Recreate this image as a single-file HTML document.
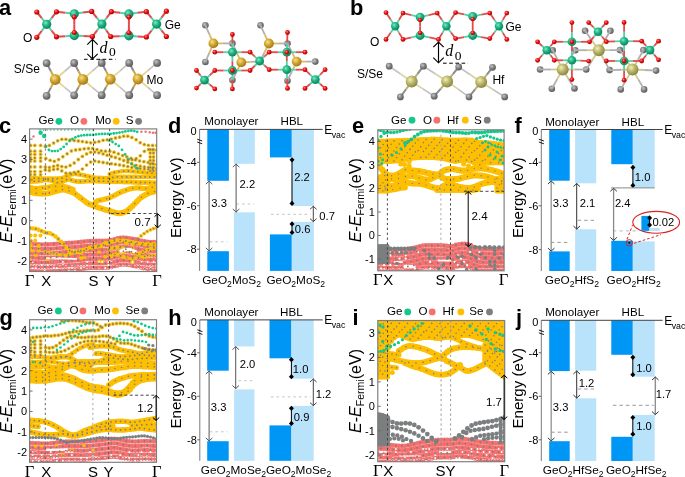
<!DOCTYPE html>
<html><head><meta charset="utf-8"><style>
html,body{margin:0;padding:0;background:#fff;width:685px;height:477px;overflow:hidden}
svg{display:block} text{-webkit-font-smoothing:antialiased} .w{will-change:transform;background:transparent}
</style></head><body>
<div class="w"><svg width="685" height="477" viewBox="0 0 685 477">
<defs>
<radialGradient id="gGe" cx="0.38" cy="0.35" r="0.7"><stop offset="0" stop-color="#7fe8c0"/><stop offset="0.45" stop-color="#1fb585"/><stop offset="1" stop-color="#0d7a58"/></radialGradient>
<radialGradient id="gO" cx="0.38" cy="0.35" r="0.7"><stop offset="0" stop-color="#ff8a8a"/><stop offset="0.45" stop-color="#e8100f"/><stop offset="1" stop-color="#a00000"/></radialGradient>
<radialGradient id="gS" cx="0.38" cy="0.35" r="0.7"><stop offset="0" stop-color="#c8c8c8"/><stop offset="0.45" stop-color="#858585"/><stop offset="1" stop-color="#555"/></radialGradient>
<radialGradient id="gMo" cx="0.38" cy="0.35" r="0.7"><stop offset="0" stop-color="#f8e08a"/><stop offset="0.45" stop-color="#d4a832"/><stop offset="1" stop-color="#9a7418"/></radialGradient>
<radialGradient id="gHf" cx="0.38" cy="0.35" r="0.7"><stop offset="0" stop-color="#f2f0b8"/><stop offset="0.45" stop-color="#bdb86c"/><stop offset="1" stop-color="#858040"/></radialGradient>
</defs>
<text x="-1.00" y="15.20" font-size="21.8" text-anchor="start" font-weight="bold" font-style="normal" fill="#000" font-family="'Liberation Sans', sans-serif" >a</text>
<text x="350.00" y="15.20" font-size="21.8" text-anchor="start" font-weight="bold" font-style="normal" fill="#000" font-family="'Liberation Sans', sans-serif" >b</text>
<text x="-1.00" y="133.30" font-size="21.8" text-anchor="start" font-weight="bold" font-style="normal" fill="#000" font-family="'Liberation Sans', sans-serif" >c</text>
<text x="168.10" y="133.20" font-size="21.8" text-anchor="start" font-weight="bold" font-style="normal" fill="#000" font-family="'Liberation Sans', sans-serif" >d</text>
<text x="352.00" y="133.40" font-size="21.8" text-anchor="start" font-weight="bold" font-style="normal" fill="#000" font-family="'Liberation Sans', sans-serif" >e</text>
<text x="514.60" y="133.00" font-size="21.8" text-anchor="start" font-weight="bold" font-style="normal" fill="#000" font-family="'Liberation Sans', sans-serif" >f</text>
<text x="-0.50" y="324.50" font-size="21.8" text-anchor="start" font-weight="bold" font-style="normal" fill="#000" font-family="'Liberation Sans', sans-serif" >g</text>
<text x="168.30" y="325.10" font-size="21.8" text-anchor="start" font-weight="bold" font-style="normal" fill="#000" font-family="'Liberation Sans', sans-serif" >h</text>
<text x="352.40" y="324.90" font-size="21.8" text-anchor="start" font-weight="bold" font-style="normal" fill="#000" font-family="'Liberation Sans', sans-serif" >i</text>
<text x="515.90" y="324.90" font-size="21.8" text-anchor="start" font-weight="bold" font-style="normal" fill="#000" font-family="'Liberation Sans', sans-serif" >j</text>
<line x1="46.70" y1="24.30" x2="41.75" y2="18.15" stroke="#52d3a6" stroke-width="2.0"/>
<line x1="41.75" y1="18.15" x2="36.80" y2="12.00" stroke="#e44a4a" stroke-width="2.0"/>
<line x1="46.70" y1="24.30" x2="51.60" y2="18.05" stroke="#52d3a6" stroke-width="2.0"/>
<line x1="51.60" y1="18.05" x2="56.50" y2="11.80" stroke="#e44a4a" stroke-width="2.0"/>
<line x1="46.70" y1="24.30" x2="41.75" y2="30.80" stroke="#52d3a6" stroke-width="2.0"/>
<line x1="41.75" y1="30.80" x2="36.80" y2="37.30" stroke="#e44a4a" stroke-width="2.0"/>
<line x1="46.70" y1="24.30" x2="51.60" y2="30.55" stroke="#52d3a6" stroke-width="2.0"/>
<line x1="51.60" y1="30.55" x2="56.50" y2="36.80" stroke="#e44a4a" stroke-width="2.0"/>
<line x1="101.90" y1="24.10" x2="96.80" y2="17.75" stroke="#52d3a6" stroke-width="2.0"/>
<line x1="96.80" y1="17.75" x2="91.70" y2="11.40" stroke="#e44a4a" stroke-width="2.0"/>
<line x1="101.90" y1="24.10" x2="106.65" y2="17.90" stroke="#52d3a6" stroke-width="2.0"/>
<line x1="106.65" y1="17.90" x2="111.40" y2="11.70" stroke="#e44a4a" stroke-width="2.0"/>
<line x1="101.90" y1="24.10" x2="97.15" y2="30.30" stroke="#52d3a6" stroke-width="2.0"/>
<line x1="97.15" y1="30.30" x2="92.40" y2="36.50" stroke="#e44a4a" stroke-width="2.0"/>
<line x1="101.90" y1="24.10" x2="106.30" y2="30.30" stroke="#52d3a6" stroke-width="2.0"/>
<line x1="106.30" y1="30.30" x2="110.70" y2="36.50" stroke="#e44a4a" stroke-width="2.0"/>
<line x1="156.60" y1="24.10" x2="151.50" y2="17.90" stroke="#52d3a6" stroke-width="2.0"/>
<line x1="151.50" y1="17.90" x2="146.40" y2="11.70" stroke="#e44a4a" stroke-width="2.0"/>
<line x1="156.60" y1="24.10" x2="161.50" y2="17.65" stroke="#52d3a6" stroke-width="2.0"/>
<line x1="161.50" y1="17.65" x2="166.40" y2="11.20" stroke="#e44a4a" stroke-width="2.0"/>
<line x1="156.60" y1="24.10" x2="151.50" y2="30.55" stroke="#52d3a6" stroke-width="2.0"/>
<line x1="151.50" y1="30.55" x2="146.40" y2="37.00" stroke="#e44a4a" stroke-width="2.0"/>
<line x1="156.60" y1="24.10" x2="161.50" y2="30.30" stroke="#52d3a6" stroke-width="2.0"/>
<line x1="161.50" y1="30.30" x2="166.40" y2="36.50" stroke="#e44a4a" stroke-width="2.0"/>
<line x1="56.50" y1="11.80" x2="65.40" y2="12.80" stroke="#e44a4a" stroke-width="2.0"/>
<line x1="65.40" y1="12.80" x2="74.30" y2="13.80" stroke="#52d3a6" stroke-width="2.0"/>
<line x1="74.30" y1="13.80" x2="83.00" y2="12.60" stroke="#52d3a6" stroke-width="2.0"/>
<line x1="83.00" y1="12.60" x2="91.70" y2="11.40" stroke="#e44a4a" stroke-width="2.0"/>
<line x1="56.50" y1="36.80" x2="65.40" y2="36.20" stroke="#e44a4a" stroke-width="2.0"/>
<line x1="65.40" y1="36.20" x2="74.30" y2="35.60" stroke="#52d3a6" stroke-width="2.0"/>
<line x1="74.30" y1="35.60" x2="83.35" y2="36.05" stroke="#52d3a6" stroke-width="2.0"/>
<line x1="83.35" y1="36.05" x2="92.40" y2="36.50" stroke="#e44a4a" stroke-width="2.0"/>
<line x1="74.30" y1="17.00" x2="74.30" y2="24.80" stroke="#e44a4a" stroke-width="2.0"/>
<line x1="74.30" y1="24.80" x2="74.30" y2="32.60" stroke="#e44a4a" stroke-width="2.0"/>
<line x1="111.40" y1="11.70" x2="120.15" y2="12.80" stroke="#e44a4a" stroke-width="2.0"/>
<line x1="120.15" y1="12.80" x2="128.90" y2="13.90" stroke="#52d3a6" stroke-width="2.0"/>
<line x1="128.90" y1="13.90" x2="137.65" y2="12.80" stroke="#52d3a6" stroke-width="2.0"/>
<line x1="137.65" y1="12.80" x2="146.40" y2="11.70" stroke="#e44a4a" stroke-width="2.0"/>
<line x1="110.70" y1="36.50" x2="119.80" y2="36.15" stroke="#e44a4a" stroke-width="2.0"/>
<line x1="119.80" y1="36.15" x2="128.90" y2="35.80" stroke="#52d3a6" stroke-width="2.0"/>
<line x1="128.90" y1="35.80" x2="137.65" y2="36.40" stroke="#52d3a6" stroke-width="2.0"/>
<line x1="137.65" y1="36.40" x2="146.40" y2="37.00" stroke="#e44a4a" stroke-width="2.0"/>
<line x1="128.90" y1="17.10" x2="128.90" y2="24.95" stroke="#e44a4a" stroke-width="2.0"/>
<line x1="128.90" y1="24.95" x2="128.90" y2="32.80" stroke="#e44a4a" stroke-width="2.0"/>
<circle cx="74.30" cy="13.80" r="4.60" fill="url(#gGe)" />
<circle cx="74.30" cy="35.60" r="4.60" fill="url(#gGe)" />
<circle cx="74.30" cy="17.00" r="2.50" fill="url(#gO)" />
<circle cx="74.30" cy="32.60" r="2.50" fill="url(#gO)" />
<circle cx="128.90" cy="13.90" r="4.60" fill="url(#gGe)" />
<circle cx="128.90" cy="35.80" r="4.60" fill="url(#gGe)" />
<circle cx="128.90" cy="17.10" r="2.50" fill="url(#gO)" />
<circle cx="128.90" cy="32.80" r="2.50" fill="url(#gO)" />
<circle cx="46.70" cy="24.30" r="4.60" fill="url(#gGe)" />
<circle cx="101.90" cy="24.10" r="4.60" fill="url(#gGe)" />
<circle cx="156.60" cy="24.10" r="4.60" fill="url(#gGe)" />
<circle cx="36.80" cy="12.00" r="2.60" fill="url(#gO)" />
<circle cx="56.50" cy="11.80" r="2.60" fill="url(#gO)" />
<circle cx="91.70" cy="11.40" r="2.60" fill="url(#gO)" />
<circle cx="111.40" cy="11.70" r="2.60" fill="url(#gO)" />
<circle cx="146.40" cy="11.70" r="2.60" fill="url(#gO)" />
<circle cx="166.40" cy="11.20" r="2.60" fill="url(#gO)" />
<circle cx="36.80" cy="37.30" r="2.60" fill="url(#gO)" />
<circle cx="56.50" cy="36.80" r="2.60" fill="url(#gO)" />
<circle cx="92.40" cy="36.50" r="2.60" fill="url(#gO)" />
<circle cx="110.70" cy="36.50" r="2.60" fill="url(#gO)" />
<circle cx="146.40" cy="37.00" r="2.60" fill="url(#gO)" />
<circle cx="166.40" cy="36.50" r="2.60" fill="url(#gO)" />
<text x="23.00" y="41.60" font-size="12" text-anchor="start" font-weight="normal" font-style="normal" fill="#000" font-family="'Liberation Sans', sans-serif" >O</text>
<text x="164.70" y="29.00" font-size="12" text-anchor="start" font-weight="normal" font-style="normal" fill="#000" font-family="'Liberation Sans', sans-serif" >Ge</text>
<line x1="55.20" y1="79.50" x2="50.90" y2="71.30" stroke="#d4a838" stroke-width="2.0"/>
<line x1="50.90" y1="71.30" x2="46.60" y2="63.10" stroke="#8c8c8c" stroke-width="2.0"/>
<line x1="55.20" y1="79.50" x2="50.90" y2="87.65" stroke="#d4a838" stroke-width="2.0"/>
<line x1="50.90" y1="87.65" x2="46.60" y2="95.80" stroke="#8c8c8c" stroke-width="2.0"/>
<line x1="55.20" y1="79.50" x2="64.70" y2="71.25" stroke="#e6d48a" stroke-width="1.7"/>
<line x1="64.70" y1="71.25" x2="74.20" y2="63.00" stroke="#c4c4c4" stroke-width="1.7"/>
<line x1="55.20" y1="79.50" x2="64.70" y2="87.40" stroke="#e6d48a" stroke-width="1.7"/>
<line x1="64.70" y1="87.40" x2="74.20" y2="95.30" stroke="#c4c4c4" stroke-width="1.7"/>
<line x1="82.80" y1="79.40" x2="78.50" y2="71.20" stroke="#d4a838" stroke-width="2.0"/>
<line x1="78.50" y1="71.20" x2="74.20" y2="63.00" stroke="#8c8c8c" stroke-width="2.0"/>
<line x1="82.80" y1="79.40" x2="78.50" y2="87.35" stroke="#d4a838" stroke-width="2.0"/>
<line x1="78.50" y1="87.35" x2="74.20" y2="95.30" stroke="#8c8c8c" stroke-width="2.0"/>
<line x1="82.80" y1="79.40" x2="92.25" y2="71.15" stroke="#e6d48a" stroke-width="1.7"/>
<line x1="92.25" y1="71.15" x2="101.70" y2="62.90" stroke="#c4c4c4" stroke-width="1.7"/>
<line x1="82.80" y1="79.40" x2="92.25" y2="87.30" stroke="#e6d48a" stroke-width="1.7"/>
<line x1="92.25" y1="87.30" x2="101.70" y2="95.20" stroke="#c4c4c4" stroke-width="1.7"/>
<line x1="110.30" y1="79.20" x2="106.00" y2="71.05" stroke="#d4a838" stroke-width="2.0"/>
<line x1="106.00" y1="71.05" x2="101.70" y2="62.90" stroke="#8c8c8c" stroke-width="2.0"/>
<line x1="110.30" y1="79.20" x2="106.00" y2="87.20" stroke="#d4a838" stroke-width="2.0"/>
<line x1="106.00" y1="87.20" x2="101.70" y2="95.20" stroke="#8c8c8c" stroke-width="2.0"/>
<line x1="110.30" y1="79.20" x2="119.75" y2="71.05" stroke="#e6d48a" stroke-width="1.7"/>
<line x1="119.75" y1="71.05" x2="129.20" y2="62.90" stroke="#c4c4c4" stroke-width="1.7"/>
<line x1="110.30" y1="79.20" x2="119.75" y2="87.20" stroke="#e6d48a" stroke-width="1.7"/>
<line x1="119.75" y1="87.20" x2="129.20" y2="95.20" stroke="#c4c4c4" stroke-width="1.7"/>
<line x1="138.00" y1="79.00" x2="133.60" y2="70.95" stroke="#d4a838" stroke-width="2.0"/>
<line x1="133.60" y1="70.95" x2="129.20" y2="62.90" stroke="#8c8c8c" stroke-width="2.0"/>
<line x1="138.00" y1="79.00" x2="133.60" y2="87.10" stroke="#d4a838" stroke-width="2.0"/>
<line x1="133.60" y1="87.10" x2="129.20" y2="95.20" stroke="#8c8c8c" stroke-width="2.0"/>
<line x1="138.00" y1="79.00" x2="147.55" y2="70.95" stroke="#e6d48a" stroke-width="1.7"/>
<line x1="147.55" y1="70.95" x2="157.10" y2="62.90" stroke="#c4c4c4" stroke-width="1.7"/>
<line x1="138.00" y1="79.00" x2="147.55" y2="87.10" stroke="#e6d48a" stroke-width="1.7"/>
<line x1="147.55" y1="87.10" x2="157.10" y2="95.20" stroke="#c4c4c4" stroke-width="1.7"/>
<circle cx="46.60" cy="63.10" r="3.90" fill="url(#gS)" />
<circle cx="74.20" cy="63.00" r="3.90" fill="url(#gS)" />
<circle cx="101.70" cy="62.90" r="3.90" fill="url(#gS)" />
<circle cx="129.20" cy="62.90" r="3.90" fill="url(#gS)" />
<circle cx="157.10" cy="62.90" r="3.90" fill="url(#gS)" />
<circle cx="46.60" cy="95.80" r="3.90" fill="url(#gS)" />
<circle cx="74.20" cy="95.30" r="3.90" fill="url(#gS)" />
<circle cx="101.70" cy="95.20" r="3.90" fill="url(#gS)" />
<circle cx="129.20" cy="95.20" r="3.90" fill="url(#gS)" />
<circle cx="157.10" cy="95.20" r="3.90" fill="url(#gS)" />
<circle cx="55.20" cy="79.50" r="5.40" fill="url(#gMo)" />
<circle cx="82.80" cy="79.40" r="5.40" fill="url(#gMo)" />
<circle cx="110.30" cy="79.20" r="5.40" fill="url(#gMo)" />
<circle cx="138.00" cy="79.00" r="5.40" fill="url(#gMo)" />
<text x="13.80" y="72.80" font-size="12" text-anchor="start" font-weight="normal" font-style="normal" fill="#000" font-family="'Liberation Sans', sans-serif" >S/Se</text>
<text x="146.60" y="84.20" font-size="12" text-anchor="start" font-weight="normal" font-style="normal" fill="#000" font-family="'Liberation Sans', sans-serif" >Mo</text>
<line x1="92.50" y1="39.40" x2="92.50" y2="59.00" stroke="#000" stroke-width="1.15" />
<polyline points="87.30,44.60 92.50,39.40 97.70,44.60" fill="none" stroke="#000" stroke-width="1.15"/>
<polyline points="87.30,53.80 92.50,59.00 97.70,53.80" fill="none" stroke="#000" stroke-width="1.15"/>
<line x1="84.00" y1="59.30" x2="115.50" y2="59.30" stroke="#000" stroke-width="1.0" stroke-dasharray="3.6,2.6"/>
<text x="99.60" y="52.60" font-size="16" text-anchor="start" font-weight="normal" font-style="italic" fill="#000" font-family="'Liberation Serif', serif" >d</text>
<text x="109.10" y="56.30" font-size="13.5" text-anchor="start" font-weight="normal" font-style="normal" fill="#000" font-family="'Liberation Serif', serif" >0</text>
<circle cx="205.40" cy="25.30" r="3.30" fill="url(#gS)" />
<circle cx="205.40" cy="62.00" r="3.30" fill="url(#gS)" />
<circle cx="260.50" cy="25.30" r="3.30" fill="url(#gS)" />
<circle cx="315.30" cy="61.60" r="3.30" fill="url(#gS)" />
<circle cx="232.40" cy="43.40" r="3.30" fill="url(#gS)" />
<circle cx="232.40" cy="80.10" r="3.30" fill="url(#gS)" />
<circle cx="287.50" cy="43.50" r="3.30" fill="url(#gS)" />
<circle cx="287.50" cy="80.70" r="3.30" fill="url(#gS)" />
<circle cx="260.10" cy="61.50" r="3.30" fill="url(#gS)" />
<line x1="213.40" y1="43.40" x2="209.40" y2="34.35" stroke="#ddbb5a" stroke-width="1.8"/>
<line x1="209.40" y1="34.35" x2="205.40" y2="25.30" stroke="#b0b0b0" stroke-width="1.8"/>
<line x1="213.40" y1="43.40" x2="209.40" y2="52.70" stroke="#ddbb5a" stroke-width="1.8"/>
<line x1="209.40" y1="52.70" x2="205.40" y2="62.00" stroke="#b0b0b0" stroke-width="1.8"/>
<line x1="213.40" y1="43.40" x2="222.90" y2="43.40" stroke="#ddbb5a" stroke-width="1.8"/>
<line x1="222.90" y1="43.40" x2="232.40" y2="43.40" stroke="#b0b0b0" stroke-width="1.8"/>
<line x1="241.30" y1="62.40" x2="236.85" y2="52.90" stroke="#ddbb5a" stroke-width="1.8"/>
<line x1="236.85" y1="52.90" x2="232.40" y2="43.40" stroke="#b0b0b0" stroke-width="1.8"/>
<line x1="241.30" y1="62.40" x2="236.85" y2="71.25" stroke="#ddbb5a" stroke-width="1.8"/>
<line x1="236.85" y1="71.25" x2="232.40" y2="80.10" stroke="#b0b0b0" stroke-width="1.8"/>
<line x1="241.30" y1="62.40" x2="250.70" y2="61.95" stroke="#ddbb5a" stroke-width="1.8"/>
<line x1="250.70" y1="61.95" x2="260.10" y2="61.50" stroke="#b0b0b0" stroke-width="1.8"/>
<line x1="268.90" y1="43.50" x2="264.70" y2="34.40" stroke="#ddbb5a" stroke-width="1.8"/>
<line x1="264.70" y1="34.40" x2="260.50" y2="25.30" stroke="#b0b0b0" stroke-width="1.8"/>
<line x1="268.90" y1="43.50" x2="278.20" y2="43.50" stroke="#ddbb5a" stroke-width="1.8"/>
<line x1="278.20" y1="43.50" x2="287.50" y2="43.50" stroke="#b0b0b0" stroke-width="1.8"/>
<line x1="268.90" y1="43.50" x2="264.50" y2="52.50" stroke="#ddbb5a" stroke-width="1.8"/>
<line x1="264.50" y1="52.50" x2="260.10" y2="61.50" stroke="#b0b0b0" stroke-width="1.8"/>
<line x1="296.70" y1="61.60" x2="306.00" y2="61.60" stroke="#ddbb5a" stroke-width="1.8"/>
<line x1="306.00" y1="61.60" x2="315.30" y2="61.60" stroke="#b0b0b0" stroke-width="1.8"/>
<line x1="296.70" y1="61.60" x2="292.10" y2="52.55" stroke="#ddbb5a" stroke-width="1.8"/>
<line x1="292.10" y1="52.55" x2="287.50" y2="43.50" stroke="#b0b0b0" stroke-width="1.8"/>
<line x1="296.70" y1="61.60" x2="292.10" y2="71.15" stroke="#ddbb5a" stroke-width="1.8"/>
<line x1="292.10" y1="71.15" x2="287.50" y2="80.70" stroke="#b0b0b0" stroke-width="1.8"/>
<line x1="232.40" y1="52.20" x2="232.40" y2="43.35" stroke="#52d3a6" stroke-width="1.8"/>
<line x1="232.40" y1="43.35" x2="232.40" y2="34.50" stroke="#e44a4a" stroke-width="1.8"/>
<line x1="232.40" y1="52.20" x2="223.60" y2="52.20" stroke="#52d3a6" stroke-width="1.8"/>
<line x1="223.60" y1="52.20" x2="214.80" y2="52.20" stroke="#e44a4a" stroke-width="1.8"/>
<line x1="232.40" y1="52.20" x2="241.25" y2="52.20" stroke="#52d3a6" stroke-width="1.8"/>
<line x1="241.25" y1="52.20" x2="250.10" y2="52.20" stroke="#e44a4a" stroke-width="1.8"/>
<line x1="232.40" y1="52.20" x2="232.40" y2="61.35" stroke="#52d3a6" stroke-width="1.8"/>
<line x1="232.40" y1="61.35" x2="232.40" y2="70.50" stroke="#e44a4a" stroke-width="1.8"/>
<line x1="232.40" y1="70.50" x2="223.60" y2="70.50" stroke="#52d3a6" stroke-width="1.8"/>
<line x1="223.60" y1="70.50" x2="214.80" y2="70.50" stroke="#e44a4a" stroke-width="1.8"/>
<line x1="232.40" y1="70.50" x2="241.25" y2="70.50" stroke="#52d3a6" stroke-width="1.8"/>
<line x1="241.25" y1="70.50" x2="250.10" y2="70.50" stroke="#e44a4a" stroke-width="1.8"/>
<line x1="232.40" y1="70.50" x2="232.40" y2="79.70" stroke="#52d3a6" stroke-width="1.8"/>
<line x1="232.40" y1="79.70" x2="232.40" y2="88.90" stroke="#e44a4a" stroke-width="1.8"/>
<line x1="259.60" y1="61.00" x2="254.85" y2="56.60" stroke="#52d3a6" stroke-width="1.8"/>
<line x1="254.85" y1="56.60" x2="250.10" y2="52.20" stroke="#e44a4a" stroke-width="1.8"/>
<line x1="259.60" y1="61.00" x2="254.85" y2="65.75" stroke="#52d3a6" stroke-width="1.8"/>
<line x1="254.85" y1="65.75" x2="250.10" y2="70.50" stroke="#e44a4a" stroke-width="1.8"/>
<line x1="259.60" y1="61.00" x2="264.40" y2="56.60" stroke="#52d3a6" stroke-width="1.8"/>
<line x1="264.40" y1="56.60" x2="269.20" y2="52.20" stroke="#e44a4a" stroke-width="1.8"/>
<line x1="259.60" y1="61.00" x2="264.40" y2="65.35" stroke="#52d3a6" stroke-width="1.8"/>
<line x1="264.40" y1="65.35" x2="269.20" y2="69.70" stroke="#e44a4a" stroke-width="1.8"/>
<line x1="286.80" y1="52.20" x2="287.15" y2="42.35" stroke="#52d3a6" stroke-width="1.8"/>
<line x1="287.15" y1="42.35" x2="287.50" y2="32.50" stroke="#e44a4a" stroke-width="1.8"/>
<line x1="286.80" y1="52.20" x2="278.00" y2="52.20" stroke="#52d3a6" stroke-width="1.8"/>
<line x1="278.00" y1="52.20" x2="269.20" y2="52.20" stroke="#e44a4a" stroke-width="1.8"/>
<line x1="286.80" y1="52.20" x2="295.90" y2="52.20" stroke="#52d3a6" stroke-width="1.8"/>
<line x1="295.90" y1="52.20" x2="305.00" y2="52.20" stroke="#e44a4a" stroke-width="1.8"/>
<line x1="286.80" y1="69.70" x2="278.00" y2="69.70" stroke="#52d3a6" stroke-width="1.8"/>
<line x1="278.00" y1="69.70" x2="269.20" y2="69.70" stroke="#e44a4a" stroke-width="1.8"/>
<line x1="286.80" y1="69.70" x2="295.90" y2="69.70" stroke="#52d3a6" stroke-width="1.8"/>
<line x1="295.90" y1="69.70" x2="305.00" y2="69.70" stroke="#e44a4a" stroke-width="1.8"/>
<line x1="286.80" y1="69.70" x2="287.15" y2="79.05" stroke="#52d3a6" stroke-width="1.8"/>
<line x1="287.15" y1="79.05" x2="287.50" y2="88.40" stroke="#e44a4a" stroke-width="1.8"/>
<line x1="286.80" y1="69.70" x2="286.80" y2="60.95" stroke="#52d3a6" stroke-width="1.8"/>
<line x1="286.80" y1="60.95" x2="286.80" y2="52.20" stroke="#e44a4a" stroke-width="1.8"/>
<line x1="204.50" y1="80.10" x2="209.65" y2="75.30" stroke="#52d3a6" stroke-width="1.8"/>
<line x1="209.65" y1="75.30" x2="214.80" y2="70.50" stroke="#e44a4a" stroke-width="1.8"/>
<line x1="204.50" y1="80.10" x2="200.50" y2="75.30" stroke="#52d3a6" stroke-width="1.8"/>
<line x1="200.50" y1="75.30" x2="196.50" y2="70.50" stroke="#e44a4a" stroke-width="1.8"/>
<line x1="204.50" y1="80.10" x2="209.65" y2="84.50" stroke="#52d3a6" stroke-width="1.8"/>
<line x1="209.65" y1="84.50" x2="214.80" y2="88.90" stroke="#e44a4a" stroke-width="1.8"/>
<line x1="204.50" y1="80.10" x2="200.50" y2="84.10" stroke="#52d3a6" stroke-width="1.8"/>
<line x1="200.50" y1="84.10" x2="196.50" y2="88.10" stroke="#e44a4a" stroke-width="1.8"/>
<line x1="315.30" y1="79.60" x2="310.15" y2="74.65" stroke="#52d3a6" stroke-width="1.8"/>
<line x1="310.15" y1="74.65" x2="305.00" y2="69.70" stroke="#e44a4a" stroke-width="1.8"/>
<line x1="315.30" y1="79.60" x2="320.20" y2="74.65" stroke="#52d3a6" stroke-width="1.8"/>
<line x1="320.20" y1="74.65" x2="325.10" y2="69.70" stroke="#e44a4a" stroke-width="1.8"/>
<line x1="315.30" y1="79.60" x2="320.20" y2="84.00" stroke="#52d3a6" stroke-width="1.8"/>
<line x1="320.20" y1="84.00" x2="325.10" y2="88.40" stroke="#e44a4a" stroke-width="1.8"/>
<line x1="315.30" y1="79.60" x2="310.15" y2="84.00" stroke="#52d3a6" stroke-width="1.8"/>
<line x1="310.15" y1="84.00" x2="305.00" y2="88.40" stroke="#e44a4a" stroke-width="1.8"/>
<circle cx="213.40" cy="43.40" r="4.90" fill="url(#gMo)" />
<circle cx="241.30" cy="62.40" r="4.90" fill="url(#gMo)" />
<circle cx="268.90" cy="43.50" r="4.90" fill="url(#gMo)" />
<circle cx="296.70" cy="61.60" r="4.90" fill="url(#gMo)" />
<circle cx="232.40" cy="52.20" r="4.40" fill="url(#gGe)" />
<circle cx="232.40" cy="70.50" r="4.40" fill="url(#gGe)" />
<circle cx="259.60" cy="61.00" r="4.40" fill="url(#gGe)" />
<circle cx="286.80" cy="52.20" r="4.40" fill="url(#gGe)" />
<circle cx="286.80" cy="69.70" r="4.40" fill="url(#gGe)" />
<circle cx="204.50" cy="80.10" r="4.40" fill="url(#gGe)" />
<circle cx="315.30" cy="79.60" r="4.40" fill="url(#gGe)" />
<circle cx="232.40" cy="34.50" r="2.40" fill="url(#gO)" />
<circle cx="214.80" cy="52.20" r="2.40" fill="url(#gO)" />
<circle cx="250.10" cy="52.20" r="2.40" fill="url(#gO)" />
<circle cx="214.80" cy="70.50" r="2.40" fill="url(#gO)" />
<circle cx="250.10" cy="70.50" r="2.40" fill="url(#gO)" />
<circle cx="232.40" cy="88.90" r="2.40" fill="url(#gO)" />
<circle cx="287.50" cy="32.50" r="2.40" fill="url(#gO)" />
<circle cx="269.20" cy="52.20" r="2.40" fill="url(#gO)" />
<circle cx="305.00" cy="52.20" r="2.40" fill="url(#gO)" />
<circle cx="269.20" cy="69.70" r="2.40" fill="url(#gO)" />
<circle cx="305.00" cy="69.70" r="2.40" fill="url(#gO)" />
<circle cx="287.50" cy="88.40" r="2.40" fill="url(#gO)" />
<circle cx="196.50" cy="70.50" r="2.40" fill="url(#gO)" />
<circle cx="214.80" cy="88.90" r="2.40" fill="url(#gO)" />
<circle cx="196.50" cy="88.10" r="2.40" fill="url(#gO)" />
<circle cx="325.10" cy="69.70" r="2.40" fill="url(#gO)" />
<circle cx="325.10" cy="88.40" r="2.40" fill="url(#gO)" />
<circle cx="305.00" cy="88.40" r="2.40" fill="url(#gO)" />
<circle cx="232.40" cy="70.50" r="2.40" fill="url(#gO)" />
<circle cx="286.80" cy="52.20" r="2.40" fill="url(#gO)" />
<line x1="395.20" y1="26.30" x2="390.60" y2="19.45" stroke="#52d3a6" stroke-width="1.8"/>
<line x1="390.60" y1="19.45" x2="386.00" y2="12.60" stroke="#e44a4a" stroke-width="1.8"/>
<line x1="395.20" y1="26.30" x2="399.10" y2="19.70" stroke="#52d3a6" stroke-width="1.8"/>
<line x1="399.10" y1="19.70" x2="403.00" y2="13.10" stroke="#e44a4a" stroke-width="1.8"/>
<line x1="395.20" y1="26.30" x2="390.60" y2="32.85" stroke="#52d3a6" stroke-width="1.8"/>
<line x1="390.60" y1="32.85" x2="386.00" y2="39.40" stroke="#e44a4a" stroke-width="1.8"/>
<line x1="395.20" y1="26.30" x2="399.10" y2="32.85" stroke="#52d3a6" stroke-width="1.8"/>
<line x1="399.10" y1="32.85" x2="403.00" y2="39.40" stroke="#e44a4a" stroke-width="1.8"/>
<line x1="446.40" y1="26.30" x2="441.80" y2="19.70" stroke="#52d3a6" stroke-width="1.8"/>
<line x1="441.80" y1="19.70" x2="437.20" y2="13.10" stroke="#e44a4a" stroke-width="1.8"/>
<line x1="446.40" y1="26.30" x2="451.00" y2="19.45" stroke="#52d3a6" stroke-width="1.8"/>
<line x1="451.00" y1="19.45" x2="455.60" y2="12.60" stroke="#e44a4a" stroke-width="1.8"/>
<line x1="446.40" y1="26.30" x2="442.45" y2="32.85" stroke="#52d3a6" stroke-width="1.8"/>
<line x1="442.45" y1="32.85" x2="438.50" y2="39.40" stroke="#e44a4a" stroke-width="1.8"/>
<line x1="446.40" y1="26.30" x2="451.00" y2="32.45" stroke="#52d3a6" stroke-width="1.8"/>
<line x1="451.00" y1="32.45" x2="455.60" y2="38.60" stroke="#e44a4a" stroke-width="1.8"/>
<line x1="499.00" y1="26.30" x2="494.40" y2="19.70" stroke="#52d3a6" stroke-width="1.8"/>
<line x1="494.40" y1="19.70" x2="489.80" y2="13.10" stroke="#e44a4a" stroke-width="1.8"/>
<line x1="499.00" y1="26.30" x2="502.90" y2="19.70" stroke="#52d3a6" stroke-width="1.8"/>
<line x1="502.90" y1="19.70" x2="506.80" y2="13.10" stroke="#e44a4a" stroke-width="1.8"/>
<line x1="499.00" y1="26.30" x2="494.40" y2="32.45" stroke="#52d3a6" stroke-width="1.8"/>
<line x1="494.40" y1="32.45" x2="489.80" y2="38.60" stroke="#e44a4a" stroke-width="1.8"/>
<line x1="499.00" y1="26.30" x2="502.90" y2="32.85" stroke="#52d3a6" stroke-width="1.8"/>
<line x1="502.90" y1="32.85" x2="506.80" y2="39.40" stroke="#e44a4a" stroke-width="1.8"/>
<line x1="403.00" y1="13.10" x2="411.55" y2="15.10" stroke="#e44a4a" stroke-width="1.8"/>
<line x1="411.55" y1="15.10" x2="420.10" y2="17.10" stroke="#52d3a6" stroke-width="1.8"/>
<line x1="420.10" y1="17.10" x2="428.65" y2="15.10" stroke="#52d3a6" stroke-width="1.8"/>
<line x1="428.65" y1="15.10" x2="437.20" y2="13.10" stroke="#e44a4a" stroke-width="1.8"/>
<line x1="403.00" y1="39.40" x2="411.55" y2="37.45" stroke="#e44a4a" stroke-width="1.8"/>
<line x1="411.55" y1="37.45" x2="420.10" y2="35.50" stroke="#52d3a6" stroke-width="1.8"/>
<line x1="420.10" y1="35.50" x2="429.30" y2="37.45" stroke="#52d3a6" stroke-width="1.8"/>
<line x1="429.30" y1="37.45" x2="438.50" y2="39.40" stroke="#e44a4a" stroke-width="1.8"/>
<line x1="420.10" y1="19.90" x2="420.10" y2="26.40" stroke="#e44a4a" stroke-width="1.8"/>
<line x1="420.10" y1="26.40" x2="420.10" y2="32.90" stroke="#e44a4a" stroke-width="1.8"/>
<line x1="455.60" y1="12.60" x2="464.15" y2="14.45" stroke="#e44a4a" stroke-width="1.8"/>
<line x1="464.15" y1="14.45" x2="472.70" y2="16.30" stroke="#52d3a6" stroke-width="1.8"/>
<line x1="472.70" y1="16.30" x2="481.25" y2="14.70" stroke="#52d3a6" stroke-width="1.8"/>
<line x1="481.25" y1="14.70" x2="489.80" y2="13.10" stroke="#e44a4a" stroke-width="1.8"/>
<line x1="455.60" y1="38.60" x2="464.15" y2="37.05" stroke="#e44a4a" stroke-width="1.8"/>
<line x1="464.15" y1="37.05" x2="472.70" y2="35.50" stroke="#52d3a6" stroke-width="1.8"/>
<line x1="472.70" y1="35.50" x2="481.25" y2="37.05" stroke="#52d3a6" stroke-width="1.8"/>
<line x1="481.25" y1="37.05" x2="489.80" y2="38.60" stroke="#e44a4a" stroke-width="1.8"/>
<line x1="472.70" y1="19.10" x2="472.70" y2="26.00" stroke="#e44a4a" stroke-width="1.8"/>
<line x1="472.70" y1="26.00" x2="472.70" y2="32.90" stroke="#e44a4a" stroke-width="1.8"/>
<circle cx="420.10" cy="17.10" r="4.40" fill="url(#gGe)" />
<circle cx="420.10" cy="35.50" r="4.40" fill="url(#gGe)" />
<circle cx="420.10" cy="19.90" r="2.20" fill="url(#gO)" />
<circle cx="420.10" cy="32.90" r="2.20" fill="url(#gO)" />
<circle cx="472.70" cy="16.30" r="4.40" fill="url(#gGe)" />
<circle cx="472.70" cy="35.50" r="4.40" fill="url(#gGe)" />
<circle cx="472.70" cy="19.10" r="2.20" fill="url(#gO)" />
<circle cx="472.70" cy="32.90" r="2.20" fill="url(#gO)" />
<circle cx="395.20" cy="26.30" r="4.20" fill="url(#gGe)" />
<circle cx="446.40" cy="26.30" r="4.20" fill="url(#gGe)" />
<circle cx="499.00" cy="26.30" r="4.20" fill="url(#gGe)" />
<circle cx="386.00" cy="12.60" r="2.40" fill="url(#gO)" />
<circle cx="403.00" cy="13.10" r="2.40" fill="url(#gO)" />
<circle cx="437.20" cy="13.10" r="2.40" fill="url(#gO)" />
<circle cx="455.60" cy="12.60" r="2.40" fill="url(#gO)" />
<circle cx="489.80" cy="13.10" r="2.40" fill="url(#gO)" />
<circle cx="506.80" cy="13.10" r="2.40" fill="url(#gO)" />
<circle cx="386.00" cy="39.40" r="2.40" fill="url(#gO)" />
<circle cx="403.00" cy="39.40" r="2.40" fill="url(#gO)" />
<circle cx="438.50" cy="39.40" r="2.40" fill="url(#gO)" />
<circle cx="455.60" cy="38.60" r="2.40" fill="url(#gO)" />
<circle cx="489.80" cy="38.60" r="2.40" fill="url(#gO)" />
<circle cx="506.80" cy="39.40" r="2.40" fill="url(#gO)" />
<text x="370.00" y="46.20" font-size="12" text-anchor="start" font-weight="normal" font-style="normal" fill="#000" font-family="'Liberation Sans', sans-serif" >O</text>
<text x="505.50" y="30.50" font-size="12" text-anchor="start" font-weight="normal" font-style="normal" fill="#000" font-family="'Liberation Sans', sans-serif" >Ge</text>
<line x1="411.70" y1="81.60" x2="400.45" y2="73.90" stroke="#d6d3a0" stroke-width="1.7"/>
<line x1="400.45" y1="73.90" x2="389.20" y2="66.20" stroke="#c2c2c2" stroke-width="1.7"/>
<line x1="411.70" y1="81.60" x2="417.55" y2="73.90" stroke="#b9b46a" stroke-width="2.0"/>
<line x1="417.55" y1="73.90" x2="423.40" y2="66.20" stroke="#8c8c8c" stroke-width="2.0"/>
<line x1="411.70" y1="81.60" x2="406.05" y2="89.25" stroke="#b9b46a" stroke-width="2.0"/>
<line x1="406.05" y1="89.25" x2="400.40" y2="96.90" stroke="#8c8c8c" stroke-width="2.0"/>
<line x1="411.70" y1="81.60" x2="422.95" y2="88.90" stroke="#d6d3a0" stroke-width="1.7"/>
<line x1="422.95" y1="88.90" x2="434.20" y2="96.20" stroke="#c2c2c2" stroke-width="1.7"/>
<line x1="447.10" y1="81.40" x2="435.25" y2="73.80" stroke="#d6d3a0" stroke-width="1.7"/>
<line x1="435.25" y1="73.80" x2="423.40" y2="66.20" stroke="#c2c2c2" stroke-width="1.7"/>
<line x1="447.10" y1="81.40" x2="452.90" y2="74.20" stroke="#b9b46a" stroke-width="2.0"/>
<line x1="452.90" y1="74.20" x2="458.70" y2="67.00" stroke="#8c8c8c" stroke-width="2.0"/>
<line x1="447.10" y1="81.40" x2="440.65" y2="88.80" stroke="#b9b46a" stroke-width="2.0"/>
<line x1="440.65" y1="88.80" x2="434.20" y2="96.20" stroke="#8c8c8c" stroke-width="2.0"/>
<line x1="447.10" y1="81.40" x2="458.05" y2="89.15" stroke="#d6d3a0" stroke-width="1.7"/>
<line x1="458.05" y1="89.15" x2="469.00" y2="96.90" stroke="#c2c2c2" stroke-width="1.7"/>
<line x1="481.20" y1="82.00" x2="469.95" y2="74.50" stroke="#d6d3a0" stroke-width="1.7"/>
<line x1="469.95" y1="74.50" x2="458.70" y2="67.00" stroke="#c2c2c2" stroke-width="1.7"/>
<line x1="481.20" y1="82.00" x2="486.85" y2="74.65" stroke="#b9b46a" stroke-width="2.0"/>
<line x1="486.85" y1="74.65" x2="492.50" y2="67.30" stroke="#8c8c8c" stroke-width="2.0"/>
<line x1="481.20" y1="82.00" x2="475.10" y2="89.45" stroke="#b9b46a" stroke-width="2.0"/>
<line x1="475.10" y1="89.45" x2="469.00" y2="96.90" stroke="#8c8c8c" stroke-width="2.0"/>
<line x1="481.20" y1="82.00" x2="492.95" y2="89.45" stroke="#d6d3a0" stroke-width="1.7"/>
<line x1="492.95" y1="89.45" x2="504.70" y2="96.90" stroke="#c2c2c2" stroke-width="1.7"/>
<circle cx="389.20" cy="66.20" r="3.40" fill="url(#gS)" />
<circle cx="423.40" cy="66.20" r="3.40" fill="url(#gS)" />
<circle cx="458.70" cy="67.00" r="3.40" fill="url(#gS)" />
<circle cx="492.50" cy="67.30" r="3.40" fill="url(#gS)" />
<circle cx="400.40" cy="96.90" r="3.40" fill="url(#gS)" />
<circle cx="434.20" cy="96.20" r="3.40" fill="url(#gS)" />
<circle cx="469.00" cy="96.90" r="3.40" fill="url(#gS)" />
<circle cx="504.70" cy="96.90" r="3.40" fill="url(#gS)" />
<circle cx="411.70" cy="81.60" r="6.00" fill="url(#gHf)" />
<circle cx="447.10" cy="81.40" r="6.00" fill="url(#gHf)" />
<circle cx="481.20" cy="82.00" r="6.00" fill="url(#gHf)" />
<text x="357.00" y="77.80" font-size="12" text-anchor="start" font-weight="normal" font-style="normal" fill="#000" font-family="'Liberation Sans', sans-serif" >S/Se</text>
<text x="492.40" y="84.30" font-size="12" text-anchor="start" font-weight="normal" font-style="normal" fill="#000" font-family="'Liberation Sans', sans-serif" >Hf</text>
<line x1="438.50" y1="42.00" x2="438.50" y2="62.80" stroke="#000" stroke-width="1.15" />
<polyline points="433.30,47.20 438.50,42.00 443.70,47.20" fill="none" stroke="#000" stroke-width="1.15"/>
<polyline points="433.30,57.60 438.50,62.80 443.70,57.60" fill="none" stroke="#000" stroke-width="1.15"/>
<line x1="443.00" y1="63.20" x2="468.00" y2="63.20" stroke="#000" stroke-width="1.0" stroke-dasharray="3.6,2.6"/>
<text x="445.20" y="56.00" font-size="16" text-anchor="start" font-weight="normal" font-style="italic" fill="#000" font-family="'Liberation Serif', serif" >d</text>
<text x="454.70" y="59.70" font-size="13.5" text-anchor="start" font-weight="normal" font-style="normal" fill="#000" font-family="'Liberation Serif', serif" >0</text>
<circle cx="585.10" cy="30.80" r="3.30" fill="url(#gS)" />
<circle cx="610.40" cy="30.80" r="3.30" fill="url(#gS)" />
<circle cx="552.70" cy="50.20" r="3.30" fill="url(#gS)" />
<circle cx="575.30" cy="50.20" r="3.30" fill="url(#gS)" />
<circle cx="620.00" cy="50.10" r="3.30" fill="url(#gS)" />
<circle cx="643.40" cy="50.10" r="3.30" fill="url(#gS)" />
<circle cx="540.10" cy="69.50" r="3.30" fill="url(#gS)" />
<circle cx="586.20" cy="69.50" r="3.30" fill="url(#gS)" />
<circle cx="609.60" cy="70.10" r="3.30" fill="url(#gS)" />
<circle cx="656.10" cy="70.60" r="3.30" fill="url(#gS)" />
<circle cx="551.80" cy="88.70" r="3.30" fill="url(#gS)" />
<circle cx="574.50" cy="88.50" r="3.30" fill="url(#gS)" />
<circle cx="620.70" cy="89.40" r="3.30" fill="url(#gS)" />
<circle cx="644.10" cy="89.40" r="3.30" fill="url(#gS)" />
<line x1="598.80" y1="50.20" x2="591.95" y2="40.50" stroke="#cdc98e" stroke-width="1.8"/>
<line x1="591.95" y1="40.50" x2="585.10" y2="30.80" stroke="#b0b0b0" stroke-width="1.8"/>
<line x1="598.80" y1="50.20" x2="604.60" y2="40.50" stroke="#cdc98e" stroke-width="1.8"/>
<line x1="604.60" y1="40.50" x2="610.40" y2="30.80" stroke="#b0b0b0" stroke-width="1.8"/>
<line x1="598.80" y1="50.20" x2="587.05" y2="50.20" stroke="#cdc98e" stroke-width="1.8"/>
<line x1="587.05" y1="50.20" x2="575.30" y2="50.20" stroke="#b0b0b0" stroke-width="1.8"/>
<line x1="598.80" y1="50.20" x2="609.40" y2="50.15" stroke="#cdc98e" stroke-width="1.8"/>
<line x1="609.40" y1="50.15" x2="620.00" y2="50.10" stroke="#b0b0b0" stroke-width="1.8"/>
<line x1="598.80" y1="50.20" x2="592.50" y2="59.85" stroke="#cdc98e" stroke-width="1.8"/>
<line x1="592.50" y1="59.85" x2="586.20" y2="69.50" stroke="#b0b0b0" stroke-width="1.8"/>
<line x1="598.80" y1="50.20" x2="604.20" y2="60.15" stroke="#cdc98e" stroke-width="1.8"/>
<line x1="604.20" y1="60.15" x2="609.60" y2="70.10" stroke="#b0b0b0" stroke-width="1.8"/>
<line x1="562.70" y1="69.50" x2="557.70" y2="59.85" stroke="#cdc98e" stroke-width="1.8"/>
<line x1="557.70" y1="59.85" x2="552.70" y2="50.20" stroke="#b0b0b0" stroke-width="1.8"/>
<line x1="562.70" y1="69.50" x2="569.00" y2="59.85" stroke="#cdc98e" stroke-width="1.8"/>
<line x1="569.00" y1="59.85" x2="575.30" y2="50.20" stroke="#b0b0b0" stroke-width="1.8"/>
<line x1="562.70" y1="69.50" x2="551.40" y2="69.50" stroke="#cdc98e" stroke-width="1.8"/>
<line x1="551.40" y1="69.50" x2="540.10" y2="69.50" stroke="#b0b0b0" stroke-width="1.8"/>
<line x1="562.70" y1="69.50" x2="574.45" y2="69.50" stroke="#cdc98e" stroke-width="1.8"/>
<line x1="574.45" y1="69.50" x2="586.20" y2="69.50" stroke="#b0b0b0" stroke-width="1.8"/>
<line x1="562.70" y1="69.50" x2="557.25" y2="79.10" stroke="#cdc98e" stroke-width="1.8"/>
<line x1="557.25" y1="79.10" x2="551.80" y2="88.70" stroke="#b0b0b0" stroke-width="1.8"/>
<line x1="562.70" y1="69.50" x2="568.60" y2="79.00" stroke="#cdc98e" stroke-width="1.8"/>
<line x1="568.60" y1="79.00" x2="574.50" y2="88.50" stroke="#b0b0b0" stroke-width="1.8"/>
<line x1="632.50" y1="69.40" x2="626.25" y2="59.75" stroke="#cdc98e" stroke-width="1.8"/>
<line x1="626.25" y1="59.75" x2="620.00" y2="50.10" stroke="#b0b0b0" stroke-width="1.8"/>
<line x1="632.50" y1="69.40" x2="637.95" y2="59.75" stroke="#cdc98e" stroke-width="1.8"/>
<line x1="637.95" y1="59.75" x2="643.40" y2="50.10" stroke="#b0b0b0" stroke-width="1.8"/>
<line x1="632.50" y1="69.40" x2="621.05" y2="69.75" stroke="#cdc98e" stroke-width="1.8"/>
<line x1="621.05" y1="69.75" x2="609.60" y2="70.10" stroke="#b0b0b0" stroke-width="1.8"/>
<line x1="632.50" y1="69.40" x2="644.30" y2="70.00" stroke="#cdc98e" stroke-width="1.8"/>
<line x1="644.30" y1="70.00" x2="656.10" y2="70.60" stroke="#b0b0b0" stroke-width="1.8"/>
<line x1="632.50" y1="69.40" x2="626.60" y2="79.40" stroke="#cdc98e" stroke-width="1.8"/>
<line x1="626.60" y1="79.40" x2="620.70" y2="89.40" stroke="#b0b0b0" stroke-width="1.8"/>
<line x1="632.50" y1="69.40" x2="638.30" y2="79.40" stroke="#cdc98e" stroke-width="1.8"/>
<line x1="638.30" y1="79.40" x2="644.10" y2="89.40" stroke="#b0b0b0" stroke-width="1.8"/>
<line x1="598.00" y1="31.80" x2="593.35" y2="27.20" stroke="#52d3a6" stroke-width="1.8"/>
<line x1="593.35" y1="27.20" x2="588.70" y2="22.60" stroke="#e44a4a" stroke-width="1.8"/>
<line x1="598.00" y1="31.80" x2="602.15" y2="27.20" stroke="#52d3a6" stroke-width="1.8"/>
<line x1="602.15" y1="27.20" x2="606.30" y2="22.60" stroke="#e44a4a" stroke-width="1.8"/>
<line x1="598.00" y1="31.80" x2="593.80" y2="36.80" stroke="#52d3a6" stroke-width="1.8"/>
<line x1="593.80" y1="36.80" x2="589.60" y2="41.80" stroke="#e44a4a" stroke-width="1.8"/>
<line x1="598.00" y1="31.80" x2="602.15" y2="36.75" stroke="#52d3a6" stroke-width="1.8"/>
<line x1="602.15" y1="36.75" x2="606.30" y2="41.70" stroke="#e44a4a" stroke-width="1.8"/>
<line x1="571.90" y1="41.80" x2="571.90" y2="32.20" stroke="#52d3a6" stroke-width="1.8"/>
<line x1="571.90" y1="32.20" x2="571.90" y2="22.60" stroke="#e44a4a" stroke-width="1.8"/>
<line x1="571.90" y1="41.80" x2="563.10" y2="41.80" stroke="#52d3a6" stroke-width="1.8"/>
<line x1="563.10" y1="41.80" x2="554.30" y2="41.80" stroke="#e44a4a" stroke-width="1.8"/>
<line x1="571.90" y1="41.80" x2="580.75" y2="41.80" stroke="#52d3a6" stroke-width="1.8"/>
<line x1="580.75" y1="41.80" x2="589.60" y2="41.80" stroke="#e44a4a" stroke-width="1.8"/>
<line x1="571.90" y1="60.30" x2="563.10" y2="60.30" stroke="#52d3a6" stroke-width="1.8"/>
<line x1="563.10" y1="60.30" x2="554.30" y2="60.30" stroke="#e44a4a" stroke-width="1.8"/>
<line x1="571.90" y1="60.30" x2="580.30" y2="60.70" stroke="#52d3a6" stroke-width="1.8"/>
<line x1="580.30" y1="60.70" x2="588.70" y2="61.10" stroke="#e44a4a" stroke-width="1.8"/>
<line x1="571.90" y1="60.30" x2="571.90" y2="69.95" stroke="#52d3a6" stroke-width="1.8"/>
<line x1="571.90" y1="69.95" x2="571.90" y2="79.60" stroke="#e44a4a" stroke-width="1.8"/>
<line x1="571.90" y1="60.30" x2="571.90" y2="51.05" stroke="#52d3a6" stroke-width="1.8"/>
<line x1="571.90" y1="51.05" x2="571.90" y2="41.80" stroke="#e44a4a" stroke-width="1.8"/>
<line x1="624.10" y1="41.20" x2="624.10" y2="31.80" stroke="#52d3a6" stroke-width="1.8"/>
<line x1="624.10" y1="31.80" x2="624.10" y2="22.40" stroke="#e44a4a" stroke-width="1.8"/>
<line x1="624.10" y1="41.20" x2="615.20" y2="41.45" stroke="#52d3a6" stroke-width="1.8"/>
<line x1="615.20" y1="41.45" x2="606.30" y2="41.70" stroke="#e44a4a" stroke-width="1.8"/>
<line x1="624.10" y1="41.20" x2="632.90" y2="41.20" stroke="#52d3a6" stroke-width="1.8"/>
<line x1="632.90" y1="41.20" x2="641.70" y2="41.20" stroke="#e44a4a" stroke-width="1.8"/>
<line x1="624.10" y1="41.20" x2="624.10" y2="51.10" stroke="#52d3a6" stroke-width="1.8"/>
<line x1="624.10" y1="51.10" x2="624.10" y2="61.00" stroke="#e44a4a" stroke-width="1.8"/>
<line x1="624.10" y1="61.00" x2="615.20" y2="61.00" stroke="#52d3a6" stroke-width="1.8"/>
<line x1="615.20" y1="61.00" x2="606.30" y2="61.00" stroke="#e44a4a" stroke-width="1.8"/>
<line x1="624.10" y1="61.00" x2="632.90" y2="61.00" stroke="#52d3a6" stroke-width="1.8"/>
<line x1="632.90" y1="61.00" x2="641.70" y2="61.00" stroke="#e44a4a" stroke-width="1.8"/>
<line x1="624.10" y1="61.00" x2="624.10" y2="70.60" stroke="#52d3a6" stroke-width="1.8"/>
<line x1="624.10" y1="70.60" x2="624.10" y2="80.20" stroke="#e44a4a" stroke-width="1.8"/>
<line x1="546.80" y1="50.20" x2="542.20" y2="46.00" stroke="#52d3a6" stroke-width="1.8"/>
<line x1="542.20" y1="46.00" x2="537.60" y2="41.80" stroke="#e44a4a" stroke-width="1.8"/>
<line x1="546.80" y1="50.20" x2="550.55" y2="46.00" stroke="#52d3a6" stroke-width="1.8"/>
<line x1="550.55" y1="46.00" x2="554.30" y2="41.80" stroke="#e44a4a" stroke-width="1.8"/>
<line x1="546.80" y1="50.20" x2="542.20" y2="55.25" stroke="#52d3a6" stroke-width="1.8"/>
<line x1="542.20" y1="55.25" x2="537.60" y2="60.30" stroke="#e44a4a" stroke-width="1.8"/>
<line x1="546.80" y1="50.20" x2="550.55" y2="55.25" stroke="#52d3a6" stroke-width="1.8"/>
<line x1="550.55" y1="55.25" x2="554.30" y2="60.30" stroke="#e44a4a" stroke-width="1.8"/>
<line x1="650.10" y1="50.10" x2="645.90" y2="45.65" stroke="#52d3a6" stroke-width="1.8"/>
<line x1="645.90" y1="45.65" x2="641.70" y2="41.20" stroke="#e44a4a" stroke-width="1.8"/>
<line x1="650.10" y1="50.10" x2="654.35" y2="45.65" stroke="#52d3a6" stroke-width="1.8"/>
<line x1="654.35" y1="45.65" x2="658.60" y2="41.20" stroke="#e44a4a" stroke-width="1.8"/>
<line x1="650.10" y1="50.10" x2="645.90" y2="55.55" stroke="#52d3a6" stroke-width="1.8"/>
<line x1="645.90" y1="55.55" x2="641.70" y2="61.00" stroke="#e44a4a" stroke-width="1.8"/>
<line x1="650.10" y1="50.10" x2="654.35" y2="54.95" stroke="#52d3a6" stroke-width="1.8"/>
<line x1="654.35" y1="54.95" x2="658.60" y2="59.80" stroke="#e44a4a" stroke-width="1.8"/>
<circle cx="598.80" cy="50.20" r="6.00" fill="url(#gHf)" />
<circle cx="562.70" cy="69.50" r="6.00" fill="url(#gHf)" />
<circle cx="632.50" cy="69.40" r="6.00" fill="url(#gHf)" />
<circle cx="598.00" cy="31.80" r="4.30" fill="url(#gGe)" />
<circle cx="571.90" cy="41.80" r="4.30" fill="url(#gGe)" />
<circle cx="571.90" cy="60.30" r="4.30" fill="url(#gGe)" />
<circle cx="624.10" cy="41.20" r="4.30" fill="url(#gGe)" />
<circle cx="624.10" cy="61.00" r="4.30" fill="url(#gGe)" />
<circle cx="546.80" cy="50.20" r="4.30" fill="url(#gGe)" />
<circle cx="650.10" cy="50.10" r="4.30" fill="url(#gGe)" />
<circle cx="571.90" cy="22.60" r="2.40" fill="url(#gO)" />
<circle cx="588.70" cy="22.60" r="2.40" fill="url(#gO)" />
<circle cx="606.30" cy="22.60" r="2.40" fill="url(#gO)" />
<circle cx="624.10" cy="22.40" r="2.40" fill="url(#gO)" />
<circle cx="537.60" cy="41.80" r="2.40" fill="url(#gO)" />
<circle cx="554.30" cy="41.80" r="2.40" fill="url(#gO)" />
<circle cx="589.60" cy="41.80" r="2.40" fill="url(#gO)" />
<circle cx="606.30" cy="41.70" r="2.40" fill="url(#gO)" />
<circle cx="641.70" cy="41.20" r="2.40" fill="url(#gO)" />
<circle cx="658.60" cy="41.20" r="2.40" fill="url(#gO)" />
<circle cx="537.60" cy="60.30" r="2.40" fill="url(#gO)" />
<circle cx="554.30" cy="60.30" r="2.40" fill="url(#gO)" />
<circle cx="588.70" cy="61.10" r="2.40" fill="url(#gO)" />
<circle cx="606.30" cy="61.00" r="2.40" fill="url(#gO)" />
<circle cx="641.70" cy="61.00" r="2.40" fill="url(#gO)" />
<circle cx="658.60" cy="59.80" r="2.40" fill="url(#gO)" />
<circle cx="571.90" cy="79.60" r="2.40" fill="url(#gO)" />
<circle cx="624.10" cy="80.20" r="2.40" fill="url(#gO)" />
<circle cx="571.90" cy="41.80" r="2.40" fill="url(#gO)" />
<circle cx="624.10" cy="61.00" r="2.40" fill="url(#gO)" />
<rect x="207.30" y="129.40" width="21.60" height="51.40" fill="#0096f6"/>
<rect x="207.30" y="251.20" width="21.60" height="19.70" fill="#0096f6"/>
<rect x="233.90" y="129.40" width="20.90" height="34.40" fill="#b9e2fb"/>
<rect x="233.90" y="212.30" width="20.90" height="58.60" fill="#b9e2fb"/>
<rect x="269.90" y="129.40" width="21.90" height="28.00" fill="#0096f6"/>
<rect x="269.90" y="234.40" width="21.90" height="36.50" fill="#0096f6"/>
<rect x="291.80" y="129.40" width="22.10" height="76.60" fill="#b9e2fb"/>
<rect x="291.80" y="221.90" width="22.10" height="49.00" fill="#b9e2fb"/>
<line x1="199.60" y1="129.40" x2="199.60" y2="270.90" stroke="#7a7a7a" stroke-width="1.0" />
<line x1="199.60" y1="129.40" x2="322.70" y2="129.40" stroke="#444" stroke-width="1.0" />
<text x="196.60" y="134.80" font-size="11" text-anchor="end" font-weight="normal" font-style="normal" fill="#000" font-family="'Liberation Sans', sans-serif" >0</text>
<text x="196.60" y="166.20" font-size="11" text-anchor="end" font-weight="normal" font-style="normal" fill="#000" font-family="'Liberation Sans', sans-serif" >-4</text>
<line x1="197.00" y1="162.30" x2="199.60" y2="162.30" stroke="#555" stroke-width="0.9" />
<text x="196.60" y="209.60" font-size="11" text-anchor="end" font-weight="normal" font-style="normal" fill="#000" font-family="'Liberation Sans', sans-serif" >-6</text>
<line x1="197.00" y1="205.70" x2="199.60" y2="205.70" stroke="#555" stroke-width="0.9" />
<text x="196.60" y="253.10" font-size="11" text-anchor="end" font-weight="normal" font-style="normal" fill="#000" font-family="'Liberation Sans', sans-serif" >-8</text>
<line x1="197.00" y1="249.20" x2="199.60" y2="249.20" stroke="#555" stroke-width="0.9" />
<line x1="197.20" y1="139.20" x2="202.20" y2="141.00" stroke="#000" stroke-width="0.9" />
<line x1="197.20" y1="142.00" x2="202.20" y2="143.80" stroke="#000" stroke-width="0.9" />
<text x="324.20" y="133.70" font-size="12" text-anchor="start" font-weight="normal" font-style="normal" fill="#000" font-family="'Liberation Sans', sans-serif" >E</text>
<text x="331.70" y="137.60" font-size="8.8" text-anchor="start" font-weight="normal" font-style="normal" fill="#000" font-family="'Liberation Sans', sans-serif" >vac</text>
<text x="231.40" y="125.40" font-size="11.6" text-anchor="middle" font-weight="normal" font-style="normal" fill="#000" font-family="'Liberation Sans', sans-serif" >Monolayer</text>
<text x="291.80" y="125.40" font-size="11.6" text-anchor="middle" font-weight="normal" font-style="normal" fill="#000" font-family="'Liberation Sans', sans-serif" >HBL</text>
<line x1="209.80" y1="241.80" x2="227.50" y2="241.80" stroke="#c4c4c4" stroke-width="1.0" stroke-dasharray="2.6,3"/>
<line x1="236.50" y1="204.00" x2="254.00" y2="204.00" stroke="#c4c4c4" stroke-width="1.0" stroke-dasharray="2.6,3"/>
<line x1="270.90" y1="214.30" x2="310.50" y2="214.30" stroke="#c4c4c4" stroke-width="1.0" stroke-dasharray="2.6,3"/>
<line x1="209.10" y1="180.80" x2="209.10" y2="251.20" stroke="#555" stroke-width="1.0" />
<polyline points="205.80,184.10 209.10,181.10 212.40,184.10" fill="none" stroke="#555" stroke-width="1"/>
<polyline points="205.80,247.90 209.10,250.90 212.40,247.90" fill="none" stroke="#555" stroke-width="1"/>
<line x1="236.10" y1="163.80" x2="236.10" y2="212.30" stroke="#555" stroke-width="1.0" />
<polyline points="232.80,167.10 236.10,164.10 239.40,167.10" fill="none" stroke="#555" stroke-width="1"/>
<polyline points="232.80,209.00 236.10,212.00 239.40,209.00" fill="none" stroke="#555" stroke-width="1"/>
<line x1="313.30" y1="206.00" x2="313.30" y2="221.90" stroke="#444" stroke-width="1.0" />
<polyline points="310.00,209.30 313.30,206.30 316.60,209.30" fill="none" stroke="#444" stroke-width="1"/>
<polyline points="310.00,218.60 313.30,221.60 316.60,218.60" fill="none" stroke="#444" stroke-width="1"/>
<line x1="292.00" y1="159.80" x2="292.00" y2="203.40" stroke="#000" stroke-width="1.0" />
<path d="M289.50,159.80 L292.00,157.20 L294.50,159.80 L292.00,162.40 Z" fill="#000"/>
<path d="M289.50,203.40 L292.00,200.80 L294.50,203.40 L292.00,206.00 Z" fill="#000"/>
<line x1="292.00" y1="223.90" x2="292.00" y2="232.50" stroke="#000" stroke-width="1.0" />
<path d="M289.50,223.90 L292.00,221.30 L294.50,223.90 L292.00,226.50 Z" fill="#000"/>
<path d="M289.50,232.50 L292.00,229.90 L294.50,232.50 L292.00,235.10 Z" fill="#000"/>
<text x="211.30" y="206.80" font-size="11.2" text-anchor="start" font-weight="normal" font-style="normal" fill="#000" font-family="'Liberation Sans', sans-serif" >3.3</text>
<text x="239.60" y="187.90" font-size="11.2" text-anchor="start" font-weight="normal" font-style="normal" fill="#000" font-family="'Liberation Sans', sans-serif" >2.2</text>
<text x="294.20" y="181.20" font-size="11.2" text-anchor="start" font-weight="normal" font-style="normal" fill="#000" font-family="'Liberation Sans', sans-serif" >2.2</text>
<text x="319.30" y="220.40" font-size="11.2" text-anchor="start" font-weight="normal" font-style="normal" fill="#000" font-family="'Liberation Sans', sans-serif" >0.7</text>
<text x="294.80" y="233.20" font-size="11.2" text-anchor="start" font-weight="normal" font-style="normal" fill="#000" font-family="'Liberation Sans', sans-serif" >0.6</text>
<text x="202.20" y="283.90" font-size="11.8" font-family="'Liberation Sans', sans-serif" fill="#000"><tspan dy="0.00">GeO</tspan><tspan font-size="8.6" dy="3.20">2</tspan><tspan dy="-3.20">MoS</tspan><tspan font-size="8.6" dy="3.20">2</tspan></text>
<text x="266.40" y="283.90" font-size="11.8" font-family="'Liberation Sans', sans-serif" fill="#000"><tspan dy="0.00">GeO</tspan><tspan font-size="8.6" dy="3.20">2</tspan><tspan dy="-3.20">MoS</tspan><tspan font-size="8.6" dy="3.20">2</tspan></text>
<text transform="translate(181.00,197.70) rotate(-90)" x="0" y="0" font-size="15.1" text-anchor="middle" font-family="'Liberation Sans', sans-serif" >Energy (eV)</text>
<rect x="549.20" y="129.50" width="20.50" height="51.20" fill="#0096f6"/>
<rect x="549.20" y="251.40" width="20.50" height="19.60" fill="#0096f6"/>
<rect x="575.10" y="129.50" width="21.10" height="53.80" fill="#b9e2fb"/>
<rect x="575.10" y="229.30" width="21.10" height="41.70" fill="#b9e2fb"/>
<rect x="611.30" y="129.50" width="21.50" height="34.70" fill="#0096f6"/>
<rect x="611.30" y="240.80" width="21.50" height="30.20" fill="#0096f6"/>
<rect x="632.80" y="129.50" width="21.90" height="58.30" fill="#b9e2fb"/>
<rect x="632.80" y="241.40" width="21.90" height="29.60" fill="#b9e2fb"/>
<line x1="541.30" y1="129.50" x2="541.30" y2="271.00" stroke="#7a7a7a" stroke-width="1.0" />
<line x1="541.30" y1="129.50" x2="662.70" y2="129.50" stroke="#444" stroke-width="1.0" />
<text x="538.30" y="135.10" font-size="11" text-anchor="end" font-weight="normal" font-style="normal" fill="#000" font-family="'Liberation Sans', sans-serif" >0</text>
<text x="538.30" y="166.20" font-size="11" text-anchor="end" font-weight="normal" font-style="normal" fill="#000" font-family="'Liberation Sans', sans-serif" >-4</text>
<line x1="538.70" y1="162.30" x2="541.30" y2="162.30" stroke="#555" stroke-width="0.9" />
<text x="538.30" y="209.70" font-size="11" text-anchor="end" font-weight="normal" font-style="normal" fill="#000" font-family="'Liberation Sans', sans-serif" >-6</text>
<line x1="538.70" y1="205.80" x2="541.30" y2="205.80" stroke="#555" stroke-width="0.9" />
<text x="538.30" y="253.50" font-size="11" text-anchor="end" font-weight="normal" font-style="normal" fill="#000" font-family="'Liberation Sans', sans-serif" >-8</text>
<line x1="538.70" y1="249.60" x2="541.30" y2="249.60" stroke="#555" stroke-width="0.9" />
<line x1="538.90" y1="139.20" x2="543.90" y2="141.00" stroke="#000" stroke-width="0.9" />
<line x1="538.90" y1="142.00" x2="543.90" y2="143.80" stroke="#000" stroke-width="0.9" />
<text x="664.20" y="133.80" font-size="12" text-anchor="start" font-weight="normal" font-style="normal" fill="#000" font-family="'Liberation Sans', sans-serif" >E</text>
<text x="671.70" y="137.70" font-size="8.8" text-anchor="start" font-weight="normal" font-style="normal" fill="#000" font-family="'Liberation Sans', sans-serif" >vac</text>
<text x="572.20" y="125.50" font-size="11.6" text-anchor="middle" font-weight="normal" font-style="normal" fill="#000" font-family="'Liberation Sans', sans-serif" >Monolayer</text>
<text x="632.90" y="125.50" font-size="11.6" text-anchor="middle" font-weight="normal" font-style="normal" fill="#000" font-family="'Liberation Sans', sans-serif" >HBL</text>
<line x1="550.80" y1="242.40" x2="568.50" y2="242.40" stroke="#999" stroke-width="1.0" stroke-dasharray="3.5,3"/>
<line x1="577.70" y1="220.30" x2="594.00" y2="220.30" stroke="#999" stroke-width="1.0" stroke-dasharray="3.5,3"/>
<line x1="612.90" y1="230.90" x2="636.00" y2="230.90" stroke="#bbb" stroke-width="1.0" stroke-dasharray="3.5,3"/>
<line x1="551.20" y1="180.70" x2="551.20" y2="251.40" stroke="#999" stroke-width="1.4" />
<polyline points="547.90,184.00 551.20,181.00 554.50,184.00" fill="none" stroke="#333" stroke-width="1"/>
<polyline points="547.90,248.10 551.20,251.10 554.50,248.10" fill="none" stroke="#333" stroke-width="1"/>
<line x1="576.70" y1="183.30" x2="576.70" y2="229.30" stroke="#333" stroke-width="1.0" />
<polyline points="573.40,186.60 576.70,183.60 580.00,186.60" fill="none" stroke="#333" stroke-width="1"/>
<polyline points="573.40,226.00 576.70,229.00 580.00,226.00" fill="none" stroke="#333" stroke-width="1"/>
<line x1="613.60" y1="188.00" x2="613.60" y2="240.70" stroke="#888" stroke-width="1.3" />
<polyline points="610.30,191.30 613.60,188.30 616.90,191.30" fill="none" stroke="#333" stroke-width="1"/>
<polyline points="610.30,237.40 613.60,240.40 616.90,237.40" fill="none" stroke="#333" stroke-width="1"/>
<line x1="632.90" y1="167.40" x2="632.90" y2="185.40" stroke="#000" stroke-width="1.0" />
<path d="M630.40,167.40 L632.90,164.80 L635.40,167.40 L632.90,170.00 Z" fill="#000"/>
<path d="M630.40,185.40 L632.90,182.80 L635.40,185.40 L632.90,188.00 Z" fill="#000"/>
<text x="552.80" y="207.30" font-size="11.2" text-anchor="start" font-weight="normal" font-style="normal" fill="#000" font-family="'Liberation Sans', sans-serif" >3.3</text>
<text x="579.70" y="207.30" font-size="11.2" text-anchor="start" font-weight="normal" font-style="normal" fill="#000" font-family="'Liberation Sans', sans-serif" >2.1</text>
<text x="614.90" y="207.30" font-size="11.2" text-anchor="start" font-weight="normal" font-style="normal" fill="#000" font-family="'Liberation Sans', sans-serif" >2.4</text>
<text x="634.80" y="181.20" font-size="11.2" text-anchor="start" font-weight="normal" font-style="normal" fill="#000" font-family="'Liberation Sans', sans-serif" >1.0</text>
<text x="544.80" y="284.00" font-size="11.8" font-family="'Liberation Sans', sans-serif" fill="#000"><tspan dy="0.00">GeO</tspan><tspan font-size="8.6" dy="3.20">2</tspan><tspan dy="-3.20">HfS</tspan><tspan font-size="8.6" dy="3.20">2</tspan></text>
<text x="606.50" y="284.00" font-size="11.8" font-family="'Liberation Sans', sans-serif" fill="#000"><tspan dy="0.00">GeO</tspan><tspan font-size="8.6" dy="3.20">2</tspan><tspan dy="-3.20">HfS</tspan><tspan font-size="8.6" dy="3.20">2</tspan></text>
<text transform="translate(522.80,197.70) rotate(-90)" x="0" y="0" font-size="15.1" text-anchor="middle" font-family="'Liberation Sans', sans-serif" >Energy (eV)</text>
<line x1="611.00" y1="187.90" x2="654.70" y2="187.90" stroke="#888" stroke-width="1.0" />
<ellipse cx="656.2" cy="222.3" rx="23.4" ry="10.9" fill="#fff" stroke="#e02020" stroke-width="1.1"/>
<rect x="641.40" y="215.90" width="8.00" height="15.00" fill="#0096f6"/>
<rect x="649.40" y="228.00" width="10.30" height="2.90" fill="#b9e2fb"/>
<line x1="649.60" y1="217.90" x2="649.60" y2="224.90" stroke="#000" stroke-width="1.0" />
<path d="M647.10,217.90 L649.60,215.30 L652.10,217.90 L649.60,220.50 Z" fill="#000"/>
<path d="M647.10,224.90 L649.60,222.30 L652.10,224.90 L649.60,227.50 Z" fill="#000"/>
<text x="652.40" y="225.90" font-size="11.2" text-anchor="start" font-weight="normal" font-style="normal" fill="#000" font-family="'Liberation Sans', sans-serif" >0.02</text>
<circle cx="629.3" cy="242.8" r="3.2" fill="none" stroke="#e02020" stroke-width="1.0"/>
<circle cx="629.30" cy="242.80" r="1.00" fill="#000" />
<line x1="627.00" y1="239.30" x2="632.60" y2="225.20" stroke="#e02020" stroke-width="1.0" stroke-dasharray="2.6,2"/>
<line x1="634.00" y1="243.30" x2="661.00" y2="234.60" stroke="#e02020" stroke-width="1.0" stroke-dasharray="2.6,2"/>
<rect x="207.20" y="319.90" width="21.50" height="50.80" fill="#0096f6"/>
<rect x="207.20" y="441.20" width="21.50" height="19.60" fill="#0096f6"/>
<rect x="234.10" y="319.90" width="20.30" height="26.50" fill="#b9e2fb"/>
<rect x="234.10" y="389.40" width="20.30" height="71.40" fill="#b9e2fb"/>
<rect x="269.50" y="319.90" width="21.90" height="38.40" fill="#0096f6"/>
<rect x="269.50" y="425.40" width="21.90" height="35.40" fill="#0096f6"/>
<rect x="291.40" y="319.90" width="22.30" height="58.80" fill="#b9e2fb"/>
<rect x="291.40" y="405.90" width="22.30" height="54.90" fill="#b9e2fb"/>
<line x1="199.80" y1="319.90" x2="199.80" y2="460.80" stroke="#7a7a7a" stroke-width="1.0" />
<line x1="199.80" y1="319.90" x2="322.70" y2="319.90" stroke="#444" stroke-width="1.0" />
<text x="196.80" y="325.50" font-size="11" text-anchor="end" font-weight="normal" font-style="normal" fill="#000" font-family="'Liberation Sans', sans-serif" >0</text>
<text x="196.80" y="356.70" font-size="11" text-anchor="end" font-weight="normal" font-style="normal" fill="#000" font-family="'Liberation Sans', sans-serif" >-4</text>
<line x1="197.20" y1="352.80" x2="199.80" y2="352.80" stroke="#555" stroke-width="0.9" />
<text x="196.80" y="400.20" font-size="11" text-anchor="end" font-weight="normal" font-style="normal" fill="#000" font-family="'Liberation Sans', sans-serif" >-6</text>
<line x1="197.20" y1="396.30" x2="199.80" y2="396.30" stroke="#555" stroke-width="0.9" />
<text x="196.80" y="443.70" font-size="11" text-anchor="end" font-weight="normal" font-style="normal" fill="#000" font-family="'Liberation Sans', sans-serif" >-8</text>
<line x1="197.20" y1="439.80" x2="199.80" y2="439.80" stroke="#555" stroke-width="0.9" />
<line x1="197.40" y1="329.80" x2="202.40" y2="331.60" stroke="#000" stroke-width="0.9" />
<line x1="197.40" y1="332.60" x2="202.40" y2="334.40" stroke="#000" stroke-width="0.9" />
<text x="324.20" y="324.20" font-size="12" text-anchor="start" font-weight="normal" font-style="normal" fill="#000" font-family="'Liberation Sans', sans-serif" >E</text>
<text x="331.70" y="328.10" font-size="8.8" text-anchor="start" font-weight="normal" font-style="normal" fill="#000" font-family="'Liberation Sans', sans-serif" >vac</text>
<text x="231.40" y="315.90" font-size="11.6" text-anchor="middle" font-weight="normal" font-style="normal" fill="#000" font-family="'Liberation Sans', sans-serif" >Monolayer</text>
<text x="291.40" y="315.90" font-size="11.6" text-anchor="middle" font-weight="normal" font-style="normal" fill="#000" font-family="'Liberation Sans', sans-serif" >HBL</text>
<line x1="209.80" y1="431.80" x2="227.50" y2="431.80" stroke="#c4c4c4" stroke-width="1.0" stroke-dasharray="2.6,3"/>
<line x1="238.50" y1="380.70" x2="254.00" y2="380.70" stroke="#c4c4c4" stroke-width="1.0" stroke-dasharray="2.6,3"/>
<line x1="270.90" y1="396.90" x2="310.80" y2="396.90" stroke="#c4c4c4" stroke-width="1.0" stroke-dasharray="2.6,3"/>
<line x1="209.10" y1="370.70" x2="209.10" y2="441.20" stroke="#555" stroke-width="1.0" />
<polyline points="205.80,374.00 209.10,371.00 212.40,374.00" fill="none" stroke="#555" stroke-width="1"/>
<polyline points="205.80,437.90 209.10,440.90 212.40,437.90" fill="none" stroke="#555" stroke-width="1"/>
<line x1="235.70" y1="346.40" x2="235.70" y2="388.80" stroke="#555" stroke-width="1.0" />
<polyline points="232.40,349.70 235.70,346.70 239.00,349.70" fill="none" stroke="#555" stroke-width="1"/>
<polyline points="232.40,385.50 235.70,388.50 239.00,385.50" fill="none" stroke="#555" stroke-width="1"/>
<line x1="313.30" y1="378.70" x2="313.30" y2="405.90" stroke="#444" stroke-width="1.0" />
<polyline points="310.00,382.00 313.30,379.00 316.60,382.00" fill="none" stroke="#444" stroke-width="1"/>
<polyline points="310.00,402.60 313.30,405.60 316.60,402.60" fill="none" stroke="#444" stroke-width="1"/>
<line x1="291.40" y1="359.70" x2="291.40" y2="376.70" stroke="#000" stroke-width="1.0" />
<path d="M288.90,359.70 L291.40,357.10 L293.90,359.70 L291.40,362.30 Z" fill="#000"/>
<path d="M288.90,376.70 L291.40,374.10 L293.90,376.70 L291.40,379.30 Z" fill="#000"/>
<line x1="291.40" y1="408.30" x2="291.40" y2="423.40" stroke="#000" stroke-width="1.0" />
<path d="M288.90,408.30 L291.40,405.70 L293.90,408.30 L291.40,410.90 Z" fill="#000"/>
<path d="M288.90,423.40 L291.40,420.80 L293.90,423.40 L291.40,426.00 Z" fill="#000"/>
<text x="210.80" y="410.80" font-size="11.2" text-anchor="start" font-weight="normal" font-style="normal" fill="#000" font-family="'Liberation Sans', sans-serif" >3.3</text>
<text x="239.70" y="367.60" font-size="11.2" text-anchor="start" font-weight="normal" font-style="normal" fill="#000" font-family="'Liberation Sans', sans-serif" >2.0</text>
<text x="292.80" y="372.60" font-size="11.2" text-anchor="start" font-weight="normal" font-style="normal" fill="#000" font-family="'Liberation Sans', sans-serif" >1.0</text>
<text x="315.70" y="398.30" font-size="11.2" text-anchor="start" font-weight="normal" font-style="normal" fill="#000" font-family="'Liberation Sans', sans-serif" >1.2</text>
<text x="293.80" y="420.80" font-size="11.2" text-anchor="start" font-weight="normal" font-style="normal" fill="#000" font-family="'Liberation Sans', sans-serif" >0.9</text>
<text x="200.80" y="473.80" font-size="11.8" font-family="'Liberation Sans', sans-serif" fill="#000"><tspan dy="0.00">GeO</tspan><tspan font-size="8.6" dy="3.20">2</tspan><tspan dy="-3.20">MoSe</tspan><tspan font-size="8.6" dy="3.20">2</tspan></text>
<text x="265.90" y="473.80" font-size="11.8" font-family="'Liberation Sans', sans-serif" fill="#000"><tspan dy="0.00">GeO</tspan><tspan font-size="8.6" dy="3.20">2</tspan><tspan dy="-3.20">MoSe</tspan><tspan font-size="8.6" dy="3.20">2</tspan></text>
<text transform="translate(181.00,388.30) rotate(-90)" x="0" y="0" font-size="15.1" text-anchor="middle" font-family="'Liberation Sans', sans-serif" >Energy (eV)</text>
<rect x="549.20" y="320.30" width="20.50" height="50.80" fill="#0096f6"/>
<rect x="549.20" y="441.20" width="20.50" height="19.80" fill="#0096f6"/>
<rect x="575.10" y="320.30" width="21.10" height="50.40" fill="#b9e2fb"/>
<rect x="575.10" y="398.30" width="21.10" height="62.70" fill="#b9e2fb"/>
<rect x="611.30" y="320.30" width="21.50" height="34.50" fill="#0096f6"/>
<rect x="611.30" y="436.80" width="21.50" height="24.20" fill="#0096f6"/>
<rect x="632.80" y="320.30" width="21.90" height="56.40" fill="#b9e2fb"/>
<rect x="632.80" y="414.90" width="21.90" height="46.10" fill="#b9e2fb"/>
<line x1="541.30" y1="320.30" x2="541.30" y2="461.00" stroke="#7a7a7a" stroke-width="1.0" />
<line x1="541.30" y1="320.30" x2="662.70" y2="320.30" stroke="#444" stroke-width="1.0" />
<text x="538.30" y="325.90" font-size="11" text-anchor="end" font-weight="normal" font-style="normal" fill="#000" font-family="'Liberation Sans', sans-serif" >0</text>
<text x="538.30" y="356.70" font-size="11" text-anchor="end" font-weight="normal" font-style="normal" fill="#000" font-family="'Liberation Sans', sans-serif" >-4</text>
<line x1="538.70" y1="352.80" x2="541.30" y2="352.80" stroke="#555" stroke-width="0.9" />
<text x="538.30" y="400.20" font-size="11" text-anchor="end" font-weight="normal" font-style="normal" fill="#000" font-family="'Liberation Sans', sans-serif" >-6</text>
<line x1="538.70" y1="396.30" x2="541.30" y2="396.30" stroke="#555" stroke-width="0.9" />
<text x="538.30" y="443.70" font-size="11" text-anchor="end" font-weight="normal" font-style="normal" fill="#000" font-family="'Liberation Sans', sans-serif" >-8</text>
<line x1="538.70" y1="439.80" x2="541.30" y2="439.80" stroke="#555" stroke-width="0.9" />
<line x1="538.90" y1="330.00" x2="543.90" y2="331.80" stroke="#000" stroke-width="0.9" />
<line x1="538.90" y1="332.80" x2="543.90" y2="334.60" stroke="#000" stroke-width="0.9" />
<text x="664.20" y="324.60" font-size="12" text-anchor="start" font-weight="normal" font-style="normal" fill="#000" font-family="'Liberation Sans', sans-serif" >E</text>
<text x="671.70" y="328.50" font-size="8.8" text-anchor="start" font-weight="normal" font-style="normal" fill="#000" font-family="'Liberation Sans', sans-serif" >vac</text>
<text x="572.20" y="316.30" font-size="11.6" text-anchor="middle" font-weight="normal" font-style="normal" fill="#000" font-family="'Liberation Sans', sans-serif" >Monolayer</text>
<text x="632.90" y="316.30" font-size="11.6" text-anchor="middle" font-weight="normal" font-style="normal" fill="#000" font-family="'Liberation Sans', sans-serif" >HBL</text>
<line x1="551.20" y1="432.20" x2="568.50" y2="432.20" stroke="#999" stroke-width="1.0" stroke-dasharray="3.5,3"/>
<line x1="577.70" y1="389.00" x2="594.00" y2="389.00" stroke="#999" stroke-width="1.0" stroke-dasharray="3.5,3"/>
<line x1="612.90" y1="405.30" x2="653.70" y2="405.30" stroke="#999" stroke-width="1.0" stroke-dasharray="3.5,3"/>
<line x1="551.20" y1="371.10" x2="551.20" y2="441.20" stroke="#999" stroke-width="1.4" />
<polyline points="547.90,374.40 551.20,371.40 554.50,374.40" fill="none" stroke="#333" stroke-width="1"/>
<polyline points="547.90,437.90 551.20,440.90 554.50,437.90" fill="none" stroke="#333" stroke-width="1"/>
<line x1="576.70" y1="370.70" x2="576.70" y2="398.30" stroke="#333" stroke-width="1.0" />
<polyline points="573.40,374.00 576.70,371.00 580.00,374.00" fill="none" stroke="#333" stroke-width="1"/>
<polyline points="573.40,395.00 576.70,398.00 580.00,395.00" fill="none" stroke="#333" stroke-width="1"/>
<line x1="655.30" y1="376.70" x2="655.30" y2="414.90" stroke="#888" stroke-width="1.3" />
<polyline points="652.00,380.00 655.30,377.00 658.60,380.00" fill="none" stroke="#333" stroke-width="1"/>
<polyline points="652.00,411.60 655.30,414.60 658.60,411.60" fill="none" stroke="#333" stroke-width="1"/>
<line x1="632.80" y1="357.30" x2="632.80" y2="374.70" stroke="#000" stroke-width="1.0" />
<path d="M630.30,357.30 L632.80,354.70 L635.30,357.30 L632.80,359.90 Z" fill="#000"/>
<path d="M630.30,374.70 L632.80,372.10 L635.30,374.70 L632.80,377.30 Z" fill="#000"/>
<line x1="632.80" y1="417.50" x2="632.80" y2="434.20" stroke="#000" stroke-width="1.0" />
<path d="M630.30,417.50 L632.80,414.90 L635.30,417.50 L632.80,420.10 Z" fill="#000"/>
<path d="M630.30,434.20 L632.80,431.60 L635.30,434.20 L632.80,436.80 Z" fill="#000"/>
<text x="552.80" y="410.80" font-size="11.2" text-anchor="start" font-weight="normal" font-style="normal" fill="#000" font-family="'Liberation Sans', sans-serif" >3.3</text>
<text x="578.70" y="386.50" font-size="11.2" text-anchor="start" font-weight="normal" font-style="normal" fill="#000" font-family="'Liberation Sans', sans-serif" >1.2</text>
<text x="636.20" y="371.60" font-size="11.2" text-anchor="start" font-weight="normal" font-style="normal" fill="#000" font-family="'Liberation Sans', sans-serif" >1.0</text>
<text x="655.70" y="398.30" font-size="11.2" text-anchor="start" font-weight="normal" font-style="normal" fill="#000" font-family="'Liberation Sans', sans-serif" >1.7</text>
<text x="636.20" y="430.10" font-size="11.2" text-anchor="start" font-weight="normal" font-style="normal" fill="#000" font-family="'Liberation Sans', sans-serif" >1.0</text>
<text x="542.80" y="474.00" font-size="11.8" font-family="'Liberation Sans', sans-serif" fill="#000"><tspan dy="0.00">GeO</tspan><tspan font-size="8.6" dy="3.20">2</tspan><tspan dy="-3.20">HfSe</tspan><tspan font-size="8.6" dy="3.20">2</tspan></text>
<text x="605.90" y="474.00" font-size="11.8" font-family="'Liberation Sans', sans-serif" fill="#000"><tspan dy="0.00">GeO</tspan><tspan font-size="8.6" dy="3.20">2</tspan><tspan dy="-3.20">HfSe</tspan><tspan font-size="8.6" dy="3.20">2</tspan></text>
<text transform="translate(522.80,388.30) rotate(-90)" x="0" y="0" font-size="15.1" text-anchor="middle" font-family="'Liberation Sans', sans-serif" >Energy (eV)</text>
<clipPath id="clipc"><rect x="29.6" y="128.9" width="127.1" height="142.6"/></clipPath>
<g clip-path="url(#clipc)">
<g fill="#fdbf00">
<circle cx="137.8" cy="238.7" r="1.9"/>
<circle cx="141" cy="235.9" r="1.9"/>
<circle cx="144.1" cy="233.6" r="1.9"/>
<circle cx="147.2" cy="231.5" r="1.9"/>
<circle cx="150.4" cy="229.8" r="1.9"/>
<circle cx="153.5" cy="228.6" r="1.9"/>
<circle cx="156.7" cy="228" r="1.9"/>
<circle cx="29.6" cy="187.5" r="2.7"/>
<circle cx="31.8" cy="188" r="2.7"/>
<circle cx="33.9" cy="188.4" r="2.7"/>
<circle cx="36.1" cy="188.5" r="2.7"/>
<circle cx="38.3" cy="188.4" r="2.7"/>
<circle cx="40.5" cy="188.2" r="2.7"/>
<circle cx="42.6" cy="187.9" r="2.7"/>
<circle cx="44.8" cy="187.7" r="2.7"/>
<circle cx="47" cy="187.4" r="2.7"/>
<circle cx="49.1" cy="187.1" r="2.7"/>
<circle cx="51.3" cy="186.8" r="2.7"/>
<circle cx="53.5" cy="186.5" r="2.7"/>
<circle cx="55.6" cy="186.3" r="2.7"/>
<circle cx="57.8" cy="186.2" r="2.7"/>
<circle cx="60" cy="186.2" r="2.7"/>
<circle cx="62.1" cy="186.3" r="2.7"/>
<circle cx="64.3" cy="186.6" r="2.7"/>
<circle cx="66.5" cy="187.1" r="2.7"/>
<circle cx="68.7" cy="187.7" r="2.7"/>
<circle cx="70.8" cy="188.6" r="2.7"/>
<circle cx="73" cy="189.5" r="2.7"/>
<circle cx="29.6" cy="191.9" r="2.9"/>
<circle cx="31.8" cy="192.4" r="2.9"/>
<circle cx="34" cy="192.9" r="2.9"/>
<circle cx="36.2" cy="193.3" r="2.9"/>
<circle cx="38.4" cy="193.5" r="2.9"/>
<circle cx="40.6" cy="193.6" r="2.9"/>
<circle cx="42.7" cy="193.7" r="2.9"/>
<circle cx="44.9" cy="193.6" r="2.9"/>
<circle cx="47.1" cy="193.4" r="2.9"/>
<circle cx="49.3" cy="192.9" r="2.9"/>
<circle cx="51.5" cy="192.4" r="2.9"/>
<circle cx="53.7" cy="191.7" r="2.9"/>
<circle cx="55.9" cy="191" r="2.9"/>
<circle cx="58.1" cy="190.5" r="2.9"/>
<circle cx="60.3" cy="189.9" r="2.9"/>
<circle cx="62.5" cy="189.6" r="2.9"/>
<circle cx="64.7" cy="189.8" r="2.9"/>
<circle cx="66.9" cy="190.3" r="2.9"/>
<circle cx="69" cy="191" r="2.9"/>
<circle cx="71.2" cy="191.8" r="2.9"/>
<circle cx="73.4" cy="192.7" r="2.9"/>
<circle cx="75.6" cy="194.1" r="2.9"/>
<circle cx="77.8" cy="195.8" r="2.9"/>
<circle cx="80" cy="197.5" r="2.9"/>
<circle cx="82.2" cy="199.1" r="2.9"/>
<circle cx="84.4" cy="200.8" r="2.9"/>
<circle cx="86.6" cy="202.5" r="2.9"/>
<circle cx="88.8" cy="203.8" r="2.9"/>
<circle cx="91" cy="204.6" r="2.9"/>
<circle cx="93.2" cy="205.4" r="2.9"/>
<circle cx="95.3" cy="206.3" r="2.9"/>
<circle cx="97.5" cy="207.1" r="2.9"/>
<circle cx="99.7" cy="207.9" r="2.9"/>
<circle cx="101.9" cy="208.6" r="2.9"/>
<circle cx="104.1" cy="209.3" r="2.9"/>
<circle cx="106.3" cy="209.9" r="2.9"/>
<circle cx="108.5" cy="210.6" r="2.9"/>
<circle cx="110.7" cy="211.2" r="2.9"/>
<circle cx="112.9" cy="212" r="2.9"/>
<circle cx="115.1" cy="212.6" r="2.9"/>
<circle cx="117.3" cy="213.1" r="2.9"/>
<circle cx="119.4" cy="213.3" r="2.9"/>
<circle cx="121.6" cy="213" r="2.9"/>
<circle cx="123.8" cy="212.4" r="2.9"/>
<circle cx="126" cy="211.4" r="2.9"/>
<circle cx="128.2" cy="209.8" r="2.9"/>
<circle cx="130.4" cy="207.9" r="2.9"/>
<circle cx="132.6" cy="205.9" r="2.9"/>
<circle cx="134.8" cy="203.6" r="2.9"/>
<circle cx="137" cy="201.4" r="2.9"/>
<circle cx="139.2" cy="199.1" r="2.9"/>
<circle cx="141.4" cy="197.2" r="2.9"/>
<circle cx="143.6" cy="195.8" r="2.9"/>
<circle cx="145.7" cy="194.6" r="2.9"/>
<circle cx="147.9" cy="193.4" r="2.9"/>
<circle cx="150.1" cy="192.5" r="2.9"/>
<circle cx="152.3" cy="192" r="2.9"/>
<circle cx="154.5" cy="191.6" r="2.9"/>
<circle cx="156.7" cy="191.3" r="2.9"/>
<circle cx="93.5" cy="204" r="2.6"/>
<circle cx="95.7" cy="201.9" r="2.6"/>
<circle cx="97.9" cy="200.7" r="2.6"/>
<circle cx="100" cy="200.2" r="2.6"/>
<circle cx="102.2" cy="199.8" r="2.6"/>
<circle cx="104.4" cy="199.2" r="2.6"/>
<circle cx="106.6" cy="198.7" r="2.6"/>
<circle cx="108.8" cy="198" r="2.6"/>
<circle cx="110.9" cy="197.1" r="2.6"/>
<circle cx="113.1" cy="196" r="2.6"/>
<circle cx="115.3" cy="194.9" r="2.6"/>
<circle cx="117.5" cy="193.7" r="2.6"/>
<circle cx="119.7" cy="192.7" r="2.6"/>
<circle cx="121.8" cy="191.7" r="2.6"/>
<circle cx="124" cy="190.9" r="2.6"/>
<circle cx="126.2" cy="190.1" r="2.6"/>
<circle cx="128.4" cy="189.3" r="2.6"/>
<circle cx="130.5" cy="188.7" r="2.6"/>
<circle cx="132.7" cy="188.3" r="2.6"/>
<circle cx="134.9" cy="188" r="2.6"/>
<circle cx="137.1" cy="187.9" r="2.6"/>
<circle cx="139.3" cy="187.9" r="2.6"/>
<circle cx="141.4" cy="188.2" r="2.6"/>
<circle cx="143.6" cy="188.5" r="2.6"/>
<circle cx="145.8" cy="188.5" r="2.6"/>
<circle cx="148" cy="188" r="2.6"/>
<circle cx="150.2" cy="187.5" r="2.6"/>
<circle cx="152.3" cy="187.2" r="2.6"/>
<circle cx="154.5" cy="187.2" r="2.6"/>
<circle cx="156.7" cy="187.3" r="2.6"/>
<circle cx="29.6" cy="181.5" r="2.5"/>
<circle cx="31.9" cy="181.4" r="2.5"/>
<circle cx="34.2" cy="181.3" r="2.5"/>
<circle cx="36.5" cy="181.2" r="2.5"/>
<circle cx="38.8" cy="181.1" r="2.5"/>
<circle cx="41.2" cy="180.7" r="2.5"/>
<circle cx="43.5" cy="180.1" r="2.5"/>
<circle cx="45.8" cy="179.8" r="2.5"/>
<circle cx="48.1" cy="179.9" r="2.5"/>
<circle cx="50.4" cy="180.2" r="2.5"/>
<circle cx="52.7" cy="181" r="2.5"/>
<circle cx="55" cy="182.2" r="2.5"/>
<circle cx="57.3" cy="182.7" r="2.5"/>
<circle cx="59.6" cy="182.4" r="2.5"/>
<circle cx="62" cy="181.7" r="2.5"/>
<circle cx="64.3" cy="180.8" r="2.5"/>
<circle cx="66.6" cy="179.7" r="2.5"/>
<circle cx="68.9" cy="179.2" r="2.5"/>
<circle cx="71.2" cy="179.9" r="2.5"/>
<circle cx="73.5" cy="180.8" r="2.5"/>
<circle cx="75.8" cy="181.3" r="2.5"/>
<circle cx="78.1" cy="181.4" r="2.5"/>
<circle cx="80.4" cy="181.5" r="2.5"/>
<circle cx="82.8" cy="181.4" r="2.5"/>
<circle cx="85.1" cy="181.2" r="2.5"/>
<circle cx="87.4" cy="181.1" r="2.5"/>
<circle cx="89.7" cy="181.1" r="2.5"/>
<circle cx="92" cy="181" r="2.5"/>
<circle cx="94.3" cy="181" r="2.5"/>
<circle cx="96.6" cy="181.1" r="2.5"/>
<circle cx="98.9" cy="181.2" r="2.5"/>
<circle cx="101.2" cy="181.2" r="2.5"/>
<circle cx="103.5" cy="181.3" r="2.5"/>
<circle cx="105.9" cy="181.4" r="2.5"/>
<circle cx="108.2" cy="181.5" r="2.5"/>
<circle cx="110.5" cy="181.5" r="2.5"/>
<circle cx="112.8" cy="181.6" r="2.5"/>
<circle cx="115.1" cy="181.7" r="2.5"/>
<circle cx="117.4" cy="181.7" r="2.5"/>
<circle cx="119.7" cy="181.8" r="2.5"/>
<circle cx="122" cy="181.8" r="2.5"/>
<circle cx="124.3" cy="181.9" r="2.5"/>
<circle cx="126.7" cy="181.9" r="2.5"/>
<circle cx="129" cy="182" r="2.5"/>
<circle cx="131.3" cy="182.1" r="2.5"/>
<circle cx="133.6" cy="182.2" r="2.5"/>
<circle cx="135.9" cy="182.3" r="2.5"/>
<circle cx="138.2" cy="182.4" r="2.5"/>
<circle cx="140.5" cy="182.5" r="2.5"/>
<circle cx="142.8" cy="182.6" r="2.5"/>
<circle cx="145.1" cy="182.6" r="2.5"/>
<circle cx="147.5" cy="182.6" r="2.5"/>
<circle cx="149.8" cy="182.6" r="2.5"/>
<circle cx="152.1" cy="182.7" r="2.5"/>
<circle cx="154.4" cy="182.7" r="2.5"/>
<circle cx="156.7" cy="182.7" r="2.5"/>
<circle cx="29.6" cy="178" r="2.4"/>
<circle cx="31.9" cy="178.1" r="2.4"/>
<circle cx="34.2" cy="178.2" r="2.4"/>
<circle cx="36.5" cy="178.3" r="2.4"/>
<circle cx="38.8" cy="178.4" r="2.4"/>
<circle cx="41.2" cy="178.5" r="2.4"/>
<circle cx="43.5" cy="178.6" r="2.4"/>
<circle cx="45.8" cy="178.7" r="2.4"/>
<circle cx="48.1" cy="178.7" r="2.4"/>
<circle cx="50.4" cy="178.7" r="2.4"/>
<circle cx="52.7" cy="178.7" r="2.4"/>
<circle cx="55" cy="178.7" r="2.4"/>
<circle cx="57.3" cy="178.6" r="2.4"/>
<circle cx="59.6" cy="178.5" r="2.4"/>
<circle cx="62" cy="178.2" r="2.4"/>
<circle cx="64.3" cy="177.5" r="2.4"/>
<circle cx="66.6" cy="176.1" r="2.4"/>
<circle cx="68.9" cy="175" r="2.4"/>
<circle cx="71.2" cy="174.4" r="2.4"/>
<circle cx="73.5" cy="174" r="2.4"/>
<circle cx="75.8" cy="174" r="2.4"/>
<circle cx="78.1" cy="174.3" r="2.4"/>
<circle cx="80.4" cy="174.7" r="2.4"/>
<circle cx="82.8" cy="175.1" r="2.4"/>
<circle cx="85.1" cy="175.7" r="2.4"/>
<circle cx="87.4" cy="176.2" r="2.4"/>
<circle cx="89.7" cy="176.7" r="2.4"/>
<circle cx="92" cy="177.2" r="2.4"/>
<circle cx="94.3" cy="177.6" r="2.4"/>
<circle cx="96.6" cy="177.8" r="2.4"/>
<circle cx="98.9" cy="178" r="2.4"/>
<circle cx="101.2" cy="178" r="2.4"/>
<circle cx="103.5" cy="178.1" r="2.4"/>
<circle cx="105.9" cy="178.2" r="2.4"/>
<circle cx="108.2" cy="178.2" r="2.4"/>
<circle cx="110.5" cy="178" r="2.4"/>
<circle cx="112.8" cy="177.4" r="2.4"/>
<circle cx="115.1" cy="176.9" r="2.4"/>
<circle cx="117.4" cy="176.8" r="2.4"/>
<circle cx="119.7" cy="176.8" r="2.4"/>
<circle cx="122" cy="176.8" r="2.4"/>
<circle cx="124.3" cy="176.8" r="2.4"/>
<circle cx="126.7" cy="176.9" r="2.4"/>
<circle cx="129" cy="176.9" r="2.4"/>
<circle cx="131.3" cy="176.9" r="2.4"/>
<circle cx="133.6" cy="176.9" r="2.4"/>
<circle cx="135.9" cy="176.9" r="2.4"/>
<circle cx="138.2" cy="176.9" r="2.4"/>
<circle cx="140.5" cy="176.9" r="2.4"/>
<circle cx="142.8" cy="176.9" r="2.4"/>
<circle cx="145.1" cy="176.9" r="2.4"/>
<circle cx="147.5" cy="176.9" r="2.4"/>
<circle cx="149.8" cy="176.9" r="2.4"/>
<circle cx="152.1" cy="176.9" r="2.4"/>
<circle cx="154.4" cy="176.9" r="2.4"/>
<circle cx="156.7" cy="176.9" r="2.4"/>
<circle cx="109.6" cy="174" r="2.2"/>
<circle cx="112" cy="173.3" r="2.2"/>
<circle cx="114.3" cy="172.5" r="2.2"/>
<circle cx="116.7" cy="172.1" r="2.2"/>
<circle cx="119" cy="171.6" r="2.2"/>
<circle cx="121.4" cy="171.3" r="2.2"/>
<circle cx="123.7" cy="171.1" r="2.2"/>
<circle cx="126.1" cy="171" r="2.2"/>
<circle cx="128.4" cy="171" r="2.2"/>
<circle cx="130.8" cy="171.2" r="2.2"/>
<circle cx="133.1" cy="171.4" r="2.2"/>
<circle cx="135.5" cy="171.5" r="2.2"/>
<circle cx="137.9" cy="171.8" r="2.2"/>
<circle cx="140.2" cy="172" r="2.2"/>
<circle cx="142.6" cy="172.3" r="2.2"/>
<circle cx="144.9" cy="172.5" r="2.2"/>
<circle cx="147.3" cy="172.7" r="2.2"/>
<circle cx="149.6" cy="172.9" r="2.2"/>
<circle cx="152" cy="173.1" r="2.2"/>
<circle cx="154.3" cy="173.3" r="2.2"/>
<circle cx="156.7" cy="173.5" r="2.2"/>
<circle cx="45.3" cy="146.5" r="1.9"/>
<circle cx="49.4" cy="145.4" r="1.9"/>
<circle cx="53.6" cy="143.1" r="1.9"/>
<circle cx="57.7" cy="140.8" r="1.9"/>
<circle cx="61.8" cy="139.3" r="1.9"/>
<circle cx="65.9" cy="139.3" r="1.9"/>
<circle cx="70.1" cy="139.9" r="1.9"/>
<circle cx="74.2" cy="140.5" r="1.9"/>
<circle cx="78.3" cy="141" r="1.9"/>
<circle cx="82.4" cy="141.6" r="1.9"/>
<circle cx="86.6" cy="142.2" r="1.9"/>
<circle cx="90.7" cy="142.8" r="1.9"/>
<circle cx="94.8" cy="142.3" r="1.9"/>
<circle cx="98.9" cy="141.6" r="1.9"/>
<circle cx="103.1" cy="140.3" r="1.9"/>
<circle cx="107.2" cy="139.8" r="1.9"/>
<circle cx="111.3" cy="139.1" r="1.9"/>
<circle cx="115.4" cy="138" r="1.9"/>
<circle cx="119.6" cy="137.2" r="1.9"/>
<circle cx="123.7" cy="136.2" r="1.9"/>
<circle cx="127.8" cy="136.2" r="1.9"/>
<circle cx="131.9" cy="137.4" r="1.9"/>
<circle cx="136.1" cy="139.7" r="1.9"/>
<circle cx="140.2" cy="142.7" r="1.9"/>
<circle cx="144.3" cy="144.6" r="1.9"/>
<circle cx="148.4" cy="145.3" r="1.9"/>
<circle cx="152.6" cy="145.4" r="1.9"/>
<circle cx="156.7" cy="145.4" r="1.9"/>
<circle cx="45.8" cy="158.5" r="1.9"/>
<circle cx="50.1" cy="160.3" r="1.9"/>
<circle cx="54.3" cy="161.3" r="1.9"/>
<circle cx="58.6" cy="159.6" r="1.9"/>
<circle cx="62.9" cy="156.7" r="1.9"/>
<circle cx="67.1" cy="153.8" r="1.9"/>
<circle cx="71.4" cy="151" r="1.9"/>
<circle cx="75.7" cy="150" r="1.9"/>
<circle cx="79.9" cy="149.5" r="1.9"/>
<circle cx="84.2" cy="148.8" r="1.9"/>
<circle cx="88.5" cy="148.5" r="1.9"/>
<circle cx="92.7" cy="148.4" r="1.9"/>
<circle cx="97" cy="149.6" r="1.9"/>
<circle cx="101.2" cy="150.8" r="1.9"/>
<circle cx="105.5" cy="151.2" r="1.9"/>
<circle cx="109.8" cy="151.3" r="1.9"/>
<circle cx="114" cy="152.2" r="1.9"/>
<circle cx="118.3" cy="153.8" r="1.9"/>
<circle cx="122.6" cy="155.6" r="1.9"/>
<circle cx="126.8" cy="156.8" r="1.9"/>
<circle cx="131.1" cy="158.3" r="1.9"/>
<circle cx="135.4" cy="159.9" r="1.9"/>
<circle cx="139.6" cy="160.9" r="1.9"/>
<circle cx="143.9" cy="161.7" r="1.9"/>
<circle cx="148.2" cy="162.5" r="1.9"/>
<circle cx="152.4" cy="163.5" r="1.9"/>
<circle cx="156.7" cy="164.5" r="1.9"/>
<circle cx="128" cy="160" r="1.9"/>
<circle cx="132.1" cy="159.8" r="1.9"/>
<circle cx="136.2" cy="158.6" r="1.9"/>
<circle cx="140.3" cy="155.8" r="1.9"/>
<circle cx="144.4" cy="151.3" r="1.9"/>
<circle cx="148.5" cy="149.6" r="1.9"/>
<circle cx="152.6" cy="149.7" r="1.9"/>
<circle cx="156.7" cy="150.1" r="1.9"/>
<circle cx="45.3" cy="167" r="1.9"/>
<circle cx="49.4" cy="167.4" r="1.9"/>
<circle cx="53.6" cy="166.3" r="1.9"/>
<circle cx="57.7" cy="165.4" r="1.9"/>
<circle cx="61.8" cy="166.6" r="1.9"/>
<circle cx="65.9" cy="167.1" r="1.9"/>
<circle cx="70.1" cy="165.5" r="1.9"/>
<circle cx="74.2" cy="163" r="1.9"/>
<circle cx="78.3" cy="159.5" r="1.9"/>
<circle cx="82.4" cy="156.4" r="1.9"/>
<circle cx="86.6" cy="153.9" r="1.9"/>
<circle cx="90.7" cy="152.3" r="1.9"/>
<circle cx="94.8" cy="152.1" r="1.9"/>
<circle cx="98.9" cy="152.8" r="1.9"/>
<circle cx="103.1" cy="153.9" r="1.9"/>
<circle cx="107.2" cy="155.2" r="1.9"/>
<circle cx="111.3" cy="156.5" r="1.9"/>
<circle cx="115.4" cy="157.5" r="1.9"/>
<circle cx="119.6" cy="158.9" r="1.9"/>
<circle cx="123.7" cy="160.5" r="1.9"/>
<circle cx="127.8" cy="162.2" r="1.9"/>
<circle cx="131.9" cy="163.9" r="1.9"/>
<circle cx="136.1" cy="165.3" r="1.9"/>
<circle cx="140.2" cy="166.2" r="1.9"/>
<circle cx="144.3" cy="166.9" r="1.9"/>
<circle cx="148.4" cy="167.5" r="1.9"/>
<circle cx="152.6" cy="167.9" r="1.9"/>
<circle cx="156.7" cy="168.4" r="1.9"/>
<circle cx="45.3" cy="170" r="1.9"/>
<circle cx="49.4" cy="170.5" r="1.9"/>
<circle cx="53.6" cy="169.4" r="1.9"/>
<circle cx="57.7" cy="169" r="1.9"/>
<circle cx="61.8" cy="170.9" r="1.9"/>
<circle cx="65.9" cy="173.2" r="1.9"/>
<circle cx="70.1" cy="173.2" r="1.9"/>
<circle cx="74.2" cy="172.5" r="1.9"/>
<circle cx="78.3" cy="171.7" r="1.9"/>
<circle cx="82.4" cy="169.1" r="1.9"/>
<circle cx="86.6" cy="165.1" r="1.9"/>
<circle cx="90.7" cy="162.1" r="1.9"/>
<circle cx="94.8" cy="161.1" r="1.9"/>
<circle cx="98.9" cy="161.8" r="1.9"/>
<circle cx="103.1" cy="162.5" r="1.9"/>
<circle cx="107.2" cy="163.1" r="1.9"/>
<circle cx="111.3" cy="163.7" r="1.9"/>
<circle cx="115.4" cy="164.3" r="1.9"/>
<circle cx="119.6" cy="164.9" r="1.9"/>
<circle cx="123.7" cy="165.7" r="1.9"/>
<circle cx="127.8" cy="166.6" r="1.9"/>
<circle cx="131.9" cy="167.5" r="1.9"/>
<circle cx="136.1" cy="168.1" r="1.9"/>
<circle cx="140.2" cy="168.6" r="1.9"/>
<circle cx="144.3" cy="169" r="1.9"/>
<circle cx="148.4" cy="169.3" r="1.9"/>
<circle cx="152.6" cy="169.6" r="1.9"/>
<circle cx="156.7" cy="170" r="1.9"/>
<circle cx="30.6" cy="145.4" r="1.9"/>
<circle cx="30.6" cy="151.2" r="1.9"/>
<circle cx="30.6" cy="154.3" r="1.9"/>
<circle cx="30.6" cy="158" r="1.9"/>
<circle cx="30.6" cy="161.1" r="1.9"/>
<circle cx="30.6" cy="166.9" r="1.9"/>
<circle cx="30.6" cy="171.6" r="1.9"/>
<circle cx="30.6" cy="174.7" r="1.9"/>
<circle cx="34.8" cy="145.4" r="1.9"/>
<circle cx="34.8" cy="151.2" r="1.9"/>
<circle cx="34.8" cy="154.3" r="1.9"/>
<circle cx="34.8" cy="158" r="1.9"/>
<circle cx="34.8" cy="161.1" r="1.9"/>
<circle cx="34.8" cy="166.9" r="1.9"/>
<circle cx="34.8" cy="171.6" r="1.9"/>
<circle cx="34.8" cy="174.7" r="1.9"/>
<circle cx="40.6" cy="145.4" r="1.9"/>
<circle cx="40.6" cy="151.2" r="1.9"/>
<circle cx="40.6" cy="154.3" r="1.9"/>
<circle cx="40.6" cy="158" r="1.9"/>
<circle cx="40.6" cy="161.1" r="1.9"/>
<circle cx="40.6" cy="166.9" r="1.9"/>
<circle cx="40.6" cy="171.6" r="1.9"/>
<circle cx="40.6" cy="174.7" r="1.9"/>
<circle cx="150.2" cy="149.6" r="1.9"/>
<circle cx="150.2" cy="153" r="1.9"/>
<circle cx="150.2" cy="157" r="1.9"/>
<circle cx="150.2" cy="160.5" r="1.9"/>
<circle cx="150.2" cy="164" r="1.9"/>
<circle cx="150.2" cy="167.5" r="1.9"/>
<circle cx="150.2" cy="171" r="1.9"/>
<circle cx="153.5" cy="149.6" r="1.9"/>
<circle cx="153.5" cy="153" r="1.9"/>
<circle cx="153.5" cy="157" r="1.9"/>
<circle cx="153.5" cy="160.5" r="1.9"/>
<circle cx="153.5" cy="164" r="1.9"/>
<circle cx="153.5" cy="167.5" r="1.9"/>
<circle cx="153.5" cy="171" r="1.9"/>
</g>
<g fill="#f5706f">
<circle cx="29.6" cy="244" r="2.3"/>
<circle cx="32.6" cy="244.1" r="2.3"/>
<circle cx="35.7" cy="244.3" r="2.3"/>
<circle cx="38.7" cy="244.4" r="2.3"/>
<circle cx="41.7" cy="244.5" r="2.3"/>
<circle cx="44.7" cy="244.5" r="2.3"/>
<circle cx="47.8" cy="244.4" r="2.3"/>
<circle cx="50.8" cy="244.2" r="2.3"/>
<circle cx="53.8" cy="244" r="2.3"/>
<circle cx="56.8" cy="243.7" r="2.3"/>
<circle cx="59.9" cy="243.5" r="2.3"/>
<circle cx="62.9" cy="243.3" r="2.3"/>
<circle cx="65.9" cy="243.1" r="2.3"/>
<circle cx="68.9" cy="242.9" r="2.3"/>
<circle cx="72" cy="242.7" r="2.3"/>
<circle cx="75" cy="242.5" r="2.3"/>
<circle cx="78" cy="242.2" r="2.3"/>
<circle cx="81" cy="241.9" r="2.3"/>
<circle cx="84.1" cy="241.6" r="2.3"/>
<circle cx="87.1" cy="241.3" r="2.3"/>
<circle cx="90.1" cy="241.1" r="2.3"/>
<circle cx="93.2" cy="241" r="2.3"/>
<circle cx="96.2" cy="240.9" r="2.3"/>
<circle cx="99.2" cy="240.9" r="2.3"/>
<circle cx="102.2" cy="240.9" r="2.3"/>
<circle cx="105.3" cy="240.8" r="2.3"/>
<circle cx="108.3" cy="240.6" r="2.3"/>
<circle cx="111.3" cy="240.1" r="2.3"/>
<circle cx="114.3" cy="239.3" r="2.3"/>
<circle cx="117.4" cy="238.4" r="2.3"/>
<circle cx="120.4" cy="237.8" r="2.3"/>
<circle cx="123.4" cy="237.6" r="2.3"/>
<circle cx="126.4" cy="237.8" r="2.3"/>
<circle cx="129.5" cy="238.2" r="2.3"/>
<circle cx="132.5" cy="238.8" r="2.3"/>
<circle cx="135.5" cy="239.4" r="2.3"/>
<circle cx="138.5" cy="240.1" r="2.3"/>
<circle cx="141.6" cy="240.8" r="2.3"/>
<circle cx="144.6" cy="241.4" r="2.3"/>
<circle cx="147.6" cy="241.8" r="2.3"/>
<circle cx="150.6" cy="242" r="2.3"/>
<circle cx="153.7" cy="242.1" r="2.3"/>
<circle cx="156.7" cy="242.3" r="2.3"/>
<circle cx="29.6" cy="248.5" r="2.3"/>
<circle cx="32.6" cy="248.6" r="2.3"/>
<circle cx="35.7" cy="248.8" r="2.3"/>
<circle cx="38.7" cy="248.9" r="2.3"/>
<circle cx="41.7" cy="249" r="2.3"/>
<circle cx="44.7" cy="249" r="2.3"/>
<circle cx="47.8" cy="248.9" r="2.3"/>
<circle cx="50.8" cy="248.7" r="2.3"/>
<circle cx="53.8" cy="248.5" r="2.3"/>
<circle cx="56.8" cy="248.2" r="2.3"/>
<circle cx="59.9" cy="248" r="2.3"/>
<circle cx="62.9" cy="247.8" r="2.3"/>
<circle cx="65.9" cy="247.6" r="2.3"/>
<circle cx="68.9" cy="247.4" r="2.3"/>
<circle cx="72" cy="247.2" r="2.3"/>
<circle cx="75" cy="247" r="2.3"/>
<circle cx="78" cy="246.7" r="2.3"/>
<circle cx="81" cy="246.4" r="2.3"/>
<circle cx="84.1" cy="246.1" r="2.3"/>
<circle cx="87.1" cy="245.8" r="2.3"/>
<circle cx="90.1" cy="245.6" r="2.3"/>
<circle cx="93.2" cy="245.5" r="2.3"/>
<circle cx="96.2" cy="245.4" r="2.3"/>
<circle cx="99.2" cy="245.4" r="2.3"/>
<circle cx="102.2" cy="245.4" r="2.3"/>
<circle cx="105.3" cy="245.3" r="2.3"/>
<circle cx="108.3" cy="245.1" r="2.3"/>
<circle cx="111.3" cy="244.6" r="2.3"/>
<circle cx="114.3" cy="243.8" r="2.3"/>
<circle cx="117.4" cy="242.9" r="2.3"/>
<circle cx="120.4" cy="242.3" r="2.3"/>
<circle cx="123.4" cy="242.1" r="2.3"/>
<circle cx="126.4" cy="242.3" r="2.3"/>
<circle cx="129.5" cy="242.7" r="2.3"/>
<circle cx="132.5" cy="243.3" r="2.3"/>
<circle cx="135.5" cy="243.9" r="2.3"/>
<circle cx="138.5" cy="244.6" r="2.3"/>
<circle cx="141.6" cy="245.3" r="2.3"/>
<circle cx="144.6" cy="245.9" r="2.3"/>
<circle cx="147.6" cy="246.3" r="2.3"/>
<circle cx="150.6" cy="246.5" r="2.3"/>
<circle cx="153.7" cy="246.6" r="2.3"/>
<circle cx="156.7" cy="246.8" r="2.3"/>
<circle cx="29.6" cy="253" r="2.3"/>
<circle cx="32.6" cy="253.1" r="2.3"/>
<circle cx="35.7" cy="253.3" r="2.3"/>
<circle cx="38.7" cy="253.4" r="2.3"/>
<circle cx="41.7" cy="253.5" r="2.3"/>
<circle cx="44.7" cy="253.5" r="2.3"/>
<circle cx="47.8" cy="253.4" r="2.3"/>
<circle cx="50.8" cy="253.2" r="2.3"/>
<circle cx="53.8" cy="253" r="2.3"/>
<circle cx="56.8" cy="252.7" r="2.3"/>
<circle cx="59.9" cy="252.5" r="2.3"/>
<circle cx="62.9" cy="252.3" r="2.3"/>
<circle cx="65.9" cy="252.1" r="2.3"/>
<circle cx="68.9" cy="251.9" r="2.3"/>
<circle cx="72" cy="251.7" r="2.3"/>
<circle cx="75" cy="251.5" r="2.3"/>
<circle cx="78" cy="251.2" r="2.3"/>
<circle cx="81" cy="250.9" r="2.3"/>
<circle cx="84.1" cy="250.6" r="2.3"/>
<circle cx="87.1" cy="250.3" r="2.3"/>
<circle cx="90.1" cy="250.1" r="2.3"/>
<circle cx="93.2" cy="250" r="2.3"/>
<circle cx="96.2" cy="249.9" r="2.3"/>
<circle cx="99.2" cy="249.9" r="2.3"/>
<circle cx="102.2" cy="249.9" r="2.3"/>
<circle cx="105.3" cy="249.8" r="2.3"/>
<circle cx="108.3" cy="249.6" r="2.3"/>
<circle cx="111.3" cy="249.1" r="2.3"/>
<circle cx="114.3" cy="248.3" r="2.3"/>
<circle cx="117.4" cy="247.4" r="2.3"/>
<circle cx="120.4" cy="246.8" r="2.3"/>
<circle cx="123.4" cy="246.6" r="2.3"/>
<circle cx="126.4" cy="246.8" r="2.3"/>
<circle cx="129.5" cy="247.2" r="2.3"/>
<circle cx="132.5" cy="247.8" r="2.3"/>
<circle cx="135.5" cy="248.4" r="2.3"/>
<circle cx="138.5" cy="249.1" r="2.3"/>
<circle cx="141.6" cy="249.8" r="2.3"/>
<circle cx="144.6" cy="250.4" r="2.3"/>
<circle cx="147.6" cy="250.8" r="2.3"/>
<circle cx="150.6" cy="251" r="2.3"/>
<circle cx="153.7" cy="251.1" r="2.3"/>
<circle cx="156.7" cy="251.3" r="2.3"/>
<circle cx="29.6" cy="257.5" r="2.3"/>
<circle cx="32.6" cy="257.6" r="2.3"/>
<circle cx="35.7" cy="257.8" r="2.3"/>
<circle cx="38.7" cy="257.9" r="2.3"/>
<circle cx="41.7" cy="258" r="2.3"/>
<circle cx="44.7" cy="258" r="2.3"/>
<circle cx="47.8" cy="257.9" r="2.3"/>
<circle cx="50.8" cy="257.7" r="2.3"/>
<circle cx="53.8" cy="257.5" r="2.3"/>
<circle cx="56.8" cy="257.2" r="2.3"/>
<circle cx="59.9" cy="257" r="2.3"/>
<circle cx="62.9" cy="256.8" r="2.3"/>
<circle cx="65.9" cy="256.6" r="2.3"/>
<circle cx="68.9" cy="256.4" r="2.3"/>
<circle cx="72" cy="256.2" r="2.3"/>
<circle cx="75" cy="256" r="2.3"/>
<circle cx="78" cy="255.7" r="2.3"/>
<circle cx="81" cy="255.4" r="2.3"/>
<circle cx="84.1" cy="255.1" r="2.3"/>
<circle cx="87.1" cy="254.8" r="2.3"/>
<circle cx="90.1" cy="254.6" r="2.3"/>
<circle cx="93.2" cy="254.5" r="2.3"/>
<circle cx="96.2" cy="254.4" r="2.3"/>
<circle cx="99.2" cy="254.4" r="2.3"/>
<circle cx="102.2" cy="254.4" r="2.3"/>
<circle cx="105.3" cy="254.3" r="2.3"/>
<circle cx="108.3" cy="254.1" r="2.3"/>
<circle cx="111.3" cy="253.6" r="2.3"/>
<circle cx="114.3" cy="252.8" r="2.3"/>
<circle cx="117.4" cy="251.9" r="2.3"/>
<circle cx="120.4" cy="251.3" r="2.3"/>
<circle cx="123.4" cy="251.1" r="2.3"/>
<circle cx="126.4" cy="251.3" r="2.3"/>
<circle cx="129.5" cy="251.7" r="2.3"/>
<circle cx="132.5" cy="252.3" r="2.3"/>
<circle cx="135.5" cy="252.9" r="2.3"/>
<circle cx="138.5" cy="253.6" r="2.3"/>
<circle cx="141.6" cy="254.3" r="2.3"/>
<circle cx="144.6" cy="254.9" r="2.3"/>
<circle cx="147.6" cy="255.3" r="2.3"/>
<circle cx="150.6" cy="255.5" r="2.3"/>
<circle cx="153.7" cy="255.6" r="2.3"/>
<circle cx="156.7" cy="255.8" r="2.3"/>
<circle cx="29.6" cy="262" r="2.3"/>
<circle cx="32.6" cy="262.1" r="2.3"/>
<circle cx="35.7" cy="262.3" r="2.3"/>
<circle cx="38.7" cy="262.4" r="2.3"/>
<circle cx="41.7" cy="262.5" r="2.3"/>
<circle cx="44.7" cy="262.5" r="2.3"/>
<circle cx="47.8" cy="262.4" r="2.3"/>
<circle cx="50.8" cy="262.2" r="2.3"/>
<circle cx="53.8" cy="262" r="2.3"/>
<circle cx="56.8" cy="261.7" r="2.3"/>
<circle cx="59.9" cy="261.5" r="2.3"/>
<circle cx="62.9" cy="261.3" r="2.3"/>
<circle cx="65.9" cy="261.1" r="2.3"/>
<circle cx="68.9" cy="260.9" r="2.3"/>
<circle cx="72" cy="260.7" r="2.3"/>
<circle cx="75" cy="260.5" r="2.3"/>
<circle cx="78" cy="260.2" r="2.3"/>
<circle cx="81" cy="259.9" r="2.3"/>
<circle cx="84.1" cy="259.6" r="2.3"/>
<circle cx="87.1" cy="259.3" r="2.3"/>
<circle cx="90.1" cy="259.1" r="2.3"/>
<circle cx="93.2" cy="259" r="2.3"/>
<circle cx="96.2" cy="258.9" r="2.3"/>
<circle cx="99.2" cy="258.9" r="2.3"/>
<circle cx="102.2" cy="258.9" r="2.3"/>
<circle cx="105.3" cy="258.8" r="2.3"/>
<circle cx="108.3" cy="258.6" r="2.3"/>
<circle cx="111.3" cy="258.1" r="2.3"/>
<circle cx="114.3" cy="257.3" r="2.3"/>
<circle cx="117.4" cy="256.4" r="2.3"/>
<circle cx="120.4" cy="255.8" r="2.3"/>
<circle cx="123.4" cy="255.6" r="2.3"/>
<circle cx="126.4" cy="255.8" r="2.3"/>
<circle cx="129.5" cy="256.2" r="2.3"/>
<circle cx="132.5" cy="256.8" r="2.3"/>
<circle cx="135.5" cy="257.4" r="2.3"/>
<circle cx="138.5" cy="258.1" r="2.3"/>
<circle cx="141.6" cy="258.8" r="2.3"/>
<circle cx="144.6" cy="259.4" r="2.3"/>
<circle cx="147.6" cy="259.8" r="2.3"/>
<circle cx="150.6" cy="260" r="2.3"/>
<circle cx="153.7" cy="260.1" r="2.3"/>
<circle cx="156.7" cy="260.3" r="2.3"/>
<circle cx="29.6" cy="266.5" r="2.3"/>
<circle cx="32.6" cy="266.6" r="2.3"/>
<circle cx="35.7" cy="266.8" r="2.3"/>
<circle cx="38.7" cy="266.9" r="2.3"/>
<circle cx="41.7" cy="267" r="2.3"/>
<circle cx="44.7" cy="267" r="2.3"/>
<circle cx="47.8" cy="266.9" r="2.3"/>
<circle cx="50.8" cy="266.7" r="2.3"/>
<circle cx="53.8" cy="266.5" r="2.3"/>
<circle cx="56.8" cy="266.2" r="2.3"/>
<circle cx="59.9" cy="266" r="2.3"/>
<circle cx="62.9" cy="265.8" r="2.3"/>
<circle cx="65.9" cy="265.6" r="2.3"/>
<circle cx="68.9" cy="265.4" r="2.3"/>
<circle cx="72" cy="265.2" r="2.3"/>
<circle cx="75" cy="265" r="2.3"/>
<circle cx="78" cy="264.7" r="2.3"/>
<circle cx="81" cy="264.4" r="2.3"/>
<circle cx="84.1" cy="264.1" r="2.3"/>
<circle cx="87.1" cy="263.8" r="2.3"/>
<circle cx="90.1" cy="263.6" r="2.3"/>
<circle cx="93.2" cy="263.5" r="2.3"/>
<circle cx="96.2" cy="263.4" r="2.3"/>
<circle cx="99.2" cy="263.4" r="2.3"/>
<circle cx="102.2" cy="263.4" r="2.3"/>
<circle cx="105.3" cy="263.3" r="2.3"/>
<circle cx="108.3" cy="263.1" r="2.3"/>
<circle cx="111.3" cy="262.6" r="2.3"/>
<circle cx="114.3" cy="261.8" r="2.3"/>
<circle cx="117.4" cy="260.9" r="2.3"/>
<circle cx="120.4" cy="260.3" r="2.3"/>
<circle cx="123.4" cy="260.1" r="2.3"/>
<circle cx="126.4" cy="260.3" r="2.3"/>
<circle cx="129.5" cy="260.7" r="2.3"/>
<circle cx="132.5" cy="261.3" r="2.3"/>
<circle cx="135.5" cy="261.9" r="2.3"/>
<circle cx="138.5" cy="262.6" r="2.3"/>
<circle cx="141.6" cy="263.3" r="2.3"/>
<circle cx="144.6" cy="263.9" r="2.3"/>
<circle cx="147.6" cy="264.3" r="2.3"/>
<circle cx="150.6" cy="264.5" r="2.3"/>
<circle cx="153.7" cy="264.6" r="2.3"/>
<circle cx="156.7" cy="264.8" r="2.3"/>
<circle cx="29.6" cy="271" r="2.3"/>
<circle cx="32.6" cy="271.1" r="2.3"/>
<circle cx="35.7" cy="271.3" r="2.3"/>
<circle cx="38.7" cy="271.4" r="2.3"/>
<circle cx="41.7" cy="271.5" r="2.3"/>
<circle cx="44.7" cy="271.5" r="2.3"/>
<circle cx="47.8" cy="271.4" r="2.3"/>
<circle cx="50.8" cy="271.2" r="2.3"/>
<circle cx="53.8" cy="271" r="2.3"/>
<circle cx="56.8" cy="270.7" r="2.3"/>
<circle cx="59.9" cy="270.5" r="2.3"/>
<circle cx="62.9" cy="270.3" r="2.3"/>
<circle cx="65.9" cy="270.1" r="2.3"/>
<circle cx="68.9" cy="269.9" r="2.3"/>
<circle cx="72" cy="269.7" r="2.3"/>
<circle cx="75" cy="269.5" r="2.3"/>
<circle cx="78" cy="269.2" r="2.3"/>
<circle cx="81" cy="268.9" r="2.3"/>
<circle cx="84.1" cy="268.6" r="2.3"/>
<circle cx="87.1" cy="268.3" r="2.3"/>
<circle cx="90.1" cy="268.1" r="2.3"/>
<circle cx="93.2" cy="268" r="2.3"/>
<circle cx="96.2" cy="267.9" r="2.3"/>
<circle cx="99.2" cy="267.9" r="2.3"/>
<circle cx="102.2" cy="267.9" r="2.3"/>
<circle cx="105.3" cy="267.8" r="2.3"/>
<circle cx="108.3" cy="267.6" r="2.3"/>
<circle cx="111.3" cy="267.1" r="2.3"/>
<circle cx="114.3" cy="266.3" r="2.3"/>
<circle cx="117.4" cy="265.4" r="2.3"/>
<circle cx="120.4" cy="264.8" r="2.3"/>
<circle cx="123.4" cy="264.6" r="2.3"/>
<circle cx="126.4" cy="264.8" r="2.3"/>
<circle cx="129.5" cy="265.2" r="2.3"/>
<circle cx="132.5" cy="265.8" r="2.3"/>
<circle cx="135.5" cy="266.4" r="2.3"/>
<circle cx="138.5" cy="267.1" r="2.3"/>
<circle cx="141.6" cy="267.8" r="2.3"/>
<circle cx="144.6" cy="268.4" r="2.3"/>
<circle cx="147.6" cy="268.8" r="2.3"/>
<circle cx="150.6" cy="269" r="2.3"/>
<circle cx="153.7" cy="269.1" r="2.3"/>
<circle cx="156.7" cy="269.3" r="2.3"/>
<circle cx="141.4" cy="131.8" r="1.2"/>
<circle cx="145.6" cy="131.8" r="1.2"/>
<circle cx="149.7" cy="132.3" r="1.2"/>
<circle cx="152.9" cy="132.8" r="1.2"/>
<circle cx="155.5" cy="132.8" r="1.2"/>
<circle cx="33.5" cy="136.5" r="1.2"/>
</g>
<g fill="#fdbf00">
<circle cx="29.6" cy="246" r="2"/>
<circle cx="29.6" cy="259.5" r="2"/>
<circle cx="32.6" cy="250.5" r="2"/>
<circle cx="35.7" cy="254.9" r="2"/>
<circle cx="38.7" cy="245.9" r="2"/>
<circle cx="38.7" cy="250.4" r="2"/>
<circle cx="47.8" cy="259.3" r="2"/>
<circle cx="68.9" cy="254.2" r="2"/>
<circle cx="81" cy="253.6" r="2"/>
<circle cx="81" cy="258.1" r="2"/>
<circle cx="84.1" cy="258" r="2"/>
<circle cx="90.1" cy="248.7" r="2"/>
<circle cx="99.2" cy="252.6" r="2"/>
<circle cx="99.2" cy="261.6" r="2"/>
<circle cx="102.2" cy="261.3" r="2"/>
<circle cx="105.3" cy="243.1" r="2"/>
<circle cx="105.3" cy="256.6" r="2"/>
<circle cx="108.3" cy="243" r="2"/>
<circle cx="111.3" cy="256.5" r="2"/>
<circle cx="117.4" cy="252.2" r="2"/>
<circle cx="123.4" cy="252.4" r="2"/>
<circle cx="123.4" cy="256.9" r="2"/>
<circle cx="126.4" cy="243.5" r="2"/>
<circle cx="126.4" cy="257" r="2"/>
<circle cx="132.5" cy="243.8" r="2"/>
<circle cx="132.5" cy="248.3" r="2"/>
<circle cx="132.5" cy="261.8" r="2"/>
<circle cx="144.6" cy="257.9" r="2"/>
<circle cx="150.6" cy="249.2" r="2"/>
<circle cx="30.2" cy="228.1" r="2.2"/>
<circle cx="33" cy="228.4" r="2.2"/>
<circle cx="35.8" cy="228.8" r="2.2"/>
<circle cx="38.6" cy="229.7" r="2.2"/>
<circle cx="41.4" cy="230.9" r="2.2"/>
<circle cx="44.3" cy="232.2" r="2.2"/>
<circle cx="47.1" cy="232.9" r="2.2"/>
<circle cx="49.9" cy="233.3" r="2.2"/>
<circle cx="52.7" cy="234.6" r="2.2"/>
<circle cx="55.5" cy="236.5" r="2.2"/>
<circle cx="58.3" cy="239" r="2.2"/>
<circle cx="61.1" cy="241.7" r="2.2"/>
<circle cx="63.9" cy="244" r="2.2"/>
<circle cx="66.7" cy="247.9" r="2.2"/>
<circle cx="69.6" cy="250.5" r="2.2"/>
<circle cx="72.4" cy="251.7" r="2.2"/>
<circle cx="75.2" cy="252" r="2.2"/>
<circle cx="78" cy="251.6" r="2.2"/>
<circle cx="80.8" cy="250.7" r="2.2"/>
<circle cx="83.6" cy="249.9" r="2.2"/>
<circle cx="86.4" cy="249" r="2.2"/>
<circle cx="89.2" cy="247.9" r="2.2"/>
<circle cx="92" cy="247.3" r="2.2"/>
<circle cx="94.9" cy="246.9" r="2.2"/>
<circle cx="97.7" cy="246.5" r="2.2"/>
<circle cx="100.5" cy="245.9" r="2.2"/>
<circle cx="103.3" cy="244.8" r="2.2"/>
<circle cx="106.1" cy="243.6" r="2.2"/>
<circle cx="108.9" cy="242.5" r="2.2"/>
<circle cx="111.7" cy="241.7" r="2.2"/>
<circle cx="114.5" cy="241" r="2.2"/>
<circle cx="117.3" cy="240.5" r="2.2"/>
<circle cx="120.2" cy="240.4" r="2.2"/>
<circle cx="123" cy="240.6" r="2.2"/>
<circle cx="125.8" cy="241" r="2.2"/>
<circle cx="128.6" cy="241.5" r="2.2"/>
<circle cx="131.4" cy="242" r="2.2"/>
<circle cx="134.2" cy="242.6" r="2.2"/>
<circle cx="137" cy="243.2" r="2.2"/>
<circle cx="139.8" cy="243.6" r="2.2"/>
<circle cx="142.6" cy="243.9" r="2.2"/>
<circle cx="145.5" cy="244.2" r="2.2"/>
<circle cx="148.3" cy="244.3" r="2.2"/>
<circle cx="151.1" cy="244.4" r="2.2"/>
<circle cx="153.9" cy="244.3" r="2.2"/>
<circle cx="156.7" cy="244.3" r="2.2"/>
<circle cx="109" cy="249.1" r="2"/>
<circle cx="111.8" cy="248.4" r="2"/>
<circle cx="114.6" cy="247.7" r="2"/>
<circle cx="117.4" cy="247.2" r="2"/>
<circle cx="120.2" cy="247.4" r="2"/>
<circle cx="123" cy="248.2" r="2"/>
<circle cx="125.8" cy="249.2" r="2"/>
<circle cx="128.6" cy="250.2" r="2"/>
<circle cx="131.4" cy="251.6" r="2"/>
<circle cx="134.3" cy="252.9" r="2"/>
<circle cx="137.1" cy="253.8" r="2"/>
<circle cx="139.9" cy="253.5" r="2"/>
<circle cx="142.7" cy="252.1" r="2"/>
<circle cx="145.5" cy="250.8" r="2"/>
<circle cx="148.3" cy="249.8" r="2"/>
<circle cx="151.1" cy="248.8" r="2"/>
<circle cx="153.9" cy="247.9" r="2"/>
<circle cx="156.7" cy="247.5" r="2"/>
<circle cx="109" cy="253.9" r="1.7"/>
<circle cx="112" cy="254.4" r="1.7"/>
<circle cx="115" cy="254.8" r="1.7"/>
<circle cx="117.9" cy="255.3" r="1.7"/>
<circle cx="120.9" cy="255.9" r="1.7"/>
<circle cx="123.9" cy="256.9" r="1.7"/>
<circle cx="126.9" cy="258" r="1.7"/>
<circle cx="129.9" cy="258.7" r="1.7"/>
<circle cx="132.8" cy="258.5" r="1.7"/>
<circle cx="135.8" cy="257.9" r="1.7"/>
<circle cx="138.8" cy="257.2" r="1.7"/>
<circle cx="141.8" cy="256.8" r="1.7"/>
<circle cx="144.8" cy="256.4" r="1.7"/>
<circle cx="147.8" cy="256" r="1.7"/>
<circle cx="150.7" cy="255.7" r="1.7"/>
<circle cx="153.7" cy="255.3" r="1.7"/>
<circle cx="156.7" cy="255" r="1.7"/>
<circle cx="45.2" cy="252" r="1.8"/>
<circle cx="48.1" cy="252.5" r="1.8"/>
<circle cx="51" cy="252.9" r="1.8"/>
<circle cx="53.9" cy="253.4" r="1.8"/>
<circle cx="56.8" cy="253.9" r="1.8"/>
<circle cx="59.7" cy="254.5" r="1.8"/>
<circle cx="62.6" cy="255" r="1.8"/>
<circle cx="65.5" cy="255.4" r="1.8"/>
<circle cx="68.4" cy="254.9" r="1.8"/>
<circle cx="71.3" cy="253.5" r="1.8"/>
<circle cx="74.2" cy="252.7" r="1.8"/>
<circle cx="77.1" cy="252.3" r="1.8"/>
<circle cx="80" cy="252" r="1.8"/>
<circle cx="30.6" cy="235.5" r="2"/>
<circle cx="30.6" cy="240.4" r="2"/>
<circle cx="30.6" cy="245" r="2"/>
<circle cx="30.6" cy="250" r="2"/>
<circle cx="35.2" cy="235.5" r="2"/>
<circle cx="35.2" cy="240.4" r="2"/>
<circle cx="40.5" cy="235.6" r="2"/>
</g>
<g fill="#ffffff">
<circle cx="47" cy="258.3" r="1"/>
<circle cx="48.5" cy="258.2" r="1"/>
<circle cx="50.1" cy="258.2" r="1"/>
<circle cx="51.6" cy="258.1" r="1"/>
<circle cx="53.1" cy="258" r="1"/>
<circle cx="54.6" cy="258" r="1"/>
<circle cx="56.2" cy="258" r="1"/>
<circle cx="57.7" cy="258.1" r="1"/>
<circle cx="59.2" cy="258.2" r="1"/>
<circle cx="60.7" cy="258.2" r="1"/>
<circle cx="62.3" cy="258.3" r="1"/>
<circle cx="63.8" cy="258.4" r="1"/>
<circle cx="65.3" cy="258.5" r="1"/>
<circle cx="66.8" cy="258.6" r="1"/>
<circle cx="68.4" cy="258.7" r="1"/>
<circle cx="69.9" cy="258.7" r="1"/>
<circle cx="71.4" cy="258.8" r="1"/>
<circle cx="72.9" cy="258.9" r="1"/>
<circle cx="74.5" cy="258.9" r="1"/>
<circle cx="76" cy="259" r="1"/>
<circle cx="121" cy="251" r="1.8"/>
<circle cx="122.6" cy="250.6" r="1.8"/>
<circle cx="124.1" cy="250.1" r="1.8"/>
<circle cx="125.7" cy="249.7" r="1.8"/>
<circle cx="127.2" cy="249.5" r="1.8"/>
<circle cx="128.8" cy="249.6" r="1.8"/>
<circle cx="130.3" cy="249.9" r="1.8"/>
<circle cx="131.9" cy="250.4" r="1.8"/>
<circle cx="133.4" cy="251" r="1.8"/>
<circle cx="135" cy="251.5" r="1.8"/>
<circle cx="30" cy="265.6" r="0.7"/>
<circle cx="33" cy="265.6" r="0.7"/>
<circle cx="36" cy="265.6" r="0.7"/>
<circle cx="39" cy="265.6" r="0.7"/>
<circle cx="42" cy="265.6" r="0.7"/>
<circle cx="45" cy="265.6" r="0.7"/>
<circle cx="48" cy="265.6" r="0.7"/>
<circle cx="51" cy="265.6" r="0.7"/>
<circle cx="54" cy="265.6" r="0.7"/>
<circle cx="57" cy="265.6" r="0.7"/>
<circle cx="60" cy="265.6" r="0.7"/>
<circle cx="63" cy="265.6" r="0.7"/>
<circle cx="66" cy="265.6" r="0.7"/>
<circle cx="69" cy="265.6" r="0.7"/>
<circle cx="72" cy="265.6" r="0.7"/>
<circle cx="75" cy="265.6" r="0.7"/>
<circle cx="78" cy="265.6" r="0.7"/>
<circle cx="81" cy="265.6" r="0.7"/>
<circle cx="84" cy="265.6" r="0.7"/>
<circle cx="87" cy="265.6" r="0.7"/>
<circle cx="90" cy="265.6" r="0.7"/>
<circle cx="93" cy="265.6" r="0.7"/>
<circle cx="96" cy="265.6" r="0.7"/>
<circle cx="99" cy="265.6" r="0.7"/>
<circle cx="102" cy="265.6" r="0.7"/>
<circle cx="105" cy="265.6" r="0.7"/>
<circle cx="108" cy="265.6" r="0.7"/>
<circle cx="111" cy="265.6" r="0.7"/>
<circle cx="114" cy="265.6" r="0.7"/>
<circle cx="117" cy="265.6" r="0.7"/>
<circle cx="120" cy="265.6" r="0.7"/>
<circle cx="123" cy="265.6" r="0.7"/>
<circle cx="126" cy="265.6" r="0.7"/>
<circle cx="129" cy="265.6" r="0.7"/>
<circle cx="132" cy="265.6" r="0.7"/>
<circle cx="135" cy="265.6" r="0.7"/>
<circle cx="138" cy="265.6" r="0.7"/>
<circle cx="141" cy="265.6" r="0.7"/>
<circle cx="144" cy="265.6" r="0.7"/>
<circle cx="147" cy="265.6" r="0.7"/>
<circle cx="150" cy="265.6" r="0.7"/>
<circle cx="153" cy="265.6" r="0.7"/>
<circle cx="156" cy="265.6" r="0.7"/>
<circle cx="30" cy="268.6" r="0.7"/>
<circle cx="33" cy="268.6" r="0.7"/>
<circle cx="36" cy="268.6" r="0.7"/>
<circle cx="39" cy="268.6" r="0.7"/>
<circle cx="42" cy="268.6" r="0.7"/>
<circle cx="45" cy="268.6" r="0.7"/>
<circle cx="48" cy="268.6" r="0.7"/>
<circle cx="51" cy="268.6" r="0.7"/>
<circle cx="54" cy="268.6" r="0.7"/>
<circle cx="57" cy="268.6" r="0.7"/>
<circle cx="60" cy="268.6" r="0.7"/>
<circle cx="63" cy="268.6" r="0.7"/>
<circle cx="66" cy="268.6" r="0.7"/>
<circle cx="69" cy="268.6" r="0.7"/>
<circle cx="72" cy="268.6" r="0.7"/>
<circle cx="75" cy="268.6" r="0.7"/>
<circle cx="78" cy="268.6" r="0.7"/>
<circle cx="81" cy="268.6" r="0.7"/>
<circle cx="84" cy="268.6" r="0.7"/>
<circle cx="87" cy="268.6" r="0.7"/>
<circle cx="90" cy="268.6" r="0.7"/>
<circle cx="93" cy="268.6" r="0.7"/>
<circle cx="96" cy="268.6" r="0.7"/>
<circle cx="99" cy="268.6" r="0.7"/>
<circle cx="102" cy="268.6" r="0.7"/>
<circle cx="105" cy="268.6" r="0.7"/>
<circle cx="108" cy="268.6" r="0.7"/>
<circle cx="111" cy="268.6" r="0.7"/>
<circle cx="114" cy="268.6" r="0.7"/>
<circle cx="117" cy="268.6" r="0.7"/>
<circle cx="120" cy="268.6" r="0.7"/>
<circle cx="123" cy="268.6" r="0.7"/>
<circle cx="126" cy="268.6" r="0.7"/>
<circle cx="129" cy="268.6" r="0.7"/>
<circle cx="132" cy="268.6" r="0.7"/>
<circle cx="135" cy="268.6" r="0.7"/>
<circle cx="138" cy="268.6" r="0.7"/>
<circle cx="141" cy="268.6" r="0.7"/>
<circle cx="144" cy="268.6" r="0.7"/>
<circle cx="147" cy="268.6" r="0.7"/>
<circle cx="150" cy="268.6" r="0.7"/>
<circle cx="153" cy="268.6" r="0.7"/>
<circle cx="156" cy="268.6" r="0.7"/>
<circle cx="32.6" cy="262" r="0.9"/>
<circle cx="32.6" cy="268" r="0.9"/>
<circle cx="35.7" cy="268" r="0.9"/>
<circle cx="41.7" cy="265" r="0.9"/>
<circle cx="44.7" cy="268" r="0.9"/>
<circle cx="44.7" cy="271" r="0.9"/>
<circle cx="47.8" cy="265" r="0.9"/>
<circle cx="53.8" cy="262" r="0.9"/>
<circle cx="53.8" cy="268" r="0.9"/>
<circle cx="53.8" cy="271" r="0.9"/>
<circle cx="56.8" cy="268" r="0.9"/>
<circle cx="62.9" cy="262" r="0.9"/>
<circle cx="62.9" cy="265" r="0.9"/>
<circle cx="68.9" cy="268" r="0.9"/>
<circle cx="68.9" cy="271" r="0.9"/>
<circle cx="72" cy="268" r="0.9"/>
<circle cx="72" cy="271" r="0.9"/>
<circle cx="75" cy="265" r="0.9"/>
<circle cx="75" cy="271" r="0.9"/>
<circle cx="81" cy="265" r="0.9"/>
<circle cx="81" cy="268" r="0.9"/>
<circle cx="84.1" cy="268" r="0.9"/>
<circle cx="87.1" cy="262" r="0.9"/>
<circle cx="87.1" cy="265" r="0.9"/>
<circle cx="90.1" cy="268" r="0.9"/>
<circle cx="90.1" cy="271" r="0.9"/>
<circle cx="93.2" cy="271" r="0.9"/>
<circle cx="99.2" cy="262" r="0.9"/>
<circle cx="99.2" cy="271" r="0.9"/>
<circle cx="102.2" cy="262" r="0.9"/>
<circle cx="105.3" cy="268" r="0.9"/>
<circle cx="108.3" cy="262" r="0.9"/>
<circle cx="108.3" cy="265" r="0.9"/>
<circle cx="111.3" cy="262" r="0.9"/>
<circle cx="114.3" cy="271" r="0.9"/>
<circle cx="129.5" cy="268" r="0.9"/>
<circle cx="129.5" cy="271" r="0.9"/>
<circle cx="132.5" cy="262" r="0.9"/>
<circle cx="135.5" cy="262" r="0.9"/>
<circle cx="138.5" cy="268" r="0.9"/>
<circle cx="141.6" cy="262" r="0.9"/>
<circle cx="144.6" cy="268" r="0.9"/>
<circle cx="144.6" cy="271" r="0.9"/>
<circle cx="147.6" cy="262" r="0.9"/>
<circle cx="150.6" cy="268" r="0.9"/>
<circle cx="150.6" cy="271" r="0.9"/>
<circle cx="153.7" cy="262" r="0.9"/>
<circle cx="156.7" cy="265" r="0.9"/>
<circle cx="156.7" cy="268" r="0.9"/>
</g>
<g fill="#12c98a">
<circle cx="46" cy="146.5" r="1.4"/>
<circle cx="48.9" cy="150" r="1.4"/>
<circle cx="51.9" cy="151.1" r="1.4"/>
<circle cx="54.8" cy="151.1" r="1.4"/>
<circle cx="57.8" cy="150.8" r="1.4"/>
<circle cx="60.7" cy="149.1" r="1.4"/>
<circle cx="63.7" cy="146.9" r="1.4"/>
<circle cx="66.6" cy="144" r="1.4"/>
<circle cx="69.5" cy="141" r="1.4"/>
<circle cx="72.5" cy="139" r="1.4"/>
<circle cx="75.4" cy="137.3" r="1.4"/>
<circle cx="78.4" cy="136.2" r="1.4"/>
<circle cx="81.3" cy="135.6" r="1.4"/>
<circle cx="84.2" cy="135.2" r="1.4"/>
<circle cx="87.2" cy="135" r="1.4"/>
<circle cx="90.1" cy="134.9" r="1.4"/>
<circle cx="93.1" cy="134.9" r="1.4"/>
<circle cx="96" cy="134.4" r="1.4"/>
<circle cx="99" cy="134.1" r="1.4"/>
<circle cx="101.9" cy="133.9" r="1.4"/>
<circle cx="104.8" cy="133.9" r="1.4"/>
<circle cx="107.8" cy="133.9" r="1.4"/>
<circle cx="110.7" cy="133.8" r="1.4"/>
<circle cx="113.7" cy="133.5" r="1.4"/>
<circle cx="116.6" cy="133.1" r="1.4"/>
<circle cx="119.5" cy="132.6" r="1.4"/>
<circle cx="122.5" cy="132.1" r="1.4"/>
<circle cx="125.4" cy="131.4" r="1.4"/>
<circle cx="128.4" cy="130.9" r="1.4"/>
<circle cx="131.3" cy="130.7" r="1.4"/>
<circle cx="134.3" cy="131.1" r="1.4"/>
<circle cx="137.2" cy="131.8" r="1.4"/>
<circle cx="109.4" cy="140.7" r="1.4"/>
<circle cx="112.5" cy="142" r="1.4"/>
<circle cx="115.7" cy="144.1" r="1.4"/>
<circle cx="118.8" cy="145.9" r="1.4"/>
<circle cx="122" cy="149.8" r="1.4"/>
<circle cx="125.1" cy="154.3" r="1.4"/>
<circle cx="128.3" cy="159.2" r="1.4"/>
<circle cx="131.4" cy="163.7" r="1.4"/>
<circle cx="134.6" cy="166" r="1.4"/>
<circle cx="137.7" cy="168.5" r="1.4"/>
<circle cx="40" cy="130" r="0.8"/>
<circle cx="43.5" cy="130" r="0.8"/>
<circle cx="47.1" cy="130" r="0.8"/>
<circle cx="50.6" cy="130" r="0.8"/>
<circle cx="54.1" cy="130" r="0.8"/>
<circle cx="57.7" cy="130" r="0.8"/>
<circle cx="61.2" cy="130" r="0.8"/>
<circle cx="64.7" cy="130" r="0.8"/>
<circle cx="68.3" cy="130" r="0.8"/>
<circle cx="71.8" cy="130" r="0.8"/>
<circle cx="75.3" cy="130" r="0.8"/>
<circle cx="78.9" cy="130" r="0.8"/>
<circle cx="82.4" cy="130" r="0.8"/>
<circle cx="85.9" cy="130" r="0.8"/>
<circle cx="89.5" cy="130" r="0.8"/>
<circle cx="93" cy="130" r="0.8"/>
<circle cx="40.6" cy="132.8" r="2.2"/>
<circle cx="44.2" cy="136" r="2.2"/>
</g>
<g fill="#7b7f7f">
<circle cx="29.6" cy="244" r="0.9"/>
<circle cx="35.7" cy="244.3" r="0.9"/>
<circle cx="41.7" cy="244.5" r="0.9"/>
<circle cx="47.8" cy="244.4" r="0.9"/>
<circle cx="53.8" cy="244" r="0.9"/>
<circle cx="59.9" cy="243.5" r="0.9"/>
<circle cx="65.9" cy="243.1" r="0.9"/>
<circle cx="72" cy="242.7" r="0.9"/>
<circle cx="78" cy="242.2" r="0.9"/>
<circle cx="84.1" cy="241.6" r="0.9"/>
<circle cx="90.1" cy="241.1" r="0.9"/>
<circle cx="96.2" cy="240.9" r="0.9"/>
<circle cx="102.2" cy="240.9" r="0.9"/>
<circle cx="108.3" cy="240.6" r="0.9"/>
<circle cx="114.3" cy="239.3" r="0.9"/>
<circle cx="120.4" cy="237.8" r="0.9"/>
<circle cx="126.4" cy="237.8" r="0.9"/>
<circle cx="132.5" cy="238.8" r="0.9"/>
<circle cx="138.5" cy="240.1" r="0.9"/>
<circle cx="144.6" cy="241.4" r="0.9"/>
<circle cx="150.6" cy="242" r="0.9"/>
<circle cx="156.7" cy="242.3" r="0.9"/>
<circle cx="32.6" cy="248.6" r="0.9"/>
<circle cx="38.7" cy="248.9" r="0.9"/>
<circle cx="44.7" cy="249" r="0.9"/>
<circle cx="50.8" cy="248.7" r="0.9"/>
<circle cx="56.8" cy="248.2" r="0.9"/>
<circle cx="62.9" cy="247.8" r="0.9"/>
<circle cx="68.9" cy="247.4" r="0.9"/>
<circle cx="75" cy="247" r="0.9"/>
<circle cx="81" cy="246.4" r="0.9"/>
<circle cx="87.1" cy="245.8" r="0.9"/>
<circle cx="93.2" cy="245.5" r="0.9"/>
<circle cx="99.2" cy="245.4" r="0.9"/>
<circle cx="105.3" cy="245.3" r="0.9"/>
<circle cx="111.3" cy="244.6" r="0.9"/>
<circle cx="117.4" cy="242.9" r="0.9"/>
<circle cx="123.4" cy="242.1" r="0.9"/>
<circle cx="129.5" cy="242.7" r="0.9"/>
<circle cx="135.5" cy="243.9" r="0.9"/>
<circle cx="141.6" cy="245.3" r="0.9"/>
<circle cx="147.6" cy="246.3" r="0.9"/>
<circle cx="153.7" cy="246.6" r="0.9"/>
<circle cx="29.6" cy="253" r="0.9"/>
<circle cx="35.7" cy="253.3" r="0.9"/>
<circle cx="41.7" cy="253.5" r="0.9"/>
<circle cx="47.8" cy="253.4" r="0.9"/>
<circle cx="53.8" cy="253" r="0.9"/>
<circle cx="59.9" cy="252.5" r="0.9"/>
<circle cx="65.9" cy="252.1" r="0.9"/>
<circle cx="72" cy="251.7" r="0.9"/>
<circle cx="78" cy="251.2" r="0.9"/>
<circle cx="84.1" cy="250.6" r="0.9"/>
<circle cx="90.1" cy="250.1" r="0.9"/>
<circle cx="96.2" cy="249.9" r="0.9"/>
<circle cx="102.2" cy="249.9" r="0.9"/>
<circle cx="108.3" cy="249.6" r="0.9"/>
<circle cx="114.3" cy="248.3" r="0.9"/>
<circle cx="120.4" cy="246.8" r="0.9"/>
<circle cx="126.4" cy="246.8" r="0.9"/>
<circle cx="132.5" cy="247.8" r="0.9"/>
<circle cx="138.5" cy="249.1" r="0.9"/>
<circle cx="144.6" cy="250.4" r="0.9"/>
<circle cx="150.6" cy="251" r="0.9"/>
<circle cx="156.7" cy="251.3" r="0.9"/>
<circle cx="32.6" cy="257.6" r="0.9"/>
<circle cx="38.7" cy="257.9" r="0.9"/>
<circle cx="44.7" cy="258" r="0.9"/>
<circle cx="50.8" cy="257.7" r="0.9"/>
<circle cx="56.8" cy="257.2" r="0.9"/>
<circle cx="62.9" cy="256.8" r="0.9"/>
<circle cx="68.9" cy="256.4" r="0.9"/>
<circle cx="75" cy="256" r="0.9"/>
<circle cx="81" cy="255.4" r="0.9"/>
<circle cx="87.1" cy="254.8" r="0.9"/>
<circle cx="93.2" cy="254.5" r="0.9"/>
<circle cx="99.2" cy="254.4" r="0.9"/>
<circle cx="105.3" cy="254.3" r="0.9"/>
<circle cx="111.3" cy="253.6" r="0.9"/>
<circle cx="117.4" cy="251.9" r="0.9"/>
<circle cx="123.4" cy="251.1" r="0.9"/>
<circle cx="129.5" cy="251.7" r="0.9"/>
<circle cx="135.5" cy="252.9" r="0.9"/>
<circle cx="141.6" cy="254.3" r="0.9"/>
<circle cx="147.6" cy="255.3" r="0.9"/>
<circle cx="153.7" cy="255.6" r="0.9"/>
<circle cx="29.6" cy="262" r="0.9"/>
<circle cx="35.7" cy="262.3" r="0.9"/>
<circle cx="41.7" cy="262.5" r="0.9"/>
<circle cx="47.8" cy="262.4" r="0.9"/>
<circle cx="53.8" cy="262" r="0.9"/>
<circle cx="59.9" cy="261.5" r="0.9"/>
<circle cx="65.9" cy="261.1" r="0.9"/>
<circle cx="72" cy="260.7" r="0.9"/>
<circle cx="78" cy="260.2" r="0.9"/>
<circle cx="84.1" cy="259.6" r="0.9"/>
<circle cx="90.1" cy="259.1" r="0.9"/>
<circle cx="96.2" cy="258.9" r="0.9"/>
<circle cx="102.2" cy="258.9" r="0.9"/>
<circle cx="108.3" cy="258.6" r="0.9"/>
<circle cx="114.3" cy="257.3" r="0.9"/>
<circle cx="120.4" cy="255.8" r="0.9"/>
<circle cx="126.4" cy="255.8" r="0.9"/>
<circle cx="132.5" cy="256.8" r="0.9"/>
<circle cx="138.5" cy="258.1" r="0.9"/>
<circle cx="144.6" cy="259.4" r="0.9"/>
<circle cx="150.6" cy="260" r="0.9"/>
<circle cx="156.7" cy="260.3" r="0.9"/>
<circle cx="32.6" cy="266.6" r="0.9"/>
<circle cx="38.7" cy="266.9" r="0.9"/>
<circle cx="44.7" cy="267" r="0.9"/>
<circle cx="50.8" cy="266.7" r="0.9"/>
<circle cx="56.8" cy="266.2" r="0.9"/>
<circle cx="62.9" cy="265.8" r="0.9"/>
<circle cx="68.9" cy="265.4" r="0.9"/>
<circle cx="75" cy="265" r="0.9"/>
<circle cx="81" cy="264.4" r="0.9"/>
<circle cx="87.1" cy="263.8" r="0.9"/>
<circle cx="93.2" cy="263.5" r="0.9"/>
<circle cx="99.2" cy="263.4" r="0.9"/>
<circle cx="105.3" cy="263.3" r="0.9"/>
<circle cx="111.3" cy="262.6" r="0.9"/>
<circle cx="117.4" cy="260.9" r="0.9"/>
<circle cx="123.4" cy="260.1" r="0.9"/>
<circle cx="129.5" cy="260.7" r="0.9"/>
<circle cx="135.5" cy="261.9" r="0.9"/>
<circle cx="141.6" cy="263.3" r="0.9"/>
<circle cx="147.6" cy="264.3" r="0.9"/>
<circle cx="153.7" cy="264.6" r="0.9"/>
<circle cx="29.6" cy="271" r="0.9"/>
<circle cx="35.7" cy="271.3" r="0.9"/>
<circle cx="41.7" cy="271.5" r="0.9"/>
<circle cx="47.8" cy="271.4" r="0.9"/>
<circle cx="53.8" cy="271" r="0.9"/>
<circle cx="59.9" cy="270.5" r="0.9"/>
<circle cx="65.9" cy="270.1" r="0.9"/>
<circle cx="72" cy="269.7" r="0.9"/>
<circle cx="78" cy="269.2" r="0.9"/>
<circle cx="84.1" cy="268.6" r="0.9"/>
<circle cx="90.1" cy="268.1" r="0.9"/>
<circle cx="96.2" cy="267.9" r="0.9"/>
<circle cx="102.2" cy="267.9" r="0.9"/>
<circle cx="108.3" cy="267.6" r="0.9"/>
<circle cx="114.3" cy="266.3" r="0.9"/>
<circle cx="120.4" cy="264.8" r="0.9"/>
<circle cx="126.4" cy="264.8" r="0.9"/>
<circle cx="132.5" cy="265.8" r="0.9"/>
<circle cx="138.5" cy="267.1" r="0.9"/>
<circle cx="144.6" cy="268.4" r="0.9"/>
<circle cx="150.6" cy="269" r="0.9"/>
<circle cx="156.7" cy="269.3" r="0.9"/>
<circle cx="30.2" cy="228.1" r="0.9"/>
<circle cx="35.8" cy="228.8" r="0.9"/>
<circle cx="41.4" cy="230.9" r="0.9"/>
<circle cx="47.1" cy="232.9" r="0.9"/>
<circle cx="52.7" cy="234.6" r="0.9"/>
<circle cx="58.3" cy="239" r="0.9"/>
<circle cx="63.9" cy="244" r="0.9"/>
<circle cx="69.6" cy="250.5" r="0.9"/>
<circle cx="75.2" cy="252" r="0.9"/>
<circle cx="80.8" cy="250.7" r="0.9"/>
<circle cx="86.4" cy="249" r="0.9"/>
<circle cx="92" cy="247.3" r="0.9"/>
<circle cx="97.7" cy="246.5" r="0.9"/>
<circle cx="103.3" cy="244.8" r="0.9"/>
<circle cx="108.9" cy="242.5" r="0.9"/>
<circle cx="114.5" cy="241" r="0.9"/>
<circle cx="120.2" cy="240.4" r="0.9"/>
<circle cx="125.8" cy="241" r="0.9"/>
<circle cx="131.4" cy="242" r="0.9"/>
<circle cx="137" cy="243.2" r="0.9"/>
<circle cx="142.6" cy="243.9" r="0.9"/>
<circle cx="148.3" cy="244.3" r="0.9"/>
<circle cx="153.9" cy="244.3" r="0.9"/>
<circle cx="109" cy="249.1" r="0.9"/>
<circle cx="114.6" cy="247.7" r="0.9"/>
<circle cx="120.2" cy="247.4" r="0.9"/>
<circle cx="125.8" cy="249.2" r="0.9"/>
<circle cx="131.4" cy="251.6" r="0.9"/>
<circle cx="137.1" cy="253.8" r="0.9"/>
<circle cx="142.7" cy="252.1" r="0.9"/>
<circle cx="148.3" cy="249.8" r="0.9"/>
<circle cx="153.9" cy="247.9" r="0.9"/>
<circle cx="109" cy="253.9" r="0.8"/>
<circle cx="115" cy="254.8" r="0.8"/>
<circle cx="120.9" cy="255.9" r="0.8"/>
<circle cx="126.9" cy="258" r="0.8"/>
<circle cx="132.8" cy="258.5" r="0.8"/>
<circle cx="138.8" cy="257.2" r="0.8"/>
<circle cx="144.8" cy="256.4" r="0.8"/>
<circle cx="150.7" cy="255.7" r="0.8"/>
<circle cx="156.7" cy="255" r="0.8"/>
<circle cx="45.2" cy="252" r="0.8"/>
<circle cx="51" cy="252.9" r="0.8"/>
<circle cx="56.8" cy="253.9" r="0.8"/>
<circle cx="62.6" cy="255" r="0.8"/>
<circle cx="68.4" cy="254.9" r="0.8"/>
<circle cx="74.2" cy="252.7" r="0.8"/>
<circle cx="80" cy="252" r="0.8"/>
<circle cx="137.8" cy="238.7" r="0.8"/>
<circle cx="141" cy="235.9" r="0.8"/>
<circle cx="144.1" cy="233.6" r="0.8"/>
<circle cx="147.2" cy="231.5" r="0.8"/>
<circle cx="150.4" cy="229.8" r="0.8"/>
<circle cx="153.5" cy="228.6" r="0.8"/>
<circle cx="156.7" cy="228" r="0.8"/>
<circle cx="29.6" cy="187.5" r="0.8"/>
<circle cx="36.1" cy="188.5" r="0.8"/>
<circle cx="42.6" cy="187.9" r="0.8"/>
<circle cx="49.1" cy="187.1" r="0.8"/>
<circle cx="55.6" cy="186.3" r="0.8"/>
<circle cx="62.1" cy="186.3" r="0.8"/>
<circle cx="68.7" cy="187.7" r="0.8"/>
<circle cx="29.6" cy="191.9" r="0.8"/>
<circle cx="36.2" cy="193.3" r="0.8"/>
<circle cx="42.7" cy="193.7" r="0.8"/>
<circle cx="49.3" cy="192.9" r="0.8"/>
<circle cx="55.9" cy="191" r="0.8"/>
<circle cx="62.5" cy="189.6" r="0.8"/>
<circle cx="69" cy="191" r="0.8"/>
<circle cx="75.6" cy="194.1" r="0.8"/>
<circle cx="82.2" cy="199.1" r="0.8"/>
<circle cx="88.8" cy="203.8" r="0.8"/>
<circle cx="95.3" cy="206.3" r="0.8"/>
<circle cx="101.9" cy="208.6" r="0.8"/>
<circle cx="108.5" cy="210.6" r="0.8"/>
<circle cx="115.1" cy="212.6" r="0.8"/>
<circle cx="121.6" cy="213" r="0.8"/>
<circle cx="128.2" cy="209.8" r="0.8"/>
<circle cx="134.8" cy="203.6" r="0.8"/>
<circle cx="141.4" cy="197.2" r="0.8"/>
<circle cx="147.9" cy="193.4" r="0.8"/>
<circle cx="154.5" cy="191.6" r="0.8"/>
<circle cx="93.5" cy="204" r="0.8"/>
<circle cx="100" cy="200.2" r="0.8"/>
<circle cx="106.6" cy="198.7" r="0.8"/>
<circle cx="113.1" cy="196" r="0.8"/>
<circle cx="119.7" cy="192.7" r="0.8"/>
<circle cx="126.2" cy="190.1" r="0.8"/>
<circle cx="132.7" cy="188.3" r="0.8"/>
<circle cx="139.3" cy="187.9" r="0.8"/>
<circle cx="145.8" cy="188.5" r="0.8"/>
<circle cx="152.3" cy="187.2" r="0.8"/>
<circle cx="29.6" cy="181.5" r="0.9"/>
<circle cx="34.2" cy="181.3" r="0.9"/>
<circle cx="38.8" cy="181.1" r="0.9"/>
<circle cx="43.5" cy="180.1" r="0.9"/>
<circle cx="48.1" cy="179.9" r="0.9"/>
<circle cx="52.7" cy="181" r="0.9"/>
<circle cx="57.3" cy="182.7" r="0.9"/>
<circle cx="62" cy="181.7" r="0.9"/>
<circle cx="66.6" cy="179.7" r="0.9"/>
<circle cx="71.2" cy="179.9" r="0.9"/>
<circle cx="75.8" cy="181.3" r="0.9"/>
<circle cx="80.4" cy="181.5" r="0.9"/>
<circle cx="85.1" cy="181.2" r="0.9"/>
<circle cx="89.7" cy="181.1" r="0.9"/>
<circle cx="94.3" cy="181" r="0.9"/>
<circle cx="98.9" cy="181.2" r="0.9"/>
<circle cx="103.5" cy="181.3" r="0.9"/>
<circle cx="108.2" cy="181.5" r="0.9"/>
<circle cx="112.8" cy="181.6" r="0.9"/>
<circle cx="117.4" cy="181.7" r="0.9"/>
<circle cx="122" cy="181.8" r="0.9"/>
<circle cx="126.7" cy="181.9" r="0.9"/>
<circle cx="131.3" cy="182.1" r="0.9"/>
<circle cx="135.9" cy="182.3" r="0.9"/>
<circle cx="140.5" cy="182.5" r="0.9"/>
<circle cx="145.1" cy="182.6" r="0.9"/>
<circle cx="149.8" cy="182.6" r="0.9"/>
<circle cx="154.4" cy="182.7" r="0.9"/>
<circle cx="29.6" cy="178" r="0.9"/>
<circle cx="34.2" cy="178.2" r="0.9"/>
<circle cx="38.8" cy="178.4" r="0.9"/>
<circle cx="43.5" cy="178.6" r="0.9"/>
<circle cx="48.1" cy="178.7" r="0.9"/>
<circle cx="52.7" cy="178.7" r="0.9"/>
<circle cx="57.3" cy="178.6" r="0.9"/>
<circle cx="62" cy="178.2" r="0.9"/>
<circle cx="66.6" cy="176.1" r="0.9"/>
<circle cx="71.2" cy="174.4" r="0.9"/>
<circle cx="75.8" cy="174" r="0.9"/>
<circle cx="80.4" cy="174.7" r="0.9"/>
<circle cx="85.1" cy="175.7" r="0.9"/>
<circle cx="89.7" cy="176.7" r="0.9"/>
<circle cx="94.3" cy="177.6" r="0.9"/>
<circle cx="98.9" cy="178" r="0.9"/>
<circle cx="103.5" cy="178.1" r="0.9"/>
<circle cx="108.2" cy="178.2" r="0.9"/>
<circle cx="112.8" cy="177.4" r="0.9"/>
<circle cx="117.4" cy="176.8" r="0.9"/>
<circle cx="122" cy="176.8" r="0.9"/>
<circle cx="126.7" cy="176.9" r="0.9"/>
<circle cx="131.3" cy="176.9" r="0.9"/>
<circle cx="135.9" cy="176.9" r="0.9"/>
<circle cx="140.5" cy="176.9" r="0.9"/>
<circle cx="145.1" cy="176.9" r="0.9"/>
<circle cx="149.8" cy="176.9" r="0.9"/>
<circle cx="154.4" cy="176.9" r="0.9"/>
<circle cx="109.6" cy="174" r="0.9"/>
<circle cx="114.3" cy="172.5" r="0.9"/>
<circle cx="119" cy="171.6" r="0.9"/>
<circle cx="123.7" cy="171.1" r="0.9"/>
<circle cx="128.4" cy="171" r="0.9"/>
<circle cx="133.1" cy="171.4" r="0.9"/>
<circle cx="137.9" cy="171.8" r="0.9"/>
<circle cx="142.6" cy="172.3" r="0.9"/>
<circle cx="147.3" cy="172.7" r="0.9"/>
<circle cx="152" cy="173.1" r="0.9"/>
<circle cx="156.7" cy="173.5" r="0.9"/>
<circle cx="45.3" cy="146.5" r="1"/>
<circle cx="49.4" cy="145.4" r="1"/>
<circle cx="53.6" cy="143.1" r="1"/>
<circle cx="57.7" cy="140.8" r="1"/>
<circle cx="61.8" cy="139.3" r="1"/>
<circle cx="65.9" cy="139.3" r="1"/>
<circle cx="70.1" cy="139.9" r="1"/>
<circle cx="74.2" cy="140.5" r="1"/>
<circle cx="78.3" cy="141" r="1"/>
<circle cx="82.4" cy="141.6" r="1"/>
<circle cx="86.6" cy="142.2" r="1"/>
<circle cx="90.7" cy="142.8" r="1"/>
<circle cx="94.8" cy="142.3" r="1"/>
<circle cx="98.9" cy="141.6" r="1"/>
<circle cx="103.1" cy="140.3" r="1"/>
<circle cx="107.2" cy="139.8" r="1"/>
<circle cx="111.3" cy="139.1" r="1"/>
<circle cx="115.4" cy="138" r="1"/>
<circle cx="119.6" cy="137.2" r="1"/>
<circle cx="123.7" cy="136.2" r="1"/>
<circle cx="127.8" cy="136.2" r="1"/>
<circle cx="131.9" cy="137.4" r="1"/>
<circle cx="136.1" cy="139.7" r="1"/>
<circle cx="140.2" cy="142.7" r="1"/>
<circle cx="144.3" cy="144.6" r="1"/>
<circle cx="148.4" cy="145.3" r="1"/>
<circle cx="152.6" cy="145.4" r="1"/>
<circle cx="156.7" cy="145.4" r="1"/>
<circle cx="45.8" cy="158.5" r="1"/>
<circle cx="50.1" cy="160.3" r="1"/>
<circle cx="54.3" cy="161.3" r="1"/>
<circle cx="58.6" cy="159.6" r="1"/>
<circle cx="62.9" cy="156.7" r="1"/>
<circle cx="67.1" cy="153.8" r="1"/>
<circle cx="71.4" cy="151" r="1"/>
<circle cx="75.7" cy="150" r="1"/>
<circle cx="79.9" cy="149.5" r="1"/>
<circle cx="84.2" cy="148.8" r="1"/>
<circle cx="88.5" cy="148.5" r="1"/>
<circle cx="92.7" cy="148.4" r="1"/>
<circle cx="97" cy="149.6" r="1"/>
<circle cx="101.2" cy="150.8" r="1"/>
<circle cx="105.5" cy="151.2" r="1"/>
<circle cx="109.8" cy="151.3" r="1"/>
<circle cx="114" cy="152.2" r="1"/>
<circle cx="118.3" cy="153.8" r="1"/>
<circle cx="122.6" cy="155.6" r="1"/>
<circle cx="126.8" cy="156.8" r="1"/>
<circle cx="131.1" cy="158.3" r="1"/>
<circle cx="135.4" cy="159.9" r="1"/>
<circle cx="139.6" cy="160.9" r="1"/>
<circle cx="143.9" cy="161.7" r="1"/>
<circle cx="148.2" cy="162.5" r="1"/>
<circle cx="152.4" cy="163.5" r="1"/>
<circle cx="156.7" cy="164.5" r="1"/>
<circle cx="128" cy="160" r="1"/>
<circle cx="132.1" cy="159.8" r="1"/>
<circle cx="136.2" cy="158.6" r="1"/>
<circle cx="140.3" cy="155.8" r="1"/>
<circle cx="144.4" cy="151.3" r="1"/>
<circle cx="148.5" cy="149.6" r="1"/>
<circle cx="152.6" cy="149.7" r="1"/>
<circle cx="156.7" cy="150.1" r="1"/>
<circle cx="45.3" cy="167" r="1"/>
<circle cx="49.4" cy="167.4" r="1"/>
<circle cx="53.6" cy="166.3" r="1"/>
<circle cx="57.7" cy="165.4" r="1"/>
<circle cx="61.8" cy="166.6" r="1"/>
<circle cx="65.9" cy="167.1" r="1"/>
<circle cx="70.1" cy="165.5" r="1"/>
<circle cx="74.2" cy="163" r="1"/>
<circle cx="78.3" cy="159.5" r="1"/>
<circle cx="82.4" cy="156.4" r="1"/>
<circle cx="86.6" cy="153.9" r="1"/>
<circle cx="90.7" cy="152.3" r="1"/>
<circle cx="94.8" cy="152.1" r="1"/>
<circle cx="98.9" cy="152.8" r="1"/>
<circle cx="103.1" cy="153.9" r="1"/>
<circle cx="107.2" cy="155.2" r="1"/>
<circle cx="111.3" cy="156.5" r="1"/>
<circle cx="115.4" cy="157.5" r="1"/>
<circle cx="119.6" cy="158.9" r="1"/>
<circle cx="123.7" cy="160.5" r="1"/>
<circle cx="127.8" cy="162.2" r="1"/>
<circle cx="131.9" cy="163.9" r="1"/>
<circle cx="136.1" cy="165.3" r="1"/>
<circle cx="140.2" cy="166.2" r="1"/>
<circle cx="144.3" cy="166.9" r="1"/>
<circle cx="148.4" cy="167.5" r="1"/>
<circle cx="152.6" cy="167.9" r="1"/>
<circle cx="156.7" cy="168.4" r="1"/>
<circle cx="45.3" cy="170" r="1"/>
<circle cx="49.4" cy="170.5" r="1"/>
<circle cx="53.6" cy="169.4" r="1"/>
<circle cx="57.7" cy="169" r="1"/>
<circle cx="61.8" cy="170.9" r="1"/>
<circle cx="65.9" cy="173.2" r="1"/>
<circle cx="70.1" cy="173.2" r="1"/>
<circle cx="74.2" cy="172.5" r="1"/>
<circle cx="78.3" cy="171.7" r="1"/>
<circle cx="82.4" cy="169.1" r="1"/>
<circle cx="86.6" cy="165.1" r="1"/>
<circle cx="90.7" cy="162.1" r="1"/>
<circle cx="94.8" cy="161.1" r="1"/>
<circle cx="98.9" cy="161.8" r="1"/>
<circle cx="103.1" cy="162.5" r="1"/>
<circle cx="107.2" cy="163.1" r="1"/>
<circle cx="111.3" cy="163.7" r="1"/>
<circle cx="115.4" cy="164.3" r="1"/>
<circle cx="119.6" cy="164.9" r="1"/>
<circle cx="123.7" cy="165.7" r="1"/>
<circle cx="127.8" cy="166.6" r="1"/>
<circle cx="131.9" cy="167.5" r="1"/>
<circle cx="136.1" cy="168.1" r="1"/>
<circle cx="140.2" cy="168.6" r="1"/>
<circle cx="144.3" cy="169" r="1"/>
<circle cx="148.4" cy="169.3" r="1"/>
<circle cx="152.6" cy="169.6" r="1"/>
<circle cx="156.7" cy="170" r="1"/>
<circle cx="30.6" cy="145.4" r="0.9"/>
<circle cx="30.6" cy="151.2" r="0.9"/>
<circle cx="30.6" cy="154.3" r="0.9"/>
<circle cx="30.6" cy="158" r="0.9"/>
<circle cx="30.6" cy="161.1" r="0.9"/>
<circle cx="30.6" cy="166.9" r="0.9"/>
<circle cx="30.6" cy="171.6" r="0.9"/>
<circle cx="30.6" cy="174.7" r="0.9"/>
<circle cx="34.8" cy="145.4" r="0.9"/>
<circle cx="34.8" cy="151.2" r="0.9"/>
<circle cx="34.8" cy="154.3" r="0.9"/>
<circle cx="34.8" cy="158" r="0.9"/>
<circle cx="34.8" cy="161.1" r="0.9"/>
<circle cx="34.8" cy="166.9" r="0.9"/>
<circle cx="34.8" cy="171.6" r="0.9"/>
<circle cx="34.8" cy="174.7" r="0.9"/>
<circle cx="40.6" cy="145.4" r="0.9"/>
<circle cx="40.6" cy="151.2" r="0.9"/>
<circle cx="40.6" cy="154.3" r="0.9"/>
<circle cx="40.6" cy="158" r="0.9"/>
<circle cx="40.6" cy="161.1" r="0.9"/>
<circle cx="40.6" cy="166.9" r="0.9"/>
<circle cx="40.6" cy="171.6" r="0.9"/>
<circle cx="40.6" cy="174.7" r="0.9"/>
<circle cx="150.2" cy="149.6" r="1"/>
<circle cx="150.2" cy="153" r="1"/>
<circle cx="150.2" cy="157" r="1"/>
<circle cx="150.2" cy="160.5" r="1"/>
<circle cx="150.2" cy="164" r="1"/>
<circle cx="150.2" cy="167.5" r="1"/>
<circle cx="150.2" cy="171" r="1"/>
<circle cx="153.5" cy="149.6" r="1"/>
<circle cx="153.5" cy="153" r="1"/>
<circle cx="153.5" cy="157" r="1"/>
<circle cx="153.5" cy="160.5" r="1"/>
<circle cx="153.5" cy="164" r="1"/>
<circle cx="153.5" cy="167.5" r="1"/>
<circle cx="153.5" cy="171" r="1"/>
</g>
</g>
<line x1="45.40" y1="128.90" x2="45.40" y2="271.50" stroke="#777" stroke-width="1.0" stroke-dasharray="2.2,2.7"/>
<line x1="93.50" y1="128.90" x2="93.50" y2="271.50" stroke="#444" stroke-width="1.0" stroke-dasharray="2.2,2.7"/>
<line x1="109.60" y1="128.90" x2="109.60" y2="271.50" stroke="#444" stroke-width="1.0" stroke-dasharray="2.2,2.7"/>
<rect x="29.60" y="128.90" width="127.10" height="142.60" fill="none" stroke="#7d7d7d" stroke-width="1.15"/>
<line x1="29.60" y1="139.10" x2="32.60" y2="139.10" stroke="#666" stroke-width="0.9" />
<text x="27.10" y="143.00" font-size="11" text-anchor="end" font-weight="normal" font-style="normal" fill="#000" font-family="'Liberation Sans', sans-serif" >4</text>
<line x1="29.60" y1="159.50" x2="32.60" y2="159.50" stroke="#666" stroke-width="0.9" />
<text x="27.10" y="163.40" font-size="11" text-anchor="end" font-weight="normal" font-style="normal" fill="#000" font-family="'Liberation Sans', sans-serif" >3</text>
<line x1="29.60" y1="179.90" x2="32.60" y2="179.90" stroke="#666" stroke-width="0.9" />
<text x="27.10" y="183.80" font-size="11" text-anchor="end" font-weight="normal" font-style="normal" fill="#000" font-family="'Liberation Sans', sans-serif" >2</text>
<line x1="29.60" y1="200.30" x2="32.60" y2="200.30" stroke="#666" stroke-width="0.9" />
<text x="27.10" y="204.20" font-size="11" text-anchor="end" font-weight="normal" font-style="normal" fill="#000" font-family="'Liberation Sans', sans-serif" >1</text>
<line x1="29.60" y1="220.70" x2="32.60" y2="220.70" stroke="#666" stroke-width="0.9" />
<text x="27.10" y="224.60" font-size="11" text-anchor="end" font-weight="normal" font-style="normal" fill="#000" font-family="'Liberation Sans', sans-serif" >0</text>
<line x1="29.60" y1="241.10" x2="32.60" y2="241.10" stroke="#666" stroke-width="0.9" />
<text x="27.10" y="245.00" font-size="11" text-anchor="end" font-weight="normal" font-style="normal" fill="#000" font-family="'Liberation Sans', sans-serif" >-1</text>
<line x1="29.60" y1="261.50" x2="32.60" y2="261.50" stroke="#666" stroke-width="0.9" />
<text x="27.10" y="265.40" font-size="11" text-anchor="end" font-weight="normal" font-style="normal" fill="#000" font-family="'Liberation Sans', sans-serif" >-2</text>
<text x="29.60" y="286.00" font-size="16.5" text-anchor="middle" font-weight="normal" font-style="normal" fill="#000" font-family="'Liberation Serif', serif" >Γ</text>
<text x="46.30" y="286.00" font-size="15" text-anchor="middle" font-weight="normal" font-style="normal" fill="#000" font-family="'Liberation Sans', sans-serif" >X</text>
<text x="93.50" y="286.00" font-size="15" text-anchor="middle" font-weight="normal" font-style="normal" fill="#000" font-family="'Liberation Sans', sans-serif" >S</text>
<text x="109.40" y="286.00" font-size="15" text-anchor="middle" font-weight="normal" font-style="normal" fill="#000" font-family="'Liberation Sans', sans-serif" >Y</text>
<text x="156.90" y="286.00" font-size="16.5" text-anchor="middle" font-weight="normal" font-style="normal" fill="#000" font-family="'Liberation Serif', serif" >Γ</text>
<text x="38.40" y="124.40" font-size="11.6" text-anchor="start" font-weight="normal" font-style="normal" fill="#000" font-family="'Liberation Sans', sans-serif" >Ge</text>
<circle cx="58.90" cy="121.30" r="3.40" fill="#12c98a" />
<text x="70.10" y="124.40" font-size="11.6" text-anchor="start" font-weight="normal" font-style="normal" fill="#000" font-family="'Liberation Sans', sans-serif" >O</text>
<circle cx="83.90" cy="121.30" r="3.40" fill="#f5706f" />
<text x="95.20" y="124.40" font-size="11.6" text-anchor="start" font-weight="normal" font-style="normal" fill="#000" font-family="'Liberation Sans', sans-serif" >Mo</text>
<circle cx="116.20" cy="121.30" r="3.40" fill="#fdbf00" />
<text x="125.80" y="124.40" font-size="11.6" text-anchor="start" font-weight="normal" font-style="normal" fill="#000" font-family="'Liberation Sans', sans-serif" >S</text>
<circle cx="138.60" cy="121.30" r="3.40" fill="#7b7f7f" />
<text transform="translate(12.20,200.80) rotate(-90)" x="0" y="0" font-size="16.1" text-anchor="middle" font-family="'Liberation Sans', sans-serif"><tspan font-style="italic">E</tspan>-<tspan font-style="italic">E</tspan><tspan font-size="10.5" dy="3.4">Fermi</tspan><tspan dy="-3.4">(eV)</tspan></text>
<line x1="110.90" y1="213.50" x2="156.70" y2="213.50" stroke="#333" stroke-width="0.9" stroke-dasharray="3,2.4"/>
<line x1="157.70" y1="213.50" x2="157.70" y2="227.90" stroke="#000" stroke-width="1.0" />
<polyline points="154.50,216.70 157.70,213.80 160.90,216.70" fill="none" stroke="#000" stroke-width="1"/>
<polyline points="154.50,224.70 157.70,227.60 160.90,224.70" fill="none" stroke="#000" stroke-width="1"/>
<text x="134.60" y="226.00" font-size="11.5" text-anchor="start" font-weight="normal" font-style="normal" fill="#000" font-family="'Liberation Sans', sans-serif" >0.7</text>
<clipPath id="clipe"><rect x="377.8" y="129.8" width="126.30000000000001" height="141.0"/></clipPath>
<g clip-path="url(#clipe)">
<g fill="#fdbf00">
<circle cx="377.8" cy="141.2" r="2.7"/>
<circle cx="377.8" cy="144.5" r="2.7"/>
<circle cx="377.8" cy="147.8" r="2.7"/>
<circle cx="377.8" cy="151.1" r="2.7"/>
<circle cx="377.8" cy="154.5" r="2.7"/>
<circle cx="377.8" cy="157.8" r="2.7"/>
<circle cx="377.8" cy="161.1" r="2.7"/>
<circle cx="380.5" cy="141.2" r="2.7"/>
<circle cx="380.5" cy="144.5" r="2.7"/>
<circle cx="380.5" cy="147.8" r="2.7"/>
<circle cx="380.5" cy="151.1" r="2.7"/>
<circle cx="380.5" cy="154.5" r="2.7"/>
<circle cx="380.5" cy="157.8" r="2.7"/>
<circle cx="380.5" cy="161.1" r="2.7"/>
<circle cx="383.2" cy="141.1" r="2.7"/>
<circle cx="383.2" cy="144.5" r="2.7"/>
<circle cx="383.2" cy="147.8" r="2.7"/>
<circle cx="383.2" cy="151.1" r="2.7"/>
<circle cx="383.2" cy="154.5" r="2.7"/>
<circle cx="383.2" cy="157.8" r="2.7"/>
<circle cx="383.2" cy="161.1" r="2.7"/>
<circle cx="385.9" cy="141.1" r="2.7"/>
<circle cx="385.9" cy="144.4" r="2.7"/>
<circle cx="385.9" cy="147.8" r="2.7"/>
<circle cx="385.9" cy="151.1" r="2.7"/>
<circle cx="385.9" cy="154.5" r="2.7"/>
<circle cx="385.9" cy="157.8" r="2.7"/>
<circle cx="385.9" cy="161.2" r="2.7"/>
<circle cx="388.5" cy="141" r="2.7"/>
<circle cx="388.5" cy="144.4" r="2.7"/>
<circle cx="388.5" cy="147.8" r="2.7"/>
<circle cx="388.5" cy="151.1" r="2.7"/>
<circle cx="388.5" cy="154.5" r="2.7"/>
<circle cx="388.5" cy="157.8" r="2.7"/>
<circle cx="388.5" cy="161.2" r="2.7"/>
<circle cx="391.2" cy="141" r="2.7"/>
<circle cx="391.2" cy="144.3" r="2.7"/>
<circle cx="391.2" cy="147.7" r="2.7"/>
<circle cx="391.2" cy="151.1" r="2.7"/>
<circle cx="391.2" cy="154.4" r="2.7"/>
<circle cx="391.2" cy="157.8" r="2.7"/>
<circle cx="391.2" cy="161.2" r="2.7"/>
<circle cx="393.9" cy="140.9" r="2.7"/>
<circle cx="393.9" cy="144.3" r="2.7"/>
<circle cx="393.9" cy="147.6" r="2.7"/>
<circle cx="393.9" cy="151" r="2.7"/>
<circle cx="393.9" cy="154.3" r="2.7"/>
<circle cx="393.9" cy="157.7" r="2.7"/>
<circle cx="393.9" cy="161.1" r="2.7"/>
<circle cx="396.6" cy="140.8" r="2.7"/>
<circle cx="396.6" cy="144.1" r="2.7"/>
<circle cx="396.6" cy="147.5" r="2.7"/>
<circle cx="396.6" cy="150.8" r="2.7"/>
<circle cx="396.6" cy="154.1" r="2.7"/>
<circle cx="396.6" cy="157.5" r="2.7"/>
<circle cx="396.6" cy="160.8" r="2.7"/>
<circle cx="399.3" cy="140.7" r="2.7"/>
<circle cx="399.3" cy="144" r="2.7"/>
<circle cx="399.3" cy="147.2" r="2.7"/>
<circle cx="399.3" cy="150.5" r="2.7"/>
<circle cx="399.3" cy="153.8" r="2.7"/>
<circle cx="399.3" cy="157" r="2.7"/>
<circle cx="399.3" cy="160.3" r="2.7"/>
<circle cx="402" cy="140.6" r="2.7"/>
<circle cx="402" cy="143.8" r="2.7"/>
<circle cx="402" cy="147" r="2.7"/>
<circle cx="402" cy="150.1" r="2.7"/>
<circle cx="402" cy="153.3" r="2.7"/>
<circle cx="402" cy="156.5" r="2.7"/>
<circle cx="402" cy="159.7" r="2.7"/>
<circle cx="404.7" cy="140.5" r="2.7"/>
<circle cx="404.7" cy="143.7" r="2.7"/>
<circle cx="404.7" cy="146.8" r="2.7"/>
<circle cx="404.7" cy="149.9" r="2.7"/>
<circle cx="404.7" cy="153" r="2.7"/>
<circle cx="404.7" cy="156.1" r="2.7"/>
<circle cx="404.7" cy="159.2" r="2.7"/>
<circle cx="407.3" cy="140.5" r="2.7"/>
<circle cx="407.3" cy="143.5" r="2.7"/>
<circle cx="407.3" cy="146.6" r="2.7"/>
<circle cx="407.3" cy="149.6" r="2.7"/>
<circle cx="407.3" cy="152.7" r="2.7"/>
<circle cx="407.3" cy="155.8" r="2.7"/>
<circle cx="407.3" cy="158.8" r="2.7"/>
<circle cx="410" cy="140.4" r="2.7"/>
<circle cx="410" cy="143.4" r="2.7"/>
<circle cx="410" cy="146.4" r="2.7"/>
<circle cx="410" cy="149.4" r="2.7"/>
<circle cx="410" cy="152.4" r="2.7"/>
<circle cx="410" cy="155.5" r="2.7"/>
<circle cx="410" cy="158.5" r="2.7"/>
<circle cx="412.7" cy="140.3" r="2.7"/>
<circle cx="412.7" cy="143.2" r="2.7"/>
<circle cx="412.7" cy="146.2" r="2.7"/>
<circle cx="412.7" cy="149.2" r="2.7"/>
<circle cx="412.7" cy="152.2" r="2.7"/>
<circle cx="412.7" cy="155.2" r="2.7"/>
<circle cx="412.7" cy="158.1" r="2.7"/>
<circle cx="415.4" cy="140.1" r="2.7"/>
<circle cx="415.4" cy="143.1" r="2.7"/>
<circle cx="415.4" cy="146" r="2.7"/>
<circle cx="415.4" cy="149" r="2.7"/>
<circle cx="415.4" cy="151.9" r="2.7"/>
<circle cx="415.4" cy="154.9" r="2.7"/>
<circle cx="415.4" cy="157.8" r="2.7"/>
<circle cx="418.1" cy="140" r="2.7"/>
<circle cx="418.1" cy="143.5" r="2.7"/>
<circle cx="418.1" cy="147" r="2.7"/>
<circle cx="418.1" cy="150.6" r="2.7"/>
<circle cx="418.1" cy="154.1" r="2.7"/>
<circle cx="418.1" cy="157.6" r="2.7"/>
<circle cx="420.8" cy="139.8" r="2.7"/>
<circle cx="420.8" cy="143.3" r="2.7"/>
<circle cx="420.8" cy="146.9" r="2.7"/>
<circle cx="420.8" cy="150.4" r="2.7"/>
<circle cx="420.8" cy="153.9" r="2.7"/>
<circle cx="420.8" cy="157.4" r="2.7"/>
<circle cx="423.4" cy="139.7" r="2.7"/>
<circle cx="423.4" cy="142.6" r="2.7"/>
<circle cx="423.4" cy="145.5" r="2.7"/>
<circle cx="423.4" cy="148.5" r="2.7"/>
<circle cx="423.4" cy="151.4" r="2.7"/>
<circle cx="423.4" cy="154.4" r="2.7"/>
<circle cx="423.4" cy="157.3" r="2.7"/>
<circle cx="426.1" cy="139.5" r="2.7"/>
<circle cx="426.1" cy="142.5" r="2.7"/>
<circle cx="426.1" cy="145.4" r="2.7"/>
<circle cx="426.1" cy="148.4" r="2.7"/>
<circle cx="426.1" cy="151.3" r="2.7"/>
<circle cx="426.1" cy="154.3" r="2.7"/>
<circle cx="426.1" cy="157.3" r="2.7"/>
<circle cx="428.8" cy="139.4" r="2.7"/>
<circle cx="428.8" cy="142.4" r="2.7"/>
<circle cx="428.8" cy="145.4" r="2.7"/>
<circle cx="428.8" cy="148.3" r="2.7"/>
<circle cx="428.8" cy="151.3" r="2.7"/>
<circle cx="428.8" cy="154.3" r="2.7"/>
<circle cx="428.8" cy="157.3" r="2.7"/>
<circle cx="431.5" cy="139.3" r="2.7"/>
<circle cx="431.5" cy="142.3" r="2.7"/>
<circle cx="431.5" cy="145.3" r="2.7"/>
<circle cx="431.5" cy="148.3" r="2.7"/>
<circle cx="431.5" cy="151.4" r="2.7"/>
<circle cx="431.5" cy="154.4" r="2.7"/>
<circle cx="431.5" cy="157.4" r="2.7"/>
<circle cx="434.2" cy="139.3" r="2.7"/>
<circle cx="434.2" cy="142.3" r="2.7"/>
<circle cx="434.2" cy="145.4" r="2.7"/>
<circle cx="434.2" cy="148.4" r="2.7"/>
<circle cx="434.2" cy="151.5" r="2.7"/>
<circle cx="434.2" cy="154.5" r="2.7"/>
<circle cx="434.2" cy="157.5" r="2.7"/>
<circle cx="436.9" cy="139.4" r="2.7"/>
<circle cx="436.9" cy="142.4" r="2.7"/>
<circle cx="436.9" cy="145.5" r="2.7"/>
<circle cx="436.9" cy="148.6" r="2.7"/>
<circle cx="436.9" cy="151.6" r="2.7"/>
<circle cx="436.9" cy="154.7" r="2.7"/>
<circle cx="436.9" cy="157.7" r="2.7"/>
<circle cx="439.6" cy="139.5" r="2.7"/>
<circle cx="439.6" cy="142.6" r="2.7"/>
<circle cx="439.6" cy="145.7" r="2.7"/>
<circle cx="439.6" cy="148.7" r="2.7"/>
<circle cx="439.6" cy="151.8" r="2.7"/>
<circle cx="439.6" cy="154.9" r="2.7"/>
<circle cx="439.6" cy="158" r="2.7"/>
<circle cx="442.2" cy="139.7" r="2.7"/>
<circle cx="442.2" cy="142.8" r="2.7"/>
<circle cx="442.2" cy="145.9" r="2.7"/>
<circle cx="442.2" cy="149" r="2.7"/>
<circle cx="442.2" cy="152.1" r="2.7"/>
<circle cx="442.2" cy="155.2" r="2.7"/>
<circle cx="442.2" cy="158.3" r="2.7"/>
<circle cx="444.9" cy="139.9" r="2.7"/>
<circle cx="444.9" cy="143" r="2.7"/>
<circle cx="444.9" cy="146.2" r="2.7"/>
<circle cx="444.9" cy="149.3" r="2.7"/>
<circle cx="444.9" cy="152.5" r="2.7"/>
<circle cx="444.9" cy="155.6" r="2.7"/>
<circle cx="444.9" cy="158.8" r="2.7"/>
<circle cx="447.6" cy="140" r="2.7"/>
<circle cx="447.6" cy="143.3" r="2.7"/>
<circle cx="447.6" cy="146.5" r="2.7"/>
<circle cx="447.6" cy="149.8" r="2.7"/>
<circle cx="447.6" cy="153" r="2.7"/>
<circle cx="447.6" cy="156.3" r="2.7"/>
<circle cx="447.6" cy="159.5" r="2.7"/>
<circle cx="450.3" cy="140.1" r="2.7"/>
<circle cx="450.3" cy="143.5" r="2.7"/>
<circle cx="450.3" cy="146.9" r="2.7"/>
<circle cx="450.3" cy="150.2" r="2.7"/>
<circle cx="450.3" cy="153.6" r="2.7"/>
<circle cx="450.3" cy="156.9" r="2.7"/>
<circle cx="450.3" cy="160.3" r="2.7"/>
<circle cx="453" cy="140.2" r="2.7"/>
<circle cx="453" cy="143.7" r="2.7"/>
<circle cx="453" cy="147.1" r="2.7"/>
<circle cx="453" cy="150.6" r="2.7"/>
<circle cx="453" cy="154" r="2.7"/>
<circle cx="453" cy="157.5" r="2.7"/>
<circle cx="453" cy="160.9" r="2.7"/>
<circle cx="455.7" cy="140.2" r="2.7"/>
<circle cx="455.7" cy="143.2" r="2.7"/>
<circle cx="455.7" cy="146.2" r="2.7"/>
<circle cx="455.7" cy="149.2" r="2.7"/>
<circle cx="455.7" cy="152.2" r="2.7"/>
<circle cx="455.7" cy="155.2" r="2.7"/>
<circle cx="455.7" cy="158.2" r="2.7"/>
<circle cx="455.7" cy="161.2" r="2.7"/>
<circle cx="458.4" cy="140.2" r="2.7"/>
<circle cx="458.4" cy="143.6" r="2.7"/>
<circle cx="458.4" cy="147" r="2.7"/>
<circle cx="458.4" cy="150.5" r="2.7"/>
<circle cx="458.4" cy="153.9" r="2.7"/>
<circle cx="458.4" cy="157.3" r="2.7"/>
<circle cx="458.4" cy="160.8" r="2.7"/>
<circle cx="461" cy="140.1" r="2.7"/>
<circle cx="461" cy="143.4" r="2.7"/>
<circle cx="461" cy="146.8" r="2.7"/>
<circle cx="461" cy="150.2" r="2.7"/>
<circle cx="461" cy="153.5" r="2.7"/>
<circle cx="461" cy="156.9" r="2.7"/>
<circle cx="461" cy="160.2" r="2.7"/>
<circle cx="463.7" cy="140" r="2.7"/>
<circle cx="463.7" cy="143.4" r="2.7"/>
<circle cx="463.7" cy="146.7" r="2.7"/>
<circle cx="463.7" cy="150" r="2.7"/>
<circle cx="463.7" cy="153.4" r="2.7"/>
<circle cx="463.7" cy="156.7" r="2.7"/>
<circle cx="463.7" cy="160.1" r="2.7"/>
<circle cx="466.4" cy="140" r="2.7"/>
<circle cx="466.4" cy="143.4" r="2.7"/>
<circle cx="466.4" cy="146.7" r="2.7"/>
<circle cx="466.4" cy="150" r="2.7"/>
<circle cx="466.4" cy="153.4" r="2.7"/>
<circle cx="466.4" cy="156.7" r="2.7"/>
<circle cx="466.4" cy="160.1" r="2.7"/>
<circle cx="469.1" cy="140.1" r="2.7"/>
<circle cx="469.1" cy="143.5" r="2.7"/>
<circle cx="469.1" cy="146.9" r="2.7"/>
<circle cx="469.1" cy="150.3" r="2.7"/>
<circle cx="469.1" cy="153.7" r="2.7"/>
<circle cx="469.1" cy="157.1" r="2.7"/>
<circle cx="469.1" cy="160.4" r="2.7"/>
<circle cx="471.8" cy="140.3" r="2.7"/>
<circle cx="471.8" cy="143.4" r="2.7"/>
<circle cx="471.8" cy="146.4" r="2.7"/>
<circle cx="471.8" cy="149.5" r="2.7"/>
<circle cx="471.8" cy="152.5" r="2.7"/>
<circle cx="471.8" cy="155.5" r="2.7"/>
<circle cx="471.8" cy="158.6" r="2.7"/>
<circle cx="471.8" cy="161.6" r="2.7"/>
<circle cx="474.5" cy="141.3" r="2.7"/>
<circle cx="474.5" cy="144.5" r="2.7"/>
<circle cx="474.5" cy="147.6" r="2.7"/>
<circle cx="474.5" cy="150.7" r="2.7"/>
<circle cx="474.5" cy="153.9" r="2.7"/>
<circle cx="474.5" cy="157" r="2.7"/>
<circle cx="474.5" cy="160.1" r="2.7"/>
<circle cx="474.5" cy="163.3" r="2.7"/>
<circle cx="477.1" cy="142.2" r="2.7"/>
<circle cx="477.1" cy="145.4" r="2.7"/>
<circle cx="477.1" cy="148.6" r="2.7"/>
<circle cx="477.1" cy="151.8" r="2.7"/>
<circle cx="477.1" cy="155" r="2.7"/>
<circle cx="477.1" cy="158.2" r="2.7"/>
<circle cx="477.1" cy="161.4" r="2.7"/>
<circle cx="477.1" cy="164.6" r="2.7"/>
<circle cx="479.8" cy="142.6" r="2.7"/>
<circle cx="479.8" cy="145.7" r="2.7"/>
<circle cx="479.8" cy="148.9" r="2.7"/>
<circle cx="479.8" cy="152.1" r="2.7"/>
<circle cx="479.8" cy="155.3" r="2.7"/>
<circle cx="479.8" cy="158.5" r="2.7"/>
<circle cx="479.8" cy="161.6" r="2.7"/>
<circle cx="479.8" cy="164.8" r="2.7"/>
<circle cx="482.5" cy="142.8" r="2.7"/>
<circle cx="482.5" cy="145.8" r="2.7"/>
<circle cx="482.5" cy="148.8" r="2.7"/>
<circle cx="482.5" cy="151.8" r="2.7"/>
<circle cx="482.5" cy="154.8" r="2.7"/>
<circle cx="482.5" cy="157.8" r="2.7"/>
<circle cx="482.5" cy="160.8" r="2.7"/>
<circle cx="482.5" cy="163.8" r="2.7"/>
<circle cx="485.2" cy="143" r="2.7"/>
<circle cx="485.2" cy="146.3" r="2.7"/>
<circle cx="485.2" cy="149.7" r="2.7"/>
<circle cx="485.2" cy="153.1" r="2.7"/>
<circle cx="485.2" cy="156.5" r="2.7"/>
<circle cx="485.2" cy="159.8" r="2.7"/>
<circle cx="485.2" cy="163.2" r="2.7"/>
<circle cx="487.9" cy="143" r="2.7"/>
<circle cx="487.9" cy="146.3" r="2.7"/>
<circle cx="487.9" cy="149.6" r="2.7"/>
<circle cx="487.9" cy="152.9" r="2.7"/>
<circle cx="487.9" cy="156.3" r="2.7"/>
<circle cx="487.9" cy="159.6" r="2.7"/>
<circle cx="487.9" cy="162.9" r="2.7"/>
<circle cx="490.6" cy="143.2" r="2.7"/>
<circle cx="490.6" cy="146.4" r="2.7"/>
<circle cx="490.6" cy="149.7" r="2.7"/>
<circle cx="490.6" cy="153" r="2.7"/>
<circle cx="490.6" cy="156.2" r="2.7"/>
<circle cx="490.6" cy="159.5" r="2.7"/>
<circle cx="490.6" cy="162.7" r="2.7"/>
<circle cx="493.3" cy="143.5" r="2.7"/>
<circle cx="493.3" cy="146.7" r="2.7"/>
<circle cx="493.3" cy="149.9" r="2.7"/>
<circle cx="493.3" cy="153.1" r="2.7"/>
<circle cx="493.3" cy="156.3" r="2.7"/>
<circle cx="493.3" cy="159.5" r="2.7"/>
<circle cx="493.3" cy="162.7" r="2.7"/>
<circle cx="495.9" cy="143.9" r="2.7"/>
<circle cx="495.9" cy="147" r="2.7"/>
<circle cx="495.9" cy="150.1" r="2.7"/>
<circle cx="495.9" cy="153.2" r="2.7"/>
<circle cx="495.9" cy="156.4" r="2.7"/>
<circle cx="495.9" cy="159.5" r="2.7"/>
<circle cx="495.9" cy="162.6" r="2.7"/>
<circle cx="498.6" cy="144.2" r="2.7"/>
<circle cx="498.6" cy="147.3" r="2.7"/>
<circle cx="498.6" cy="150.4" r="2.7"/>
<circle cx="498.6" cy="153.4" r="2.7"/>
<circle cx="498.6" cy="156.5" r="2.7"/>
<circle cx="498.6" cy="159.6" r="2.7"/>
<circle cx="498.6" cy="162.7" r="2.7"/>
<circle cx="501.3" cy="144.6" r="2.7"/>
<circle cx="501.3" cy="147.6" r="2.7"/>
<circle cx="501.3" cy="150.6" r="2.7"/>
<circle cx="501.3" cy="153.7" r="2.7"/>
<circle cx="501.3" cy="156.7" r="2.7"/>
<circle cx="501.3" cy="159.7" r="2.7"/>
<circle cx="501.3" cy="162.7" r="2.7"/>
<circle cx="504" cy="145" r="2.7"/>
<circle cx="504" cy="147.9" r="2.7"/>
<circle cx="504" cy="150.9" r="2.7"/>
<circle cx="504" cy="153.8" r="2.7"/>
<circle cx="504" cy="156.8" r="2.7"/>
<circle cx="504" cy="159.8" r="2.7"/>
<circle cx="504" cy="162.7" r="2.7"/>
<circle cx="377.8" cy="180" r="2.6"/>
<circle cx="377.8" cy="182.8" r="2.6"/>
<circle cx="377.8" cy="185.5" r="2.6"/>
<circle cx="377.8" cy="188.2" r="2.6"/>
<circle cx="377.8" cy="191" r="2.6"/>
<circle cx="380.4" cy="180" r="2.6"/>
<circle cx="380.4" cy="182.8" r="2.6"/>
<circle cx="380.4" cy="185.5" r="2.6"/>
<circle cx="380.4" cy="188.2" r="2.6"/>
<circle cx="380.4" cy="191" r="2.6"/>
<circle cx="382.9" cy="180" r="2.6"/>
<circle cx="382.9" cy="182.8" r="2.6"/>
<circle cx="382.9" cy="185.5" r="2.6"/>
<circle cx="382.9" cy="188.2" r="2.6"/>
<circle cx="382.9" cy="191" r="2.6"/>
<circle cx="385.4" cy="180" r="2.6"/>
<circle cx="385.4" cy="182.8" r="2.6"/>
<circle cx="385.4" cy="185.5" r="2.6"/>
<circle cx="385.4" cy="188.2" r="2.6"/>
<circle cx="385.4" cy="191" r="2.6"/>
<circle cx="388" cy="180" r="2.6"/>
<circle cx="388" cy="182.8" r="2.6"/>
<circle cx="388" cy="185.5" r="2.6"/>
<circle cx="388" cy="188.2" r="2.6"/>
<circle cx="388" cy="191" r="2.6"/>
<circle cx="497" cy="178.5" r="2.6"/>
<circle cx="497" cy="181.6" r="2.6"/>
<circle cx="497" cy="184.8" r="2.6"/>
<circle cx="497" cy="187.9" r="2.6"/>
<circle cx="497" cy="191" r="2.6"/>
<circle cx="499.4" cy="178.5" r="2.6"/>
<circle cx="499.4" cy="181.6" r="2.6"/>
<circle cx="499.4" cy="184.8" r="2.6"/>
<circle cx="499.4" cy="187.9" r="2.6"/>
<circle cx="499.4" cy="191" r="2.6"/>
<circle cx="501.7" cy="178.5" r="2.6"/>
<circle cx="501.7" cy="181.6" r="2.6"/>
<circle cx="501.7" cy="184.8" r="2.6"/>
<circle cx="501.7" cy="187.9" r="2.6"/>
<circle cx="501.7" cy="191" r="2.6"/>
<circle cx="504.1" cy="178.5" r="2.6"/>
<circle cx="504.1" cy="181.6" r="2.6"/>
<circle cx="504.1" cy="184.8" r="2.6"/>
<circle cx="504.1" cy="187.9" r="2.6"/>
<circle cx="504.1" cy="191" r="2.6"/>
<circle cx="379" cy="147" r="2.6"/>
<circle cx="382" cy="150" r="2.6"/>
<circle cx="385" cy="153" r="2.6"/>
<circle cx="386" cy="156" r="2.6"/>
<circle cx="400.7" cy="164" r="2.5"/>
<circle cx="404.5" cy="164.5" r="2.5"/>
<circle cx="409.2" cy="161.6" r="2.5"/>
<circle cx="409.2" cy="165.9" r="2.5"/>
<circle cx="463.7" cy="164" r="2.5"/>
<circle cx="468.5" cy="165.9" r="2.5"/>
<circle cx="377.8" cy="165.4" r="3.1"/>
<circle cx="380.1" cy="167.6" r="3.1"/>
<circle cx="382.4" cy="169.9" r="3.1"/>
<circle cx="384.7" cy="172.3" r="3.1"/>
<circle cx="387" cy="174.6" r="3.1"/>
<circle cx="389.3" cy="175.5" r="3.1"/>
<circle cx="391.6" cy="175.7" r="3.1"/>
<circle cx="393.9" cy="175.6" r="3.1"/>
<circle cx="396.2" cy="175" r="3.1"/>
<circle cx="398.5" cy="173.9" r="3.1"/>
<circle cx="400.8" cy="172.6" r="3.1"/>
<circle cx="403.1" cy="171" r="3.1"/>
<circle cx="405.4" cy="169.8" r="3.1"/>
<circle cx="407.7" cy="169.9" r="3.1"/>
<circle cx="409.9" cy="170.3" r="3.1"/>
<circle cx="412.2" cy="170.5" r="3.1"/>
<circle cx="414.5" cy="170.7" r="3.1"/>
<circle cx="416.8" cy="170.9" r="3.1"/>
<circle cx="419.1" cy="171.2" r="3.1"/>
<circle cx="421.4" cy="171.7" r="3.1"/>
<circle cx="423.7" cy="172.2" r="3.1"/>
<circle cx="426" cy="172.6" r="3.1"/>
<circle cx="428.3" cy="173" r="3.1"/>
<circle cx="430.6" cy="173.5" r="3.1"/>
<circle cx="432.9" cy="174" r="3.1"/>
<circle cx="435.2" cy="174.4" r="3.1"/>
<circle cx="437.5" cy="174.8" r="3.1"/>
<circle cx="439.8" cy="176.1" r="3.1"/>
<circle cx="442.1" cy="177.4" r="3.1"/>
<circle cx="444.4" cy="178.6" r="3.1"/>
<circle cx="446.7" cy="179.1" r="3.1"/>
<circle cx="449" cy="179.2" r="3.1"/>
<circle cx="451.3" cy="179.3" r="3.1"/>
<circle cx="453.6" cy="179.2" r="3.1"/>
<circle cx="455.9" cy="179.1" r="3.1"/>
<circle cx="458.2" cy="178.8" r="3.1"/>
<circle cx="460.5" cy="178.3" r="3.1"/>
<circle cx="462.8" cy="177.6" r="3.1"/>
<circle cx="465.1" cy="177" r="3.1"/>
<circle cx="467.4" cy="176.5" r="3.1"/>
<circle cx="469.7" cy="176.1" r="3.1"/>
<circle cx="472" cy="175.6" r="3.1"/>
<circle cx="474.2" cy="175.3" r="3.1"/>
<circle cx="476.5" cy="175.3" r="3.1"/>
<circle cx="478.8" cy="175.5" r="3.1"/>
<circle cx="481.1" cy="175.7" r="3.1"/>
<circle cx="483.4" cy="176" r="3.1"/>
<circle cx="485.7" cy="176.4" r="3.1"/>
<circle cx="488" cy="177" r="3.1"/>
<circle cx="490.3" cy="177.6" r="3.1"/>
<circle cx="492.6" cy="178.3" r="3.1"/>
<circle cx="494.9" cy="179.1" r="3.1"/>
<circle cx="497.2" cy="179.8" r="3.1"/>
<circle cx="499.5" cy="180.2" r="3.1"/>
<circle cx="501.8" cy="180.6" r="3.1"/>
<circle cx="504.1" cy="181" r="3.1"/>
<circle cx="377.8" cy="178.7" r="3.1"/>
<circle cx="380.1" cy="177.4" r="3.1"/>
<circle cx="382.4" cy="176.3" r="3.1"/>
<circle cx="384.7" cy="175.5" r="3.1"/>
<circle cx="387" cy="175.8" r="3.1"/>
<circle cx="389.3" cy="178" r="3.1"/>
<circle cx="391.6" cy="179" r="3.1"/>
<circle cx="393.9" cy="179.2" r="3.1"/>
<circle cx="396.2" cy="179" r="3.1"/>
<circle cx="398.5" cy="178.5" r="3.1"/>
<circle cx="400.8" cy="177.8" r="3.1"/>
<circle cx="403.1" cy="177.1" r="3.1"/>
<circle cx="405.4" cy="176.5" r="3.1"/>
<circle cx="407.7" cy="176.3" r="3.1"/>
<circle cx="409.9" cy="176.1" r="3.1"/>
<circle cx="412.2" cy="176.1" r="3.1"/>
<circle cx="414.5" cy="176.3" r="3.1"/>
<circle cx="416.8" cy="177.1" r="3.1"/>
<circle cx="419.1" cy="177.9" r="3.1"/>
<circle cx="421.4" cy="178.7" r="3.1"/>
<circle cx="423.7" cy="179.3" r="3.1"/>
<circle cx="426" cy="179.7" r="3.1"/>
<circle cx="428.3" cy="179.7" r="3.1"/>
<circle cx="430.6" cy="178.9" r="3.1"/>
<circle cx="432.9" cy="177.8" r="3.1"/>
<circle cx="435.2" cy="176.8" r="3.1"/>
<circle cx="437.5" cy="175.6" r="3.1"/>
<circle cx="439.8" cy="173.6" r="3.1"/>
<circle cx="442.1" cy="171.7" r="3.1"/>
<circle cx="444.4" cy="170.3" r="3.1"/>
<circle cx="446.7" cy="169.6" r="3.1"/>
<circle cx="449" cy="169.3" r="3.1"/>
<circle cx="451.3" cy="169.1" r="3.1"/>
<circle cx="453.6" cy="169.1" r="3.1"/>
<circle cx="455.9" cy="169.5" r="3.1"/>
<circle cx="458.2" cy="170" r="3.1"/>
<circle cx="460.5" cy="170.4" r="3.1"/>
<circle cx="462.8" cy="170.7" r="3.1"/>
<circle cx="465.1" cy="170.7" r="3.1"/>
<circle cx="467.4" cy="170.4" r="3.1"/>
<circle cx="469.7" cy="169.9" r="3.1"/>
<circle cx="472" cy="169.1" r="3.1"/>
<circle cx="474.2" cy="168.6" r="3.1"/>
<circle cx="476.5" cy="168.4" r="3.1"/>
<circle cx="478.8" cy="168.3" r="3.1"/>
<circle cx="481.1" cy="168.2" r="3.1"/>
<circle cx="483.4" cy="168.4" r="3.1"/>
<circle cx="485.7" cy="168.8" r="3.1"/>
<circle cx="488" cy="169.3" r="3.1"/>
<circle cx="490.3" cy="169.8" r="3.1"/>
<circle cx="492.6" cy="170.3" r="3.1"/>
<circle cx="494.9" cy="171" r="3.1"/>
<circle cx="497.2" cy="171.7" r="3.1"/>
<circle cx="499.5" cy="172.6" r="3.1"/>
<circle cx="501.8" cy="173.3" r="3.1"/>
<circle cx="504.1" cy="174" r="3.1"/>
<circle cx="377.8" cy="186" r="3.1"/>
<circle cx="380.1" cy="186.1" r="3.1"/>
<circle cx="382.4" cy="186.2" r="3.1"/>
<circle cx="384.7" cy="186.3" r="3.1"/>
<circle cx="387" cy="186.3" r="3.1"/>
<circle cx="389.3" cy="186.3" r="3.1"/>
<circle cx="391.6" cy="186.1" r="3.1"/>
<circle cx="393.9" cy="185.7" r="3.1"/>
<circle cx="396.2" cy="184.9" r="3.1"/>
<circle cx="398.5" cy="183.6" r="3.1"/>
<circle cx="400.8" cy="182.5" r="3.1"/>
<circle cx="403.1" cy="182" r="3.1"/>
<circle cx="405.4" cy="182.1" r="3.1"/>
<circle cx="407.7" cy="182.7" r="3.1"/>
<circle cx="409.9" cy="183.1" r="3.1"/>
<circle cx="412.2" cy="183.4" r="3.1"/>
<circle cx="414.5" cy="183.5" r="3.1"/>
<circle cx="416.8" cy="183.5" r="3.1"/>
<circle cx="419.1" cy="183.5" r="3.1"/>
<circle cx="421.4" cy="183.9" r="3.1"/>
<circle cx="423.7" cy="184.5" r="3.1"/>
<circle cx="426" cy="185.1" r="3.1"/>
<circle cx="428.3" cy="185.8" r="3.1"/>
<circle cx="430.6" cy="186.6" r="3.1"/>
<circle cx="432.9" cy="187.3" r="3.1"/>
<circle cx="435.2" cy="187.8" r="3.1"/>
<circle cx="437.5" cy="188.2" r="3.1"/>
<circle cx="439.8" cy="188.5" r="3.1"/>
<circle cx="442.1" cy="187.3" r="3.1"/>
<circle cx="444.4" cy="185.5" r="3.1"/>
<circle cx="446.7" cy="184.7" r="3.1"/>
<circle cx="449" cy="184.4" r="3.1"/>
<circle cx="451.3" cy="184.6" r="3.1"/>
<circle cx="453.6" cy="185.2" r="3.1"/>
<circle cx="455.9" cy="185.9" r="3.1"/>
<circle cx="458.2" cy="186.6" r="3.1"/>
<circle cx="460.5" cy="187.1" r="3.1"/>
<circle cx="462.8" cy="187.6" r="3.1"/>
<circle cx="465.1" cy="187.9" r="3.1"/>
<circle cx="467.4" cy="188.2" r="3.1"/>
<circle cx="469.7" cy="188.1" r="3.1"/>
<circle cx="472" cy="187.6" r="3.1"/>
<circle cx="474.2" cy="187" r="3.1"/>
<circle cx="476.5" cy="186" r="3.1"/>
<circle cx="478.8" cy="185.1" r="3.1"/>
<circle cx="481.1" cy="184.1" r="3.1"/>
<circle cx="483.4" cy="183.3" r="3.1"/>
<circle cx="485.7" cy="182.8" r="3.1"/>
<circle cx="488" cy="182.4" r="3.1"/>
<circle cx="490.3" cy="182.1" r="3.1"/>
<circle cx="492.6" cy="182" r="3.1"/>
<circle cx="494.9" cy="182.2" r="3.1"/>
<circle cx="497.2" cy="182.6" r="3.1"/>
<circle cx="499.5" cy="183.2" r="3.1"/>
<circle cx="501.8" cy="183.7" r="3.1"/>
<circle cx="504.1" cy="184" r="3.1"/>
<circle cx="377.8" cy="190" r="2.9"/>
<circle cx="380.3" cy="190" r="2.9"/>
<circle cx="382.7" cy="190.1" r="2.9"/>
<circle cx="385.2" cy="190.1" r="2.9"/>
<circle cx="387.7" cy="190" r="2.9"/>
<circle cx="390.2" cy="189.9" r="2.9"/>
<circle cx="392.6" cy="189.6" r="2.9"/>
<circle cx="395.1" cy="189.3" r="2.9"/>
<circle cx="397.6" cy="188.7" r="2.9"/>
<circle cx="400.1" cy="188.1" r="2.9"/>
<circle cx="402.5" cy="187.7" r="2.9"/>
<circle cx="405" cy="187.5" r="2.9"/>
<circle cx="437" cy="190" r="2.9"/>
<circle cx="439.4" cy="190" r="2.9"/>
<circle cx="441.8" cy="190" r="2.9"/>
<circle cx="444.2" cy="190" r="2.9"/>
<circle cx="446.6" cy="190" r="2.9"/>
<circle cx="449.1" cy="190" r="2.9"/>
<circle cx="451.5" cy="190" r="2.9"/>
<circle cx="453.9" cy="190" r="2.9"/>
<circle cx="456.3" cy="190" r="2.9"/>
<circle cx="458.7" cy="190.1" r="2.9"/>
<circle cx="461.1" cy="190.2" r="2.9"/>
<circle cx="463.5" cy="190.3" r="2.9"/>
<circle cx="465.9" cy="190.4" r="2.9"/>
<circle cx="468.4" cy="190.5" r="2.9"/>
<circle cx="470.8" cy="190.3" r="2.9"/>
<circle cx="473.2" cy="190" r="2.9"/>
<circle cx="475.6" cy="189.5" r="2.9"/>
<circle cx="478" cy="189" r="2.9"/>
</g>
<g fill="#f5706f">
<circle cx="377.8" cy="250" r="2.4"/>
<circle cx="380.8" cy="250" r="2.4"/>
<circle cx="383.8" cy="250" r="2.4"/>
<circle cx="386.8" cy="250" r="2.4"/>
<circle cx="389.8" cy="250" r="2.4"/>
<circle cx="392.8" cy="250.1" r="2.4"/>
<circle cx="395.8" cy="250.2" r="2.4"/>
<circle cx="398.8" cy="250.1" r="2.4"/>
<circle cx="401.8" cy="249.8" r="2.4"/>
<circle cx="404.8" cy="249.4" r="2.4"/>
<circle cx="407.8" cy="248.9" r="2.4"/>
<circle cx="410.9" cy="248.4" r="2.4"/>
<circle cx="413.9" cy="247.8" r="2.4"/>
<circle cx="416.9" cy="247.2" r="2.4"/>
<circle cx="419.9" cy="246.3" r="2.4"/>
<circle cx="422.9" cy="245.6" r="2.4"/>
<circle cx="425.9" cy="245.3" r="2.4"/>
<circle cx="428.9" cy="245.4" r="2.4"/>
<circle cx="431.9" cy="245.5" r="2.4"/>
<circle cx="434.9" cy="245.5" r="2.4"/>
<circle cx="437.9" cy="245.4" r="2.4"/>
<circle cx="440.9" cy="245.4" r="2.4"/>
<circle cx="443.9" cy="245.6" r="2.4"/>
<circle cx="446.9" cy="246" r="2.4"/>
<circle cx="449.9" cy="246.4" r="2.4"/>
<circle cx="452.9" cy="246.2" r="2.4"/>
<circle cx="455.9" cy="245" r="2.4"/>
<circle cx="458.9" cy="244.3" r="2.4"/>
<circle cx="461.9" cy="244" r="2.4"/>
<circle cx="464.9" cy="244" r="2.4"/>
<circle cx="467.9" cy="244.5" r="2.4"/>
<circle cx="470.9" cy="245.5" r="2.4"/>
<circle cx="474" cy="247.1" r="2.4"/>
<circle cx="477" cy="248.3" r="2.4"/>
<circle cx="480" cy="249" r="2.4"/>
<circle cx="483" cy="249.1" r="2.4"/>
<circle cx="486" cy="249.2" r="2.4"/>
<circle cx="489" cy="249.2" r="2.4"/>
<circle cx="492" cy="249.2" r="2.4"/>
<circle cx="495" cy="249.1" r="2.4"/>
<circle cx="498" cy="249.1" r="2.4"/>
<circle cx="501" cy="249" r="2.4"/>
<circle cx="504" cy="249" r="2.4"/>
<circle cx="377.8" cy="254.4" r="2.4"/>
<circle cx="380.8" cy="254.4" r="2.4"/>
<circle cx="383.8" cy="254.4" r="2.4"/>
<circle cx="386.8" cy="254.4" r="2.4"/>
<circle cx="389.8" cy="254.4" r="2.4"/>
<circle cx="392.8" cy="254.5" r="2.4"/>
<circle cx="395.8" cy="254.6" r="2.4"/>
<circle cx="398.8" cy="254.5" r="2.4"/>
<circle cx="401.8" cy="254.2" r="2.4"/>
<circle cx="404.8" cy="253.8" r="2.4"/>
<circle cx="407.8" cy="253.3" r="2.4"/>
<circle cx="410.9" cy="252.8" r="2.4"/>
<circle cx="413.9" cy="252.2" r="2.4"/>
<circle cx="416.9" cy="251.6" r="2.4"/>
<circle cx="419.9" cy="250.7" r="2.4"/>
<circle cx="422.9" cy="250" r="2.4"/>
<circle cx="425.9" cy="249.7" r="2.4"/>
<circle cx="428.9" cy="249.8" r="2.4"/>
<circle cx="431.9" cy="249.9" r="2.4"/>
<circle cx="434.9" cy="249.9" r="2.4"/>
<circle cx="437.9" cy="249.8" r="2.4"/>
<circle cx="440.9" cy="249.8" r="2.4"/>
<circle cx="443.9" cy="250" r="2.4"/>
<circle cx="446.9" cy="250.4" r="2.4"/>
<circle cx="449.9" cy="250.8" r="2.4"/>
<circle cx="452.9" cy="250.6" r="2.4"/>
<circle cx="455.9" cy="249.4" r="2.4"/>
<circle cx="458.9" cy="248.7" r="2.4"/>
<circle cx="461.9" cy="248.4" r="2.4"/>
<circle cx="464.9" cy="248.4" r="2.4"/>
<circle cx="467.9" cy="248.9" r="2.4"/>
<circle cx="470.9" cy="249.9" r="2.4"/>
<circle cx="474" cy="251.5" r="2.4"/>
<circle cx="477" cy="252.7" r="2.4"/>
<circle cx="480" cy="253.4" r="2.4"/>
<circle cx="483" cy="253.5" r="2.4"/>
<circle cx="486" cy="253.6" r="2.4"/>
<circle cx="489" cy="253.6" r="2.4"/>
<circle cx="492" cy="253.6" r="2.4"/>
<circle cx="495" cy="253.5" r="2.4"/>
<circle cx="498" cy="253.5" r="2.4"/>
<circle cx="501" cy="253.4" r="2.4"/>
<circle cx="504" cy="253.4" r="2.4"/>
<circle cx="377.8" cy="258.8" r="2.4"/>
<circle cx="380.8" cy="258.8" r="2.4"/>
<circle cx="383.8" cy="258.8" r="2.4"/>
<circle cx="386.8" cy="258.8" r="2.4"/>
<circle cx="389.8" cy="258.8" r="2.4"/>
<circle cx="392.8" cy="258.9" r="2.4"/>
<circle cx="395.8" cy="259" r="2.4"/>
<circle cx="398.8" cy="258.9" r="2.4"/>
<circle cx="401.8" cy="258.6" r="2.4"/>
<circle cx="404.8" cy="258.2" r="2.4"/>
<circle cx="407.8" cy="257.7" r="2.4"/>
<circle cx="410.9" cy="257.2" r="2.4"/>
<circle cx="413.9" cy="256.6" r="2.4"/>
<circle cx="416.9" cy="256" r="2.4"/>
<circle cx="419.9" cy="255.1" r="2.4"/>
<circle cx="422.9" cy="254.4" r="2.4"/>
<circle cx="425.9" cy="254.1" r="2.4"/>
<circle cx="428.9" cy="254.2" r="2.4"/>
<circle cx="431.9" cy="254.3" r="2.4"/>
<circle cx="434.9" cy="254.3" r="2.4"/>
<circle cx="437.9" cy="254.2" r="2.4"/>
<circle cx="440.9" cy="254.2" r="2.4"/>
<circle cx="443.9" cy="254.4" r="2.4"/>
<circle cx="446.9" cy="254.8" r="2.4"/>
<circle cx="449.9" cy="255.2" r="2.4"/>
<circle cx="452.9" cy="255" r="2.4"/>
<circle cx="455.9" cy="253.8" r="2.4"/>
<circle cx="458.9" cy="253.1" r="2.4"/>
<circle cx="461.9" cy="252.8" r="2.4"/>
<circle cx="464.9" cy="252.8" r="2.4"/>
<circle cx="467.9" cy="253.3" r="2.4"/>
<circle cx="470.9" cy="254.3" r="2.4"/>
<circle cx="474" cy="255.9" r="2.4"/>
<circle cx="477" cy="257.1" r="2.4"/>
<circle cx="480" cy="257.8" r="2.4"/>
<circle cx="483" cy="257.9" r="2.4"/>
<circle cx="486" cy="258" r="2.4"/>
<circle cx="489" cy="258" r="2.4"/>
<circle cx="492" cy="258" r="2.4"/>
<circle cx="495" cy="257.9" r="2.4"/>
<circle cx="498" cy="257.9" r="2.4"/>
<circle cx="501" cy="257.8" r="2.4"/>
<circle cx="504" cy="257.8" r="2.4"/>
<circle cx="377.8" cy="263.2" r="2.4"/>
<circle cx="380.8" cy="263.2" r="2.4"/>
<circle cx="383.8" cy="263.2" r="2.4"/>
<circle cx="386.8" cy="263.2" r="2.4"/>
<circle cx="389.8" cy="263.2" r="2.4"/>
<circle cx="392.8" cy="263.3" r="2.4"/>
<circle cx="395.8" cy="263.4" r="2.4"/>
<circle cx="398.8" cy="263.3" r="2.4"/>
<circle cx="401.8" cy="263" r="2.4"/>
<circle cx="404.8" cy="262.6" r="2.4"/>
<circle cx="407.8" cy="262.1" r="2.4"/>
<circle cx="410.9" cy="261.6" r="2.4"/>
<circle cx="413.9" cy="261" r="2.4"/>
<circle cx="416.9" cy="260.4" r="2.4"/>
<circle cx="419.9" cy="259.5" r="2.4"/>
<circle cx="422.9" cy="258.8" r="2.4"/>
<circle cx="425.9" cy="258.5" r="2.4"/>
<circle cx="428.9" cy="258.6" r="2.4"/>
<circle cx="431.9" cy="258.7" r="2.4"/>
<circle cx="434.9" cy="258.7" r="2.4"/>
<circle cx="437.9" cy="258.6" r="2.4"/>
<circle cx="440.9" cy="258.6" r="2.4"/>
<circle cx="443.9" cy="258.8" r="2.4"/>
<circle cx="446.9" cy="259.2" r="2.4"/>
<circle cx="449.9" cy="259.6" r="2.4"/>
<circle cx="452.9" cy="259.4" r="2.4"/>
<circle cx="455.9" cy="258.2" r="2.4"/>
<circle cx="458.9" cy="257.5" r="2.4"/>
<circle cx="461.9" cy="257.2" r="2.4"/>
<circle cx="464.9" cy="257.2" r="2.4"/>
<circle cx="467.9" cy="257.7" r="2.4"/>
<circle cx="470.9" cy="258.7" r="2.4"/>
<circle cx="474" cy="260.3" r="2.4"/>
<circle cx="477" cy="261.5" r="2.4"/>
<circle cx="480" cy="262.2" r="2.4"/>
<circle cx="483" cy="262.3" r="2.4"/>
<circle cx="486" cy="262.4" r="2.4"/>
<circle cx="489" cy="262.4" r="2.4"/>
<circle cx="492" cy="262.4" r="2.4"/>
<circle cx="495" cy="262.3" r="2.4"/>
<circle cx="498" cy="262.3" r="2.4"/>
<circle cx="501" cy="262.2" r="2.4"/>
<circle cx="504" cy="262.2" r="2.4"/>
<circle cx="377.8" cy="267.6" r="2.4"/>
<circle cx="380.8" cy="267.6" r="2.4"/>
<circle cx="383.8" cy="267.6" r="2.4"/>
<circle cx="386.8" cy="267.6" r="2.4"/>
<circle cx="389.8" cy="267.6" r="2.4"/>
<circle cx="392.8" cy="267.7" r="2.4"/>
<circle cx="395.8" cy="267.8" r="2.4"/>
<circle cx="398.8" cy="267.7" r="2.4"/>
<circle cx="401.8" cy="267.4" r="2.4"/>
<circle cx="404.8" cy="267" r="2.4"/>
<circle cx="407.8" cy="266.5" r="2.4"/>
<circle cx="410.9" cy="266" r="2.4"/>
<circle cx="413.9" cy="265.4" r="2.4"/>
<circle cx="416.9" cy="264.8" r="2.4"/>
<circle cx="419.9" cy="263.9" r="2.4"/>
<circle cx="422.9" cy="263.2" r="2.4"/>
<circle cx="425.9" cy="262.9" r="2.4"/>
<circle cx="428.9" cy="263" r="2.4"/>
<circle cx="431.9" cy="263.1" r="2.4"/>
<circle cx="434.9" cy="263.1" r="2.4"/>
<circle cx="437.9" cy="263" r="2.4"/>
<circle cx="440.9" cy="263" r="2.4"/>
<circle cx="443.9" cy="263.2" r="2.4"/>
<circle cx="446.9" cy="263.6" r="2.4"/>
<circle cx="449.9" cy="264" r="2.4"/>
<circle cx="452.9" cy="263.8" r="2.4"/>
<circle cx="455.9" cy="262.6" r="2.4"/>
<circle cx="458.9" cy="261.9" r="2.4"/>
<circle cx="461.9" cy="261.6" r="2.4"/>
<circle cx="464.9" cy="261.6" r="2.4"/>
<circle cx="467.9" cy="262.1" r="2.4"/>
<circle cx="470.9" cy="263.1" r="2.4"/>
<circle cx="474" cy="264.7" r="2.4"/>
<circle cx="477" cy="265.9" r="2.4"/>
<circle cx="480" cy="266.6" r="2.4"/>
<circle cx="483" cy="266.7" r="2.4"/>
<circle cx="486" cy="266.8" r="2.4"/>
<circle cx="489" cy="266.8" r="2.4"/>
<circle cx="492" cy="266.8" r="2.4"/>
<circle cx="495" cy="266.7" r="2.4"/>
<circle cx="498" cy="266.7" r="2.4"/>
<circle cx="501" cy="266.6" r="2.4"/>
<circle cx="504" cy="266.6" r="2.4"/>
<circle cx="377.8" cy="272" r="2.4"/>
<circle cx="380.8" cy="272" r="2.4"/>
<circle cx="383.8" cy="272" r="2.4"/>
<circle cx="386.8" cy="272" r="2.4"/>
<circle cx="389.8" cy="272" r="2.4"/>
<circle cx="392.8" cy="272.1" r="2.4"/>
<circle cx="395.8" cy="272.2" r="2.4"/>
<circle cx="398.8" cy="272.1" r="2.4"/>
<circle cx="401.8" cy="271.8" r="2.4"/>
<circle cx="404.8" cy="271.4" r="2.4"/>
<circle cx="407.8" cy="270.9" r="2.4"/>
<circle cx="410.9" cy="270.4" r="2.4"/>
<circle cx="413.9" cy="269.8" r="2.4"/>
<circle cx="416.9" cy="269.2" r="2.4"/>
<circle cx="419.9" cy="268.3" r="2.4"/>
<circle cx="422.9" cy="267.6" r="2.4"/>
<circle cx="425.9" cy="267.3" r="2.4"/>
<circle cx="428.9" cy="267.4" r="2.4"/>
<circle cx="431.9" cy="267.5" r="2.4"/>
<circle cx="434.9" cy="267.5" r="2.4"/>
<circle cx="437.9" cy="267.4" r="2.4"/>
<circle cx="440.9" cy="267.4" r="2.4"/>
<circle cx="443.9" cy="267.6" r="2.4"/>
<circle cx="446.9" cy="268" r="2.4"/>
<circle cx="449.9" cy="268.4" r="2.4"/>
<circle cx="452.9" cy="268.2" r="2.4"/>
<circle cx="455.9" cy="267" r="2.4"/>
<circle cx="458.9" cy="266.3" r="2.4"/>
<circle cx="461.9" cy="266" r="2.4"/>
<circle cx="464.9" cy="266" r="2.4"/>
<circle cx="467.9" cy="266.5" r="2.4"/>
<circle cx="470.9" cy="267.5" r="2.4"/>
<circle cx="474" cy="269.1" r="2.4"/>
<circle cx="477" cy="270.3" r="2.4"/>
<circle cx="480" cy="271" r="2.4"/>
<circle cx="483" cy="271.1" r="2.4"/>
<circle cx="486" cy="271.2" r="2.4"/>
<circle cx="489" cy="271.2" r="2.4"/>
<circle cx="492" cy="271.2" r="2.4"/>
<circle cx="495" cy="271.1" r="2.4"/>
<circle cx="498" cy="271.1" r="2.4"/>
<circle cx="501" cy="271" r="2.4"/>
<circle cx="504" cy="271" r="2.4"/>
</g>
<g fill="#ffffff">
<circle cx="405" cy="266.4" r="1.6"/>
<circle cx="406.5" cy="266.4" r="1.6"/>
<circle cx="408" cy="266.4" r="1.6"/>
<circle cx="409.5" cy="266.4" r="1.6"/>
<circle cx="411" cy="266.4" r="1.6"/>
<circle cx="412.5" cy="266.4" r="1.6"/>
<circle cx="414" cy="266.4" r="1.6"/>
<circle cx="438.6" cy="260.6" r="1"/>
<circle cx="440" cy="260.6" r="1"/>
<circle cx="441.5" cy="260.6" r="1"/>
<circle cx="442.9" cy="260.6" r="1"/>
<circle cx="444.3" cy="260.6" r="1"/>
<circle cx="445.7" cy="260.6" r="1"/>
<circle cx="447.1" cy="260.6" r="1"/>
<circle cx="448.6" cy="260.6" r="1"/>
<circle cx="450" cy="260.6" r="1"/>
<circle cx="395" cy="262" r="1"/>
<circle cx="396.4" cy="262" r="1"/>
<circle cx="397.8" cy="262" r="1"/>
<circle cx="399.2" cy="262" r="1"/>
<circle cx="400.6" cy="262" r="1"/>
<circle cx="402" cy="262" r="1"/>
<circle cx="378" cy="268.5" r="0.6"/>
<circle cx="381" cy="268.5" r="0.6"/>
<circle cx="384" cy="268.5" r="0.6"/>
<circle cx="387" cy="268.5" r="0.6"/>
<circle cx="390" cy="268.5" r="0.6"/>
<circle cx="393" cy="268.5" r="0.6"/>
<circle cx="396" cy="268.5" r="0.6"/>
<circle cx="399" cy="268.5" r="0.6"/>
<circle cx="402" cy="268.5" r="0.6"/>
<circle cx="405" cy="268.5" r="0.6"/>
<circle cx="408" cy="268.5" r="0.6"/>
<circle cx="411" cy="268.5" r="0.6"/>
<circle cx="414" cy="268.5" r="0.6"/>
<circle cx="417" cy="268.5" r="0.6"/>
<circle cx="420" cy="268.5" r="0.6"/>
<circle cx="423" cy="268.5" r="0.6"/>
<circle cx="426" cy="268.5" r="0.6"/>
<circle cx="429" cy="268.5" r="0.6"/>
<circle cx="432" cy="268.5" r="0.6"/>
<circle cx="435" cy="268.5" r="0.6"/>
<circle cx="438" cy="268.5" r="0.6"/>
<circle cx="441" cy="268.5" r="0.6"/>
<circle cx="444" cy="268.5" r="0.6"/>
<circle cx="447" cy="268.5" r="0.6"/>
<circle cx="450" cy="268.5" r="0.6"/>
<circle cx="453" cy="268.5" r="0.6"/>
<circle cx="456" cy="268.5" r="0.6"/>
<circle cx="459" cy="268.5" r="0.6"/>
<circle cx="462" cy="268.5" r="0.6"/>
<circle cx="465" cy="268.5" r="0.6"/>
<circle cx="468" cy="268.5" r="0.6"/>
<circle cx="471" cy="268.5" r="0.6"/>
<circle cx="474" cy="268.5" r="0.6"/>
<circle cx="477" cy="268.5" r="0.6"/>
<circle cx="480" cy="268.5" r="0.6"/>
<circle cx="483" cy="268.5" r="0.6"/>
<circle cx="486" cy="268.5" r="0.6"/>
<circle cx="489" cy="268.5" r="0.6"/>
<circle cx="492" cy="268.5" r="0.6"/>
<circle cx="495" cy="268.5" r="0.6"/>
<circle cx="498" cy="268.5" r="0.6"/>
<circle cx="501" cy="268.5" r="0.6"/>
<circle cx="504" cy="268.5" r="0.6"/>
<circle cx="378" cy="255.3" r="1.1"/>
<circle cx="381.1" cy="252" r="1.1"/>
<circle cx="381.1" cy="268.5" r="1.1"/>
<circle cx="384.1" cy="265.2" r="1.1"/>
<circle cx="384.1" cy="268.5" r="1.1"/>
<circle cx="390.3" cy="252" r="1.1"/>
<circle cx="390.3" cy="255.3" r="1.1"/>
<circle cx="390.3" cy="265.2" r="1.1"/>
<circle cx="396.4" cy="265.2" r="1.1"/>
<circle cx="399.5" cy="252" r="1.1"/>
<circle cx="399.5" cy="258.6" r="1.1"/>
<circle cx="405.7" cy="255.3" r="1.1"/>
<circle cx="405.7" cy="258.6" r="1.1"/>
<circle cx="414.9" cy="268.5" r="1.1"/>
<circle cx="418" cy="252" r="1.1"/>
<circle cx="430.2" cy="261.9" r="1.1"/>
<circle cx="430.2" cy="268.5" r="1.1"/>
<circle cx="454.8" cy="261.9" r="1.1"/>
<circle cx="457.9" cy="255.3" r="1.1"/>
<circle cx="457.9" cy="265.2" r="1.1"/>
<circle cx="461" cy="258.6" r="1.1"/>
<circle cx="464" cy="261.9" r="1.1"/>
<circle cx="467.1" cy="265.2" r="1.1"/>
<circle cx="470.2" cy="252" r="1.1"/>
<circle cx="479.4" cy="252" r="1.1"/>
<circle cx="479.4" cy="258.6" r="1.1"/>
<circle cx="494.8" cy="255.3" r="1.1"/>
<circle cx="494.8" cy="268.5" r="1.1"/>
</g>
<g fill="#12c98a">
<circle cx="377.8" cy="140.2" r="1.7"/>
<circle cx="381" cy="136.4" r="1.7"/>
<circle cx="384.2" cy="133.4" r="1.7"/>
<circle cx="387.4" cy="132.3" r="1.7"/>
<circle cx="390.6" cy="132.5" r="1.7"/>
<circle cx="393.8" cy="132.5" r="1.7"/>
<circle cx="396.9" cy="132.1" r="1.7"/>
<circle cx="400.1" cy="131.3" r="1.7"/>
<circle cx="403.3" cy="130.5" r="1.7"/>
<circle cx="406.5" cy="129.8" r="1.7"/>
<circle cx="409.7" cy="129.2" r="1.7"/>
<circle cx="405" cy="143" r="1.9"/>
<circle cx="408.2" cy="141.6" r="1.9"/>
<circle cx="411.4" cy="139.4" r="1.9"/>
<circle cx="414.6" cy="136.6" r="1.9"/>
<circle cx="417.8" cy="134.5" r="1.9"/>
<circle cx="421" cy="132.7" r="1.9"/>
<circle cx="424.2" cy="131.6" r="1.9"/>
<circle cx="427.4" cy="131.1" r="1.9"/>
<circle cx="430.5" cy="130.8" r="1.9"/>
<circle cx="433.7" cy="130.7" r="1.9"/>
<circle cx="436.9" cy="130.7" r="1.9"/>
<circle cx="440.1" cy="130.6" r="1.9"/>
<circle cx="443.3" cy="130.9" r="1.9"/>
<circle cx="446.5" cy="131.3" r="1.9"/>
<circle cx="449.7" cy="131.8" r="1.9"/>
<circle cx="452.9" cy="132.4" r="1.9"/>
<circle cx="456.1" cy="132.6" r="1.9"/>
<circle cx="459.3" cy="132.6" r="1.9"/>
<circle cx="462.5" cy="132.9" r="1.9"/>
<circle cx="465.7" cy="133.2" r="1.9"/>
<circle cx="468.9" cy="133.1" r="1.9"/>
<circle cx="472.1" cy="132.3" r="1.9"/>
<circle cx="475.3" cy="132.5" r="1.9"/>
<circle cx="478.5" cy="132.7" r="1.9"/>
<circle cx="481.6" cy="132.6" r="1.9"/>
<circle cx="484.8" cy="132.2" r="1.9"/>
<circle cx="488" cy="131.7" r="1.9"/>
<circle cx="491.2" cy="131.4" r="1.9"/>
<circle cx="494.4" cy="131.3" r="1.9"/>
<circle cx="497.6" cy="131.2" r="1.9"/>
<circle cx="500.8" cy="131.1" r="1.9"/>
<circle cx="504" cy="131" r="1.9"/>
<circle cx="476.7" cy="138.5" r="1.6"/>
<circle cx="480.1" cy="137.5" r="1.6"/>
<circle cx="483.5" cy="136.3" r="1.6"/>
<circle cx="486.9" cy="135.6" r="1.6"/>
<circle cx="490.4" cy="136.9" r="1.6"/>
<circle cx="493.8" cy="138.1" r="1.6"/>
<circle cx="497.2" cy="139.2" r="1.6"/>
<circle cx="500.6" cy="140.2" r="1.6"/>
<circle cx="504" cy="140.7" r="1.6"/>
<circle cx="482.5" cy="142.9" r="1.4"/>
<circle cx="485.6" cy="141.5" r="1.4"/>
<circle cx="488.6" cy="142.9" r="1.4"/>
<circle cx="491.7" cy="144.8" r="1.4"/>
<circle cx="494.8" cy="145.7" r="1.4"/>
<circle cx="497.9" cy="146.8" r="1.4"/>
<circle cx="500.9" cy="147.6" r="1.4"/>
<circle cx="504" cy="148" r="1.4"/>
<circle cx="377.8" cy="130" r="1.5"/>
<circle cx="380.6" cy="130.7" r="1.5"/>
<circle cx="383.5" cy="131.6" r="1.5"/>
<circle cx="386.3" cy="132.6" r="1.5"/>
<circle cx="378.2" cy="148" r="1.5"/>
<circle cx="380.4" cy="153.9" r="1.5"/>
<circle cx="382.6" cy="159.7" r="1.5"/>
<circle cx="378.2" cy="161.2" r="1.5"/>
<circle cx="381.9" cy="163.4" r="1.5"/>
<circle cx="392.1" cy="155.3" r="1.5"/>
<circle cx="396.5" cy="152.4" r="1.5"/>
<circle cx="400.9" cy="148.7" r="1.5"/>
<circle cx="405.3" cy="145.1" r="1.5"/>
<circle cx="485" cy="150" r="1.5"/>
<circle cx="490" cy="155" r="1.5"/>
<circle cx="495" cy="158" r="1.5"/>
<circle cx="500" cy="160" r="1.5"/>
<circle cx="503" cy="163" r="1.5"/>
<circle cx="488" cy="147" r="1.5"/>
<circle cx="497" cy="152" r="1.5"/>
<circle cx="502" cy="156" r="1.5"/>
</g>
<g fill="#7b7f7f">
<circle cx="377.8" cy="246.4" r="2.3"/>
<circle cx="377.8" cy="249.5" r="2.3"/>
<circle cx="377.8" cy="252.6" r="2.3"/>
<circle cx="377.8" cy="255.8" r="2.3"/>
<circle cx="377.8" cy="258.9" r="2.3"/>
<circle cx="377.8" cy="262" r="2.3"/>
<circle cx="380.2" cy="246.4" r="2.3"/>
<circle cx="380.2" cy="249.5" r="2.3"/>
<circle cx="380.2" cy="252.6" r="2.3"/>
<circle cx="380.2" cy="255.8" r="2.3"/>
<circle cx="380.2" cy="258.9" r="2.3"/>
<circle cx="380.2" cy="262" r="2.3"/>
<circle cx="382.6" cy="246.4" r="2.3"/>
<circle cx="382.6" cy="249.5" r="2.3"/>
<circle cx="382.6" cy="252.6" r="2.3"/>
<circle cx="382.6" cy="255.8" r="2.3"/>
<circle cx="382.6" cy="258.9" r="2.3"/>
<circle cx="382.6" cy="262" r="2.3"/>
<circle cx="385" cy="246.4" r="2.3"/>
<circle cx="385" cy="249.5" r="2.3"/>
<circle cx="385" cy="252.6" r="2.3"/>
<circle cx="385" cy="255.8" r="2.3"/>
<circle cx="385" cy="258.9" r="2.3"/>
<circle cx="385" cy="262" r="2.3"/>
<circle cx="387.4" cy="246.4" r="2.3"/>
<circle cx="387.4" cy="249.5" r="2.3"/>
<circle cx="387.4" cy="252.6" r="2.3"/>
<circle cx="387.4" cy="255.8" r="2.3"/>
<circle cx="387.4" cy="258.9" r="2.3"/>
<circle cx="387.4" cy="262" r="2.3"/>
<circle cx="387.4" cy="248.3" r="1.9"/>
<circle cx="390.8" cy="248.3" r="1.9"/>
<circle cx="394.3" cy="248.3" r="1.9"/>
<circle cx="397.8" cy="248.3" r="1.9"/>
<circle cx="401.2" cy="248.3" r="1.9"/>
<circle cx="404.6" cy="248.3" r="1.9"/>
<circle cx="408.1" cy="248.3" r="1.9"/>
<circle cx="411.6" cy="248.3" r="1.9"/>
<circle cx="415" cy="248.3" r="1.9"/>
<circle cx="387.4" cy="249.2" r="1.8"/>
<circle cx="392.1" cy="252.8" r="1.8"/>
<circle cx="396.7" cy="252.7" r="1.8"/>
<circle cx="396.7" cy="263.5" r="1.8"/>
<circle cx="401.4" cy="252.7" r="1.8"/>
<circle cx="406.1" cy="252.7" r="1.8"/>
<circle cx="410.7" cy="249.1" r="1.8"/>
<circle cx="424.7" cy="250.6" r="1.8"/>
<circle cx="429.4" cy="254.3" r="1.8"/>
<circle cx="429.4" cy="257.9" r="1.8"/>
<circle cx="434" cy="257.9" r="1.8"/>
<circle cx="438.7" cy="268.6" r="1.8"/>
<circle cx="443.4" cy="264.9" r="1.8"/>
<circle cx="448" cy="257.5" r="1.8"/>
<circle cx="457.4" cy="257" r="1.8"/>
<circle cx="462" cy="256.3" r="1.8"/>
<circle cx="462" cy="263.5" r="1.8"/>
<circle cx="466.7" cy="269.5" r="1.8"/>
<circle cx="471.4" cy="254.4" r="1.8"/>
<circle cx="476" cy="247.1" r="1.8"/>
<circle cx="476" cy="257.9" r="1.8"/>
<circle cx="476" cy="268.7" r="1.8"/>
<circle cx="480.7" cy="254.2" r="1.8"/>
<circle cx="485.3" cy="247.1" r="1.8"/>
<circle cx="485.3" cy="257.9" r="1.8"/>
<circle cx="490" cy="247.1" r="1.8"/>
<circle cx="490" cy="261.5" r="1.8"/>
<circle cx="490" cy="265.1" r="1.8"/>
<circle cx="494.7" cy="250.8" r="1.8"/>
<circle cx="494.7" cy="254.4" r="1.8"/>
<circle cx="494.7" cy="261.6" r="1.8"/>
<circle cx="494.7" cy="265.2" r="1.8"/>
<circle cx="494.7" cy="268.8" r="1.8"/>
<circle cx="499.3" cy="258.1" r="1.8"/>
<circle cx="504" cy="254.5" r="1.8"/>
<circle cx="390" cy="249.1" r="2.1"/>
<circle cx="394.8" cy="249.1" r="2.1"/>
<circle cx="399.6" cy="249.1" r="2.1"/>
<circle cx="404.4" cy="249.1" r="2.1"/>
<circle cx="409.2" cy="249.1" r="2.1"/>
<circle cx="414" cy="249.1" r="2.1"/>
<circle cx="470" cy="247.3" r="2.1"/>
<circle cx="474.9" cy="247.3" r="2.1"/>
<circle cx="479.7" cy="247.3" r="2.1"/>
<circle cx="484.6" cy="247.3" r="2.1"/>
<circle cx="489.4" cy="247.3" r="2.1"/>
<circle cx="494.3" cy="247.3" r="2.1"/>
<circle cx="499.1" cy="247.3" r="2.1"/>
<circle cx="504" cy="247.3" r="2.1"/>
<circle cx="377.8" cy="250" r="0.9"/>
<circle cx="383.8" cy="250" r="0.9"/>
<circle cx="389.8" cy="250" r="0.9"/>
<circle cx="395.8" cy="250.2" r="0.9"/>
<circle cx="401.8" cy="249.8" r="0.9"/>
<circle cx="407.8" cy="248.9" r="0.9"/>
<circle cx="413.9" cy="247.8" r="0.9"/>
<circle cx="419.9" cy="246.3" r="0.9"/>
<circle cx="425.9" cy="245.3" r="0.9"/>
<circle cx="431.9" cy="245.5" r="0.9"/>
<circle cx="437.9" cy="245.4" r="0.9"/>
<circle cx="443.9" cy="245.6" r="0.9"/>
<circle cx="449.9" cy="246.4" r="0.9"/>
<circle cx="455.9" cy="245" r="0.9"/>
<circle cx="461.9" cy="244" r="0.9"/>
<circle cx="467.9" cy="244.5" r="0.9"/>
<circle cx="474" cy="247.1" r="0.9"/>
<circle cx="480" cy="249" r="0.9"/>
<circle cx="486" cy="249.2" r="0.9"/>
<circle cx="492" cy="249.2" r="0.9"/>
<circle cx="498" cy="249.1" r="0.9"/>
<circle cx="504" cy="249" r="0.9"/>
<circle cx="380.8" cy="254.4" r="0.9"/>
<circle cx="386.8" cy="254.4" r="0.9"/>
<circle cx="392.8" cy="254.5" r="0.9"/>
<circle cx="398.8" cy="254.5" r="0.9"/>
<circle cx="404.8" cy="253.8" r="0.9"/>
<circle cx="410.9" cy="252.8" r="0.9"/>
<circle cx="416.9" cy="251.6" r="0.9"/>
<circle cx="422.9" cy="250" r="0.9"/>
<circle cx="428.9" cy="249.8" r="0.9"/>
<circle cx="434.9" cy="249.9" r="0.9"/>
<circle cx="440.9" cy="249.8" r="0.9"/>
<circle cx="446.9" cy="250.4" r="0.9"/>
<circle cx="452.9" cy="250.6" r="0.9"/>
<circle cx="458.9" cy="248.7" r="0.9"/>
<circle cx="464.9" cy="248.4" r="0.9"/>
<circle cx="470.9" cy="249.9" r="0.9"/>
<circle cx="477" cy="252.7" r="0.9"/>
<circle cx="483" cy="253.5" r="0.9"/>
<circle cx="489" cy="253.6" r="0.9"/>
<circle cx="495" cy="253.5" r="0.9"/>
<circle cx="501" cy="253.4" r="0.9"/>
<circle cx="377.8" cy="258.8" r="0.9"/>
<circle cx="383.8" cy="258.8" r="0.9"/>
<circle cx="389.8" cy="258.8" r="0.9"/>
<circle cx="395.8" cy="259" r="0.9"/>
<circle cx="401.8" cy="258.6" r="0.9"/>
<circle cx="407.8" cy="257.7" r="0.9"/>
<circle cx="413.9" cy="256.6" r="0.9"/>
<circle cx="419.9" cy="255.1" r="0.9"/>
<circle cx="425.9" cy="254.1" r="0.9"/>
<circle cx="431.9" cy="254.3" r="0.9"/>
<circle cx="437.9" cy="254.2" r="0.9"/>
<circle cx="443.9" cy="254.4" r="0.9"/>
<circle cx="449.9" cy="255.2" r="0.9"/>
<circle cx="455.9" cy="253.8" r="0.9"/>
<circle cx="461.9" cy="252.8" r="0.9"/>
<circle cx="467.9" cy="253.3" r="0.9"/>
<circle cx="474" cy="255.9" r="0.9"/>
<circle cx="480" cy="257.8" r="0.9"/>
<circle cx="486" cy="258" r="0.9"/>
<circle cx="492" cy="258" r="0.9"/>
<circle cx="498" cy="257.9" r="0.9"/>
<circle cx="504" cy="257.8" r="0.9"/>
<circle cx="380.8" cy="263.2" r="0.9"/>
<circle cx="386.8" cy="263.2" r="0.9"/>
<circle cx="392.8" cy="263.3" r="0.9"/>
<circle cx="398.8" cy="263.3" r="0.9"/>
<circle cx="404.8" cy="262.6" r="0.9"/>
<circle cx="410.9" cy="261.6" r="0.9"/>
<circle cx="416.9" cy="260.4" r="0.9"/>
<circle cx="422.9" cy="258.8" r="0.9"/>
<circle cx="428.9" cy="258.6" r="0.9"/>
<circle cx="434.9" cy="258.7" r="0.9"/>
<circle cx="440.9" cy="258.6" r="0.9"/>
<circle cx="446.9" cy="259.2" r="0.9"/>
<circle cx="452.9" cy="259.4" r="0.9"/>
<circle cx="458.9" cy="257.5" r="0.9"/>
<circle cx="464.9" cy="257.2" r="0.9"/>
<circle cx="470.9" cy="258.7" r="0.9"/>
<circle cx="477" cy="261.5" r="0.9"/>
<circle cx="483" cy="262.3" r="0.9"/>
<circle cx="489" cy="262.4" r="0.9"/>
<circle cx="495" cy="262.3" r="0.9"/>
<circle cx="501" cy="262.2" r="0.9"/>
<circle cx="377.8" cy="267.6" r="0.9"/>
<circle cx="383.8" cy="267.6" r="0.9"/>
<circle cx="389.8" cy="267.6" r="0.9"/>
<circle cx="395.8" cy="267.8" r="0.9"/>
<circle cx="401.8" cy="267.4" r="0.9"/>
<circle cx="407.8" cy="266.5" r="0.9"/>
<circle cx="413.9" cy="265.4" r="0.9"/>
<circle cx="419.9" cy="263.9" r="0.9"/>
<circle cx="425.9" cy="262.9" r="0.9"/>
<circle cx="431.9" cy="263.1" r="0.9"/>
<circle cx="437.9" cy="263" r="0.9"/>
<circle cx="443.9" cy="263.2" r="0.9"/>
<circle cx="449.9" cy="264" r="0.9"/>
<circle cx="455.9" cy="262.6" r="0.9"/>
<circle cx="461.9" cy="261.6" r="0.9"/>
<circle cx="467.9" cy="262.1" r="0.9"/>
<circle cx="474" cy="264.7" r="0.9"/>
<circle cx="480" cy="266.6" r="0.9"/>
<circle cx="486" cy="266.8" r="0.9"/>
<circle cx="492" cy="266.8" r="0.9"/>
<circle cx="498" cy="266.7" r="0.9"/>
<circle cx="504" cy="266.6" r="0.9"/>
<circle cx="380.8" cy="272" r="0.9"/>
<circle cx="386.8" cy="272" r="0.9"/>
<circle cx="392.8" cy="272.1" r="0.9"/>
<circle cx="398.8" cy="272.1" r="0.9"/>
<circle cx="404.8" cy="271.4" r="0.9"/>
<circle cx="410.9" cy="270.4" r="0.9"/>
<circle cx="416.9" cy="269.2" r="0.9"/>
<circle cx="422.9" cy="267.6" r="0.9"/>
<circle cx="428.9" cy="267.4" r="0.9"/>
<circle cx="434.9" cy="267.5" r="0.9"/>
<circle cx="440.9" cy="267.4" r="0.9"/>
<circle cx="446.9" cy="268" r="0.9"/>
<circle cx="452.9" cy="268.2" r="0.9"/>
<circle cx="458.9" cy="266.3" r="0.9"/>
<circle cx="464.9" cy="266" r="0.9"/>
<circle cx="470.9" cy="267.5" r="0.9"/>
<circle cx="477" cy="270.3" r="0.9"/>
<circle cx="483" cy="271.1" r="0.9"/>
<circle cx="489" cy="271.2" r="0.9"/>
<circle cx="495" cy="271.1" r="0.9"/>
<circle cx="501" cy="271" r="0.9"/>
<circle cx="377.8" cy="141.2" r="0.8"/>
<circle cx="377.8" cy="151.1" r="0.8"/>
<circle cx="377.8" cy="161.1" r="0.8"/>
<circle cx="380.5" cy="147.8" r="0.8"/>
<circle cx="380.5" cy="157.8" r="0.8"/>
<circle cx="383.2" cy="144.5" r="0.8"/>
<circle cx="383.2" cy="154.5" r="0.8"/>
<circle cx="385.9" cy="141.1" r="0.8"/>
<circle cx="385.9" cy="151.1" r="0.8"/>
<circle cx="385.9" cy="161.2" r="0.8"/>
<circle cx="388.5" cy="147.8" r="0.8"/>
<circle cx="388.5" cy="157.8" r="0.8"/>
<circle cx="391.2" cy="144.3" r="0.8"/>
<circle cx="391.2" cy="154.4" r="0.8"/>
<circle cx="393.9" cy="140.9" r="0.8"/>
<circle cx="393.9" cy="151" r="0.8"/>
<circle cx="393.9" cy="161.1" r="0.8"/>
<circle cx="396.6" cy="147.5" r="0.8"/>
<circle cx="396.6" cy="157.5" r="0.8"/>
<circle cx="399.3" cy="144" r="0.8"/>
<circle cx="399.3" cy="153.8" r="0.8"/>
<circle cx="402" cy="140.6" r="0.8"/>
<circle cx="402" cy="150.1" r="0.8"/>
<circle cx="402" cy="159.7" r="0.8"/>
<circle cx="404.7" cy="146.8" r="0.8"/>
<circle cx="404.7" cy="156.1" r="0.8"/>
<circle cx="407.3" cy="143.5" r="0.8"/>
<circle cx="407.3" cy="152.7" r="0.8"/>
<circle cx="410" cy="140.4" r="0.8"/>
<circle cx="410" cy="149.4" r="0.8"/>
<circle cx="410" cy="158.5" r="0.8"/>
<circle cx="412.7" cy="146.2" r="0.8"/>
<circle cx="412.7" cy="155.2" r="0.8"/>
<circle cx="415.4" cy="143.1" r="0.8"/>
<circle cx="415.4" cy="151.9" r="0.8"/>
<circle cx="418.1" cy="140" r="0.8"/>
<circle cx="418.1" cy="150.6" r="0.8"/>
<circle cx="420.8" cy="146.9" r="0.8"/>
<circle cx="420.8" cy="157.4" r="0.8"/>
<circle cx="423.4" cy="142.6" r="0.8"/>
<circle cx="423.4" cy="151.4" r="0.8"/>
<circle cx="426.1" cy="139.5" r="0.8"/>
<circle cx="426.1" cy="148.4" r="0.8"/>
<circle cx="426.1" cy="157.3" r="0.8"/>
<circle cx="428.8" cy="145.4" r="0.8"/>
<circle cx="428.8" cy="154.3" r="0.8"/>
<circle cx="431.5" cy="142.3" r="0.8"/>
<circle cx="431.5" cy="151.4" r="0.8"/>
<circle cx="434.2" cy="139.3" r="0.8"/>
<circle cx="434.2" cy="148.4" r="0.8"/>
<circle cx="434.2" cy="157.5" r="0.8"/>
<circle cx="436.9" cy="145.5" r="0.8"/>
<circle cx="436.9" cy="154.7" r="0.8"/>
<circle cx="439.6" cy="142.6" r="0.8"/>
<circle cx="439.6" cy="151.8" r="0.8"/>
<circle cx="442.2" cy="139.7" r="0.8"/>
<circle cx="442.2" cy="149" r="0.8"/>
<circle cx="442.2" cy="158.3" r="0.8"/>
<circle cx="444.9" cy="146.2" r="0.8"/>
<circle cx="444.9" cy="155.6" r="0.8"/>
<circle cx="447.6" cy="143.3" r="0.8"/>
<circle cx="447.6" cy="153" r="0.8"/>
<circle cx="450.3" cy="140.1" r="0.8"/>
<circle cx="450.3" cy="150.2" r="0.8"/>
<circle cx="450.3" cy="160.3" r="0.8"/>
<circle cx="453" cy="147.1" r="0.8"/>
<circle cx="453" cy="157.5" r="0.8"/>
<circle cx="455.7" cy="143.2" r="0.8"/>
<circle cx="455.7" cy="152.2" r="0.8"/>
<circle cx="455.7" cy="161.2" r="0.8"/>
<circle cx="458.4" cy="140.2" r="0.8"/>
<circle cx="458.4" cy="150.5" r="0.8"/>
<circle cx="458.4" cy="160.8" r="0.8"/>
<circle cx="461" cy="146.8" r="0.8"/>
<circle cx="461" cy="156.9" r="0.8"/>
<circle cx="463.7" cy="143.4" r="0.8"/>
<circle cx="463.7" cy="153.4" r="0.8"/>
<circle cx="466.4" cy="140" r="0.8"/>
<circle cx="466.4" cy="150" r="0.8"/>
<circle cx="466.4" cy="160.1" r="0.8"/>
<circle cx="469.1" cy="146.9" r="0.8"/>
<circle cx="469.1" cy="157.1" r="0.8"/>
<circle cx="471.8" cy="143.4" r="0.8"/>
<circle cx="471.8" cy="152.5" r="0.8"/>
<circle cx="471.8" cy="161.6" r="0.8"/>
<circle cx="474.5" cy="141.3" r="0.8"/>
<circle cx="474.5" cy="150.7" r="0.8"/>
<circle cx="474.5" cy="160.1" r="0.8"/>
<circle cx="477.1" cy="148.6" r="0.8"/>
<circle cx="477.1" cy="158.2" r="0.8"/>
<circle cx="479.8" cy="145.7" r="0.8"/>
<circle cx="479.8" cy="155.3" r="0.8"/>
<circle cx="479.8" cy="164.8" r="0.8"/>
<circle cx="482.5" cy="142.8" r="0.8"/>
<circle cx="482.5" cy="151.8" r="0.8"/>
<circle cx="482.5" cy="160.8" r="0.8"/>
<circle cx="485.2" cy="149.7" r="0.8"/>
<circle cx="485.2" cy="159.8" r="0.8"/>
<circle cx="487.9" cy="146.3" r="0.8"/>
<circle cx="487.9" cy="156.3" r="0.8"/>
<circle cx="490.6" cy="143.2" r="0.8"/>
<circle cx="490.6" cy="153" r="0.8"/>
<circle cx="490.6" cy="162.7" r="0.8"/>
<circle cx="493.3" cy="149.9" r="0.8"/>
<circle cx="493.3" cy="159.5" r="0.8"/>
<circle cx="495.9" cy="147" r="0.8"/>
<circle cx="495.9" cy="156.4" r="0.8"/>
<circle cx="498.6" cy="144.2" r="0.8"/>
<circle cx="498.6" cy="153.4" r="0.8"/>
<circle cx="498.6" cy="162.7" r="0.8"/>
<circle cx="501.3" cy="150.6" r="0.8"/>
<circle cx="501.3" cy="159.7" r="0.8"/>
<circle cx="504" cy="147.9" r="0.8"/>
<circle cx="504" cy="156.8" r="0.8"/>
<circle cx="377.8" cy="180" r="0.7"/>
<circle cx="377.8" cy="188.2" r="0.7"/>
<circle cx="380.4" cy="185.5" r="0.7"/>
<circle cx="382.9" cy="182.8" r="0.7"/>
<circle cx="382.9" cy="191" r="0.7"/>
<circle cx="385.4" cy="180" r="0.7"/>
<circle cx="385.4" cy="188.2" r="0.7"/>
<circle cx="388" cy="185.5" r="0.7"/>
<circle cx="497" cy="178.5" r="0.7"/>
<circle cx="497" cy="187.9" r="0.7"/>
<circle cx="499.4" cy="184.8" r="0.7"/>
<circle cx="501.7" cy="181.6" r="0.7"/>
<circle cx="501.7" cy="191" r="0.7"/>
<circle cx="504.1" cy="178.5" r="0.7"/>
<circle cx="504.1" cy="187.9" r="0.7"/>
<circle cx="377.8" cy="165.4" r="0.7"/>
<circle cx="384.7" cy="172.3" r="0.7"/>
<circle cx="391.6" cy="175.7" r="0.7"/>
<circle cx="398.5" cy="173.9" r="0.7"/>
<circle cx="405.4" cy="169.8" r="0.7"/>
<circle cx="412.2" cy="170.5" r="0.7"/>
<circle cx="419.1" cy="171.2" r="0.7"/>
<circle cx="426" cy="172.6" r="0.7"/>
<circle cx="432.9" cy="174" r="0.7"/>
<circle cx="439.8" cy="176.1" r="0.7"/>
<circle cx="446.7" cy="179.1" r="0.7"/>
<circle cx="453.6" cy="179.2" r="0.7"/>
<circle cx="460.5" cy="178.3" r="0.7"/>
<circle cx="467.4" cy="176.5" r="0.7"/>
<circle cx="474.2" cy="175.3" r="0.7"/>
<circle cx="481.1" cy="175.7" r="0.7"/>
<circle cx="488" cy="177" r="0.7"/>
<circle cx="494.9" cy="179.1" r="0.7"/>
<circle cx="501.8" cy="180.6" r="0.7"/>
<circle cx="377.8" cy="178.7" r="0.7"/>
<circle cx="384.7" cy="175.5" r="0.7"/>
<circle cx="391.6" cy="179" r="0.7"/>
<circle cx="398.5" cy="178.5" r="0.7"/>
<circle cx="405.4" cy="176.5" r="0.7"/>
<circle cx="412.2" cy="176.1" r="0.7"/>
<circle cx="419.1" cy="177.9" r="0.7"/>
<circle cx="426" cy="179.7" r="0.7"/>
<circle cx="432.9" cy="177.8" r="0.7"/>
<circle cx="439.8" cy="173.6" r="0.7"/>
<circle cx="446.7" cy="169.6" r="0.7"/>
<circle cx="453.6" cy="169.1" r="0.7"/>
<circle cx="460.5" cy="170.4" r="0.7"/>
<circle cx="467.4" cy="170.4" r="0.7"/>
<circle cx="474.2" cy="168.6" r="0.7"/>
<circle cx="481.1" cy="168.2" r="0.7"/>
<circle cx="488" cy="169.3" r="0.7"/>
<circle cx="494.9" cy="171" r="0.7"/>
<circle cx="501.8" cy="173.3" r="0.7"/>
<circle cx="377.8" cy="186" r="0.7"/>
<circle cx="384.7" cy="186.3" r="0.7"/>
<circle cx="391.6" cy="186.1" r="0.7"/>
<circle cx="398.5" cy="183.6" r="0.7"/>
<circle cx="405.4" cy="182.1" r="0.7"/>
<circle cx="412.2" cy="183.4" r="0.7"/>
<circle cx="419.1" cy="183.5" r="0.7"/>
<circle cx="426" cy="185.1" r="0.7"/>
<circle cx="432.9" cy="187.3" r="0.7"/>
<circle cx="439.8" cy="188.5" r="0.7"/>
<circle cx="446.7" cy="184.7" r="0.7"/>
<circle cx="453.6" cy="185.2" r="0.7"/>
<circle cx="460.5" cy="187.1" r="0.7"/>
<circle cx="467.4" cy="188.2" r="0.7"/>
<circle cx="474.2" cy="187" r="0.7"/>
<circle cx="481.1" cy="184.1" r="0.7"/>
<circle cx="488" cy="182.4" r="0.7"/>
<circle cx="494.9" cy="182.2" r="0.7"/>
<circle cx="501.8" cy="183.7" r="0.7"/>
<circle cx="377.8" cy="190" r="0.7"/>
<circle cx="385.2" cy="190.1" r="0.7"/>
<circle cx="392.6" cy="189.6" r="0.7"/>
<circle cx="400.1" cy="188.1" r="0.7"/>
<circle cx="437" cy="190" r="0.7"/>
<circle cx="444.2" cy="190" r="0.7"/>
<circle cx="451.5" cy="190" r="0.7"/>
<circle cx="458.7" cy="190.1" r="0.7"/>
<circle cx="465.9" cy="190.4" r="0.7"/>
<circle cx="473.2" cy="190" r="0.7"/>
</g>
</g>
<line x1="387.40" y1="129.80" x2="387.40" y2="270.80" stroke="#444" stroke-width="1.0" stroke-dasharray="2.2,2.7"/>
<line x1="440.90" y1="129.80" x2="440.90" y2="270.80" stroke="#aaa" stroke-width="1.0" stroke-dasharray="2.2,2.7"/>
<line x1="450.50" y1="129.80" x2="450.50" y2="270.80" stroke="#444" stroke-width="1.0" stroke-dasharray="2.2,2.7"/>
<rect x="377.80" y="129.80" width="126.30" height="141.00" fill="none" stroke="#7d7d7d" stroke-width="1.15"/>
<line x1="377.80" y1="141.50" x2="380.80" y2="141.50" stroke="#666" stroke-width="0.9" />
<text x="374.90" y="145.40" font-size="11" text-anchor="end" font-weight="normal" font-style="normal" fill="#000" font-family="'Liberation Sans', sans-serif" >4</text>
<line x1="377.80" y1="165.00" x2="380.80" y2="165.00" stroke="#666" stroke-width="0.9" />
<text x="374.90" y="168.90" font-size="11" text-anchor="end" font-weight="normal" font-style="normal" fill="#000" font-family="'Liberation Sans', sans-serif" >3</text>
<line x1="377.80" y1="188.50" x2="380.80" y2="188.50" stroke="#666" stroke-width="0.9" />
<text x="374.90" y="192.40" font-size="11" text-anchor="end" font-weight="normal" font-style="normal" fill="#000" font-family="'Liberation Sans', sans-serif" >2</text>
<line x1="377.80" y1="212.00" x2="380.80" y2="212.00" stroke="#666" stroke-width="0.9" />
<text x="374.90" y="215.90" font-size="11" text-anchor="end" font-weight="normal" font-style="normal" fill="#000" font-family="'Liberation Sans', sans-serif" >1</text>
<line x1="377.80" y1="235.50" x2="380.80" y2="235.50" stroke="#666" stroke-width="0.9" />
<text x="374.90" y="239.40" font-size="11" text-anchor="end" font-weight="normal" font-style="normal" fill="#000" font-family="'Liberation Sans', sans-serif" >0</text>
<line x1="377.80" y1="259.00" x2="380.80" y2="259.00" stroke="#666" stroke-width="0.9" />
<text x="374.90" y="262.90" font-size="11" text-anchor="end" font-weight="normal" font-style="normal" fill="#000" font-family="'Liberation Sans', sans-serif" >-1</text>
<text x="377.80" y="284.80" font-size="16.5" text-anchor="middle" font-weight="normal" font-style="normal" fill="#000" font-family="'Liberation Serif', serif" >Γ</text>
<text x="388.30" y="284.80" font-size="15" text-anchor="middle" font-weight="normal" font-style="normal" fill="#000" font-family="'Liberation Sans', sans-serif" >X</text>
<text x="440.40" y="284.80" font-size="15" text-anchor="middle" font-weight="normal" font-style="normal" fill="#000" font-family="'Liberation Sans', sans-serif" >S</text>
<text x="450.40" y="284.80" font-size="15" text-anchor="middle" font-weight="normal" font-style="normal" fill="#000" font-family="'Liberation Sans', sans-serif" >Y</text>
<text x="503.60" y="284.80" font-size="16.5" text-anchor="middle" font-weight="normal" font-style="normal" fill="#000" font-family="'Liberation Serif', serif" >Γ</text>
<text x="390.90" y="123.70" font-size="11.6" text-anchor="start" font-weight="normal" font-style="normal" fill="#000" font-family="'Liberation Sans', sans-serif" >Ge</text>
<circle cx="412.00" cy="120.20" r="3.40" fill="#12c98a" />
<text x="422.90" y="123.70" font-size="11.6" text-anchor="start" font-weight="normal" font-style="normal" fill="#000" font-family="'Liberation Sans', sans-serif" >O</text>
<circle cx="436.90" cy="120.20" r="3.40" fill="#f5706f" />
<text x="447.00" y="123.70" font-size="11.6" text-anchor="start" font-weight="normal" font-style="normal" fill="#000" font-family="'Liberation Sans', sans-serif" >Hf</text>
<circle cx="465.30" cy="120.20" r="3.40" fill="#fdbf00" />
<text x="474.00" y="123.70" font-size="11.6" text-anchor="start" font-weight="normal" font-style="normal" fill="#000" font-family="'Liberation Sans', sans-serif" >S</text>
<circle cx="487.20" cy="120.20" r="3.40" fill="#7b7f7f" />
<text transform="translate(360.60,200.30) rotate(-90)" x="0" y="0" font-size="16.1" text-anchor="middle" font-family="'Liberation Sans', sans-serif"><tspan font-style="italic">E</tspan>-<tspan font-style="italic">E</tspan><tspan font-size="10.5" dy="3.4">Fermi</tspan><tspan dy="-3.4">(eV)</tspan></text>
<line x1="463.90" y1="191.30" x2="504.10" y2="191.30" stroke="#333" stroke-width="0.9" stroke-dasharray="3,2.4"/>
<line x1="468.20" y1="191.30" x2="468.20" y2="246.80" stroke="#000" stroke-width="1.0" />
<polyline points="465.00,194.50 468.20,191.60 471.40,194.50" fill="none" stroke="#000" stroke-width="1"/>
<polyline points="465.00,243.60 468.20,246.50 471.40,243.60" fill="none" stroke="#000" stroke-width="1"/>
<text x="471.60" y="220.20" font-size="11.5" text-anchor="start" font-weight="normal" font-style="normal" fill="#000" font-family="'Liberation Sans', sans-serif" >2.4</text>
<clipPath id="clipg"><rect x="29.6" y="319.7" width="126.9" height="142.60000000000002"/></clipPath>
<g clip-path="url(#clipg)">
<g fill="#fdbf00">
<circle cx="29.6" cy="420.2" r="2.8"/>
<circle cx="32" cy="420.4" r="2.8"/>
<circle cx="34.4" cy="420.6" r="2.8"/>
<circle cx="36.8" cy="420.7" r="2.8"/>
<circle cx="39.2" cy="420.9" r="2.8"/>
<circle cx="41.6" cy="421.2" r="2.8"/>
<circle cx="44" cy="421.7" r="2.8"/>
<circle cx="46.4" cy="422.3" r="2.8"/>
<circle cx="48.8" cy="423.1" r="2.8"/>
<circle cx="51.1" cy="424.1" r="2.8"/>
<circle cx="53.5" cy="425.3" r="2.8"/>
<circle cx="55.9" cy="426.5" r="2.8"/>
<circle cx="58.3" cy="427.9" r="2.8"/>
<circle cx="60.7" cy="429.4" r="2.8"/>
<circle cx="63.1" cy="431" r="2.8"/>
<circle cx="65.5" cy="432.4" r="2.8"/>
<circle cx="67.9" cy="433.6" r="2.8"/>
<circle cx="70.3" cy="434.5" r="2.8"/>
<circle cx="72.7" cy="435" r="2.8"/>
<circle cx="75.1" cy="434.9" r="2.8"/>
<circle cx="77.5" cy="434.3" r="2.8"/>
<circle cx="79.9" cy="433.1" r="2.8"/>
<circle cx="82.3" cy="431.9" r="2.8"/>
<circle cx="84.7" cy="430.6" r="2.8"/>
<circle cx="87.1" cy="429.7" r="2.8"/>
<circle cx="89.5" cy="428.8" r="2.8"/>
<circle cx="91.9" cy="428" r="2.8"/>
<circle cx="94.2" cy="427.1" r="2.8"/>
<circle cx="96.6" cy="426.1" r="2.8"/>
<circle cx="99" cy="425.1" r="2.8"/>
<circle cx="101.4" cy="424.2" r="2.8"/>
<circle cx="103.8" cy="423.5" r="2.8"/>
<circle cx="106.2" cy="422.9" r="2.8"/>
<circle cx="108.6" cy="422.4" r="2.8"/>
<circle cx="111" cy="421.9" r="2.8"/>
<circle cx="113.4" cy="421.7" r="2.8"/>
<circle cx="115.8" cy="421.5" r="2.8"/>
<circle cx="118.2" cy="421.3" r="2.8"/>
<circle cx="120.6" cy="421.3" r="2.8"/>
<circle cx="123" cy="421.3" r="2.8"/>
<circle cx="125.4" cy="421.5" r="2.8"/>
<circle cx="127.8" cy="421.8" r="2.8"/>
<circle cx="130.2" cy="422.2" r="2.8"/>
<circle cx="132.6" cy="422.3" r="2.8"/>
<circle cx="135" cy="422.1" r="2.8"/>
<circle cx="137.3" cy="421.8" r="2.8"/>
<circle cx="139.7" cy="421.4" r="2.8"/>
<circle cx="142.1" cy="421" r="2.8"/>
<circle cx="144.5" cy="420.6" r="2.8"/>
<circle cx="146.9" cy="420.1" r="2.8"/>
<circle cx="149.3" cy="419.7" r="2.8"/>
<circle cx="151.7" cy="419.3" r="2.8"/>
<circle cx="154.1" cy="418.9" r="2.8"/>
<circle cx="156.5" cy="418.5" r="2.8"/>
<circle cx="29.6" cy="431.5" r="2.8"/>
<circle cx="32" cy="432.2" r="2.8"/>
<circle cx="34.4" cy="432.8" r="2.8"/>
<circle cx="36.8" cy="433.4" r="2.8"/>
<circle cx="39.2" cy="433.9" r="2.8"/>
<circle cx="41.6" cy="434.3" r="2.8"/>
<circle cx="44" cy="434.6" r="2.8"/>
<circle cx="46.4" cy="434.8" r="2.8"/>
<circle cx="48.8" cy="434.9" r="2.8"/>
<circle cx="51.1" cy="434.8" r="2.8"/>
<circle cx="53.5" cy="434.7" r="2.8"/>
<circle cx="55.9" cy="434.6" r="2.8"/>
<circle cx="58.3" cy="434.3" r="2.8"/>
<circle cx="60.7" cy="434" r="2.8"/>
<circle cx="63.1" cy="433.9" r="2.8"/>
<circle cx="65.5" cy="434.1" r="2.8"/>
<circle cx="67.9" cy="434.9" r="2.8"/>
<circle cx="70.3" cy="435.6" r="2.8"/>
<circle cx="72.7" cy="435.9" r="2.8"/>
<circle cx="75.1" cy="436" r="2.8"/>
<circle cx="77.5" cy="435.6" r="2.8"/>
<circle cx="79.9" cy="435" r="2.8"/>
<circle cx="82.3" cy="434.5" r="2.8"/>
<circle cx="84.7" cy="433.9" r="2.8"/>
<circle cx="87.1" cy="433.2" r="2.8"/>
<circle cx="89.5" cy="432.6" r="2.8"/>
<circle cx="91.9" cy="432" r="2.8"/>
<circle cx="94.2" cy="431.3" r="2.8"/>
<circle cx="96.6" cy="430.7" r="2.8"/>
<circle cx="99" cy="430.2" r="2.8"/>
<circle cx="101.4" cy="429.8" r="2.8"/>
<circle cx="103.8" cy="429.6" r="2.8"/>
<circle cx="106.2" cy="429.5" r="2.8"/>
<circle cx="108.6" cy="429.5" r="2.8"/>
<circle cx="111" cy="429.5" r="2.8"/>
<circle cx="113.4" cy="429.7" r="2.8"/>
<circle cx="115.8" cy="429.8" r="2.8"/>
<circle cx="118.2" cy="430" r="2.8"/>
<circle cx="120.6" cy="430" r="2.8"/>
<circle cx="123" cy="429.9" r="2.8"/>
<circle cx="125.4" cy="429.7" r="2.8"/>
<circle cx="127.8" cy="429.5" r="2.8"/>
<circle cx="130.2" cy="429.3" r="2.8"/>
<circle cx="132.6" cy="429" r="2.8"/>
<circle cx="135" cy="428.7" r="2.8"/>
<circle cx="137.3" cy="428.3" r="2.8"/>
<circle cx="139.7" cy="428.1" r="2.8"/>
<circle cx="142.1" cy="428.3" r="2.8"/>
<circle cx="144.5" cy="428.6" r="2.8"/>
<circle cx="146.9" cy="429" r="2.8"/>
<circle cx="149.3" cy="429.3" r="2.8"/>
<circle cx="151.7" cy="429.5" r="2.8"/>
<circle cx="154.1" cy="429.8" r="2.8"/>
<circle cx="156.5" cy="430" r="2.8"/>
<circle cx="29.6" cy="425.5" r="2.8"/>
<circle cx="31.7" cy="425.7" r="2.8"/>
<circle cx="33.8" cy="426" r="2.8"/>
<circle cx="35.9" cy="426.2" r="2.8"/>
<circle cx="38" cy="426.5" r="2.8"/>
<circle cx="132" cy="425.5" r="2.6"/>
<circle cx="134.4" cy="425.3" r="2.6"/>
<circle cx="136.9" cy="425.2" r="2.6"/>
<circle cx="139.3" cy="425" r="2.6"/>
<circle cx="141.8" cy="424.9" r="2.6"/>
<circle cx="144.2" cy="424.8" r="2.6"/>
<circle cx="146.7" cy="424.6" r="2.6"/>
<circle cx="149.2" cy="424.5" r="2.6"/>
<circle cx="151.6" cy="424.5" r="2.6"/>
<circle cx="154.1" cy="424.5" r="2.6"/>
<circle cx="156.5" cy="424.5" r="2.6"/>
<circle cx="100" cy="427" r="2.6"/>
<circle cx="102.6" cy="426.7" r="2.6"/>
<circle cx="105.2" cy="426.4" r="2.6"/>
<circle cx="107.8" cy="426.1" r="2.6"/>
<circle cx="110.4" cy="426" r="2.6"/>
<circle cx="113" cy="426" r="2.6"/>
<circle cx="29.6" cy="376.8" r="2.8"/>
<circle cx="31.8" cy="377" r="2.8"/>
<circle cx="34" cy="377.2" r="2.8"/>
<circle cx="36.2" cy="377.3" r="2.8"/>
<circle cx="38.4" cy="377.4" r="2.8"/>
<circle cx="40.5" cy="377.4" r="2.8"/>
<circle cx="42.7" cy="377.4" r="2.8"/>
<circle cx="44.9" cy="377.3" r="2.8"/>
<circle cx="47.1" cy="377" r="2.8"/>
<circle cx="49.3" cy="376.6" r="2.8"/>
<circle cx="51.5" cy="376.2" r="2.8"/>
<circle cx="53.7" cy="375.8" r="2.8"/>
<circle cx="55.9" cy="375.4" r="2.8"/>
<circle cx="58" cy="375.1" r="2.8"/>
<circle cx="60.2" cy="375" r="2.8"/>
<circle cx="62.4" cy="375.1" r="2.8"/>
<circle cx="64.6" cy="375.4" r="2.8"/>
<circle cx="66.8" cy="375.9" r="2.8"/>
<circle cx="69" cy="376.5" r="2.8"/>
<circle cx="71.2" cy="377.3" r="2.8"/>
<circle cx="73.4" cy="378.1" r="2.8"/>
<circle cx="75.5" cy="379.1" r="2.8"/>
<circle cx="77.7" cy="380.2" r="2.8"/>
<circle cx="79.9" cy="381.3" r="2.8"/>
<circle cx="82.1" cy="382.4" r="2.8"/>
<circle cx="84.3" cy="383.4" r="2.8"/>
<circle cx="86.5" cy="384.3" r="2.8"/>
<circle cx="88.7" cy="385.2" r="2.8"/>
<circle cx="90.9" cy="385.9" r="2.8"/>
<circle cx="93.1" cy="386.5" r="2.8"/>
<circle cx="95.2" cy="386.9" r="2.8"/>
<circle cx="97.4" cy="387.1" r="2.8"/>
<circle cx="99.6" cy="387.3" r="2.8"/>
<circle cx="101.8" cy="387.6" r="2.8"/>
<circle cx="104" cy="388.3" r="2.8"/>
<circle cx="106.2" cy="389.5" r="2.8"/>
<circle cx="108.4" cy="390.7" r="2.8"/>
<circle cx="110.6" cy="391.6" r="2.8"/>
<circle cx="112.7" cy="392.3" r="2.8"/>
<circle cx="114.9" cy="392.8" r="2.8"/>
<circle cx="117.1" cy="393.1" r="2.8"/>
<circle cx="119.3" cy="393.1" r="2.8"/>
<circle cx="121.5" cy="392.7" r="2.8"/>
<circle cx="123.7" cy="391.9" r="2.8"/>
<circle cx="125.9" cy="390.4" r="2.8"/>
<circle cx="128.1" cy="388.1" r="2.8"/>
<circle cx="130.2" cy="385.7" r="2.8"/>
<circle cx="132.4" cy="382.9" r="2.8"/>
<circle cx="134.6" cy="380.7" r="2.8"/>
<circle cx="136.8" cy="379.1" r="2.8"/>
<circle cx="139" cy="377.9" r="2.8"/>
<circle cx="141.2" cy="376.9" r="2.8"/>
<circle cx="143.4" cy="376.3" r="2.8"/>
<circle cx="145.6" cy="375.8" r="2.8"/>
<circle cx="147.7" cy="375.5" r="2.8"/>
<circle cx="149.9" cy="375.3" r="2.8"/>
<circle cx="152.1" cy="375.1" r="2.8"/>
<circle cx="154.3" cy="375.1" r="2.8"/>
<circle cx="156.5" cy="375" r="2.8"/>
<circle cx="29.6" cy="380.4" r="2.8"/>
<circle cx="31.8" cy="380.6" r="2.8"/>
<circle cx="34" cy="380.8" r="2.8"/>
<circle cx="36.2" cy="380.9" r="2.8"/>
<circle cx="38.4" cy="381" r="2.8"/>
<circle cx="40.5" cy="381" r="2.8"/>
<circle cx="42.7" cy="381" r="2.8"/>
<circle cx="44.9" cy="380.9" r="2.8"/>
<circle cx="47.1" cy="380.6" r="2.8"/>
<circle cx="49.3" cy="380.2" r="2.8"/>
<circle cx="51.5" cy="379.8" r="2.8"/>
<circle cx="53.7" cy="379.4" r="2.8"/>
<circle cx="55.9" cy="379" r="2.8"/>
<circle cx="58" cy="378.7" r="2.8"/>
<circle cx="60.2" cy="378.6" r="2.8"/>
<circle cx="62.4" cy="378.7" r="2.8"/>
<circle cx="64.6" cy="379" r="2.8"/>
<circle cx="66.8" cy="379.5" r="2.8"/>
<circle cx="69" cy="380.1" r="2.8"/>
<circle cx="71.2" cy="380.9" r="2.8"/>
<circle cx="73.4" cy="381.7" r="2.8"/>
<circle cx="75.5" cy="382.7" r="2.8"/>
<circle cx="77.7" cy="383.8" r="2.8"/>
<circle cx="79.9" cy="384.9" r="2.8"/>
<circle cx="82.1" cy="386" r="2.8"/>
<circle cx="84.3" cy="387" r="2.8"/>
<circle cx="86.5" cy="387.9" r="2.8"/>
<circle cx="88.7" cy="388.8" r="2.8"/>
<circle cx="90.9" cy="389.5" r="2.8"/>
<circle cx="93.1" cy="390.1" r="2.8"/>
<circle cx="95.2" cy="390.5" r="2.8"/>
<circle cx="97.4" cy="390.8" r="2.8"/>
<circle cx="99.6" cy="391" r="2.8"/>
<circle cx="101.8" cy="391.3" r="2.8"/>
<circle cx="104" cy="391.7" r="2.8"/>
<circle cx="106.2" cy="392.3" r="2.8"/>
<circle cx="108.4" cy="392.9" r="2.8"/>
<circle cx="110.6" cy="393.5" r="2.8"/>
<circle cx="112.7" cy="394.1" r="2.8"/>
<circle cx="114.9" cy="394.5" r="2.8"/>
<circle cx="117.1" cy="394.9" r="2.8"/>
<circle cx="119.3" cy="394.9" r="2.8"/>
<circle cx="121.5" cy="394.5" r="2.8"/>
<circle cx="123.7" cy="393.6" r="2.8"/>
<circle cx="125.9" cy="392.5" r="2.8"/>
<circle cx="128.1" cy="391.2" r="2.8"/>
<circle cx="130.2" cy="389.4" r="2.8"/>
<circle cx="132.4" cy="386.6" r="2.8"/>
<circle cx="134.6" cy="384.3" r="2.8"/>
<circle cx="136.8" cy="382.7" r="2.8"/>
<circle cx="139" cy="381.5" r="2.8"/>
<circle cx="141.2" cy="380.5" r="2.8"/>
<circle cx="143.4" cy="379.9" r="2.8"/>
<circle cx="145.6" cy="379.4" r="2.8"/>
<circle cx="147.7" cy="379.1" r="2.8"/>
<circle cx="149.9" cy="378.9" r="2.8"/>
<circle cx="152.1" cy="378.7" r="2.8"/>
<circle cx="154.3" cy="378.7" r="2.8"/>
<circle cx="156.5" cy="378.6" r="2.8"/>
<circle cx="108.9" cy="385" r="2.8"/>
<circle cx="111.1" cy="383.5" r="2.8"/>
<circle cx="113.2" cy="382" r="2.8"/>
<circle cx="115.4" cy="380.8" r="2.8"/>
<circle cx="117.6" cy="379.8" r="2.8"/>
<circle cx="119.7" cy="378.9" r="2.8"/>
<circle cx="121.9" cy="378.2" r="2.8"/>
<circle cx="124" cy="377.7" r="2.8"/>
<circle cx="126.2" cy="377" r="2.8"/>
<circle cx="128.4" cy="376.4" r="2.8"/>
<circle cx="130.5" cy="375.9" r="2.8"/>
<circle cx="132.7" cy="375.6" r="2.8"/>
<circle cx="134.9" cy="375.4" r="2.8"/>
<circle cx="137" cy="375.2" r="2.8"/>
<circle cx="139.2" cy="375" r="2.8"/>
<circle cx="141.4" cy="374.9" r="2.8"/>
<circle cx="143.5" cy="374.8" r="2.8"/>
<circle cx="145.7" cy="374.8" r="2.8"/>
<circle cx="147.8" cy="374.7" r="2.8"/>
<circle cx="150" cy="374.7" r="2.8"/>
<circle cx="152.2" cy="374.6" r="2.8"/>
<circle cx="154.3" cy="374.6" r="2.8"/>
<circle cx="156.5" cy="374.5" r="2.8"/>
<circle cx="29.6" cy="366.5" r="3"/>
<circle cx="31.8" cy="366.5" r="3"/>
<circle cx="34" cy="366.5" r="3"/>
<circle cx="36.2" cy="366.6" r="3"/>
<circle cx="38.4" cy="366.5" r="3"/>
<circle cx="40.5" cy="366.5" r="3"/>
<circle cx="42.7" cy="366.1" r="3"/>
<circle cx="44.9" cy="366" r="3"/>
<circle cx="47.1" cy="366.5" r="3"/>
<circle cx="49.3" cy="367.2" r="3"/>
<circle cx="51.5" cy="367.6" r="3"/>
<circle cx="53.7" cy="367.8" r="3"/>
<circle cx="55.9" cy="367.7" r="3"/>
<circle cx="58" cy="367.5" r="3"/>
<circle cx="60.2" cy="367.2" r="3"/>
<circle cx="62.4" cy="366.7" r="3"/>
<circle cx="64.6" cy="366.3" r="3"/>
<circle cx="66.8" cy="365.9" r="3"/>
<circle cx="69" cy="365.5" r="3"/>
<circle cx="71.2" cy="365.5" r="3"/>
<circle cx="73.4" cy="365.8" r="3"/>
<circle cx="75.5" cy="366.3" r="3"/>
<circle cx="77.7" cy="367.2" r="3"/>
<circle cx="79.9" cy="368.4" r="3"/>
<circle cx="82.1" cy="369.6" r="3"/>
<circle cx="84.3" cy="370.2" r="3"/>
<circle cx="86.5" cy="370.5" r="3"/>
<circle cx="88.7" cy="370.7" r="3"/>
<circle cx="90.9" cy="370.8" r="3"/>
<circle cx="93.1" cy="370.8" r="3"/>
<circle cx="95.2" cy="370.6" r="3"/>
<circle cx="97.4" cy="370.3" r="3"/>
<circle cx="99.6" cy="370" r="3"/>
<circle cx="101.8" cy="369.9" r="3"/>
<circle cx="104" cy="369.8" r="3"/>
<circle cx="106.2" cy="369.7" r="3"/>
<circle cx="108.4" cy="369.5" r="3"/>
<circle cx="110.6" cy="369.3" r="3"/>
<circle cx="112.7" cy="368.9" r="3"/>
<circle cx="114.9" cy="368.5" r="3"/>
<circle cx="117.1" cy="368.2" r="3"/>
<circle cx="119.3" cy="367.8" r="3"/>
<circle cx="121.5" cy="367.5" r="3"/>
<circle cx="123.7" cy="367.2" r="3"/>
<circle cx="125.9" cy="366.9" r="3"/>
<circle cx="128.1" cy="366.6" r="3"/>
<circle cx="130.2" cy="366.3" r="3"/>
<circle cx="132.4" cy="366.1" r="3"/>
<circle cx="134.6" cy="366" r="3"/>
<circle cx="136.8" cy="366" r="3"/>
<circle cx="139" cy="366.1" r="3"/>
<circle cx="141.2" cy="366.2" r="3"/>
<circle cx="143.4" cy="366.4" r="3"/>
<circle cx="145.6" cy="366.5" r="3"/>
<circle cx="147.7" cy="366.6" r="3"/>
<circle cx="149.9" cy="366.7" r="3"/>
<circle cx="152.1" cy="366.8" r="3"/>
<circle cx="154.3" cy="366.9" r="3"/>
<circle cx="156.5" cy="367" r="3"/>
<circle cx="49" cy="372.8" r="2.9"/>
<circle cx="51.2" cy="372.5" r="2.9"/>
<circle cx="53.4" cy="372.2" r="2.9"/>
<circle cx="55.6" cy="371.7" r="2.9"/>
<circle cx="57.8" cy="371.1" r="2.9"/>
<circle cx="60" cy="370.3" r="2.9"/>
<circle cx="62.2" cy="369.4" r="2.9"/>
<circle cx="64.4" cy="368.3" r="2.9"/>
<circle cx="66.6" cy="367.2" r="2.9"/>
<circle cx="68.7" cy="366" r="2.9"/>
<circle cx="70.9" cy="364.7" r="2.9"/>
<circle cx="73.1" cy="363.6" r="2.9"/>
<circle cx="75.3" cy="362.9" r="2.9"/>
<circle cx="77.5" cy="362.4" r="2.9"/>
<circle cx="79.7" cy="362.1" r="2.9"/>
<circle cx="81.9" cy="362" r="2.9"/>
<circle cx="84.1" cy="362" r="2.9"/>
<circle cx="86.3" cy="362" r="2.9"/>
<circle cx="88.5" cy="362" r="2.9"/>
<circle cx="90.7" cy="362" r="2.9"/>
<circle cx="92.9" cy="362" r="2.9"/>
<circle cx="95.1" cy="362" r="2.9"/>
<circle cx="97.3" cy="362" r="2.9"/>
<circle cx="99.5" cy="362" r="2.9"/>
<circle cx="101.7" cy="362" r="2.9"/>
<circle cx="103.8" cy="362" r="2.9"/>
<circle cx="106" cy="362" r="2.9"/>
<circle cx="108.2" cy="362" r="2.9"/>
<circle cx="110.4" cy="362" r="2.9"/>
<circle cx="112.6" cy="362.1" r="2.9"/>
<circle cx="114.8" cy="362" r="2.9"/>
<circle cx="117" cy="361.8" r="2.9"/>
<circle cx="119.2" cy="361.5" r="2.9"/>
<circle cx="121.4" cy="361.2" r="2.9"/>
<circle cx="123.6" cy="361" r="2.9"/>
<circle cx="125.8" cy="361" r="2.9"/>
<circle cx="128" cy="361.3" r="2.9"/>
<circle cx="130.2" cy="361.7" r="2.9"/>
<circle cx="132.4" cy="362.1" r="2.9"/>
<circle cx="134.6" cy="362.5" r="2.9"/>
<circle cx="136.8" cy="362.6" r="2.9"/>
<circle cx="138.9" cy="362.8" r="2.9"/>
<circle cx="141.1" cy="362.8" r="2.9"/>
<circle cx="143.3" cy="362.9" r="2.9"/>
<circle cx="145.5" cy="363" r="2.9"/>
<circle cx="147.7" cy="363.2" r="2.9"/>
<circle cx="149.9" cy="363.4" r="2.9"/>
<circle cx="152.1" cy="363.6" r="2.9"/>
<circle cx="154.3" cy="363.8" r="2.9"/>
<circle cx="156.5" cy="364" r="2.9"/>
<circle cx="29.6" cy="372" r="2.9"/>
<circle cx="31.8" cy="372.1" r="2.9"/>
<circle cx="33.9" cy="372.2" r="2.9"/>
<circle cx="36.1" cy="372.3" r="2.9"/>
<circle cx="38.2" cy="372.4" r="2.9"/>
<circle cx="40.4" cy="372.5" r="2.9"/>
<circle cx="42.5" cy="372.6" r="2.9"/>
<circle cx="44.7" cy="372.7" r="2.9"/>
<circle cx="46.8" cy="372.7" r="2.9"/>
<circle cx="49" cy="372.8" r="2.9"/>
<circle cx="51.1" cy="358.1" r="2.6"/>
<circle cx="53.5" cy="357.6" r="2.6"/>
<circle cx="55.9" cy="357.2" r="2.6"/>
<circle cx="58.3" cy="356.8" r="2.6"/>
<circle cx="60.7" cy="356.6" r="2.6"/>
<circle cx="63.1" cy="356.6" r="2.6"/>
<circle cx="65.5" cy="356.8" r="2.6"/>
<circle cx="67.9" cy="357.1" r="2.6"/>
<circle cx="70.3" cy="357.7" r="2.6"/>
<circle cx="72.7" cy="359.1" r="2.6"/>
<circle cx="75.1" cy="360.5" r="2.6"/>
<circle cx="77.5" cy="361.6" r="2.6"/>
<circle cx="79.8" cy="362.5" r="2.6"/>
<circle cx="82.2" cy="362.9" r="2.6"/>
<circle cx="84.6" cy="363.1" r="2.6"/>
<circle cx="87" cy="363.2" r="2.6"/>
<circle cx="89.4" cy="363.3" r="2.6"/>
<circle cx="91.8" cy="363.2" r="2.6"/>
<circle cx="94.2" cy="362.9" r="2.6"/>
<circle cx="96.6" cy="362.2" r="2.6"/>
<circle cx="99" cy="361.3" r="2.6"/>
<circle cx="101.4" cy="360.5" r="2.6"/>
<circle cx="103.8" cy="359.5" r="2.6"/>
<circle cx="106.2" cy="358.6" r="2.6"/>
<circle cx="108.6" cy="358" r="2.6"/>
<circle cx="111" cy="357.9" r="2.6"/>
<circle cx="113.4" cy="358.1" r="2.6"/>
<circle cx="115.8" cy="358.5" r="2.6"/>
<circle cx="118.2" cy="358.8" r="2.6"/>
<circle cx="120.6" cy="359" r="2.6"/>
<circle cx="123" cy="359.2" r="2.6"/>
<circle cx="125.4" cy="359.4" r="2.6"/>
<circle cx="127.8" cy="359.5" r="2.6"/>
<circle cx="130.2" cy="359.5" r="2.6"/>
<circle cx="132.5" cy="359.3" r="2.6"/>
<circle cx="134.9" cy="359" r="2.6"/>
<circle cx="137.3" cy="358.7" r="2.6"/>
<circle cx="139.7" cy="358.5" r="2.6"/>
<circle cx="142.1" cy="358.4" r="2.6"/>
<circle cx="144.5" cy="358.3" r="2.6"/>
<circle cx="146.9" cy="358.2" r="2.6"/>
<circle cx="149.3" cy="358.2" r="2.6"/>
<circle cx="151.7" cy="358.1" r="2.6"/>
<circle cx="154.1" cy="358.1" r="2.6"/>
<circle cx="156.5" cy="358" r="2.6"/>
<circle cx="96" cy="353.5" r="2.6"/>
<circle cx="98.4" cy="353.4" r="2.6"/>
<circle cx="100.8" cy="353.6" r="2.6"/>
<circle cx="103.3" cy="353.9" r="2.6"/>
<circle cx="105.7" cy="354.3" r="2.6"/>
<circle cx="108.1" cy="354.7" r="2.6"/>
<circle cx="110.5" cy="355.1" r="2.6"/>
<circle cx="112.9" cy="355.5" r="2.6"/>
<circle cx="115.4" cy="355.9" r="2.6"/>
<circle cx="117.8" cy="356.3" r="2.6"/>
<circle cx="120.2" cy="356.5" r="2.6"/>
<circle cx="122.6" cy="356.5" r="2.6"/>
<circle cx="125" cy="356.4" r="2.6"/>
<circle cx="127.5" cy="356.2" r="2.6"/>
<circle cx="129.9" cy="356" r="2.6"/>
<circle cx="132.3" cy="355.8" r="2.6"/>
<circle cx="134.7" cy="355.4" r="2.6"/>
<circle cx="137.1" cy="355.2" r="2.6"/>
<circle cx="139.6" cy="355" r="2.6"/>
<circle cx="142" cy="355" r="2.6"/>
<circle cx="144.4" cy="355.1" r="2.6"/>
<circle cx="146.8" cy="355.3" r="2.6"/>
<circle cx="149.2" cy="355.5" r="2.6"/>
<circle cx="151.7" cy="355.6" r="2.6"/>
<circle cx="154.1" cy="355.8" r="2.6"/>
<circle cx="156.5" cy="356" r="2.6"/>
<circle cx="90" cy="347.4" r="2.6"/>
<circle cx="92.4" cy="347" r="2.6"/>
<circle cx="94.8" cy="346.6" r="2.6"/>
<circle cx="97.1" cy="346.3" r="2.6"/>
<circle cx="99.5" cy="346.1" r="2.6"/>
<circle cx="101.9" cy="345.9" r="2.6"/>
<circle cx="104.2" cy="345.9" r="2.6"/>
<circle cx="106.6" cy="346.1" r="2.6"/>
<circle cx="109" cy="346.4" r="2.6"/>
<circle cx="111.4" cy="346.8" r="2.6"/>
<circle cx="113.8" cy="347.3" r="2.6"/>
<circle cx="116.1" cy="348.2" r="2.6"/>
<circle cx="118.5" cy="349.2" r="2.6"/>
<circle cx="120.9" cy="349.9" r="2.6"/>
<circle cx="123.2" cy="350.3" r="2.6"/>
<circle cx="125.6" cy="350.8" r="2.6"/>
<circle cx="128" cy="351.3" r="2.6"/>
<circle cx="130.4" cy="351.7" r="2.6"/>
<circle cx="132.8" cy="352.2" r="2.6"/>
<circle cx="135.1" cy="352.7" r="2.6"/>
<circle cx="137.5" cy="353.3" r="2.6"/>
<circle cx="139.9" cy="353.7" r="2.6"/>
<circle cx="142.2" cy="353.4" r="2.6"/>
<circle cx="144.6" cy="352.8" r="2.6"/>
<circle cx="147" cy="352.2" r="2.6"/>
<circle cx="149.4" cy="351.8" r="2.6"/>
<circle cx="151.8" cy="351.5" r="2.6"/>
<circle cx="154.1" cy="351.3" r="2.6"/>
<circle cx="156.5" cy="351" r="2.6"/>
<circle cx="29.6" cy="357.5" r="2.4"/>
<circle cx="32.3" cy="357" r="2.4"/>
<circle cx="34.9" cy="356.8" r="2.4"/>
<circle cx="37.6" cy="356.9" r="2.4"/>
<circle cx="40.2" cy="357.1" r="2.4"/>
<circle cx="42.9" cy="357.3" r="2.4"/>
<circle cx="45.5" cy="357.5" r="2.4"/>
<circle cx="48.2" cy="357.7" r="2.4"/>
<circle cx="50.8" cy="358" r="2.4"/>
<circle cx="53.5" cy="358.1" r="2.4"/>
<circle cx="56.1" cy="357.9" r="2.4"/>
<circle cx="58.8" cy="357.6" r="2.4"/>
<circle cx="61.4" cy="357.4" r="2.4"/>
<circle cx="64.1" cy="357.2" r="2.4"/>
<circle cx="66.8" cy="356.4" r="2.4"/>
<circle cx="69.4" cy="355.1" r="2.4"/>
<circle cx="72.1" cy="353.5" r="2.4"/>
<circle cx="74.7" cy="351.7" r="2.4"/>
<circle cx="77.4" cy="349.8" r="2.4"/>
<circle cx="80" cy="348.2" r="2.4"/>
<circle cx="82.7" cy="346.9" r="2.4"/>
<circle cx="85.3" cy="345.8" r="2.4"/>
<circle cx="88" cy="345.1" r="2.4"/>
<circle cx="90.6" cy="344.7" r="2.4"/>
<circle cx="93.3" cy="344.5" r="2.4"/>
<circle cx="29.6" cy="362" r="2.2"/>
<circle cx="32.4" cy="362" r="2.2"/>
<circle cx="35.2" cy="362" r="2.2"/>
<circle cx="37.9" cy="362" r="2.2"/>
<circle cx="40.7" cy="362" r="2.2"/>
<circle cx="43.5" cy="361.6" r="2.2"/>
<circle cx="46.3" cy="361.5" r="2.2"/>
<circle cx="49.1" cy="361.6" r="2.2"/>
<circle cx="51.9" cy="361.9" r="2.2"/>
<circle cx="54.6" cy="362.2" r="2.2"/>
<circle cx="57.4" cy="362.6" r="2.2"/>
<circle cx="60.2" cy="363.1" r="2.2"/>
<circle cx="63" cy="363.5" r="2.2"/>
<circle cx="65.8" cy="363.7" r="2.2"/>
<circle cx="68.5" cy="363.2" r="2.2"/>
<circle cx="71.3" cy="362.5" r="2.2"/>
<circle cx="74.1" cy="362.7" r="2.2"/>
<circle cx="76.9" cy="363.3" r="2.2"/>
<circle cx="79.7" cy="364.1" r="2.2"/>
<circle cx="82.5" cy="365" r="2.2"/>
<circle cx="85.2" cy="365.7" r="2.2"/>
<circle cx="88" cy="366.1" r="2.2"/>
<circle cx="90.8" cy="366.3" r="2.2"/>
<circle cx="29.3" cy="338" r="2"/>
<circle cx="32.9" cy="337.4" r="2"/>
<circle cx="36.6" cy="337.1" r="2"/>
<circle cx="40.2" cy="336.7" r="2"/>
<circle cx="43.8" cy="336.3" r="2"/>
<circle cx="47.5" cy="336.1" r="2"/>
<circle cx="51.1" cy="336.1" r="2"/>
<circle cx="54.7" cy="335.6" r="2"/>
<circle cx="58.4" cy="335.2" r="2"/>
<circle cx="62" cy="334.5" r="2"/>
<circle cx="65.6" cy="333.6" r="2"/>
<circle cx="69.3" cy="332.6" r="2"/>
<circle cx="72.9" cy="332" r="2"/>
<circle cx="76.5" cy="331.6" r="2"/>
<circle cx="80.2" cy="331.2" r="2"/>
<circle cx="83.8" cy="330.9" r="2"/>
<circle cx="87.4" cy="330.6" r="2"/>
<circle cx="91.1" cy="330.4" r="2"/>
<circle cx="94.7" cy="330.8" r="2"/>
<circle cx="98.4" cy="329.9" r="2"/>
<circle cx="102" cy="327.4" r="2"/>
<circle cx="105.6" cy="325.1" r="2"/>
<circle cx="109.3" cy="324.8" r="2"/>
<circle cx="112.9" cy="323.9" r="2"/>
<circle cx="116.5" cy="323.4" r="2"/>
<circle cx="120.2" cy="323.3" r="2"/>
<circle cx="123.8" cy="323.4" r="2"/>
<circle cx="127.4" cy="323.8" r="2"/>
<circle cx="131.1" cy="324.8" r="2"/>
<circle cx="134.7" cy="326.4" r="2"/>
<circle cx="138.3" cy="328.7" r="2"/>
<circle cx="142" cy="331.3" r="2"/>
<circle cx="145.6" cy="334.5" r="2"/>
<circle cx="149.2" cy="336.1" r="2"/>
<circle cx="152.9" cy="337" r="2"/>
<circle cx="156.5" cy="337.5" r="2"/>
<circle cx="45.6" cy="347.4" r="2"/>
<circle cx="49.2" cy="348" r="2"/>
<circle cx="52.8" cy="347.5" r="2"/>
<circle cx="56.3" cy="345.8" r="2"/>
<circle cx="59.9" cy="343" r="2"/>
<circle cx="63.5" cy="340.2" r="2"/>
<circle cx="67.1" cy="337.7" r="2"/>
<circle cx="70.6" cy="336.1" r="2"/>
<circle cx="74.2" cy="336.6" r="2"/>
<circle cx="77.8" cy="337.2" r="2"/>
<circle cx="81.4" cy="337.5" r="2"/>
<circle cx="85" cy="337.4" r="2"/>
<circle cx="88.5" cy="337.1" r="2"/>
<circle cx="92.1" cy="337" r="2"/>
<circle cx="95.7" cy="337" r="2"/>
<circle cx="99.3" cy="336.6" r="2"/>
<circle cx="102.8" cy="336" r="2"/>
<circle cx="106.4" cy="336.2" r="2"/>
<circle cx="110" cy="337.3" r="2"/>
<circle cx="113.6" cy="338.8" r="2"/>
<circle cx="117.1" cy="341.3" r="2"/>
<circle cx="120.7" cy="343.1" r="2"/>
<circle cx="124.3" cy="343.3" r="2"/>
<circle cx="127.9" cy="343.3" r="2"/>
<circle cx="131.5" cy="344.2" r="2"/>
<circle cx="135" cy="345.5" r="2"/>
<circle cx="138.6" cy="346.8" r="2"/>
<circle cx="142.2" cy="347.9" r="2"/>
<circle cx="145.8" cy="348.8" r="2"/>
<circle cx="149.3" cy="349.6" r="2"/>
<circle cx="152.9" cy="350.1" r="2"/>
<circle cx="156.5" cy="350.1" r="2"/>
<circle cx="61.9" cy="321" r="2"/>
<circle cx="65.4" cy="320.4" r="2"/>
<circle cx="68.9" cy="320.4" r="2"/>
<circle cx="72.4" cy="320.5" r="2"/>
<circle cx="75.9" cy="320.8" r="2"/>
<circle cx="79.4" cy="321.1" r="2"/>
<circle cx="83" cy="321.6" r="2"/>
<circle cx="86.5" cy="322.6" r="2"/>
<circle cx="90" cy="322.6" r="2"/>
<circle cx="93.5" cy="322.7" r="2"/>
<circle cx="97" cy="324.5" r="2"/>
<circle cx="100.5" cy="326.5" r="2"/>
<circle cx="45.6" cy="352" r="1.9"/>
<circle cx="49.5" cy="352.3" r="1.9"/>
<circle cx="53.3" cy="352.6" r="1.9"/>
<circle cx="57.2" cy="352.3" r="1.9"/>
<circle cx="61" cy="351.7" r="1.9"/>
<circle cx="64.9" cy="350.5" r="1.9"/>
<circle cx="68.7" cy="348.6" r="1.9"/>
<circle cx="72.6" cy="346.3" r="1.9"/>
<circle cx="76.4" cy="344.4" r="1.9"/>
<circle cx="80.3" cy="342.8" r="1.9"/>
<circle cx="84.2" cy="341.7" r="1.9"/>
<circle cx="88" cy="341.1" r="1.9"/>
<circle cx="91.9" cy="340.9" r="1.9"/>
<circle cx="95.7" cy="341" r="1.9"/>
<circle cx="99.6" cy="341.3" r="1.9"/>
<circle cx="103.4" cy="341.8" r="1.9"/>
<circle cx="107.3" cy="342.4" r="1.9"/>
<circle cx="111.1" cy="343.2" r="1.9"/>
<circle cx="115" cy="344" r="1.9"/>
<circle cx="30.6" cy="341" r="2"/>
<circle cx="30.6" cy="344.5" r="2"/>
<circle cx="30.6" cy="348" r="2"/>
<circle cx="30.6" cy="352" r="2"/>
<circle cx="30.6" cy="355" r="2"/>
<circle cx="34.8" cy="341" r="2"/>
<circle cx="34.8" cy="344.5" r="2"/>
<circle cx="34.8" cy="348" r="2"/>
<circle cx="34.8" cy="352" r="2"/>
<circle cx="34.8" cy="355" r="2"/>
<circle cx="40.6" cy="341" r="2"/>
<circle cx="40.6" cy="344.5" r="2"/>
<circle cx="40.6" cy="348" r="2"/>
<circle cx="40.6" cy="352" r="2"/>
<circle cx="40.6" cy="355" r="2"/>
</g>
<g fill="#f5706f">
<circle cx="29.6" cy="443" r="2.3"/>
<circle cx="32.6" cy="443.1" r="2.3"/>
<circle cx="35.6" cy="443.3" r="2.3"/>
<circle cx="38.7" cy="443.4" r="2.3"/>
<circle cx="41.7" cy="443.5" r="2.3"/>
<circle cx="44.7" cy="443.6" r="2.3"/>
<circle cx="47.7" cy="443.5" r="2.3"/>
<circle cx="50.8" cy="443.3" r="2.3"/>
<circle cx="53.8" cy="443" r="2.3"/>
<circle cx="56.8" cy="442.6" r="2.3"/>
<circle cx="59.8" cy="442.2" r="2.3"/>
<circle cx="62.8" cy="441.9" r="2.3"/>
<circle cx="65.9" cy="441.6" r="2.3"/>
<circle cx="68.9" cy="441.5" r="2.3"/>
<circle cx="71.9" cy="441.5" r="2.3"/>
<circle cx="74.9" cy="441.6" r="2.3"/>
<circle cx="77.9" cy="441.6" r="2.3"/>
<circle cx="81" cy="441.7" r="2.3"/>
<circle cx="84" cy="441.7" r="2.3"/>
<circle cx="87" cy="441.5" r="2.3"/>
<circle cx="90" cy="441.3" r="2.3"/>
<circle cx="93" cy="441" r="2.3"/>
<circle cx="96.1" cy="440.7" r="2.3"/>
<circle cx="99.1" cy="440.4" r="2.3"/>
<circle cx="102.1" cy="440" r="2.3"/>
<circle cx="105.1" cy="439.7" r="2.3"/>
<circle cx="108.2" cy="439.3" r="2.3"/>
<circle cx="111.2" cy="438.9" r="2.3"/>
<circle cx="114.2" cy="438.7" r="2.3"/>
<circle cx="117.2" cy="439" r="2.3"/>
<circle cx="120.2" cy="439.7" r="2.3"/>
<circle cx="123.3" cy="440.4" r="2.3"/>
<circle cx="126.3" cy="440.9" r="2.3"/>
<circle cx="129.3" cy="441.3" r="2.3"/>
<circle cx="132.3" cy="441.5" r="2.3"/>
<circle cx="135.3" cy="441.6" r="2.3"/>
<circle cx="138.4" cy="441.4" r="2.3"/>
<circle cx="141.4" cy="441.2" r="2.3"/>
<circle cx="144.4" cy="441" r="2.3"/>
<circle cx="147.4" cy="441" r="2.3"/>
<circle cx="150.5" cy="441.2" r="2.3"/>
<circle cx="153.5" cy="441.4" r="2.3"/>
<circle cx="156.5" cy="441.6" r="2.3"/>
<circle cx="29.6" cy="447.5" r="2.3"/>
<circle cx="32.6" cy="447.6" r="2.3"/>
<circle cx="35.6" cy="447.8" r="2.3"/>
<circle cx="38.7" cy="447.9" r="2.3"/>
<circle cx="41.7" cy="448" r="2.3"/>
<circle cx="44.7" cy="448.1" r="2.3"/>
<circle cx="47.7" cy="448" r="2.3"/>
<circle cx="50.8" cy="447.8" r="2.3"/>
<circle cx="53.8" cy="447.5" r="2.3"/>
<circle cx="56.8" cy="447.1" r="2.3"/>
<circle cx="59.8" cy="446.7" r="2.3"/>
<circle cx="62.8" cy="446.4" r="2.3"/>
<circle cx="65.9" cy="446.1" r="2.3"/>
<circle cx="68.9" cy="446" r="2.3"/>
<circle cx="71.9" cy="446" r="2.3"/>
<circle cx="74.9" cy="446.1" r="2.3"/>
<circle cx="77.9" cy="446.1" r="2.3"/>
<circle cx="81" cy="446.2" r="2.3"/>
<circle cx="84" cy="446.2" r="2.3"/>
<circle cx="87" cy="446" r="2.3"/>
<circle cx="90" cy="445.8" r="2.3"/>
<circle cx="93" cy="445.5" r="2.3"/>
<circle cx="96.1" cy="445.2" r="2.3"/>
<circle cx="99.1" cy="444.9" r="2.3"/>
<circle cx="102.1" cy="444.5" r="2.3"/>
<circle cx="105.1" cy="444.2" r="2.3"/>
<circle cx="108.2" cy="443.8" r="2.3"/>
<circle cx="111.2" cy="443.4" r="2.3"/>
<circle cx="114.2" cy="443.2" r="2.3"/>
<circle cx="117.2" cy="443.5" r="2.3"/>
<circle cx="120.2" cy="444.2" r="2.3"/>
<circle cx="123.3" cy="444.9" r="2.3"/>
<circle cx="126.3" cy="445.4" r="2.3"/>
<circle cx="129.3" cy="445.8" r="2.3"/>
<circle cx="132.3" cy="446" r="2.3"/>
<circle cx="135.3" cy="446.1" r="2.3"/>
<circle cx="138.4" cy="445.9" r="2.3"/>
<circle cx="141.4" cy="445.7" r="2.3"/>
<circle cx="144.4" cy="445.5" r="2.3"/>
<circle cx="147.4" cy="445.5" r="2.3"/>
<circle cx="150.5" cy="445.7" r="2.3"/>
<circle cx="153.5" cy="445.9" r="2.3"/>
<circle cx="156.5" cy="446.1" r="2.3"/>
<circle cx="29.6" cy="452" r="2.3"/>
<circle cx="32.6" cy="452.1" r="2.3"/>
<circle cx="35.6" cy="452.3" r="2.3"/>
<circle cx="38.7" cy="452.4" r="2.3"/>
<circle cx="41.7" cy="452.5" r="2.3"/>
<circle cx="44.7" cy="452.6" r="2.3"/>
<circle cx="47.7" cy="452.5" r="2.3"/>
<circle cx="50.8" cy="452.3" r="2.3"/>
<circle cx="53.8" cy="452" r="2.3"/>
<circle cx="56.8" cy="451.6" r="2.3"/>
<circle cx="59.8" cy="451.2" r="2.3"/>
<circle cx="62.8" cy="450.9" r="2.3"/>
<circle cx="65.9" cy="450.6" r="2.3"/>
<circle cx="68.9" cy="450.5" r="2.3"/>
<circle cx="71.9" cy="450.5" r="2.3"/>
<circle cx="74.9" cy="450.6" r="2.3"/>
<circle cx="77.9" cy="450.6" r="2.3"/>
<circle cx="81" cy="450.7" r="2.3"/>
<circle cx="84" cy="450.7" r="2.3"/>
<circle cx="87" cy="450.5" r="2.3"/>
<circle cx="90" cy="450.3" r="2.3"/>
<circle cx="93" cy="450" r="2.3"/>
<circle cx="96.1" cy="449.7" r="2.3"/>
<circle cx="99.1" cy="449.4" r="2.3"/>
<circle cx="102.1" cy="449" r="2.3"/>
<circle cx="105.1" cy="448.7" r="2.3"/>
<circle cx="108.2" cy="448.3" r="2.3"/>
<circle cx="111.2" cy="447.9" r="2.3"/>
<circle cx="114.2" cy="447.7" r="2.3"/>
<circle cx="117.2" cy="448" r="2.3"/>
<circle cx="120.2" cy="448.7" r="2.3"/>
<circle cx="123.3" cy="449.4" r="2.3"/>
<circle cx="126.3" cy="449.9" r="2.3"/>
<circle cx="129.3" cy="450.3" r="2.3"/>
<circle cx="132.3" cy="450.5" r="2.3"/>
<circle cx="135.3" cy="450.6" r="2.3"/>
<circle cx="138.4" cy="450.4" r="2.3"/>
<circle cx="141.4" cy="450.2" r="2.3"/>
<circle cx="144.4" cy="450" r="2.3"/>
<circle cx="147.4" cy="450" r="2.3"/>
<circle cx="150.5" cy="450.2" r="2.3"/>
<circle cx="153.5" cy="450.4" r="2.3"/>
<circle cx="156.5" cy="450.6" r="2.3"/>
<circle cx="29.6" cy="456.5" r="2.3"/>
<circle cx="32.6" cy="456.6" r="2.3"/>
<circle cx="35.6" cy="456.8" r="2.3"/>
<circle cx="38.7" cy="456.9" r="2.3"/>
<circle cx="41.7" cy="457" r="2.3"/>
<circle cx="44.7" cy="457.1" r="2.3"/>
<circle cx="47.7" cy="457" r="2.3"/>
<circle cx="50.8" cy="456.8" r="2.3"/>
<circle cx="53.8" cy="456.5" r="2.3"/>
<circle cx="56.8" cy="456.1" r="2.3"/>
<circle cx="59.8" cy="455.7" r="2.3"/>
<circle cx="62.8" cy="455.4" r="2.3"/>
<circle cx="65.9" cy="455.1" r="2.3"/>
<circle cx="68.9" cy="455" r="2.3"/>
<circle cx="71.9" cy="455" r="2.3"/>
<circle cx="74.9" cy="455.1" r="2.3"/>
<circle cx="77.9" cy="455.1" r="2.3"/>
<circle cx="81" cy="455.2" r="2.3"/>
<circle cx="84" cy="455.2" r="2.3"/>
<circle cx="87" cy="455" r="2.3"/>
<circle cx="90" cy="454.8" r="2.3"/>
<circle cx="93" cy="454.5" r="2.3"/>
<circle cx="96.1" cy="454.2" r="2.3"/>
<circle cx="99.1" cy="453.9" r="2.3"/>
<circle cx="102.1" cy="453.5" r="2.3"/>
<circle cx="105.1" cy="453.2" r="2.3"/>
<circle cx="108.2" cy="452.8" r="2.3"/>
<circle cx="111.2" cy="452.4" r="2.3"/>
<circle cx="114.2" cy="452.2" r="2.3"/>
<circle cx="117.2" cy="452.5" r="2.3"/>
<circle cx="120.2" cy="453.2" r="2.3"/>
<circle cx="123.3" cy="453.9" r="2.3"/>
<circle cx="126.3" cy="454.4" r="2.3"/>
<circle cx="129.3" cy="454.8" r="2.3"/>
<circle cx="132.3" cy="455" r="2.3"/>
<circle cx="135.3" cy="455.1" r="2.3"/>
<circle cx="138.4" cy="454.9" r="2.3"/>
<circle cx="141.4" cy="454.7" r="2.3"/>
<circle cx="144.4" cy="454.5" r="2.3"/>
<circle cx="147.4" cy="454.5" r="2.3"/>
<circle cx="150.5" cy="454.7" r="2.3"/>
<circle cx="153.5" cy="454.9" r="2.3"/>
<circle cx="156.5" cy="455.1" r="2.3"/>
<circle cx="29.6" cy="461" r="2.3"/>
<circle cx="32.6" cy="461.1" r="2.3"/>
<circle cx="35.6" cy="461.3" r="2.3"/>
<circle cx="38.7" cy="461.4" r="2.3"/>
<circle cx="41.7" cy="461.5" r="2.3"/>
<circle cx="44.7" cy="461.6" r="2.3"/>
<circle cx="47.7" cy="461.5" r="2.3"/>
<circle cx="50.8" cy="461.3" r="2.3"/>
<circle cx="53.8" cy="461" r="2.3"/>
<circle cx="56.8" cy="460.6" r="2.3"/>
<circle cx="59.8" cy="460.2" r="2.3"/>
<circle cx="62.8" cy="459.9" r="2.3"/>
<circle cx="65.9" cy="459.6" r="2.3"/>
<circle cx="68.9" cy="459.5" r="2.3"/>
<circle cx="71.9" cy="459.5" r="2.3"/>
<circle cx="74.9" cy="459.6" r="2.3"/>
<circle cx="77.9" cy="459.6" r="2.3"/>
<circle cx="81" cy="459.7" r="2.3"/>
<circle cx="84" cy="459.7" r="2.3"/>
<circle cx="87" cy="459.5" r="2.3"/>
<circle cx="90" cy="459.3" r="2.3"/>
<circle cx="93" cy="459" r="2.3"/>
<circle cx="96.1" cy="458.7" r="2.3"/>
<circle cx="99.1" cy="458.4" r="2.3"/>
<circle cx="102.1" cy="458" r="2.3"/>
<circle cx="105.1" cy="457.7" r="2.3"/>
<circle cx="108.2" cy="457.3" r="2.3"/>
<circle cx="111.2" cy="456.9" r="2.3"/>
<circle cx="114.2" cy="456.7" r="2.3"/>
<circle cx="117.2" cy="457" r="2.3"/>
<circle cx="120.2" cy="457.7" r="2.3"/>
<circle cx="123.3" cy="458.4" r="2.3"/>
<circle cx="126.3" cy="458.9" r="2.3"/>
<circle cx="129.3" cy="459.3" r="2.3"/>
<circle cx="132.3" cy="459.5" r="2.3"/>
<circle cx="135.3" cy="459.6" r="2.3"/>
<circle cx="138.4" cy="459.4" r="2.3"/>
<circle cx="141.4" cy="459.2" r="2.3"/>
<circle cx="144.4" cy="459" r="2.3"/>
<circle cx="147.4" cy="459" r="2.3"/>
<circle cx="150.5" cy="459.2" r="2.3"/>
<circle cx="153.5" cy="459.4" r="2.3"/>
<circle cx="156.5" cy="459.6" r="2.3"/>
</g>
<g fill="#fdbf00">
<circle cx="35.6" cy="446" r="1.7"/>
<circle cx="41.7" cy="445.9" r="1.7"/>
<circle cx="56.8" cy="445.8" r="1.7"/>
<circle cx="62.8" cy="454.7" r="1.7"/>
<circle cx="71.9" cy="450.2" r="1.7"/>
<circle cx="84" cy="445.6" r="1.7"/>
<circle cx="93" cy="450" r="1.7"/>
</g>
<g fill="#ffffff">
<circle cx="47.3" cy="449.8" r="1.2"/>
<circle cx="48.8" cy="449.8" r="1.2"/>
<circle cx="50.3" cy="449.8" r="1.2"/>
<circle cx="51.7" cy="449.8" r="1.2"/>
<circle cx="53.2" cy="449.8" r="1.2"/>
<circle cx="54.7" cy="449.8" r="1.2"/>
<circle cx="56.2" cy="449.8" r="1.2"/>
<circle cx="57.6" cy="449.8" r="1.2"/>
<circle cx="59.1" cy="449.8" r="1.2"/>
<circle cx="60.6" cy="449.7" r="1.2"/>
<circle cx="62.1" cy="449.7" r="1.2"/>
<circle cx="63.5" cy="449.6" r="1.2"/>
<circle cx="65" cy="449.5" r="1.2"/>
<circle cx="66.5" cy="449.5" r="1.2"/>
<circle cx="30" cy="457.5" r="0.7"/>
<circle cx="33" cy="457.5" r="0.7"/>
<circle cx="36" cy="457.5" r="0.7"/>
<circle cx="39" cy="457.5" r="0.7"/>
<circle cx="42" cy="457.5" r="0.7"/>
<circle cx="45" cy="457.5" r="0.7"/>
<circle cx="48" cy="457.5" r="0.7"/>
<circle cx="51" cy="457.5" r="0.7"/>
<circle cx="54" cy="457.5" r="0.7"/>
<circle cx="57" cy="457.5" r="0.7"/>
<circle cx="60" cy="457.5" r="0.7"/>
<circle cx="63" cy="457.5" r="0.7"/>
<circle cx="66" cy="457.5" r="0.7"/>
<circle cx="69" cy="457.5" r="0.7"/>
<circle cx="72" cy="457.5" r="0.7"/>
<circle cx="75" cy="457.5" r="0.7"/>
<circle cx="78" cy="457.5" r="0.7"/>
<circle cx="81" cy="457.5" r="0.7"/>
<circle cx="84" cy="457.5" r="0.7"/>
<circle cx="87" cy="457.5" r="0.7"/>
<circle cx="90" cy="457.5" r="0.7"/>
<circle cx="93" cy="457.5" r="0.7"/>
<circle cx="96" cy="457.5" r="0.7"/>
<circle cx="99" cy="457.5" r="0.7"/>
<circle cx="102" cy="457.5" r="0.7"/>
<circle cx="105" cy="457.5" r="0.7"/>
<circle cx="108" cy="457.5" r="0.7"/>
<circle cx="111" cy="457.5" r="0.7"/>
<circle cx="114" cy="457.5" r="0.7"/>
<circle cx="117" cy="457.5" r="0.7"/>
<circle cx="120" cy="457.5" r="0.7"/>
<circle cx="123" cy="457.5" r="0.7"/>
<circle cx="126" cy="457.5" r="0.7"/>
<circle cx="129" cy="457.5" r="0.7"/>
<circle cx="132" cy="457.5" r="0.7"/>
<circle cx="135" cy="457.5" r="0.7"/>
<circle cx="138" cy="457.5" r="0.7"/>
<circle cx="141" cy="457.5" r="0.7"/>
<circle cx="144" cy="457.5" r="0.7"/>
<circle cx="147" cy="457.5" r="0.7"/>
<circle cx="150" cy="457.5" r="0.7"/>
<circle cx="153" cy="457.5" r="0.7"/>
<circle cx="156" cy="457.5" r="0.7"/>
<circle cx="30" cy="460.5" r="0.7"/>
<circle cx="33" cy="460.5" r="0.7"/>
<circle cx="36" cy="460.5" r="0.7"/>
<circle cx="39" cy="460.5" r="0.7"/>
<circle cx="42" cy="460.5" r="0.7"/>
<circle cx="45" cy="460.5" r="0.7"/>
<circle cx="48" cy="460.5" r="0.7"/>
<circle cx="51" cy="460.5" r="0.7"/>
<circle cx="54" cy="460.5" r="0.7"/>
<circle cx="57" cy="460.5" r="0.7"/>
<circle cx="60" cy="460.5" r="0.7"/>
<circle cx="63" cy="460.5" r="0.7"/>
<circle cx="66" cy="460.5" r="0.7"/>
<circle cx="69" cy="460.5" r="0.7"/>
<circle cx="72" cy="460.5" r="0.7"/>
<circle cx="75" cy="460.5" r="0.7"/>
<circle cx="78" cy="460.5" r="0.7"/>
<circle cx="81" cy="460.5" r="0.7"/>
<circle cx="84" cy="460.5" r="0.7"/>
<circle cx="87" cy="460.5" r="0.7"/>
<circle cx="90" cy="460.5" r="0.7"/>
<circle cx="93" cy="460.5" r="0.7"/>
<circle cx="96" cy="460.5" r="0.7"/>
<circle cx="99" cy="460.5" r="0.7"/>
<circle cx="102" cy="460.5" r="0.7"/>
<circle cx="105" cy="460.5" r="0.7"/>
<circle cx="108" cy="460.5" r="0.7"/>
<circle cx="111" cy="460.5" r="0.7"/>
<circle cx="114" cy="460.5" r="0.7"/>
<circle cx="117" cy="460.5" r="0.7"/>
<circle cx="120" cy="460.5" r="0.7"/>
<circle cx="123" cy="460.5" r="0.7"/>
<circle cx="126" cy="460.5" r="0.7"/>
<circle cx="129" cy="460.5" r="0.7"/>
<circle cx="132" cy="460.5" r="0.7"/>
<circle cx="135" cy="460.5" r="0.7"/>
<circle cx="138" cy="460.5" r="0.7"/>
<circle cx="141" cy="460.5" r="0.7"/>
<circle cx="144" cy="460.5" r="0.7"/>
<circle cx="147" cy="460.5" r="0.7"/>
<circle cx="150" cy="460.5" r="0.7"/>
<circle cx="153" cy="460.5" r="0.7"/>
<circle cx="156" cy="460.5" r="0.7"/>
<circle cx="32.6" cy="452" r="0.9"/>
<circle cx="32.6" cy="455" r="0.9"/>
<circle cx="32.6" cy="461" r="0.9"/>
<circle cx="35.6" cy="452" r="0.9"/>
<circle cx="35.6" cy="458" r="0.9"/>
<circle cx="38.7" cy="458" r="0.9"/>
<circle cx="38.7" cy="461" r="0.9"/>
<circle cx="41.7" cy="455" r="0.9"/>
<circle cx="50.8" cy="452" r="0.9"/>
<circle cx="50.8" cy="455" r="0.9"/>
<circle cx="53.8" cy="458" r="0.9"/>
<circle cx="53.8" cy="461" r="0.9"/>
<circle cx="56.8" cy="455" r="0.9"/>
<circle cx="56.8" cy="458" r="0.9"/>
<circle cx="56.8" cy="461" r="0.9"/>
<circle cx="62.8" cy="461" r="0.9"/>
<circle cx="65.9" cy="452" r="0.9"/>
<circle cx="68.9" cy="452" r="0.9"/>
<circle cx="71.9" cy="452" r="0.9"/>
<circle cx="71.9" cy="455" r="0.9"/>
<circle cx="81" cy="458" r="0.9"/>
<circle cx="87" cy="455" r="0.9"/>
<circle cx="87" cy="458" r="0.9"/>
<circle cx="90" cy="452" r="0.9"/>
<circle cx="93" cy="455" r="0.9"/>
<circle cx="96.1" cy="458" r="0.9"/>
<circle cx="96.1" cy="461" r="0.9"/>
<circle cx="108.2" cy="461" r="0.9"/>
<circle cx="111.2" cy="455" r="0.9"/>
<circle cx="111.2" cy="461" r="0.9"/>
<circle cx="120.2" cy="455" r="0.9"/>
<circle cx="123.3" cy="461" r="0.9"/>
<circle cx="126.3" cy="458" r="0.9"/>
<circle cx="126.3" cy="461" r="0.9"/>
<circle cx="129.3" cy="452" r="0.9"/>
<circle cx="129.3" cy="458" r="0.9"/>
<circle cx="135.3" cy="455" r="0.9"/>
<circle cx="135.3" cy="461" r="0.9"/>
<circle cx="138.4" cy="455" r="0.9"/>
<circle cx="141.4" cy="452" r="0.9"/>
<circle cx="141.4" cy="455" r="0.9"/>
<circle cx="141.4" cy="461" r="0.9"/>
<circle cx="144.4" cy="461" r="0.9"/>
<circle cx="147.4" cy="455" r="0.9"/>
<circle cx="147.4" cy="461" r="0.9"/>
<circle cx="150.5" cy="452" r="0.9"/>
<circle cx="156.5" cy="452" r="0.9"/>
<circle cx="156.5" cy="455" r="0.9"/>
<circle cx="156.5" cy="461" r="0.9"/>
</g>
<g fill="#12c98a">
<circle cx="29.3" cy="328.6" r="1.3"/>
<circle cx="33.2" cy="327.9" r="1.3"/>
<circle cx="37" cy="327.9" r="1.3"/>
<circle cx="40.9" cy="327.9" r="1.3"/>
<circle cx="44.8" cy="327.3" r="1.3"/>
<circle cx="48.7" cy="327.3" r="1.3"/>
<circle cx="52.5" cy="326.2" r="1.3"/>
<circle cx="56.4" cy="325" r="1.3"/>
<circle cx="60.3" cy="323.6" r="1.3"/>
<circle cx="64.1" cy="322.4" r="1.3"/>
<circle cx="68" cy="321" r="1.3"/>
<circle cx="56.9" cy="349.9" r="1.3"/>
<circle cx="60.5" cy="347.5" r="1.3"/>
<circle cx="64.2" cy="344.5" r="1.3"/>
<circle cx="67.8" cy="341.4" r="1.3"/>
<circle cx="71.5" cy="338.5" r="1.3"/>
<circle cx="75.1" cy="335.7" r="1.3"/>
<circle cx="78.7" cy="334" r="1.3"/>
<circle cx="82.4" cy="332.6" r="1.3"/>
<circle cx="86" cy="331.6" r="1.3"/>
<circle cx="89.7" cy="330.8" r="1.3"/>
<circle cx="93.3" cy="329.8" r="1.3"/>
<circle cx="69.5" cy="332.3" r="1.3"/>
<circle cx="73.5" cy="329.7" r="1.3"/>
<circle cx="77.4" cy="327.7" r="1.3"/>
<circle cx="81.4" cy="325.7" r="1.3"/>
<circle cx="85.4" cy="324.3" r="1.3"/>
<circle cx="89.3" cy="323.5" r="1.3"/>
<circle cx="93.3" cy="323.5" r="1.3"/>
<circle cx="119.4" cy="335.9" r="1.4"/>
<circle cx="123.1" cy="331.9" r="1.4"/>
<circle cx="126.8" cy="332.8" r="1.4"/>
<circle cx="130.5" cy="334.2" r="1.4"/>
<circle cx="134.2" cy="335.3" r="1.4"/>
<circle cx="137.9" cy="335.5" r="1.4"/>
<circle cx="141.7" cy="335.1" r="1.4"/>
<circle cx="145.4" cy="334.6" r="1.4"/>
<circle cx="149.1" cy="334.3" r="1.4"/>
<circle cx="152.8" cy="334.9" r="1.4"/>
<circle cx="156.5" cy="334.9" r="1.4"/>
<circle cx="113.1" cy="338" r="1.3"/>
<circle cx="116.8" cy="338.8" r="1.3"/>
<circle cx="120.4" cy="339.6" r="1.3"/>
<circle cx="124.1" cy="340.2" r="1.3"/>
<circle cx="127.7" cy="340.1" r="1.3"/>
<circle cx="131.4" cy="340.1" r="1.3"/>
<circle cx="135" cy="340.5" r="1.3"/>
<circle cx="138.7" cy="340.9" r="1.3"/>
<circle cx="142.3" cy="341.3" r="1.3"/>
<circle cx="146" cy="342" r="1.3"/>
<circle cx="134" cy="321.2" r="1.4"/>
<circle cx="137.8" cy="322.1" r="1.4"/>
<circle cx="141.5" cy="323.9" r="1.4"/>
<circle cx="145.2" cy="325.7" r="1.4"/>
<circle cx="149" cy="327.1" r="1.4"/>
<circle cx="152.8" cy="328.1" r="1.4"/>
<circle cx="156.5" cy="328.6" r="1.4"/>
<circle cx="29.6" cy="340" r="1.2"/>
<circle cx="33" cy="342" r="1.2"/>
<circle cx="29.6" cy="364" r="1.2"/>
<circle cx="33" cy="362" r="1.2"/>
<circle cx="40" cy="363" r="1.2"/>
</g>
<g fill="#7b7f7f">
<circle cx="29.6" cy="437.6" r="1.6"/>
<circle cx="32.7" cy="437.6" r="1.6"/>
<circle cx="35.8" cy="437.5" r="1.6"/>
<circle cx="38.9" cy="437.5" r="1.6"/>
<circle cx="42" cy="437.5" r="1.6"/>
<circle cx="45.1" cy="437.6" r="1.6"/>
<circle cx="48.2" cy="437.7" r="1.6"/>
<circle cx="51.3" cy="437.9" r="1.6"/>
<circle cx="54.4" cy="438.2" r="1.6"/>
<circle cx="57.5" cy="438.9" r="1.6"/>
<circle cx="60.6" cy="440.1" r="1.6"/>
<circle cx="63.7" cy="441.4" r="1.6"/>
<circle cx="66.8" cy="442.7" r="1.6"/>
<circle cx="66.8" cy="442.2" r="1.6"/>
<circle cx="69.8" cy="442" r="1.6"/>
<circle cx="72.8" cy="441.7" r="1.6"/>
<circle cx="75.8" cy="441.4" r="1.6"/>
<circle cx="78.8" cy="441" r="1.6"/>
<circle cx="81.8" cy="440.5" r="1.6"/>
<circle cx="84.7" cy="440" r="1.6"/>
<circle cx="87.7" cy="439.6" r="1.6"/>
<circle cx="90.7" cy="439.2" r="1.6"/>
<circle cx="93.7" cy="438.7" r="1.6"/>
<circle cx="96.7" cy="438.1" r="1.6"/>
<circle cx="99.7" cy="437.5" r="1.6"/>
<circle cx="102.7" cy="437.6" r="1.6"/>
<circle cx="105.7" cy="437.9" r="1.6"/>
<circle cx="108.7" cy="438.2" r="1.6"/>
<circle cx="111.7" cy="438.6" r="1.6"/>
<circle cx="114.6" cy="438.7" r="1.6"/>
<circle cx="117.6" cy="438.5" r="1.6"/>
<circle cx="120.6" cy="438" r="1.6"/>
<circle cx="123.6" cy="437.5" r="1.6"/>
<circle cx="126.6" cy="437.3" r="1.6"/>
<circle cx="129.6" cy="437.1" r="1.6"/>
<circle cx="132.6" cy="436.9" r="1.6"/>
<circle cx="135.6" cy="436.6" r="1.6"/>
<circle cx="138.6" cy="436.2" r="1.6"/>
<circle cx="141.6" cy="435.9" r="1.6"/>
<circle cx="144.5" cy="435.9" r="1.6"/>
<circle cx="147.5" cy="436.4" r="1.6"/>
<circle cx="150.5" cy="437.1" r="1.6"/>
<circle cx="153.5" cy="437.9" r="1.6"/>
<circle cx="156.5" cy="438.7" r="1.6"/>
<circle cx="29.6" cy="443" r="0.9"/>
<circle cx="35.6" cy="443.3" r="0.9"/>
<circle cx="41.7" cy="443.5" r="0.9"/>
<circle cx="47.7" cy="443.5" r="0.9"/>
<circle cx="53.8" cy="443" r="0.9"/>
<circle cx="59.8" cy="442.2" r="0.9"/>
<circle cx="65.9" cy="441.6" r="0.9"/>
<circle cx="71.9" cy="441.5" r="0.9"/>
<circle cx="77.9" cy="441.6" r="0.9"/>
<circle cx="84" cy="441.7" r="0.9"/>
<circle cx="90" cy="441.3" r="0.9"/>
<circle cx="96.1" cy="440.7" r="0.9"/>
<circle cx="102.1" cy="440" r="0.9"/>
<circle cx="108.2" cy="439.3" r="0.9"/>
<circle cx="114.2" cy="438.7" r="0.9"/>
<circle cx="120.2" cy="439.7" r="0.9"/>
<circle cx="126.3" cy="440.9" r="0.9"/>
<circle cx="132.3" cy="441.5" r="0.9"/>
<circle cx="138.4" cy="441.4" r="0.9"/>
<circle cx="144.4" cy="441" r="0.9"/>
<circle cx="150.5" cy="441.2" r="0.9"/>
<circle cx="156.5" cy="441.6" r="0.9"/>
<circle cx="32.6" cy="447.6" r="0.9"/>
<circle cx="38.7" cy="447.9" r="0.9"/>
<circle cx="44.7" cy="448.1" r="0.9"/>
<circle cx="50.8" cy="447.8" r="0.9"/>
<circle cx="56.8" cy="447.1" r="0.9"/>
<circle cx="62.8" cy="446.4" r="0.9"/>
<circle cx="68.9" cy="446" r="0.9"/>
<circle cx="74.9" cy="446.1" r="0.9"/>
<circle cx="81" cy="446.2" r="0.9"/>
<circle cx="87" cy="446" r="0.9"/>
<circle cx="93" cy="445.5" r="0.9"/>
<circle cx="99.1" cy="444.9" r="0.9"/>
<circle cx="105.1" cy="444.2" r="0.9"/>
<circle cx="111.2" cy="443.4" r="0.9"/>
<circle cx="117.2" cy="443.5" r="0.9"/>
<circle cx="123.3" cy="444.9" r="0.9"/>
<circle cx="129.3" cy="445.8" r="0.9"/>
<circle cx="135.3" cy="446.1" r="0.9"/>
<circle cx="141.4" cy="445.7" r="0.9"/>
<circle cx="147.4" cy="445.5" r="0.9"/>
<circle cx="153.5" cy="445.9" r="0.9"/>
<circle cx="29.6" cy="452" r="0.9"/>
<circle cx="35.6" cy="452.3" r="0.9"/>
<circle cx="41.7" cy="452.5" r="0.9"/>
<circle cx="47.7" cy="452.5" r="0.9"/>
<circle cx="53.8" cy="452" r="0.9"/>
<circle cx="59.8" cy="451.2" r="0.9"/>
<circle cx="65.9" cy="450.6" r="0.9"/>
<circle cx="71.9" cy="450.5" r="0.9"/>
<circle cx="77.9" cy="450.6" r="0.9"/>
<circle cx="84" cy="450.7" r="0.9"/>
<circle cx="90" cy="450.3" r="0.9"/>
<circle cx="96.1" cy="449.7" r="0.9"/>
<circle cx="102.1" cy="449" r="0.9"/>
<circle cx="108.2" cy="448.3" r="0.9"/>
<circle cx="114.2" cy="447.7" r="0.9"/>
<circle cx="120.2" cy="448.7" r="0.9"/>
<circle cx="126.3" cy="449.9" r="0.9"/>
<circle cx="132.3" cy="450.5" r="0.9"/>
<circle cx="138.4" cy="450.4" r="0.9"/>
<circle cx="144.4" cy="450" r="0.9"/>
<circle cx="150.5" cy="450.2" r="0.9"/>
<circle cx="156.5" cy="450.6" r="0.9"/>
<circle cx="32.6" cy="456.6" r="0.9"/>
<circle cx="38.7" cy="456.9" r="0.9"/>
<circle cx="44.7" cy="457.1" r="0.9"/>
<circle cx="50.8" cy="456.8" r="0.9"/>
<circle cx="56.8" cy="456.1" r="0.9"/>
<circle cx="62.8" cy="455.4" r="0.9"/>
<circle cx="68.9" cy="455" r="0.9"/>
<circle cx="74.9" cy="455.1" r="0.9"/>
<circle cx="81" cy="455.2" r="0.9"/>
<circle cx="87" cy="455" r="0.9"/>
<circle cx="93" cy="454.5" r="0.9"/>
<circle cx="99.1" cy="453.9" r="0.9"/>
<circle cx="105.1" cy="453.2" r="0.9"/>
<circle cx="111.2" cy="452.4" r="0.9"/>
<circle cx="117.2" cy="452.5" r="0.9"/>
<circle cx="123.3" cy="453.9" r="0.9"/>
<circle cx="129.3" cy="454.8" r="0.9"/>
<circle cx="135.3" cy="455.1" r="0.9"/>
<circle cx="141.4" cy="454.7" r="0.9"/>
<circle cx="147.4" cy="454.5" r="0.9"/>
<circle cx="153.5" cy="454.9" r="0.9"/>
<circle cx="29.6" cy="461" r="0.9"/>
<circle cx="35.6" cy="461.3" r="0.9"/>
<circle cx="41.7" cy="461.5" r="0.9"/>
<circle cx="47.7" cy="461.5" r="0.9"/>
<circle cx="53.8" cy="461" r="0.9"/>
<circle cx="59.8" cy="460.2" r="0.9"/>
<circle cx="65.9" cy="459.6" r="0.9"/>
<circle cx="71.9" cy="459.5" r="0.9"/>
<circle cx="77.9" cy="459.6" r="0.9"/>
<circle cx="84" cy="459.7" r="0.9"/>
<circle cx="90" cy="459.3" r="0.9"/>
<circle cx="96.1" cy="458.7" r="0.9"/>
<circle cx="102.1" cy="458" r="0.9"/>
<circle cx="108.2" cy="457.3" r="0.9"/>
<circle cx="114.2" cy="456.7" r="0.9"/>
<circle cx="120.2" cy="457.7" r="0.9"/>
<circle cx="126.3" cy="458.9" r="0.9"/>
<circle cx="132.3" cy="459.5" r="0.9"/>
<circle cx="138.4" cy="459.4" r="0.9"/>
<circle cx="144.4" cy="459" r="0.9"/>
<circle cx="150.5" cy="459.2" r="0.9"/>
<circle cx="156.5" cy="459.6" r="0.9"/>
<circle cx="29.6" cy="420.2" r="0.9"/>
<circle cx="34.4" cy="420.6" r="0.9"/>
<circle cx="39.2" cy="420.9" r="0.9"/>
<circle cx="44" cy="421.7" r="0.9"/>
<circle cx="48.8" cy="423.1" r="0.9"/>
<circle cx="53.5" cy="425.3" r="0.9"/>
<circle cx="58.3" cy="427.9" r="0.9"/>
<circle cx="63.1" cy="431" r="0.9"/>
<circle cx="67.9" cy="433.6" r="0.9"/>
<circle cx="72.7" cy="435" r="0.9"/>
<circle cx="77.5" cy="434.3" r="0.9"/>
<circle cx="82.3" cy="431.9" r="0.9"/>
<circle cx="87.1" cy="429.7" r="0.9"/>
<circle cx="91.9" cy="428" r="0.9"/>
<circle cx="96.6" cy="426.1" r="0.9"/>
<circle cx="101.4" cy="424.2" r="0.9"/>
<circle cx="106.2" cy="422.9" r="0.9"/>
<circle cx="111" cy="421.9" r="0.9"/>
<circle cx="115.8" cy="421.5" r="0.9"/>
<circle cx="120.6" cy="421.3" r="0.9"/>
<circle cx="125.4" cy="421.5" r="0.9"/>
<circle cx="130.2" cy="422.2" r="0.9"/>
<circle cx="135" cy="422.1" r="0.9"/>
<circle cx="139.7" cy="421.4" r="0.9"/>
<circle cx="144.5" cy="420.6" r="0.9"/>
<circle cx="149.3" cy="419.7" r="0.9"/>
<circle cx="154.1" cy="418.9" r="0.9"/>
<circle cx="29.6" cy="431.5" r="0.9"/>
<circle cx="34.4" cy="432.8" r="0.9"/>
<circle cx="39.2" cy="433.9" r="0.9"/>
<circle cx="44" cy="434.6" r="0.9"/>
<circle cx="48.8" cy="434.9" r="0.9"/>
<circle cx="53.5" cy="434.7" r="0.9"/>
<circle cx="58.3" cy="434.3" r="0.9"/>
<circle cx="63.1" cy="433.9" r="0.9"/>
<circle cx="67.9" cy="434.9" r="0.9"/>
<circle cx="72.7" cy="435.9" r="0.9"/>
<circle cx="77.5" cy="435.6" r="0.9"/>
<circle cx="82.3" cy="434.5" r="0.9"/>
<circle cx="87.1" cy="433.2" r="0.9"/>
<circle cx="91.9" cy="432" r="0.9"/>
<circle cx="96.6" cy="430.7" r="0.9"/>
<circle cx="101.4" cy="429.8" r="0.9"/>
<circle cx="106.2" cy="429.5" r="0.9"/>
<circle cx="111" cy="429.5" r="0.9"/>
<circle cx="115.8" cy="429.8" r="0.9"/>
<circle cx="120.6" cy="430" r="0.9"/>
<circle cx="125.4" cy="429.7" r="0.9"/>
<circle cx="130.2" cy="429.3" r="0.9"/>
<circle cx="135" cy="428.7" r="0.9"/>
<circle cx="139.7" cy="428.1" r="0.9"/>
<circle cx="144.5" cy="428.6" r="0.9"/>
<circle cx="149.3" cy="429.3" r="0.9"/>
<circle cx="154.1" cy="429.8" r="0.9"/>
<circle cx="29.6" cy="425.5" r="0.9"/>
<circle cx="33.8" cy="426" r="0.9"/>
<circle cx="38" cy="426.5" r="0.9"/>
<circle cx="132" cy="425.5" r="0.9"/>
<circle cx="136.9" cy="425.2" r="0.9"/>
<circle cx="141.8" cy="424.9" r="0.9"/>
<circle cx="146.7" cy="424.6" r="0.9"/>
<circle cx="151.6" cy="424.5" r="0.9"/>
<circle cx="156.5" cy="424.5" r="0.9"/>
<circle cx="100" cy="427" r="0.9"/>
<circle cx="105.2" cy="426.4" r="0.9"/>
<circle cx="110.4" cy="426" r="0.9"/>
<circle cx="29.6" cy="376.8" r="0.8"/>
<circle cx="36.2" cy="377.3" r="0.8"/>
<circle cx="42.7" cy="377.4" r="0.8"/>
<circle cx="49.3" cy="376.6" r="0.8"/>
<circle cx="55.9" cy="375.4" r="0.8"/>
<circle cx="62.4" cy="375.1" r="0.8"/>
<circle cx="69" cy="376.5" r="0.8"/>
<circle cx="75.5" cy="379.1" r="0.8"/>
<circle cx="82.1" cy="382.4" r="0.8"/>
<circle cx="88.7" cy="385.2" r="0.8"/>
<circle cx="95.2" cy="386.9" r="0.8"/>
<circle cx="101.8" cy="387.6" r="0.8"/>
<circle cx="108.4" cy="390.7" r="0.8"/>
<circle cx="114.9" cy="392.8" r="0.8"/>
<circle cx="121.5" cy="392.7" r="0.8"/>
<circle cx="128.1" cy="388.1" r="0.8"/>
<circle cx="134.6" cy="380.7" r="0.8"/>
<circle cx="141.2" cy="376.9" r="0.8"/>
<circle cx="147.7" cy="375.5" r="0.8"/>
<circle cx="154.3" cy="375.1" r="0.8"/>
<circle cx="29.6" cy="380.4" r="0.8"/>
<circle cx="36.2" cy="380.9" r="0.8"/>
<circle cx="42.7" cy="381" r="0.8"/>
<circle cx="49.3" cy="380.2" r="0.8"/>
<circle cx="55.9" cy="379" r="0.8"/>
<circle cx="62.4" cy="378.7" r="0.8"/>
<circle cx="69" cy="380.1" r="0.8"/>
<circle cx="75.5" cy="382.7" r="0.8"/>
<circle cx="82.1" cy="386" r="0.8"/>
<circle cx="88.7" cy="388.8" r="0.8"/>
<circle cx="95.2" cy="390.5" r="0.8"/>
<circle cx="101.8" cy="391.3" r="0.8"/>
<circle cx="108.4" cy="392.9" r="0.8"/>
<circle cx="114.9" cy="394.5" r="0.8"/>
<circle cx="121.5" cy="394.5" r="0.8"/>
<circle cx="128.1" cy="391.2" r="0.8"/>
<circle cx="134.6" cy="384.3" r="0.8"/>
<circle cx="141.2" cy="380.5" r="0.8"/>
<circle cx="147.7" cy="379.1" r="0.8"/>
<circle cx="154.3" cy="378.7" r="0.8"/>
<circle cx="108.9" cy="385" r="0.8"/>
<circle cx="115.4" cy="380.8" r="0.8"/>
<circle cx="121.9" cy="378.2" r="0.8"/>
<circle cx="128.4" cy="376.4" r="0.8"/>
<circle cx="134.9" cy="375.4" r="0.8"/>
<circle cx="141.4" cy="374.9" r="0.8"/>
<circle cx="147.8" cy="374.7" r="0.8"/>
<circle cx="154.3" cy="374.6" r="0.8"/>
<circle cx="29.6" cy="366.5" r="0.8"/>
<circle cx="36.2" cy="366.6" r="0.8"/>
<circle cx="42.7" cy="366.1" r="0.8"/>
<circle cx="49.3" cy="367.2" r="0.8"/>
<circle cx="55.9" cy="367.7" r="0.8"/>
<circle cx="62.4" cy="366.7" r="0.8"/>
<circle cx="69" cy="365.5" r="0.8"/>
<circle cx="75.5" cy="366.3" r="0.8"/>
<circle cx="82.1" cy="369.6" r="0.8"/>
<circle cx="88.7" cy="370.7" r="0.8"/>
<circle cx="95.2" cy="370.6" r="0.8"/>
<circle cx="101.8" cy="369.9" r="0.8"/>
<circle cx="108.4" cy="369.5" r="0.8"/>
<circle cx="114.9" cy="368.5" r="0.8"/>
<circle cx="121.5" cy="367.5" r="0.8"/>
<circle cx="128.1" cy="366.6" r="0.8"/>
<circle cx="134.6" cy="366" r="0.8"/>
<circle cx="141.2" cy="366.2" r="0.8"/>
<circle cx="147.7" cy="366.6" r="0.8"/>
<circle cx="154.3" cy="366.9" r="0.8"/>
<circle cx="49" cy="372.8" r="0.8"/>
<circle cx="55.6" cy="371.7" r="0.8"/>
<circle cx="62.2" cy="369.4" r="0.8"/>
<circle cx="68.7" cy="366" r="0.8"/>
<circle cx="75.3" cy="362.9" r="0.8"/>
<circle cx="81.9" cy="362" r="0.8"/>
<circle cx="88.5" cy="362" r="0.8"/>
<circle cx="95.1" cy="362" r="0.8"/>
<circle cx="101.7" cy="362" r="0.8"/>
<circle cx="108.2" cy="362" r="0.8"/>
<circle cx="114.8" cy="362" r="0.8"/>
<circle cx="121.4" cy="361.2" r="0.8"/>
<circle cx="128" cy="361.3" r="0.8"/>
<circle cx="134.6" cy="362.5" r="0.8"/>
<circle cx="141.1" cy="362.8" r="0.8"/>
<circle cx="147.7" cy="363.2" r="0.8"/>
<circle cx="154.3" cy="363.8" r="0.8"/>
<circle cx="29.6" cy="372" r="0.8"/>
<circle cx="36.1" cy="372.3" r="0.8"/>
<circle cx="42.5" cy="372.6" r="0.8"/>
<circle cx="49" cy="372.8" r="0.8"/>
<circle cx="51.1" cy="358.1" r="0.9"/>
<circle cx="55.9" cy="357.2" r="0.9"/>
<circle cx="60.7" cy="356.6" r="0.9"/>
<circle cx="65.5" cy="356.8" r="0.9"/>
<circle cx="70.3" cy="357.7" r="0.9"/>
<circle cx="75.1" cy="360.5" r="0.9"/>
<circle cx="79.8" cy="362.5" r="0.9"/>
<circle cx="84.6" cy="363.1" r="0.9"/>
<circle cx="89.4" cy="363.3" r="0.9"/>
<circle cx="94.2" cy="362.9" r="0.9"/>
<circle cx="99" cy="361.3" r="0.9"/>
<circle cx="103.8" cy="359.5" r="0.9"/>
<circle cx="108.6" cy="358" r="0.9"/>
<circle cx="113.4" cy="358.1" r="0.9"/>
<circle cx="118.2" cy="358.8" r="0.9"/>
<circle cx="123" cy="359.2" r="0.9"/>
<circle cx="127.8" cy="359.5" r="0.9"/>
<circle cx="132.5" cy="359.3" r="0.9"/>
<circle cx="137.3" cy="358.7" r="0.9"/>
<circle cx="142.1" cy="358.4" r="0.9"/>
<circle cx="146.9" cy="358.2" r="0.9"/>
<circle cx="151.7" cy="358.1" r="0.9"/>
<circle cx="156.5" cy="358" r="0.9"/>
<circle cx="96" cy="353.5" r="0.9"/>
<circle cx="100.8" cy="353.6" r="0.9"/>
<circle cx="105.7" cy="354.3" r="0.9"/>
<circle cx="110.5" cy="355.1" r="0.9"/>
<circle cx="115.4" cy="355.9" r="0.9"/>
<circle cx="120.2" cy="356.5" r="0.9"/>
<circle cx="125" cy="356.4" r="0.9"/>
<circle cx="129.9" cy="356" r="0.9"/>
<circle cx="134.7" cy="355.4" r="0.9"/>
<circle cx="139.6" cy="355" r="0.9"/>
<circle cx="144.4" cy="355.1" r="0.9"/>
<circle cx="149.2" cy="355.5" r="0.9"/>
<circle cx="154.1" cy="355.8" r="0.9"/>
<circle cx="90" cy="347.4" r="0.9"/>
<circle cx="94.8" cy="346.6" r="0.9"/>
<circle cx="99.5" cy="346.1" r="0.9"/>
<circle cx="104.2" cy="345.9" r="0.9"/>
<circle cx="109" cy="346.4" r="0.9"/>
<circle cx="113.8" cy="347.3" r="0.9"/>
<circle cx="118.5" cy="349.2" r="0.9"/>
<circle cx="123.2" cy="350.3" r="0.9"/>
<circle cx="128" cy="351.3" r="0.9"/>
<circle cx="132.8" cy="352.2" r="0.9"/>
<circle cx="137.5" cy="353.3" r="0.9"/>
<circle cx="142.2" cy="353.4" r="0.9"/>
<circle cx="147" cy="352.2" r="0.9"/>
<circle cx="151.8" cy="351.5" r="0.9"/>
<circle cx="156.5" cy="351" r="0.9"/>
<circle cx="29.6" cy="357.5" r="0.9"/>
<circle cx="34.9" cy="356.8" r="0.9"/>
<circle cx="40.2" cy="357.1" r="0.9"/>
<circle cx="45.5" cy="357.5" r="0.9"/>
<circle cx="50.8" cy="358" r="0.9"/>
<circle cx="56.1" cy="357.9" r="0.9"/>
<circle cx="61.4" cy="357.4" r="0.9"/>
<circle cx="66.8" cy="356.4" r="0.9"/>
<circle cx="72.1" cy="353.5" r="0.9"/>
<circle cx="77.4" cy="349.8" r="0.9"/>
<circle cx="82.7" cy="346.9" r="0.9"/>
<circle cx="88" cy="345.1" r="0.9"/>
<circle cx="93.3" cy="344.5" r="0.9"/>
<circle cx="29.6" cy="362" r="0.9"/>
<circle cx="35.2" cy="362" r="0.9"/>
<circle cx="40.7" cy="362" r="0.9"/>
<circle cx="46.3" cy="361.5" r="0.9"/>
<circle cx="51.9" cy="361.9" r="0.9"/>
<circle cx="57.4" cy="362.6" r="0.9"/>
<circle cx="63" cy="363.5" r="0.9"/>
<circle cx="68.5" cy="363.2" r="0.9"/>
<circle cx="74.1" cy="362.7" r="0.9"/>
<circle cx="79.7" cy="364.1" r="0.9"/>
<circle cx="85.2" cy="365.7" r="0.9"/>
<circle cx="90.8" cy="366.3" r="0.9"/>
<circle cx="29.3" cy="338" r="1"/>
<circle cx="32.9" cy="337.4" r="1"/>
<circle cx="36.6" cy="337.1" r="1"/>
<circle cx="40.2" cy="336.7" r="1"/>
<circle cx="43.8" cy="336.3" r="1"/>
<circle cx="47.5" cy="336.1" r="1"/>
<circle cx="51.1" cy="336.1" r="1"/>
<circle cx="54.7" cy="335.6" r="1"/>
<circle cx="58.4" cy="335.2" r="1"/>
<circle cx="62" cy="334.5" r="1"/>
<circle cx="65.6" cy="333.6" r="1"/>
<circle cx="69.3" cy="332.6" r="1"/>
<circle cx="72.9" cy="332" r="1"/>
<circle cx="76.5" cy="331.6" r="1"/>
<circle cx="80.2" cy="331.2" r="1"/>
<circle cx="83.8" cy="330.9" r="1"/>
<circle cx="87.4" cy="330.6" r="1"/>
<circle cx="91.1" cy="330.4" r="1"/>
<circle cx="94.7" cy="330.8" r="1"/>
<circle cx="98.4" cy="329.9" r="1"/>
<circle cx="102" cy="327.4" r="1"/>
<circle cx="105.6" cy="325.1" r="1"/>
<circle cx="109.3" cy="324.8" r="1"/>
<circle cx="112.9" cy="323.9" r="1"/>
<circle cx="116.5" cy="323.4" r="1"/>
<circle cx="120.2" cy="323.3" r="1"/>
<circle cx="123.8" cy="323.4" r="1"/>
<circle cx="127.4" cy="323.8" r="1"/>
<circle cx="131.1" cy="324.8" r="1"/>
<circle cx="134.7" cy="326.4" r="1"/>
<circle cx="138.3" cy="328.7" r="1"/>
<circle cx="142" cy="331.3" r="1"/>
<circle cx="145.6" cy="334.5" r="1"/>
<circle cx="149.2" cy="336.1" r="1"/>
<circle cx="152.9" cy="337" r="1"/>
<circle cx="156.5" cy="337.5" r="1"/>
<circle cx="45.6" cy="347.4" r="1"/>
<circle cx="49.2" cy="348" r="1"/>
<circle cx="52.8" cy="347.5" r="1"/>
<circle cx="56.3" cy="345.8" r="1"/>
<circle cx="59.9" cy="343" r="1"/>
<circle cx="63.5" cy="340.2" r="1"/>
<circle cx="67.1" cy="337.7" r="1"/>
<circle cx="70.6" cy="336.1" r="1"/>
<circle cx="74.2" cy="336.6" r="1"/>
<circle cx="77.8" cy="337.2" r="1"/>
<circle cx="81.4" cy="337.5" r="1"/>
<circle cx="85" cy="337.4" r="1"/>
<circle cx="88.5" cy="337.1" r="1"/>
<circle cx="92.1" cy="337" r="1"/>
<circle cx="95.7" cy="337" r="1"/>
<circle cx="99.3" cy="336.6" r="1"/>
<circle cx="102.8" cy="336" r="1"/>
<circle cx="106.4" cy="336.2" r="1"/>
<circle cx="110" cy="337.3" r="1"/>
<circle cx="113.6" cy="338.8" r="1"/>
<circle cx="117.1" cy="341.3" r="1"/>
<circle cx="120.7" cy="343.1" r="1"/>
<circle cx="124.3" cy="343.3" r="1"/>
<circle cx="127.9" cy="343.3" r="1"/>
<circle cx="131.5" cy="344.2" r="1"/>
<circle cx="135" cy="345.5" r="1"/>
<circle cx="138.6" cy="346.8" r="1"/>
<circle cx="142.2" cy="347.9" r="1"/>
<circle cx="145.8" cy="348.8" r="1"/>
<circle cx="149.3" cy="349.6" r="1"/>
<circle cx="152.9" cy="350.1" r="1"/>
<circle cx="156.5" cy="350.1" r="1"/>
<circle cx="61.9" cy="321" r="1"/>
<circle cx="65.4" cy="320.4" r="1"/>
<circle cx="68.9" cy="320.4" r="1"/>
<circle cx="72.4" cy="320.5" r="1"/>
<circle cx="75.9" cy="320.8" r="1"/>
<circle cx="79.4" cy="321.1" r="1"/>
<circle cx="83" cy="321.6" r="1"/>
<circle cx="86.5" cy="322.6" r="1"/>
<circle cx="90" cy="322.6" r="1"/>
<circle cx="93.5" cy="322.7" r="1"/>
<circle cx="97" cy="324.5" r="1"/>
<circle cx="100.5" cy="326.5" r="1"/>
<circle cx="45.6" cy="352" r="1"/>
<circle cx="49.5" cy="352.3" r="1"/>
<circle cx="53.3" cy="352.6" r="1"/>
<circle cx="57.2" cy="352.3" r="1"/>
<circle cx="61" cy="351.7" r="1"/>
<circle cx="64.9" cy="350.5" r="1"/>
<circle cx="68.7" cy="348.6" r="1"/>
<circle cx="72.6" cy="346.3" r="1"/>
<circle cx="76.4" cy="344.4" r="1"/>
<circle cx="80.3" cy="342.8" r="1"/>
<circle cx="84.2" cy="341.7" r="1"/>
<circle cx="88" cy="341.1" r="1"/>
<circle cx="91.9" cy="340.9" r="1"/>
<circle cx="95.7" cy="341" r="1"/>
<circle cx="99.6" cy="341.3" r="1"/>
<circle cx="103.4" cy="341.8" r="1"/>
<circle cx="107.3" cy="342.4" r="1"/>
<circle cx="111.1" cy="343.2" r="1"/>
<circle cx="115" cy="344" r="1"/>
<circle cx="30.6" cy="341" r="1"/>
<circle cx="30.6" cy="344.5" r="1"/>
<circle cx="30.6" cy="348" r="1"/>
<circle cx="30.6" cy="352" r="1"/>
<circle cx="30.6" cy="355" r="1"/>
<circle cx="34.8" cy="341" r="1"/>
<circle cx="34.8" cy="344.5" r="1"/>
<circle cx="34.8" cy="348" r="1"/>
<circle cx="34.8" cy="352" r="1"/>
<circle cx="34.8" cy="355" r="1"/>
<circle cx="40.6" cy="341" r="1"/>
<circle cx="40.6" cy="344.5" r="1"/>
<circle cx="40.6" cy="348" r="1"/>
<circle cx="40.6" cy="352" r="1"/>
<circle cx="40.6" cy="355" r="1"/>
<circle cx="144.5" cy="348.5" r="1.6"/>
<circle cx="148.7" cy="349.5" r="1.6"/>
<circle cx="152.9" cy="350.1" r="1.6"/>
<circle cx="156" cy="350.1" r="1.6"/>
<circle cx="148.7" cy="345" r="1.6"/>
<circle cx="152.9" cy="345.5" r="1.6"/>
</g>
</g>
<line x1="45.30" y1="319.70" x2="45.30" y2="462.30" stroke="#666" stroke-width="1.0" stroke-dasharray="2.2,2.7"/>
<line x1="92.90" y1="319.70" x2="92.90" y2="462.30" stroke="#aaa" stroke-width="1.0" stroke-dasharray="2.2,2.7"/>
<line x1="108.60" y1="319.70" x2="108.60" y2="462.30" stroke="#555" stroke-width="1.0" stroke-dasharray="2.2,2.7"/>
<rect x="29.60" y="319.70" width="126.90" height="142.60" fill="none" stroke="#7d7d7d" stroke-width="1.15"/>
<line x1="29.60" y1="329.90" x2="32.60" y2="329.90" stroke="#666" stroke-width="0.9" />
<text x="27.10" y="333.80" font-size="11" text-anchor="end" font-weight="normal" font-style="normal" fill="#000" font-family="'Liberation Sans', sans-serif" >4</text>
<line x1="29.60" y1="350.30" x2="32.60" y2="350.30" stroke="#666" stroke-width="0.9" />
<text x="27.10" y="354.20" font-size="11" text-anchor="end" font-weight="normal" font-style="normal" fill="#000" font-family="'Liberation Sans', sans-serif" >3</text>
<line x1="29.60" y1="370.70" x2="32.60" y2="370.70" stroke="#666" stroke-width="0.9" />
<text x="27.10" y="374.60" font-size="11" text-anchor="end" font-weight="normal" font-style="normal" fill="#000" font-family="'Liberation Sans', sans-serif" >2</text>
<line x1="29.60" y1="391.10" x2="32.60" y2="391.10" stroke="#666" stroke-width="0.9" />
<text x="27.10" y="395.00" font-size="11" text-anchor="end" font-weight="normal" font-style="normal" fill="#000" font-family="'Liberation Sans', sans-serif" >1</text>
<line x1="29.60" y1="411.50" x2="32.60" y2="411.50" stroke="#666" stroke-width="0.9" />
<text x="27.10" y="415.40" font-size="11" text-anchor="end" font-weight="normal" font-style="normal" fill="#000" font-family="'Liberation Sans', sans-serif" >0</text>
<line x1="29.60" y1="431.90" x2="32.60" y2="431.90" stroke="#666" stroke-width="0.9" />
<text x="27.10" y="435.80" font-size="11" text-anchor="end" font-weight="normal" font-style="normal" fill="#000" font-family="'Liberation Sans', sans-serif" >-1</text>
<line x1="29.60" y1="452.30" x2="32.60" y2="452.30" stroke="#666" stroke-width="0.9" />
<text x="27.10" y="456.20" font-size="11" text-anchor="end" font-weight="normal" font-style="normal" fill="#000" font-family="'Liberation Sans', sans-serif" >-2</text>
<text x="29.60" y="476.50" font-size="16.5" text-anchor="middle" font-weight="normal" font-style="normal" fill="#000" font-family="'Liberation Serif', serif" >Γ</text>
<text x="46.30" y="476.50" font-size="15" text-anchor="middle" font-weight="normal" font-style="normal" fill="#000" font-family="'Liberation Sans', sans-serif" >X</text>
<text x="93.00" y="476.50" font-size="15" text-anchor="middle" font-weight="normal" font-style="normal" fill="#000" font-family="'Liberation Sans', sans-serif" >S</text>
<text x="108.60" y="476.50" font-size="15" text-anchor="middle" font-weight="normal" font-style="normal" fill="#000" font-family="'Liberation Sans', sans-serif" >Y</text>
<text x="156.70" y="476.50" font-size="16.5" text-anchor="middle" font-weight="normal" font-style="normal" fill="#000" font-family="'Liberation Serif', serif" >Γ</text>
<text x="37.40" y="314.20" font-size="11.6" text-anchor="start" font-weight="normal" font-style="normal" fill="#000" font-family="'Liberation Sans', sans-serif" >Ge</text>
<circle cx="58.40" cy="310.90" r="3.40" fill="#12c98a" />
<text x="69.40" y="314.20" font-size="11.6" text-anchor="start" font-weight="normal" font-style="normal" fill="#000" font-family="'Liberation Sans', sans-serif" >O</text>
<circle cx="82.90" cy="310.90" r="3.40" fill="#f5706f" />
<text x="94.30" y="314.20" font-size="11.6" text-anchor="start" font-weight="normal" font-style="normal" fill="#000" font-family="'Liberation Sans', sans-serif" >Mo</text>
<circle cx="115.50" cy="310.90" r="3.40" fill="#fdbf00" />
<text x="125.50" y="314.20" font-size="11.6" text-anchor="start" font-weight="normal" font-style="normal" fill="#000" font-family="'Liberation Sans', sans-serif" >Se</text>
<circle cx="144.70" cy="310.90" r="3.40" fill="#7b7f7f" />
<text transform="translate(12.20,391.00) rotate(-90)" x="0" y="0" font-size="16.1" text-anchor="middle" font-family="'Liberation Sans', sans-serif"><tspan font-style="italic">E</tspan>-<tspan font-style="italic">E</tspan><tspan font-size="10.5" dy="3.4">Fermi</tspan><tspan dy="-3.4">(eV)</tspan></text>
<line x1="113.50" y1="395.20" x2="156.50" y2="395.20" stroke="#333" stroke-width="0.9" stroke-dasharray="3,2.4"/>
<line x1="156.10" y1="395.20" x2="156.10" y2="420.70" stroke="#000" stroke-width="1.0" />
<polyline points="152.90,398.40 156.10,395.50 159.30,398.40" fill="none" stroke="#000" stroke-width="1"/>
<polyline points="152.90,417.50 156.10,420.40 159.30,417.50" fill="none" stroke="#000" stroke-width="1"/>
<text x="137.20" y="412.00" font-size="11.5" text-anchor="start" font-weight="normal" font-style="normal" fill="#000" font-family="'Liberation Sans', sans-serif" >1.2</text>
<clipPath id="clipi"><rect x="377.8" y="320.5" width="126.89999999999998" height="141.2"/></clipPath>
<g clip-path="url(#clipi)">
<g fill="#fdbf00">
<circle cx="377.8" cy="320.5" r="2.7"/>
<circle cx="377.8" cy="323.5" r="2.7"/>
<circle cx="377.8" cy="326.6" r="2.7"/>
<circle cx="377.8" cy="329.6" r="2.7"/>
<circle cx="377.8" cy="332.7" r="2.7"/>
<circle cx="377.8" cy="335.7" r="2.7"/>
<circle cx="377.8" cy="338.7" r="2.7"/>
<circle cx="377.8" cy="341.8" r="2.7"/>
<circle cx="377.8" cy="344.8" r="2.7"/>
<circle cx="377.8" cy="347.8" r="2.7"/>
<circle cx="377.8" cy="350.9" r="2.7"/>
<circle cx="377.8" cy="353.9" r="2.7"/>
<circle cx="377.8" cy="357" r="2.7"/>
<circle cx="377.8" cy="360" r="2.7"/>
<circle cx="380.5" cy="320.5" r="2.7"/>
<circle cx="380.5" cy="323.6" r="2.7"/>
<circle cx="380.5" cy="326.8" r="2.7"/>
<circle cx="380.5" cy="329.9" r="2.7"/>
<circle cx="380.5" cy="333" r="2.7"/>
<circle cx="380.5" cy="336.2" r="2.7"/>
<circle cx="380.5" cy="339.3" r="2.7"/>
<circle cx="380.5" cy="342.4" r="2.7"/>
<circle cx="380.5" cy="345.6" r="2.7"/>
<circle cx="380.5" cy="348.7" r="2.7"/>
<circle cx="380.5" cy="351.8" r="2.7"/>
<circle cx="380.5" cy="355" r="2.7"/>
<circle cx="380.5" cy="358.1" r="2.7"/>
<circle cx="383.2" cy="320.5" r="2.7"/>
<circle cx="383.2" cy="323.7" r="2.7"/>
<circle cx="383.2" cy="326.9" r="2.7"/>
<circle cx="383.2" cy="330.1" r="2.7"/>
<circle cx="383.2" cy="333.3" r="2.7"/>
<circle cx="383.2" cy="336.5" r="2.7"/>
<circle cx="383.2" cy="339.7" r="2.7"/>
<circle cx="383.2" cy="343" r="2.7"/>
<circle cx="383.2" cy="346.2" r="2.7"/>
<circle cx="383.2" cy="349.4" r="2.7"/>
<circle cx="383.2" cy="352.6" r="2.7"/>
<circle cx="383.2" cy="355.8" r="2.7"/>
<circle cx="385.9" cy="320.5" r="2.7"/>
<circle cx="385.9" cy="323.7" r="2.7"/>
<circle cx="385.9" cy="326.9" r="2.7"/>
<circle cx="385.9" cy="330.1" r="2.7"/>
<circle cx="385.9" cy="333.3" r="2.7"/>
<circle cx="385.9" cy="336.5" r="2.7"/>
<circle cx="385.9" cy="339.7" r="2.7"/>
<circle cx="385.9" cy="342.8" r="2.7"/>
<circle cx="385.9" cy="346" r="2.7"/>
<circle cx="385.9" cy="349.2" r="2.7"/>
<circle cx="385.9" cy="352.4" r="2.7"/>
<circle cx="388.6" cy="320.5" r="2.7"/>
<circle cx="388.6" cy="323.5" r="2.7"/>
<circle cx="388.6" cy="326.5" r="2.7"/>
<circle cx="388.6" cy="329.5" r="2.7"/>
<circle cx="388.6" cy="332.5" r="2.7"/>
<circle cx="388.6" cy="335.5" r="2.7"/>
<circle cx="388.6" cy="338.5" r="2.7"/>
<circle cx="388.6" cy="341.5" r="2.7"/>
<circle cx="388.6" cy="344.5" r="2.7"/>
<circle cx="388.6" cy="347.4" r="2.7"/>
<circle cx="391.3" cy="320.5" r="2.7"/>
<circle cx="391.3" cy="323.4" r="2.7"/>
<circle cx="391.3" cy="326.4" r="2.7"/>
<circle cx="391.3" cy="329.3" r="2.7"/>
<circle cx="391.3" cy="332.3" r="2.7"/>
<circle cx="391.3" cy="335.2" r="2.7"/>
<circle cx="391.3" cy="338.2" r="2.7"/>
<circle cx="391.3" cy="341.1" r="2.7"/>
<circle cx="394" cy="320.5" r="2.7"/>
<circle cx="394" cy="323.4" r="2.7"/>
<circle cx="394" cy="326.2" r="2.7"/>
<circle cx="394" cy="329.1" r="2.7"/>
<circle cx="394" cy="332" r="2.7"/>
<circle cx="394" cy="334.8" r="2.7"/>
<circle cx="394" cy="337.7" r="2.7"/>
<circle cx="396.7" cy="320.5" r="2.7"/>
<circle cx="396.7" cy="323.5" r="2.7"/>
<circle cx="396.7" cy="326.6" r="2.7"/>
<circle cx="396.7" cy="329.6" r="2.7"/>
<circle cx="396.7" cy="332.7" r="2.7"/>
<circle cx="396.7" cy="335.7" r="2.7"/>
<circle cx="399.4" cy="320.5" r="2.7"/>
<circle cx="399.4" cy="323.4" r="2.7"/>
<circle cx="399.4" cy="326.3" r="2.7"/>
<circle cx="399.4" cy="329.2" r="2.7"/>
<circle cx="399.4" cy="332" r="2.7"/>
<circle cx="399.4" cy="334.9" r="2.7"/>
<circle cx="402.1" cy="320.5" r="2.7"/>
<circle cx="402.1" cy="323.6" r="2.7"/>
<circle cx="402.1" cy="326.6" r="2.7"/>
<circle cx="402.1" cy="329.7" r="2.7"/>
<circle cx="402.1" cy="332.8" r="2.7"/>
<circle cx="402.1" cy="335.9" r="2.7"/>
<circle cx="404.8" cy="320.5" r="2.7"/>
<circle cx="404.8" cy="323.8" r="2.7"/>
<circle cx="404.8" cy="327.1" r="2.7"/>
<circle cx="404.8" cy="330.5" r="2.7"/>
<circle cx="404.8" cy="333.8" r="2.7"/>
<circle cx="404.8" cy="337.1" r="2.7"/>
<circle cx="407.5" cy="320.5" r="2.7"/>
<circle cx="407.5" cy="323.4" r="2.7"/>
<circle cx="407.5" cy="326.4" r="2.7"/>
<circle cx="407.5" cy="329.3" r="2.7"/>
<circle cx="407.5" cy="332.3" r="2.7"/>
<circle cx="407.5" cy="335.2" r="2.7"/>
<circle cx="407.5" cy="338.1" r="2.7"/>
<circle cx="410.2" cy="320.5" r="2.7"/>
<circle cx="410.2" cy="323.6" r="2.7"/>
<circle cx="410.2" cy="326.7" r="2.7"/>
<circle cx="410.2" cy="329.8" r="2.7"/>
<circle cx="410.2" cy="332.9" r="2.7"/>
<circle cx="410.2" cy="336" r="2.7"/>
<circle cx="410.2" cy="339.1" r="2.7"/>
<circle cx="412.9" cy="320.5" r="2.7"/>
<circle cx="412.9" cy="323.7" r="2.7"/>
<circle cx="412.9" cy="326.8" r="2.7"/>
<circle cx="412.9" cy="330" r="2.7"/>
<circle cx="412.9" cy="333.2" r="2.7"/>
<circle cx="412.9" cy="336.3" r="2.7"/>
<circle cx="412.9" cy="339.5" r="2.7"/>
<circle cx="415.6" cy="320.5" r="2.7"/>
<circle cx="415.6" cy="323.6" r="2.7"/>
<circle cx="415.6" cy="326.7" r="2.7"/>
<circle cx="415.6" cy="329.7" r="2.7"/>
<circle cx="415.6" cy="332.8" r="2.7"/>
<circle cx="415.6" cy="335.9" r="2.7"/>
<circle cx="415.6" cy="339" r="2.7"/>
<circle cx="418.3" cy="320.5" r="2.7"/>
<circle cx="418.3" cy="323.5" r="2.7"/>
<circle cx="418.3" cy="326.5" r="2.7"/>
<circle cx="418.3" cy="329.4" r="2.7"/>
<circle cx="418.3" cy="332.4" r="2.7"/>
<circle cx="418.3" cy="335.4" r="2.7"/>
<circle cx="418.3" cy="338.4" r="2.7"/>
<circle cx="421" cy="320.5" r="2.7"/>
<circle cx="421" cy="323.4" r="2.7"/>
<circle cx="421" cy="326.3" r="2.7"/>
<circle cx="421" cy="329.2" r="2.7"/>
<circle cx="421" cy="332.2" r="2.7"/>
<circle cx="421" cy="335.1" r="2.7"/>
<circle cx="421" cy="338" r="2.7"/>
<circle cx="423.7" cy="320.5" r="2.7"/>
<circle cx="423.7" cy="323.4" r="2.7"/>
<circle cx="423.7" cy="326.2" r="2.7"/>
<circle cx="423.7" cy="329.1" r="2.7"/>
<circle cx="423.7" cy="331.9" r="2.7"/>
<circle cx="423.7" cy="334.8" r="2.7"/>
<circle cx="423.7" cy="337.6" r="2.7"/>
<circle cx="426.4" cy="320.5" r="2.7"/>
<circle cx="426.4" cy="323.9" r="2.7"/>
<circle cx="426.4" cy="327.2" r="2.7"/>
<circle cx="426.4" cy="330.6" r="2.7"/>
<circle cx="426.4" cy="334" r="2.7"/>
<circle cx="426.4" cy="337.4" r="2.7"/>
<circle cx="429.1" cy="320.5" r="2.7"/>
<circle cx="429.1" cy="323.9" r="2.7"/>
<circle cx="429.1" cy="327.2" r="2.7"/>
<circle cx="429.1" cy="330.6" r="2.7"/>
<circle cx="429.1" cy="334" r="2.7"/>
<circle cx="429.1" cy="337.3" r="2.7"/>
<circle cx="431.8" cy="320.5" r="2.7"/>
<circle cx="431.8" cy="323.4" r="2.7"/>
<circle cx="431.8" cy="326.2" r="2.7"/>
<circle cx="431.8" cy="329.1" r="2.7"/>
<circle cx="431.8" cy="331.9" r="2.7"/>
<circle cx="431.8" cy="334.8" r="2.7"/>
<circle cx="431.8" cy="337.6" r="2.7"/>
<circle cx="434.5" cy="320.5" r="2.7"/>
<circle cx="434.5" cy="323.4" r="2.7"/>
<circle cx="434.5" cy="326.3" r="2.7"/>
<circle cx="434.5" cy="329.3" r="2.7"/>
<circle cx="434.5" cy="332.2" r="2.7"/>
<circle cx="434.5" cy="335.1" r="2.7"/>
<circle cx="434.5" cy="338" r="2.7"/>
<circle cx="437.2" cy="320.5" r="2.7"/>
<circle cx="437.2" cy="323.5" r="2.7"/>
<circle cx="437.2" cy="326.5" r="2.7"/>
<circle cx="437.2" cy="329.4" r="2.7"/>
<circle cx="437.2" cy="332.4" r="2.7"/>
<circle cx="437.2" cy="335.4" r="2.7"/>
<circle cx="437.2" cy="338.4" r="2.7"/>
<circle cx="439.9" cy="320.5" r="2.7"/>
<circle cx="439.9" cy="323.5" r="2.7"/>
<circle cx="439.9" cy="326.4" r="2.7"/>
<circle cx="439.9" cy="329.4" r="2.7"/>
<circle cx="439.9" cy="332.4" r="2.7"/>
<circle cx="439.9" cy="335.4" r="2.7"/>
<circle cx="439.9" cy="338.3" r="2.7"/>
<circle cx="442.6" cy="320.5" r="2.7"/>
<circle cx="442.6" cy="323.4" r="2.7"/>
<circle cx="442.6" cy="326.3" r="2.7"/>
<circle cx="442.6" cy="329.2" r="2.7"/>
<circle cx="442.6" cy="332.1" r="2.7"/>
<circle cx="442.6" cy="335" r="2.7"/>
<circle cx="442.6" cy="337.9" r="2.7"/>
<circle cx="445.3" cy="320.5" r="2.7"/>
<circle cx="445.3" cy="323.9" r="2.7"/>
<circle cx="445.3" cy="327.3" r="2.7"/>
<circle cx="445.3" cy="330.6" r="2.7"/>
<circle cx="445.3" cy="334" r="2.7"/>
<circle cx="445.3" cy="337.4" r="2.7"/>
<circle cx="448" cy="320.5" r="2.7"/>
<circle cx="448" cy="323.8" r="2.7"/>
<circle cx="448" cy="327.1" r="2.7"/>
<circle cx="448" cy="330.4" r="2.7"/>
<circle cx="448" cy="333.8" r="2.7"/>
<circle cx="448" cy="337.1" r="2.7"/>
<circle cx="450.7" cy="320.5" r="2.7"/>
<circle cx="450.7" cy="323.8" r="2.7"/>
<circle cx="450.7" cy="327" r="2.7"/>
<circle cx="450.7" cy="330.3" r="2.7"/>
<circle cx="450.7" cy="333.6" r="2.7"/>
<circle cx="450.7" cy="336.8" r="2.7"/>
<circle cx="453.4" cy="320.5" r="2.7"/>
<circle cx="453.4" cy="323.7" r="2.7"/>
<circle cx="453.4" cy="326.9" r="2.7"/>
<circle cx="453.4" cy="330.2" r="2.7"/>
<circle cx="453.4" cy="333.4" r="2.7"/>
<circle cx="453.4" cy="336.6" r="2.7"/>
<circle cx="456.1" cy="320.5" r="2.7"/>
<circle cx="456.1" cy="323.7" r="2.7"/>
<circle cx="456.1" cy="326.8" r="2.7"/>
<circle cx="456.1" cy="330" r="2.7"/>
<circle cx="456.1" cy="333.2" r="2.7"/>
<circle cx="456.1" cy="336.3" r="2.7"/>
<circle cx="458.8" cy="320.5" r="2.7"/>
<circle cx="458.8" cy="323.6" r="2.7"/>
<circle cx="458.8" cy="326.7" r="2.7"/>
<circle cx="458.8" cy="329.8" r="2.7"/>
<circle cx="458.8" cy="332.9" r="2.7"/>
<circle cx="458.8" cy="336" r="2.7"/>
<circle cx="461.5" cy="320.5" r="2.7"/>
<circle cx="461.5" cy="323.5" r="2.7"/>
<circle cx="461.5" cy="326.5" r="2.7"/>
<circle cx="461.5" cy="329.5" r="2.7"/>
<circle cx="461.5" cy="332.5" r="2.7"/>
<circle cx="461.5" cy="335.6" r="2.7"/>
<circle cx="464.2" cy="320.5" r="2.7"/>
<circle cx="464.2" cy="323.4" r="2.7"/>
<circle cx="464.2" cy="326.4" r="2.7"/>
<circle cx="464.2" cy="329.3" r="2.7"/>
<circle cx="464.2" cy="332.3" r="2.7"/>
<circle cx="464.2" cy="335.2" r="2.7"/>
<circle cx="466.9" cy="320.5" r="2.7"/>
<circle cx="466.9" cy="323.4" r="2.7"/>
<circle cx="466.9" cy="326.4" r="2.7"/>
<circle cx="466.9" cy="329.3" r="2.7"/>
<circle cx="466.9" cy="332.3" r="2.7"/>
<circle cx="466.9" cy="335.2" r="2.7"/>
<circle cx="469.6" cy="320.5" r="2.7"/>
<circle cx="469.6" cy="323.5" r="2.7"/>
<circle cx="469.6" cy="326.5" r="2.7"/>
<circle cx="469.6" cy="329.6" r="2.7"/>
<circle cx="469.6" cy="332.6" r="2.7"/>
<circle cx="469.6" cy="335.6" r="2.7"/>
<circle cx="472.3" cy="320.5" r="2.7"/>
<circle cx="472.3" cy="323.7" r="2.7"/>
<circle cx="472.3" cy="326.8" r="2.7"/>
<circle cx="472.3" cy="330" r="2.7"/>
<circle cx="472.3" cy="333.1" r="2.7"/>
<circle cx="472.3" cy="336.3" r="2.7"/>
<circle cx="475" cy="320.5" r="2.7"/>
<circle cx="475" cy="323.8" r="2.7"/>
<circle cx="475" cy="327.2" r="2.7"/>
<circle cx="475" cy="330.5" r="2.7"/>
<circle cx="475" cy="333.8" r="2.7"/>
<circle cx="475" cy="337.1" r="2.7"/>
<circle cx="477.7" cy="320.5" r="2.7"/>
<circle cx="477.7" cy="323.4" r="2.7"/>
<circle cx="477.7" cy="326.3" r="2.7"/>
<circle cx="477.7" cy="329.2" r="2.7"/>
<circle cx="477.7" cy="332.1" r="2.7"/>
<circle cx="477.7" cy="335" r="2.7"/>
<circle cx="477.7" cy="338" r="2.7"/>
<circle cx="480.4" cy="320.5" r="2.7"/>
<circle cx="480.4" cy="323.5" r="2.7"/>
<circle cx="480.4" cy="326.6" r="2.7"/>
<circle cx="480.4" cy="329.6" r="2.7"/>
<circle cx="480.4" cy="332.6" r="2.7"/>
<circle cx="480.4" cy="335.7" r="2.7"/>
<circle cx="480.4" cy="338.7" r="2.7"/>
<circle cx="483.1" cy="320.5" r="2.7"/>
<circle cx="483.1" cy="323.7" r="2.7"/>
<circle cx="483.1" cy="326.9" r="2.7"/>
<circle cx="483.1" cy="330" r="2.7"/>
<circle cx="483.1" cy="333.2" r="2.7"/>
<circle cx="483.1" cy="336.4" r="2.7"/>
<circle cx="483.1" cy="339.6" r="2.7"/>
<circle cx="485.8" cy="320.5" r="2.7"/>
<circle cx="485.8" cy="323.4" r="2.7"/>
<circle cx="485.8" cy="326.4" r="2.7"/>
<circle cx="485.8" cy="329.3" r="2.7"/>
<circle cx="485.8" cy="332.2" r="2.7"/>
<circle cx="485.8" cy="335.1" r="2.7"/>
<circle cx="485.8" cy="338.1" r="2.7"/>
<circle cx="485.8" cy="341" r="2.7"/>
<circle cx="488.5" cy="320.5" r="2.7"/>
<circle cx="488.5" cy="323.4" r="2.7"/>
<circle cx="488.5" cy="326.3" r="2.7"/>
<circle cx="488.5" cy="329.2" r="2.7"/>
<circle cx="488.5" cy="332.1" r="2.7"/>
<circle cx="488.5" cy="335" r="2.7"/>
<circle cx="488.5" cy="338" r="2.7"/>
<circle cx="488.5" cy="340.9" r="2.7"/>
<circle cx="488.5" cy="343.8" r="2.7"/>
<circle cx="491.2" cy="320.5" r="2.7"/>
<circle cx="491.2" cy="323.7" r="2.7"/>
<circle cx="491.2" cy="326.9" r="2.7"/>
<circle cx="491.2" cy="330.1" r="2.7"/>
<circle cx="491.2" cy="333.2" r="2.7"/>
<circle cx="491.2" cy="336.4" r="2.7"/>
<circle cx="491.2" cy="339.6" r="2.7"/>
<circle cx="491.2" cy="342.8" r="2.7"/>
<circle cx="491.2" cy="346" r="2.7"/>
<circle cx="491.2" cy="349.2" r="2.7"/>
<circle cx="493.9" cy="320.5" r="2.7"/>
<circle cx="493.9" cy="323.5" r="2.7"/>
<circle cx="493.9" cy="326.6" r="2.7"/>
<circle cx="493.9" cy="329.6" r="2.7"/>
<circle cx="493.9" cy="332.6" r="2.7"/>
<circle cx="493.9" cy="335.7" r="2.7"/>
<circle cx="493.9" cy="338.7" r="2.7"/>
<circle cx="493.9" cy="341.7" r="2.7"/>
<circle cx="493.9" cy="344.8" r="2.7"/>
<circle cx="493.9" cy="347.8" r="2.7"/>
<circle cx="493.9" cy="350.8" r="2.7"/>
<circle cx="496.6" cy="320.5" r="2.7"/>
<circle cx="496.6" cy="323.6" r="2.7"/>
<circle cx="496.6" cy="326.7" r="2.7"/>
<circle cx="496.6" cy="329.8" r="2.7"/>
<circle cx="496.6" cy="332.9" r="2.7"/>
<circle cx="496.6" cy="336" r="2.7"/>
<circle cx="496.6" cy="339.1" r="2.7"/>
<circle cx="496.6" cy="342.2" r="2.7"/>
<circle cx="496.6" cy="345.2" r="2.7"/>
<circle cx="496.6" cy="348.3" r="2.7"/>
<circle cx="496.6" cy="351.4" r="2.7"/>
<circle cx="499.3" cy="320.5" r="2.7"/>
<circle cx="499.3" cy="323.6" r="2.7"/>
<circle cx="499.3" cy="326.7" r="2.7"/>
<circle cx="499.3" cy="329.8" r="2.7"/>
<circle cx="499.3" cy="333" r="2.7"/>
<circle cx="499.3" cy="336.1" r="2.7"/>
<circle cx="499.3" cy="339.2" r="2.7"/>
<circle cx="499.3" cy="342.3" r="2.7"/>
<circle cx="499.3" cy="345.4" r="2.7"/>
<circle cx="499.3" cy="348.5" r="2.7"/>
<circle cx="499.3" cy="351.7" r="2.7"/>
<circle cx="502" cy="320.5" r="2.7"/>
<circle cx="502" cy="323.6" r="2.7"/>
<circle cx="502" cy="326.7" r="2.7"/>
<circle cx="502" cy="329.9" r="2.7"/>
<circle cx="502" cy="333" r="2.7"/>
<circle cx="502" cy="336.1" r="2.7"/>
<circle cx="502" cy="339.2" r="2.7"/>
<circle cx="502" cy="342.4" r="2.7"/>
<circle cx="502" cy="345.5" r="2.7"/>
<circle cx="502" cy="348.6" r="2.7"/>
<circle cx="502" cy="351.7" r="2.7"/>
<circle cx="504.7" cy="320.5" r="2.7"/>
<circle cx="504.7" cy="323.6" r="2.7"/>
<circle cx="504.7" cy="326.8" r="2.7"/>
<circle cx="504.7" cy="329.9" r="2.7"/>
<circle cx="504.7" cy="333.1" r="2.7"/>
<circle cx="504.7" cy="336.2" r="2.7"/>
<circle cx="504.7" cy="339.4" r="2.7"/>
<circle cx="504.7" cy="342.6" r="2.7"/>
<circle cx="504.7" cy="345.7" r="2.7"/>
<circle cx="504.7" cy="348.9" r="2.7"/>
<circle cx="504.7" cy="352" r="2.7"/>
<circle cx="377.8" cy="356" r="2.6"/>
<circle cx="377.8" cy="359" r="2.6"/>
<circle cx="377.8" cy="362" r="2.6"/>
<circle cx="377.8" cy="365" r="2.6"/>
<circle cx="377.8" cy="368" r="2.6"/>
<circle cx="377.8" cy="371" r="2.6"/>
<circle cx="377.8" cy="374" r="2.6"/>
<circle cx="377.8" cy="377" r="2.6"/>
<circle cx="380.2" cy="355" r="2.6"/>
<circle cx="380.2" cy="358.1" r="2.6"/>
<circle cx="380.2" cy="361.3" r="2.6"/>
<circle cx="380.2" cy="364.4" r="2.6"/>
<circle cx="380.2" cy="367.6" r="2.6"/>
<circle cx="380.2" cy="370.7" r="2.6"/>
<circle cx="380.2" cy="373.9" r="2.6"/>
<circle cx="380.2" cy="377" r="2.6"/>
<circle cx="382.6" cy="354" r="2.6"/>
<circle cx="382.6" cy="356.9" r="2.6"/>
<circle cx="382.6" cy="359.8" r="2.6"/>
<circle cx="382.6" cy="362.6" r="2.6"/>
<circle cx="382.6" cy="365.5" r="2.6"/>
<circle cx="382.6" cy="368.4" r="2.6"/>
<circle cx="382.6" cy="371.2" r="2.6"/>
<circle cx="382.6" cy="374.1" r="2.6"/>
<circle cx="382.6" cy="377" r="2.6"/>
<circle cx="385" cy="353" r="2.6"/>
<circle cx="385" cy="356" r="2.6"/>
<circle cx="385" cy="359" r="2.6"/>
<circle cx="385" cy="362" r="2.6"/>
<circle cx="385" cy="365" r="2.6"/>
<circle cx="385" cy="368" r="2.6"/>
<circle cx="385" cy="371" r="2.6"/>
<circle cx="385" cy="374" r="2.6"/>
<circle cx="385" cy="377" r="2.6"/>
<circle cx="387.4" cy="352" r="2.6"/>
<circle cx="387.4" cy="355.1" r="2.6"/>
<circle cx="387.4" cy="358.2" r="2.6"/>
<circle cx="387.4" cy="361.4" r="2.6"/>
<circle cx="387.4" cy="364.5" r="2.6"/>
<circle cx="387.4" cy="367.6" r="2.6"/>
<circle cx="387.4" cy="370.8" r="2.6"/>
<circle cx="387.4" cy="373.9" r="2.6"/>
<circle cx="387.4" cy="377" r="2.6"/>
<circle cx="485" cy="345" r="2.7"/>
<circle cx="485" cy="347.8" r="2.7"/>
<circle cx="485" cy="350.7" r="2.7"/>
<circle cx="485" cy="353.5" r="2.7"/>
<circle cx="485" cy="356.3" r="2.7"/>
<circle cx="485" cy="359.2" r="2.7"/>
<circle cx="485" cy="362" r="2.7"/>
<circle cx="487.5" cy="345" r="2.7"/>
<circle cx="487.5" cy="348.2" r="2.7"/>
<circle cx="487.5" cy="351.3" r="2.7"/>
<circle cx="487.5" cy="354.5" r="2.7"/>
<circle cx="487.5" cy="357.7" r="2.7"/>
<circle cx="487.5" cy="360.8" r="2.7"/>
<circle cx="487.5" cy="364" r="2.7"/>
<circle cx="489.9" cy="345" r="2.7"/>
<circle cx="489.9" cy="348" r="2.7"/>
<circle cx="489.9" cy="351" r="2.7"/>
<circle cx="489.9" cy="354" r="2.7"/>
<circle cx="489.9" cy="357" r="2.7"/>
<circle cx="489.9" cy="360" r="2.7"/>
<circle cx="489.9" cy="363" r="2.7"/>
<circle cx="489.9" cy="366" r="2.7"/>
<circle cx="492.4" cy="345" r="2.7"/>
<circle cx="492.4" cy="347.9" r="2.7"/>
<circle cx="492.4" cy="350.7" r="2.7"/>
<circle cx="492.4" cy="353.6" r="2.7"/>
<circle cx="492.4" cy="356.5" r="2.7"/>
<circle cx="492.4" cy="359.4" r="2.7"/>
<circle cx="492.4" cy="362.2" r="2.7"/>
<circle cx="492.4" cy="365.1" r="2.7"/>
<circle cx="492.4" cy="368" r="2.7"/>
<circle cx="494.9" cy="345" r="2.7"/>
<circle cx="494.9" cy="348.1" r="2.7"/>
<circle cx="494.9" cy="351.2" r="2.7"/>
<circle cx="494.9" cy="354.3" r="2.7"/>
<circle cx="494.9" cy="357.4" r="2.7"/>
<circle cx="494.9" cy="360.6" r="2.7"/>
<circle cx="494.9" cy="363.7" r="2.7"/>
<circle cx="494.9" cy="366.8" r="2.7"/>
<circle cx="494.9" cy="369.9" r="2.7"/>
<circle cx="497.3" cy="345" r="2.7"/>
<circle cx="497.3" cy="348" r="2.7"/>
<circle cx="497.3" cy="350.9" r="2.7"/>
<circle cx="497.3" cy="353.9" r="2.7"/>
<circle cx="497.3" cy="356.9" r="2.7"/>
<circle cx="497.3" cy="359.8" r="2.7"/>
<circle cx="497.3" cy="362.8" r="2.7"/>
<circle cx="497.3" cy="365.8" r="2.7"/>
<circle cx="497.3" cy="368.8" r="2.7"/>
<circle cx="497.3" cy="371.7" r="2.7"/>
<circle cx="499.8" cy="345" r="2.7"/>
<circle cx="499.8" cy="348.2" r="2.7"/>
<circle cx="499.8" cy="351.3" r="2.7"/>
<circle cx="499.8" cy="354.5" r="2.7"/>
<circle cx="499.8" cy="357.7" r="2.7"/>
<circle cx="499.8" cy="360.8" r="2.7"/>
<circle cx="499.8" cy="364" r="2.7"/>
<circle cx="499.8" cy="367.2" r="2.7"/>
<circle cx="499.8" cy="370.3" r="2.7"/>
<circle cx="499.8" cy="373.5" r="2.7"/>
<circle cx="502.2" cy="345" r="2.7"/>
<circle cx="502.2" cy="348" r="2.7"/>
<circle cx="502.2" cy="351" r="2.7"/>
<circle cx="502.2" cy="354.1" r="2.7"/>
<circle cx="502.2" cy="357.1" r="2.7"/>
<circle cx="502.2" cy="360.1" r="2.7"/>
<circle cx="502.2" cy="363.1" r="2.7"/>
<circle cx="502.2" cy="366.2" r="2.7"/>
<circle cx="502.2" cy="369.2" r="2.7"/>
<circle cx="502.2" cy="372.2" r="2.7"/>
<circle cx="502.2" cy="375.2" r="2.7"/>
<circle cx="504.7" cy="345" r="2.7"/>
<circle cx="504.7" cy="347.9" r="2.7"/>
<circle cx="504.7" cy="350.8" r="2.7"/>
<circle cx="504.7" cy="353.7" r="2.7"/>
<circle cx="504.7" cy="356.6" r="2.7"/>
<circle cx="504.7" cy="359.5" r="2.7"/>
<circle cx="504.7" cy="362.5" r="2.7"/>
<circle cx="504.7" cy="365.4" r="2.7"/>
<circle cx="504.7" cy="368.3" r="2.7"/>
<circle cx="504.7" cy="371.2" r="2.7"/>
<circle cx="504.7" cy="374.1" r="2.7"/>
<circle cx="504.7" cy="377" r="2.7"/>
<circle cx="398.8" cy="351.1" r="3"/>
<circle cx="401.2" cy="349.4" r="3"/>
<circle cx="403.6" cy="347.8" r="3"/>
<circle cx="406" cy="346.7" r="3"/>
<circle cx="408.4" cy="346.1" r="3"/>
<circle cx="410.8" cy="346" r="3"/>
<circle cx="413.2" cy="346.3" r="3"/>
<circle cx="415.6" cy="346.7" r="3"/>
<circle cx="418" cy="347.3" r="3"/>
<circle cx="420.4" cy="348" r="3"/>
<circle cx="422.8" cy="348.7" r="3"/>
<circle cx="425.2" cy="349.5" r="3"/>
<circle cx="427.6" cy="350.5" r="3"/>
<circle cx="430" cy="351.5" r="3"/>
<circle cx="432.4" cy="352.7" r="3"/>
<circle cx="434.8" cy="353.9" r="3"/>
<circle cx="437.2" cy="355.1" r="3"/>
<circle cx="439.6" cy="356.1" r="3"/>
<circle cx="442" cy="357.3" r="3"/>
<circle cx="444.4" cy="359.3" r="3"/>
<circle cx="446.7" cy="360.9" r="3"/>
<circle cx="449.1" cy="362.1" r="3"/>
<circle cx="451.5" cy="363.2" r="3"/>
<circle cx="453.9" cy="364.4" r="3"/>
<circle cx="456.3" cy="365.6" r="3"/>
<circle cx="458.7" cy="366.8" r="3"/>
<circle cx="461.1" cy="368.1" r="3"/>
<circle cx="463.5" cy="369.6" r="3"/>
<circle cx="465.9" cy="370.7" r="3"/>
<circle cx="468.3" cy="371" r="3"/>
<circle cx="470.7" cy="370.6" r="3"/>
<circle cx="473.1" cy="369.7" r="3"/>
<circle cx="475.5" cy="368.8" r="3"/>
<circle cx="477.9" cy="367.6" r="3"/>
<circle cx="480.3" cy="366.3" r="3"/>
<circle cx="482.7" cy="365.1" r="3"/>
<circle cx="485.1" cy="363.9" r="3"/>
<circle cx="487.5" cy="362.7" r="3"/>
<circle cx="489.9" cy="361.5" r="3"/>
<circle cx="387.4" cy="358.5" r="3"/>
<circle cx="389.8" cy="358.7" r="3"/>
<circle cx="392.2" cy="359" r="3"/>
<circle cx="394.5" cy="359.6" r="3"/>
<circle cx="396.9" cy="360.2" r="3"/>
<circle cx="399.3" cy="360.7" r="3"/>
<circle cx="401.7" cy="361.2" r="3"/>
<circle cx="404.1" cy="361.8" r="3"/>
<circle cx="406.5" cy="362.2" r="3"/>
<circle cx="408.8" cy="362.6" r="3"/>
<circle cx="411.2" cy="362.8" r="3"/>
<circle cx="413.6" cy="363" r="3"/>
<circle cx="416" cy="363" r="3"/>
<circle cx="418.4" cy="363" r="3"/>
<circle cx="420.8" cy="362.8" r="3"/>
<circle cx="423.1" cy="362.4" r="3"/>
<circle cx="425.5" cy="362" r="3"/>
<circle cx="427.9" cy="361.3" r="3"/>
<circle cx="430.3" cy="360.5" r="3"/>
<circle cx="432.7" cy="359.8" r="3"/>
<circle cx="435.1" cy="359.1" r="3"/>
<circle cx="437.4" cy="358.4" r="3"/>
<circle cx="439.8" cy="357.8" r="3"/>
<circle cx="442.2" cy="356.5" r="3"/>
<circle cx="444.6" cy="354.3" r="3"/>
<circle cx="447" cy="352.3" r="3"/>
<circle cx="449.3" cy="350.6" r="3"/>
<circle cx="451.7" cy="349.3" r="3"/>
<circle cx="454.1" cy="348.5" r="3"/>
<circle cx="456.5" cy="348" r="3"/>
<circle cx="458.9" cy="347.6" r="3"/>
<circle cx="461.3" cy="347.3" r="3"/>
<circle cx="463.6" cy="347.1" r="3"/>
<circle cx="466" cy="347.1" r="3"/>
<circle cx="468.4" cy="347.2" r="3"/>
<circle cx="470.8" cy="347.3" r="3"/>
<circle cx="473.2" cy="347.4" r="3"/>
<circle cx="475.6" cy="347.6" r="3"/>
<circle cx="477.9" cy="347.9" r="3"/>
<circle cx="480.3" cy="348.3" r="3"/>
<circle cx="482.7" cy="348.8" r="3"/>
<circle cx="485.1" cy="349.5" r="3"/>
<circle cx="487.5" cy="350.3" r="3"/>
<circle cx="489.9" cy="351.1" r="3"/>
<circle cx="492.2" cy="352" r="3"/>
<circle cx="494.6" cy="353" r="3"/>
<circle cx="497" cy="354" r="3"/>
<circle cx="405" cy="363" r="3"/>
<circle cx="407.4" cy="364.1" r="3"/>
<circle cx="409.8" cy="365.1" r="3"/>
<circle cx="412.2" cy="366" r="3"/>
<circle cx="414.6" cy="366.7" r="3"/>
<circle cx="417" cy="367.4" r="3"/>
<circle cx="419.3" cy="368.1" r="3"/>
<circle cx="421.7" cy="368.9" r="3"/>
<circle cx="424.1" cy="369.8" r="3"/>
<circle cx="426.5" cy="370.7" r="3"/>
<circle cx="428.9" cy="371.7" r="3"/>
<circle cx="431.3" cy="372.7" r="3"/>
<circle cx="433.7" cy="373.6" r="3"/>
<circle cx="436.1" cy="374.2" r="3"/>
<circle cx="438.5" cy="374.6" r="3"/>
<circle cx="440.9" cy="374.8" r="3"/>
<circle cx="443.3" cy="374.7" r="3"/>
<circle cx="445.7" cy="374.3" r="3"/>
<circle cx="448" cy="373.7" r="3"/>
<circle cx="450.4" cy="372.7" r="3"/>
<circle cx="452.8" cy="371.3" r="3"/>
<circle cx="455.2" cy="369.5" r="3"/>
<circle cx="457.6" cy="367.4" r="3"/>
<circle cx="460" cy="365" r="3"/>
<circle cx="450" cy="337" r="2.7"/>
<circle cx="452.8" cy="337.8" r="2.7"/>
<circle cx="455.6" cy="338.8" r="2.7"/>
<circle cx="458.4" cy="340.1" r="2.7"/>
<circle cx="461.2" cy="341.6" r="2.7"/>
<circle cx="464" cy="342.9" r="2.7"/>
<circle cx="466.8" cy="344" r="2.7"/>
<circle cx="469.6" cy="344.9" r="2.7"/>
<circle cx="472.4" cy="346" r="2.7"/>
<circle cx="475.2" cy="347" r="2.7"/>
<circle cx="478" cy="348" r="2.7"/>
<circle cx="387.4" cy="353.6" r="2.7"/>
<circle cx="389.7" cy="353.8" r="2.7"/>
<circle cx="392" cy="354" r="2.7"/>
<circle cx="394.2" cy="354.3" r="2.7"/>
<circle cx="396.5" cy="354.7" r="2.7"/>
<circle cx="398.8" cy="355" r="2.7"/>
<circle cx="387.4" cy="367" r="2.5"/>
<circle cx="389.7" cy="367.1" r="2.5"/>
<circle cx="391.9" cy="367.3" r="2.5"/>
<circle cx="394.2" cy="367.5" r="2.5"/>
<circle cx="396.5" cy="367.8" r="2.5"/>
<circle cx="392.3" cy="372.5" r="2.5"/>
<circle cx="383" cy="372" r="2.5"/>
<circle cx="380" cy="376" r="2.5"/>
</g>
<g fill="#f5706f">
<circle cx="377.8" cy="444" r="2.4"/>
<circle cx="380.8" cy="444.1" r="2.4"/>
<circle cx="383.8" cy="444.3" r="2.4"/>
<circle cx="386.9" cy="444.5" r="2.4"/>
<circle cx="389.9" cy="444.8" r="2.4"/>
<circle cx="392.9" cy="445.3" r="2.4"/>
<circle cx="395.9" cy="445.6" r="2.4"/>
<circle cx="398.9" cy="445.8" r="2.4"/>
<circle cx="402" cy="445.9" r="2.4"/>
<circle cx="405" cy="445.8" r="2.4"/>
<circle cx="408" cy="445.4" r="2.4"/>
<circle cx="411" cy="444.8" r="2.4"/>
<circle cx="414.1" cy="444.1" r="2.4"/>
<circle cx="417.1" cy="443.4" r="2.4"/>
<circle cx="420.1" cy="442.7" r="2.4"/>
<circle cx="423.1" cy="442.2" r="2.4"/>
<circle cx="426.1" cy="441.7" r="2.4"/>
<circle cx="429.2" cy="441.2" r="2.4"/>
<circle cx="432.2" cy="440.7" r="2.4"/>
<circle cx="435.2" cy="440.3" r="2.4"/>
<circle cx="438.2" cy="439.9" r="2.4"/>
<circle cx="441.2" cy="439.8" r="2.4"/>
<circle cx="444.3" cy="439.8" r="2.4"/>
<circle cx="447.3" cy="439.8" r="2.4"/>
<circle cx="450.3" cy="439.8" r="2.4"/>
<circle cx="453.3" cy="439.5" r="2.4"/>
<circle cx="456.4" cy="439" r="2.4"/>
<circle cx="459.4" cy="438.8" r="2.4"/>
<circle cx="462.4" cy="438.9" r="2.4"/>
<circle cx="465.4" cy="439.2" r="2.4"/>
<circle cx="468.4" cy="439.6" r="2.4"/>
<circle cx="471.5" cy="440.1" r="2.4"/>
<circle cx="474.5" cy="440.7" r="2.4"/>
<circle cx="477.5" cy="441.4" r="2.4"/>
<circle cx="480.5" cy="441.9" r="2.4"/>
<circle cx="483.6" cy="442.3" r="2.4"/>
<circle cx="486.6" cy="442.5" r="2.4"/>
<circle cx="489.6" cy="442.8" r="2.4"/>
<circle cx="492.6" cy="443" r="2.4"/>
<circle cx="495.6" cy="443.2" r="2.4"/>
<circle cx="498.7" cy="443.4" r="2.4"/>
<circle cx="501.7" cy="443.6" r="2.4"/>
<circle cx="504.7" cy="443.8" r="2.4"/>
<circle cx="377.8" cy="448.4" r="2.4"/>
<circle cx="380.8" cy="448.5" r="2.4"/>
<circle cx="383.8" cy="448.7" r="2.4"/>
<circle cx="386.9" cy="448.9" r="2.4"/>
<circle cx="389.9" cy="449.2" r="2.4"/>
<circle cx="392.9" cy="449.7" r="2.4"/>
<circle cx="395.9" cy="450" r="2.4"/>
<circle cx="398.9" cy="450.2" r="2.4"/>
<circle cx="402" cy="450.3" r="2.4"/>
<circle cx="405" cy="450.2" r="2.4"/>
<circle cx="408" cy="449.8" r="2.4"/>
<circle cx="411" cy="449.2" r="2.4"/>
<circle cx="414.1" cy="448.5" r="2.4"/>
<circle cx="417.1" cy="447.8" r="2.4"/>
<circle cx="420.1" cy="447.1" r="2.4"/>
<circle cx="423.1" cy="446.6" r="2.4"/>
<circle cx="426.1" cy="446.1" r="2.4"/>
<circle cx="429.2" cy="445.6" r="2.4"/>
<circle cx="432.2" cy="445.1" r="2.4"/>
<circle cx="435.2" cy="444.7" r="2.4"/>
<circle cx="438.2" cy="444.3" r="2.4"/>
<circle cx="441.2" cy="444.2" r="2.4"/>
<circle cx="444.3" cy="444.2" r="2.4"/>
<circle cx="447.3" cy="444.2" r="2.4"/>
<circle cx="450.3" cy="444.2" r="2.4"/>
<circle cx="453.3" cy="443.9" r="2.4"/>
<circle cx="456.4" cy="443.4" r="2.4"/>
<circle cx="459.4" cy="443.2" r="2.4"/>
<circle cx="462.4" cy="443.3" r="2.4"/>
<circle cx="465.4" cy="443.6" r="2.4"/>
<circle cx="468.4" cy="444" r="2.4"/>
<circle cx="471.5" cy="444.5" r="2.4"/>
<circle cx="474.5" cy="445.1" r="2.4"/>
<circle cx="477.5" cy="445.8" r="2.4"/>
<circle cx="480.5" cy="446.3" r="2.4"/>
<circle cx="483.6" cy="446.7" r="2.4"/>
<circle cx="486.6" cy="446.9" r="2.4"/>
<circle cx="489.6" cy="447.2" r="2.4"/>
<circle cx="492.6" cy="447.4" r="2.4"/>
<circle cx="495.6" cy="447.6" r="2.4"/>
<circle cx="498.7" cy="447.8" r="2.4"/>
<circle cx="501.7" cy="448" r="2.4"/>
<circle cx="504.7" cy="448.2" r="2.4"/>
<circle cx="377.8" cy="452.8" r="2.4"/>
<circle cx="380.8" cy="452.9" r="2.4"/>
<circle cx="383.8" cy="453.1" r="2.4"/>
<circle cx="386.9" cy="453.3" r="2.4"/>
<circle cx="389.9" cy="453.6" r="2.4"/>
<circle cx="392.9" cy="454.1" r="2.4"/>
<circle cx="395.9" cy="454.4" r="2.4"/>
<circle cx="398.9" cy="454.6" r="2.4"/>
<circle cx="402" cy="454.7" r="2.4"/>
<circle cx="405" cy="454.6" r="2.4"/>
<circle cx="408" cy="454.2" r="2.4"/>
<circle cx="411" cy="453.6" r="2.4"/>
<circle cx="414.1" cy="452.9" r="2.4"/>
<circle cx="417.1" cy="452.2" r="2.4"/>
<circle cx="420.1" cy="451.5" r="2.4"/>
<circle cx="423.1" cy="451" r="2.4"/>
<circle cx="426.1" cy="450.5" r="2.4"/>
<circle cx="429.2" cy="450" r="2.4"/>
<circle cx="432.2" cy="449.5" r="2.4"/>
<circle cx="435.2" cy="449.1" r="2.4"/>
<circle cx="438.2" cy="448.7" r="2.4"/>
<circle cx="441.2" cy="448.6" r="2.4"/>
<circle cx="444.3" cy="448.6" r="2.4"/>
<circle cx="447.3" cy="448.6" r="2.4"/>
<circle cx="450.3" cy="448.6" r="2.4"/>
<circle cx="453.3" cy="448.3" r="2.4"/>
<circle cx="456.4" cy="447.8" r="2.4"/>
<circle cx="459.4" cy="447.6" r="2.4"/>
<circle cx="462.4" cy="447.7" r="2.4"/>
<circle cx="465.4" cy="448" r="2.4"/>
<circle cx="468.4" cy="448.4" r="2.4"/>
<circle cx="471.5" cy="448.9" r="2.4"/>
<circle cx="474.5" cy="449.5" r="2.4"/>
<circle cx="477.5" cy="450.2" r="2.4"/>
<circle cx="480.5" cy="450.7" r="2.4"/>
<circle cx="483.6" cy="451.1" r="2.4"/>
<circle cx="486.6" cy="451.3" r="2.4"/>
<circle cx="489.6" cy="451.6" r="2.4"/>
<circle cx="492.6" cy="451.8" r="2.4"/>
<circle cx="495.6" cy="452" r="2.4"/>
<circle cx="498.7" cy="452.2" r="2.4"/>
<circle cx="501.7" cy="452.4" r="2.4"/>
<circle cx="504.7" cy="452.6" r="2.4"/>
<circle cx="377.8" cy="457.2" r="2.4"/>
<circle cx="380.8" cy="457.3" r="2.4"/>
<circle cx="383.8" cy="457.5" r="2.4"/>
<circle cx="386.9" cy="457.7" r="2.4"/>
<circle cx="389.9" cy="458" r="2.4"/>
<circle cx="392.9" cy="458.5" r="2.4"/>
<circle cx="395.9" cy="458.8" r="2.4"/>
<circle cx="398.9" cy="459" r="2.4"/>
<circle cx="402" cy="459.1" r="2.4"/>
<circle cx="405" cy="459" r="2.4"/>
<circle cx="408" cy="458.6" r="2.4"/>
<circle cx="411" cy="458" r="2.4"/>
<circle cx="414.1" cy="457.3" r="2.4"/>
<circle cx="417.1" cy="456.6" r="2.4"/>
<circle cx="420.1" cy="455.9" r="2.4"/>
<circle cx="423.1" cy="455.4" r="2.4"/>
<circle cx="426.1" cy="454.9" r="2.4"/>
<circle cx="429.2" cy="454.4" r="2.4"/>
<circle cx="432.2" cy="453.9" r="2.4"/>
<circle cx="435.2" cy="453.5" r="2.4"/>
<circle cx="438.2" cy="453.1" r="2.4"/>
<circle cx="441.2" cy="453" r="2.4"/>
<circle cx="444.3" cy="453" r="2.4"/>
<circle cx="447.3" cy="453" r="2.4"/>
<circle cx="450.3" cy="453" r="2.4"/>
<circle cx="453.3" cy="452.7" r="2.4"/>
<circle cx="456.4" cy="452.2" r="2.4"/>
<circle cx="459.4" cy="452" r="2.4"/>
<circle cx="462.4" cy="452.1" r="2.4"/>
<circle cx="465.4" cy="452.4" r="2.4"/>
<circle cx="468.4" cy="452.8" r="2.4"/>
<circle cx="471.5" cy="453.3" r="2.4"/>
<circle cx="474.5" cy="453.9" r="2.4"/>
<circle cx="477.5" cy="454.6" r="2.4"/>
<circle cx="480.5" cy="455.1" r="2.4"/>
<circle cx="483.6" cy="455.5" r="2.4"/>
<circle cx="486.6" cy="455.7" r="2.4"/>
<circle cx="489.6" cy="456" r="2.4"/>
<circle cx="492.6" cy="456.2" r="2.4"/>
<circle cx="495.6" cy="456.4" r="2.4"/>
<circle cx="498.7" cy="456.6" r="2.4"/>
<circle cx="501.7" cy="456.8" r="2.4"/>
<circle cx="504.7" cy="457" r="2.4"/>
<circle cx="377.8" cy="461.6" r="2.4"/>
<circle cx="380.8" cy="461.7" r="2.4"/>
<circle cx="383.8" cy="461.9" r="2.4"/>
<circle cx="386.9" cy="462.1" r="2.4"/>
<circle cx="389.9" cy="462.4" r="2.4"/>
<circle cx="392.9" cy="462.9" r="2.4"/>
<circle cx="395.9" cy="463.2" r="2.4"/>
<circle cx="398.9" cy="463.4" r="2.4"/>
<circle cx="402" cy="463.5" r="2.4"/>
<circle cx="405" cy="463.4" r="2.4"/>
<circle cx="408" cy="463" r="2.4"/>
<circle cx="411" cy="462.4" r="2.4"/>
<circle cx="414.1" cy="461.7" r="2.4"/>
<circle cx="417.1" cy="461" r="2.4"/>
<circle cx="420.1" cy="460.3" r="2.4"/>
<circle cx="423.1" cy="459.8" r="2.4"/>
<circle cx="426.1" cy="459.3" r="2.4"/>
<circle cx="429.2" cy="458.8" r="2.4"/>
<circle cx="432.2" cy="458.3" r="2.4"/>
<circle cx="435.2" cy="457.9" r="2.4"/>
<circle cx="438.2" cy="457.5" r="2.4"/>
<circle cx="441.2" cy="457.4" r="2.4"/>
<circle cx="444.3" cy="457.4" r="2.4"/>
<circle cx="447.3" cy="457.4" r="2.4"/>
<circle cx="450.3" cy="457.4" r="2.4"/>
<circle cx="453.3" cy="457.1" r="2.4"/>
<circle cx="456.4" cy="456.6" r="2.4"/>
<circle cx="459.4" cy="456.4" r="2.4"/>
<circle cx="462.4" cy="456.5" r="2.4"/>
<circle cx="465.4" cy="456.8" r="2.4"/>
<circle cx="468.4" cy="457.2" r="2.4"/>
<circle cx="471.5" cy="457.7" r="2.4"/>
<circle cx="474.5" cy="458.3" r="2.4"/>
<circle cx="477.5" cy="459" r="2.4"/>
<circle cx="480.5" cy="459.5" r="2.4"/>
<circle cx="483.6" cy="459.9" r="2.4"/>
<circle cx="486.6" cy="460.1" r="2.4"/>
<circle cx="489.6" cy="460.4" r="2.4"/>
<circle cx="492.6" cy="460.6" r="2.4"/>
<circle cx="495.6" cy="460.8" r="2.4"/>
<circle cx="498.7" cy="461" r="2.4"/>
<circle cx="501.7" cy="461.2" r="2.4"/>
<circle cx="504.7" cy="461.4" r="2.4"/>
</g>
<g fill="#ffffff">
<circle cx="380" cy="452" r="1"/>
<circle cx="381.5" cy="452" r="1"/>
<circle cx="383" cy="452" r="1"/>
<circle cx="384.5" cy="452" r="1"/>
<circle cx="386" cy="452" r="1"/>
<circle cx="440" cy="452" r="1"/>
<circle cx="441.4" cy="452" r="1"/>
<circle cx="442.9" cy="452" r="1"/>
<circle cx="444.3" cy="452" r="1"/>
<circle cx="445.7" cy="452" r="1"/>
<circle cx="447.1" cy="452" r="1"/>
<circle cx="448.6" cy="452" r="1"/>
<circle cx="450" cy="452" r="1"/>
<circle cx="400" cy="456" r="0.8"/>
<circle cx="401.5" cy="456" r="0.8"/>
<circle cx="403.1" cy="456" r="0.8"/>
<circle cx="404.6" cy="456" r="0.8"/>
<circle cx="406.2" cy="456" r="0.8"/>
<circle cx="407.7" cy="456" r="0.8"/>
<circle cx="409.2" cy="456" r="0.8"/>
<circle cx="410.8" cy="456" r="0.8"/>
<circle cx="412.3" cy="456" r="0.8"/>
<circle cx="413.8" cy="456" r="0.8"/>
<circle cx="415.4" cy="456" r="0.8"/>
<circle cx="416.9" cy="456" r="0.8"/>
<circle cx="418.5" cy="456" r="0.8"/>
<circle cx="420" cy="456" r="0.8"/>
<circle cx="378" cy="459.5" r="0.6"/>
<circle cx="381" cy="459.5" r="0.6"/>
<circle cx="384" cy="459.5" r="0.6"/>
<circle cx="387" cy="459.5" r="0.6"/>
<circle cx="390" cy="459.5" r="0.6"/>
<circle cx="393" cy="459.5" r="0.6"/>
<circle cx="396" cy="459.5" r="0.6"/>
<circle cx="399" cy="459.5" r="0.6"/>
<circle cx="402" cy="459.5" r="0.6"/>
<circle cx="405" cy="459.5" r="0.6"/>
<circle cx="408" cy="459.5" r="0.6"/>
<circle cx="411" cy="459.5" r="0.6"/>
<circle cx="414" cy="459.5" r="0.6"/>
<circle cx="417" cy="459.5" r="0.6"/>
<circle cx="420" cy="459.5" r="0.6"/>
<circle cx="423" cy="459.5" r="0.6"/>
<circle cx="426" cy="459.5" r="0.6"/>
<circle cx="429" cy="459.5" r="0.6"/>
<circle cx="432" cy="459.5" r="0.6"/>
<circle cx="435" cy="459.5" r="0.6"/>
<circle cx="438" cy="459.5" r="0.6"/>
<circle cx="441" cy="459.5" r="0.6"/>
<circle cx="444" cy="459.5" r="0.6"/>
<circle cx="447" cy="459.5" r="0.6"/>
<circle cx="450" cy="459.5" r="0.6"/>
<circle cx="453" cy="459.5" r="0.6"/>
<circle cx="456" cy="459.5" r="0.6"/>
<circle cx="459" cy="459.5" r="0.6"/>
<circle cx="462" cy="459.5" r="0.6"/>
<circle cx="465" cy="459.5" r="0.6"/>
<circle cx="468" cy="459.5" r="0.6"/>
<circle cx="471" cy="459.5" r="0.6"/>
<circle cx="474" cy="459.5" r="0.6"/>
<circle cx="477" cy="459.5" r="0.6"/>
<circle cx="480" cy="459.5" r="0.6"/>
<circle cx="483" cy="459.5" r="0.6"/>
<circle cx="486" cy="459.5" r="0.6"/>
<circle cx="489" cy="459.5" r="0.6"/>
<circle cx="492" cy="459.5" r="0.6"/>
<circle cx="495" cy="459.5" r="0.6"/>
<circle cx="498" cy="459.5" r="0.6"/>
<circle cx="501" cy="459.5" r="0.6"/>
<circle cx="504" cy="459.5" r="0.6"/>
<circle cx="377.8" cy="452" r="0.9"/>
<circle cx="377.8" cy="458" r="0.9"/>
<circle cx="377.8" cy="461" r="0.9"/>
<circle cx="380.8" cy="452" r="0.9"/>
<circle cx="383.8" cy="455" r="0.9"/>
<circle cx="386.9" cy="449" r="0.9"/>
<circle cx="392.9" cy="458" r="0.9"/>
<circle cx="395.9" cy="449" r="0.9"/>
<circle cx="395.9" cy="452" r="0.9"/>
<circle cx="398.9" cy="461" r="0.9"/>
<circle cx="405" cy="458" r="0.9"/>
<circle cx="411" cy="452" r="0.9"/>
<circle cx="414.1" cy="461" r="0.9"/>
<circle cx="423.1" cy="449" r="0.9"/>
<circle cx="426.1" cy="449" r="0.9"/>
<circle cx="426.1" cy="452" r="0.9"/>
<circle cx="426.1" cy="461" r="0.9"/>
<circle cx="429.2" cy="449" r="0.9"/>
<circle cx="432.2" cy="458" r="0.9"/>
<circle cx="435.2" cy="455" r="0.9"/>
<circle cx="435.2" cy="458" r="0.9"/>
<circle cx="438.2" cy="461" r="0.9"/>
<circle cx="447.3" cy="449" r="0.9"/>
<circle cx="447.3" cy="461" r="0.9"/>
<circle cx="450.3" cy="452" r="0.9"/>
<circle cx="450.3" cy="458" r="0.9"/>
<circle cx="450.3" cy="461" r="0.9"/>
<circle cx="456.4" cy="449" r="0.9"/>
<circle cx="456.4" cy="458" r="0.9"/>
<circle cx="456.4" cy="461" r="0.9"/>
<circle cx="459.4" cy="452" r="0.9"/>
<circle cx="459.4" cy="458" r="0.9"/>
<circle cx="462.4" cy="452" r="0.9"/>
<circle cx="465.4" cy="461" r="0.9"/>
<circle cx="468.4" cy="455" r="0.9"/>
<circle cx="471.5" cy="449" r="0.9"/>
<circle cx="471.5" cy="452" r="0.9"/>
<circle cx="474.5" cy="458" r="0.9"/>
<circle cx="477.5" cy="449" r="0.9"/>
<circle cx="477.5" cy="452" r="0.9"/>
<circle cx="480.5" cy="449" r="0.9"/>
<circle cx="483.6" cy="452" r="0.9"/>
<circle cx="486.6" cy="455" r="0.9"/>
<circle cx="489.6" cy="452" r="0.9"/>
<circle cx="492.6" cy="458" r="0.9"/>
<circle cx="492.6" cy="461" r="0.9"/>
<circle cx="495.6" cy="455" r="0.9"/>
<circle cx="498.7" cy="449" r="0.9"/>
<circle cx="501.7" cy="452" r="0.9"/>
</g>
<g fill="#12c98a">
<circle cx="378.8" cy="331.9" r="1.6"/>
<circle cx="382.7" cy="341.3" r="1.6"/>
<circle cx="386.7" cy="346.2" r="1.6"/>
<circle cx="390.6" cy="346.4" r="1.6"/>
<circle cx="394.5" cy="344.7" r="1.6"/>
<circle cx="398.4" cy="342.7" r="1.6"/>
<circle cx="402.4" cy="339.8" r="1.6"/>
<circle cx="406.3" cy="335.5" r="1.6"/>
<circle cx="410.2" cy="332.5" r="1.6"/>
<circle cx="414.1" cy="328.9" r="1.6"/>
<circle cx="418.1" cy="326" r="1.6"/>
<circle cx="422" cy="323.5" r="1.6"/>
<circle cx="377.8" cy="351.8" r="1.6"/>
<circle cx="380.8" cy="351.3" r="1.6"/>
<circle cx="383.8" cy="350.4" r="1.6"/>
<circle cx="386.8" cy="348.8" r="1.6"/>
<circle cx="486.4" cy="339.4" r="1.7"/>
<circle cx="491.1" cy="343.6" r="1.7"/>
<circle cx="495.3" cy="348.9" r="1.7"/>
<circle cx="500" cy="350.5" r="1.7"/>
<circle cx="503.7" cy="351.5" r="1.7"/>
<circle cx="495.3" cy="332.6" r="1.7"/>
<circle cx="500" cy="334.2" r="1.7"/>
<circle cx="503.7" cy="335.2" r="1.7"/>
<circle cx="470" cy="326" r="1.7"/>
<circle cx="476" cy="330" r="1.7"/>
<circle cx="482" cy="334" r="1.7"/>
<circle cx="488" cy="329" r="1.7"/>
<circle cx="380" cy="325" r="1.7"/>
<circle cx="383" cy="327" r="1.7"/>
</g>
<g fill="#7b7f7f">
<circle cx="377.8" cy="414.5" r="2.6"/>
<circle cx="377.8" cy="417.2" r="2.6"/>
<circle cx="377.8" cy="419.9" r="2.6"/>
<circle cx="377.8" cy="422.5" r="2.6"/>
<circle cx="377.8" cy="425.2" r="2.6"/>
<circle cx="377.8" cy="427.9" r="2.6"/>
<circle cx="377.8" cy="430.6" r="2.6"/>
<circle cx="377.8" cy="433.3" r="2.6"/>
<circle cx="377.8" cy="436" r="2.6"/>
<circle cx="377.8" cy="438.6" r="2.6"/>
<circle cx="377.8" cy="441.3" r="2.6"/>
<circle cx="377.8" cy="444" r="2.6"/>
<circle cx="380.2" cy="415" r="2.6"/>
<circle cx="380.2" cy="417.9" r="2.6"/>
<circle cx="380.2" cy="420.8" r="2.6"/>
<circle cx="380.2" cy="423.7" r="2.6"/>
<circle cx="380.2" cy="426.6" r="2.6"/>
<circle cx="380.2" cy="429.5" r="2.6"/>
<circle cx="380.2" cy="432.4" r="2.6"/>
<circle cx="380.2" cy="435.3" r="2.6"/>
<circle cx="380.2" cy="438.2" r="2.6"/>
<circle cx="380.2" cy="441.1" r="2.6"/>
<circle cx="380.2" cy="444" r="2.6"/>
<circle cx="382.6" cy="415.7" r="2.6"/>
<circle cx="382.6" cy="418.5" r="2.6"/>
<circle cx="382.6" cy="421.4" r="2.6"/>
<circle cx="382.6" cy="424.2" r="2.6"/>
<circle cx="382.6" cy="427" r="2.6"/>
<circle cx="382.6" cy="429.8" r="2.6"/>
<circle cx="382.6" cy="432.7" r="2.6"/>
<circle cx="382.6" cy="435.5" r="2.6"/>
<circle cx="382.6" cy="438.3" r="2.6"/>
<circle cx="382.6" cy="441.2" r="2.6"/>
<circle cx="382.6" cy="444" r="2.6"/>
<circle cx="385" cy="416.6" r="2.6"/>
<circle cx="385" cy="419.3" r="2.6"/>
<circle cx="385" cy="422.1" r="2.6"/>
<circle cx="385" cy="424.8" r="2.6"/>
<circle cx="385" cy="427.5" r="2.6"/>
<circle cx="385" cy="430.3" r="2.6"/>
<circle cx="385" cy="433" r="2.6"/>
<circle cx="385" cy="435.8" r="2.6"/>
<circle cx="385" cy="438.5" r="2.6"/>
<circle cx="385" cy="441.3" r="2.6"/>
<circle cx="385" cy="444" r="2.6"/>
<circle cx="387.4" cy="417.5" r="2.6"/>
<circle cx="387.4" cy="420.4" r="2.6"/>
<circle cx="387.4" cy="423.4" r="2.6"/>
<circle cx="387.4" cy="426.3" r="2.6"/>
<circle cx="387.4" cy="429.3" r="2.6"/>
<circle cx="387.4" cy="432.2" r="2.6"/>
<circle cx="387.4" cy="435.2" r="2.6"/>
<circle cx="387.4" cy="438.1" r="2.6"/>
<circle cx="387.4" cy="441.1" r="2.6"/>
<circle cx="387.4" cy="444" r="2.6"/>
<circle cx="388.2" cy="420" r="2.4"/>
<circle cx="392.5" cy="422.1" r="2.4"/>
<circle cx="396.9" cy="423.5" r="2.4"/>
<circle cx="401.2" cy="423.6" r="2.4"/>
<circle cx="405.6" cy="423.2" r="2.4"/>
<circle cx="409.9" cy="423.6" r="2.4"/>
<circle cx="414.3" cy="424.9" r="2.4"/>
<circle cx="418.6" cy="427.3" r="2.4"/>
<circle cx="423" cy="430.6" r="2.4"/>
<circle cx="427.3" cy="434.1" r="2.4"/>
<circle cx="431.7" cy="438" r="2.4"/>
<circle cx="436" cy="441.5" r="2.4"/>
<circle cx="388.2" cy="426" r="2.3"/>
<circle cx="392.5" cy="427.1" r="2.3"/>
<circle cx="396.9" cy="428.1" r="2.3"/>
<circle cx="401.2" cy="429.1" r="2.3"/>
<circle cx="405.6" cy="430.2" r="2.3"/>
<circle cx="409.9" cy="431.7" r="2.3"/>
<circle cx="414.3" cy="433.4" r="2.3"/>
<circle cx="418.6" cy="435.7" r="2.3"/>
<circle cx="423" cy="438.4" r="2.3"/>
<circle cx="427.3" cy="441" r="2.3"/>
<circle cx="388.2" cy="432" r="2.2"/>
<circle cx="392.8" cy="434.8" r="2.2"/>
<circle cx="397.3" cy="435.4" r="2.2"/>
<circle cx="401.9" cy="436.7" r="2.2"/>
<circle cx="406.4" cy="439.1" r="2.2"/>
<circle cx="411" cy="441" r="2.2"/>
<circle cx="390" cy="439" r="2.1"/>
<circle cx="394.3" cy="438.5" r="2.1"/>
<circle cx="398.7" cy="438.9" r="2.1"/>
<circle cx="403" cy="440.5" r="2.1"/>
<circle cx="455" cy="438.5" r="2.4"/>
<circle cx="459.1" cy="435.4" r="2.4"/>
<circle cx="463.3" cy="431.9" r="2.4"/>
<circle cx="467.4" cy="428.4" r="2.4"/>
<circle cx="471.6" cy="425.5" r="2.4"/>
<circle cx="475.7" cy="423.7" r="2.4"/>
<circle cx="479.9" cy="422.8" r="2.4"/>
<circle cx="484" cy="422.2" r="2.4"/>
<circle cx="488.1" cy="421.6" r="2.4"/>
<circle cx="492.3" cy="421.1" r="2.4"/>
<circle cx="496.4" cy="420.1" r="2.4"/>
<circle cx="500.6" cy="418.9" r="2.4"/>
<circle cx="504.7" cy="417.5" r="2.4"/>
<circle cx="462" cy="437" r="2.3"/>
<circle cx="466.3" cy="432.9" r="2.3"/>
<circle cx="470.5" cy="430.8" r="2.3"/>
<circle cx="474.8" cy="430" r="2.3"/>
<circle cx="479.1" cy="429.4" r="2.3"/>
<circle cx="483.4" cy="428.9" r="2.3"/>
<circle cx="487.6" cy="427.9" r="2.3"/>
<circle cx="491.9" cy="426.8" r="2.3"/>
<circle cx="496.2" cy="425.7" r="2.3"/>
<circle cx="500.4" cy="424.7" r="2.3"/>
<circle cx="504.7" cy="424" r="2.3"/>
<circle cx="472" cy="439" r="2.2"/>
<circle cx="476.1" cy="437.2" r="2.2"/>
<circle cx="480.2" cy="435.7" r="2.2"/>
<circle cx="484.3" cy="435.1" r="2.2"/>
<circle cx="488.4" cy="434.7" r="2.2"/>
<circle cx="492.4" cy="434.3" r="2.2"/>
<circle cx="496.5" cy="433.6" r="2.2"/>
<circle cx="500.6" cy="432.2" r="2.2"/>
<circle cx="504.7" cy="431" r="2.2"/>
<circle cx="484" cy="439.2" r="2.1"/>
<circle cx="488.1" cy="438.4" r="2.1"/>
<circle cx="492.3" cy="437.9" r="2.1"/>
<circle cx="496.4" cy="437.6" r="2.1"/>
<circle cx="500.6" cy="437.3" r="2.1"/>
<circle cx="504.7" cy="437" r="2.1"/>
<circle cx="500.7" cy="419" r="2"/>
<circle cx="500.7" cy="421.9" r="2"/>
<circle cx="500.7" cy="424.8" r="2"/>
<circle cx="500.7" cy="427.6" r="2"/>
<circle cx="500.7" cy="430.5" r="2"/>
<circle cx="500.7" cy="433.4" r="2"/>
<circle cx="500.7" cy="436.2" r="2"/>
<circle cx="500.7" cy="439.1" r="2"/>
<circle cx="500.7" cy="442" r="2"/>
<circle cx="504.7" cy="418" r="2"/>
<circle cx="504.7" cy="421" r="2"/>
<circle cx="504.7" cy="424" r="2"/>
<circle cx="504.7" cy="427" r="2"/>
<circle cx="504.7" cy="430" r="2"/>
<circle cx="504.7" cy="433" r="2"/>
<circle cx="504.7" cy="436" r="2"/>
<circle cx="504.7" cy="439" r="2"/>
<circle cx="504.7" cy="442" r="2"/>
<circle cx="377.8" cy="444" r="0.9"/>
<circle cx="383.8" cy="444.3" r="0.9"/>
<circle cx="389.9" cy="444.8" r="0.9"/>
<circle cx="395.9" cy="445.6" r="0.9"/>
<circle cx="402" cy="445.9" r="0.9"/>
<circle cx="408" cy="445.4" r="0.9"/>
<circle cx="414.1" cy="444.1" r="0.9"/>
<circle cx="420.1" cy="442.7" r="0.9"/>
<circle cx="426.1" cy="441.7" r="0.9"/>
<circle cx="432.2" cy="440.7" r="0.9"/>
<circle cx="438.2" cy="439.9" r="0.9"/>
<circle cx="444.3" cy="439.8" r="0.9"/>
<circle cx="450.3" cy="439.8" r="0.9"/>
<circle cx="456.4" cy="439" r="0.9"/>
<circle cx="462.4" cy="438.9" r="0.9"/>
<circle cx="468.4" cy="439.6" r="0.9"/>
<circle cx="474.5" cy="440.7" r="0.9"/>
<circle cx="480.5" cy="441.9" r="0.9"/>
<circle cx="486.6" cy="442.5" r="0.9"/>
<circle cx="492.6" cy="443" r="0.9"/>
<circle cx="498.7" cy="443.4" r="0.9"/>
<circle cx="504.7" cy="443.8" r="0.9"/>
<circle cx="380.8" cy="448.5" r="0.9"/>
<circle cx="386.9" cy="448.9" r="0.9"/>
<circle cx="392.9" cy="449.7" r="0.9"/>
<circle cx="398.9" cy="450.2" r="0.9"/>
<circle cx="405" cy="450.2" r="0.9"/>
<circle cx="411" cy="449.2" r="0.9"/>
<circle cx="417.1" cy="447.8" r="0.9"/>
<circle cx="423.1" cy="446.6" r="0.9"/>
<circle cx="429.2" cy="445.6" r="0.9"/>
<circle cx="435.2" cy="444.7" r="0.9"/>
<circle cx="441.2" cy="444.2" r="0.9"/>
<circle cx="447.3" cy="444.2" r="0.9"/>
<circle cx="453.3" cy="443.9" r="0.9"/>
<circle cx="459.4" cy="443.2" r="0.9"/>
<circle cx="465.4" cy="443.6" r="0.9"/>
<circle cx="471.5" cy="444.5" r="0.9"/>
<circle cx="477.5" cy="445.8" r="0.9"/>
<circle cx="483.6" cy="446.7" r="0.9"/>
<circle cx="489.6" cy="447.2" r="0.9"/>
<circle cx="495.6" cy="447.6" r="0.9"/>
<circle cx="501.7" cy="448" r="0.9"/>
<circle cx="377.8" cy="452.8" r="0.9"/>
<circle cx="383.8" cy="453.1" r="0.9"/>
<circle cx="389.9" cy="453.6" r="0.9"/>
<circle cx="395.9" cy="454.4" r="0.9"/>
<circle cx="402" cy="454.7" r="0.9"/>
<circle cx="408" cy="454.2" r="0.9"/>
<circle cx="414.1" cy="452.9" r="0.9"/>
<circle cx="420.1" cy="451.5" r="0.9"/>
<circle cx="426.1" cy="450.5" r="0.9"/>
<circle cx="432.2" cy="449.5" r="0.9"/>
<circle cx="438.2" cy="448.7" r="0.9"/>
<circle cx="444.3" cy="448.6" r="0.9"/>
<circle cx="450.3" cy="448.6" r="0.9"/>
<circle cx="456.4" cy="447.8" r="0.9"/>
<circle cx="462.4" cy="447.7" r="0.9"/>
<circle cx="468.4" cy="448.4" r="0.9"/>
<circle cx="474.5" cy="449.5" r="0.9"/>
<circle cx="480.5" cy="450.7" r="0.9"/>
<circle cx="486.6" cy="451.3" r="0.9"/>
<circle cx="492.6" cy="451.8" r="0.9"/>
<circle cx="498.7" cy="452.2" r="0.9"/>
<circle cx="504.7" cy="452.6" r="0.9"/>
<circle cx="380.8" cy="457.3" r="0.9"/>
<circle cx="386.9" cy="457.7" r="0.9"/>
<circle cx="392.9" cy="458.5" r="0.9"/>
<circle cx="398.9" cy="459" r="0.9"/>
<circle cx="405" cy="459" r="0.9"/>
<circle cx="411" cy="458" r="0.9"/>
<circle cx="417.1" cy="456.6" r="0.9"/>
<circle cx="423.1" cy="455.4" r="0.9"/>
<circle cx="429.2" cy="454.4" r="0.9"/>
<circle cx="435.2" cy="453.5" r="0.9"/>
<circle cx="441.2" cy="453" r="0.9"/>
<circle cx="447.3" cy="453" r="0.9"/>
<circle cx="453.3" cy="452.7" r="0.9"/>
<circle cx="459.4" cy="452" r="0.9"/>
<circle cx="465.4" cy="452.4" r="0.9"/>
<circle cx="471.5" cy="453.3" r="0.9"/>
<circle cx="477.5" cy="454.6" r="0.9"/>
<circle cx="483.6" cy="455.5" r="0.9"/>
<circle cx="489.6" cy="456" r="0.9"/>
<circle cx="495.6" cy="456.4" r="0.9"/>
<circle cx="501.7" cy="456.8" r="0.9"/>
<circle cx="377.8" cy="461.6" r="0.9"/>
<circle cx="383.8" cy="461.9" r="0.9"/>
<circle cx="389.9" cy="462.4" r="0.9"/>
<circle cx="395.9" cy="463.2" r="0.9"/>
<circle cx="402" cy="463.5" r="0.9"/>
<circle cx="408" cy="463" r="0.9"/>
<circle cx="414.1" cy="461.7" r="0.9"/>
<circle cx="420.1" cy="460.3" r="0.9"/>
<circle cx="426.1" cy="459.3" r="0.9"/>
<circle cx="432.2" cy="458.3" r="0.9"/>
<circle cx="438.2" cy="457.5" r="0.9"/>
<circle cx="444.3" cy="457.4" r="0.9"/>
<circle cx="450.3" cy="457.4" r="0.9"/>
<circle cx="456.4" cy="456.6" r="0.9"/>
<circle cx="462.4" cy="456.5" r="0.9"/>
<circle cx="468.4" cy="457.2" r="0.9"/>
<circle cx="474.5" cy="458.3" r="0.9"/>
<circle cx="480.5" cy="459.5" r="0.9"/>
<circle cx="486.6" cy="460.1" r="0.9"/>
<circle cx="492.6" cy="460.6" r="0.9"/>
<circle cx="498.7" cy="461" r="0.9"/>
<circle cx="504.7" cy="461.4" r="0.9"/>
<circle cx="377.8" cy="320.5" r="0.8"/>
<circle cx="377.8" cy="329.6" r="0.8"/>
<circle cx="377.8" cy="338.7" r="0.8"/>
<circle cx="377.8" cy="347.8" r="0.8"/>
<circle cx="377.8" cy="357" r="0.8"/>
<circle cx="380.5" cy="326.8" r="0.8"/>
<circle cx="380.5" cy="336.2" r="0.8"/>
<circle cx="380.5" cy="345.6" r="0.8"/>
<circle cx="380.5" cy="355" r="0.8"/>
<circle cx="383.2" cy="323.7" r="0.8"/>
<circle cx="383.2" cy="333.3" r="0.8"/>
<circle cx="383.2" cy="343" r="0.8"/>
<circle cx="383.2" cy="352.6" r="0.8"/>
<circle cx="385.9" cy="320.5" r="0.8"/>
<circle cx="385.9" cy="330.1" r="0.8"/>
<circle cx="385.9" cy="339.7" r="0.8"/>
<circle cx="385.9" cy="349.2" r="0.8"/>
<circle cx="388.6" cy="326.5" r="0.8"/>
<circle cx="388.6" cy="335.5" r="0.8"/>
<circle cx="388.6" cy="344.5" r="0.8"/>
<circle cx="391.3" cy="323.4" r="0.8"/>
<circle cx="391.3" cy="332.3" r="0.8"/>
<circle cx="391.3" cy="341.1" r="0.8"/>
<circle cx="394" cy="320.5" r="0.8"/>
<circle cx="394" cy="329.1" r="0.8"/>
<circle cx="394" cy="337.7" r="0.8"/>
<circle cx="396.7" cy="326.6" r="0.8"/>
<circle cx="396.7" cy="335.7" r="0.8"/>
<circle cx="399.4" cy="323.4" r="0.8"/>
<circle cx="399.4" cy="332" r="0.8"/>
<circle cx="402.1" cy="320.5" r="0.8"/>
<circle cx="402.1" cy="329.7" r="0.8"/>
<circle cx="404.8" cy="327.1" r="0.8"/>
<circle cx="404.8" cy="337.1" r="0.8"/>
<circle cx="407.5" cy="323.4" r="0.8"/>
<circle cx="407.5" cy="332.3" r="0.8"/>
<circle cx="410.2" cy="320.5" r="0.8"/>
<circle cx="410.2" cy="329.8" r="0.8"/>
<circle cx="410.2" cy="339.1" r="0.8"/>
<circle cx="412.9" cy="326.8" r="0.8"/>
<circle cx="412.9" cy="336.3" r="0.8"/>
<circle cx="415.6" cy="323.6" r="0.8"/>
<circle cx="415.6" cy="332.8" r="0.8"/>
<circle cx="418.3" cy="320.5" r="0.8"/>
<circle cx="418.3" cy="329.4" r="0.8"/>
<circle cx="418.3" cy="338.4" r="0.8"/>
<circle cx="421" cy="326.3" r="0.8"/>
<circle cx="421" cy="335.1" r="0.8"/>
<circle cx="423.7" cy="323.4" r="0.8"/>
<circle cx="423.7" cy="331.9" r="0.8"/>
<circle cx="426.4" cy="320.5" r="0.8"/>
<circle cx="426.4" cy="330.6" r="0.8"/>
<circle cx="429.1" cy="327.2" r="0.8"/>
<circle cx="429.1" cy="337.3" r="0.8"/>
<circle cx="431.8" cy="323.4" r="0.8"/>
<circle cx="431.8" cy="331.9" r="0.8"/>
<circle cx="434.5" cy="320.5" r="0.8"/>
<circle cx="434.5" cy="329.3" r="0.8"/>
<circle cx="434.5" cy="338" r="0.8"/>
<circle cx="437.2" cy="326.5" r="0.8"/>
<circle cx="437.2" cy="335.4" r="0.8"/>
<circle cx="439.9" cy="323.5" r="0.8"/>
<circle cx="439.9" cy="332.4" r="0.8"/>
<circle cx="442.6" cy="320.5" r="0.8"/>
<circle cx="442.6" cy="329.2" r="0.8"/>
<circle cx="442.6" cy="337.9" r="0.8"/>
<circle cx="445.3" cy="327.3" r="0.8"/>
<circle cx="445.3" cy="337.4" r="0.8"/>
<circle cx="448" cy="323.8" r="0.8"/>
<circle cx="448" cy="333.8" r="0.8"/>
<circle cx="450.7" cy="320.5" r="0.8"/>
<circle cx="450.7" cy="330.3" r="0.8"/>
<circle cx="453.4" cy="326.9" r="0.8"/>
<circle cx="453.4" cy="336.6" r="0.8"/>
<circle cx="456.1" cy="323.7" r="0.8"/>
<circle cx="456.1" cy="333.2" r="0.8"/>
<circle cx="458.8" cy="320.5" r="0.8"/>
<circle cx="458.8" cy="329.8" r="0.8"/>
<circle cx="461.5" cy="326.5" r="0.8"/>
<circle cx="461.5" cy="335.6" r="0.8"/>
<circle cx="464.2" cy="323.4" r="0.8"/>
<circle cx="464.2" cy="332.3" r="0.8"/>
<circle cx="466.9" cy="320.5" r="0.8"/>
<circle cx="466.9" cy="329.3" r="0.8"/>
<circle cx="469.6" cy="326.5" r="0.8"/>
<circle cx="469.6" cy="335.6" r="0.8"/>
<circle cx="472.3" cy="323.7" r="0.8"/>
<circle cx="472.3" cy="333.1" r="0.8"/>
<circle cx="475" cy="320.5" r="0.8"/>
<circle cx="475" cy="330.5" r="0.8"/>
<circle cx="477.7" cy="326.3" r="0.8"/>
<circle cx="477.7" cy="335" r="0.8"/>
<circle cx="480.4" cy="323.5" r="0.8"/>
<circle cx="480.4" cy="332.6" r="0.8"/>
<circle cx="483.1" cy="320.5" r="0.8"/>
<circle cx="483.1" cy="330" r="0.8"/>
<circle cx="483.1" cy="339.6" r="0.8"/>
<circle cx="485.8" cy="326.4" r="0.8"/>
<circle cx="485.8" cy="335.1" r="0.8"/>
<circle cx="488.5" cy="323.4" r="0.8"/>
<circle cx="488.5" cy="332.1" r="0.8"/>
<circle cx="488.5" cy="340.9" r="0.8"/>
<circle cx="491.2" cy="320.5" r="0.8"/>
<circle cx="491.2" cy="330.1" r="0.8"/>
<circle cx="491.2" cy="339.6" r="0.8"/>
<circle cx="491.2" cy="349.2" r="0.8"/>
<circle cx="493.9" cy="326.6" r="0.8"/>
<circle cx="493.9" cy="335.7" r="0.8"/>
<circle cx="493.9" cy="344.8" r="0.8"/>
<circle cx="496.6" cy="323.6" r="0.8"/>
<circle cx="496.6" cy="332.9" r="0.8"/>
<circle cx="496.6" cy="342.2" r="0.8"/>
<circle cx="496.6" cy="351.4" r="0.8"/>
<circle cx="499.3" cy="320.5" r="0.8"/>
<circle cx="499.3" cy="329.8" r="0.8"/>
<circle cx="499.3" cy="339.2" r="0.8"/>
<circle cx="499.3" cy="348.5" r="0.8"/>
<circle cx="502" cy="326.7" r="0.8"/>
<circle cx="502" cy="336.1" r="0.8"/>
<circle cx="502" cy="345.5" r="0.8"/>
<circle cx="504.7" cy="323.6" r="0.8"/>
<circle cx="504.7" cy="333.1" r="0.8"/>
<circle cx="504.7" cy="342.6" r="0.8"/>
<circle cx="504.7" cy="352" r="0.8"/>
<circle cx="377.8" cy="356" r="0.8"/>
<circle cx="377.8" cy="365" r="0.8"/>
<circle cx="377.8" cy="374" r="0.8"/>
<circle cx="380.2" cy="361.3" r="0.8"/>
<circle cx="380.2" cy="370.7" r="0.8"/>
<circle cx="382.6" cy="356.9" r="0.8"/>
<circle cx="382.6" cy="365.5" r="0.8"/>
<circle cx="382.6" cy="374.1" r="0.8"/>
<circle cx="385" cy="353" r="0.8"/>
<circle cx="385" cy="362" r="0.8"/>
<circle cx="385" cy="371" r="0.8"/>
<circle cx="387.4" cy="358.2" r="0.8"/>
<circle cx="387.4" cy="367.6" r="0.8"/>
<circle cx="387.4" cy="377" r="0.8"/>
<circle cx="485" cy="345" r="0.8"/>
<circle cx="485" cy="353.5" r="0.8"/>
<circle cx="485" cy="362" r="0.8"/>
<circle cx="487.5" cy="351.3" r="0.8"/>
<circle cx="487.5" cy="360.8" r="0.8"/>
<circle cx="489.9" cy="348" r="0.8"/>
<circle cx="489.9" cy="357" r="0.8"/>
<circle cx="489.9" cy="366" r="0.8"/>
<circle cx="492.4" cy="345" r="0.8"/>
<circle cx="492.4" cy="353.6" r="0.8"/>
<circle cx="492.4" cy="362.2" r="0.8"/>
<circle cx="494.9" cy="351.2" r="0.8"/>
<circle cx="494.9" cy="360.6" r="0.8"/>
<circle cx="494.9" cy="369.9" r="0.8"/>
<circle cx="497.3" cy="348" r="0.8"/>
<circle cx="497.3" cy="356.9" r="0.8"/>
<circle cx="497.3" cy="365.8" r="0.8"/>
<circle cx="499.8" cy="345" r="0.8"/>
<circle cx="499.8" cy="354.5" r="0.8"/>
<circle cx="499.8" cy="364" r="0.8"/>
<circle cx="499.8" cy="373.5" r="0.8"/>
<circle cx="502.2" cy="351" r="0.8"/>
<circle cx="502.2" cy="360.1" r="0.8"/>
<circle cx="502.2" cy="369.2" r="0.8"/>
<circle cx="504.7" cy="347.9" r="0.8"/>
<circle cx="504.7" cy="356.6" r="0.8"/>
<circle cx="504.7" cy="365.4" r="0.8"/>
<circle cx="504.7" cy="374.1" r="0.8"/>
<circle cx="398.8" cy="351.1" r="0.8"/>
<circle cx="406" cy="346.7" r="0.8"/>
<circle cx="413.2" cy="346.3" r="0.8"/>
<circle cx="420.4" cy="348" r="0.8"/>
<circle cx="427.6" cy="350.5" r="0.8"/>
<circle cx="434.8" cy="353.9" r="0.8"/>
<circle cx="442" cy="357.3" r="0.8"/>
<circle cx="449.1" cy="362.1" r="0.8"/>
<circle cx="456.3" cy="365.6" r="0.8"/>
<circle cx="463.5" cy="369.6" r="0.8"/>
<circle cx="470.7" cy="370.6" r="0.8"/>
<circle cx="477.9" cy="367.6" r="0.8"/>
<circle cx="485.1" cy="363.9" r="0.8"/>
<circle cx="387.4" cy="358.5" r="0.8"/>
<circle cx="394.5" cy="359.6" r="0.8"/>
<circle cx="401.7" cy="361.2" r="0.8"/>
<circle cx="408.8" cy="362.6" r="0.8"/>
<circle cx="416" cy="363" r="0.8"/>
<circle cx="423.1" cy="362.4" r="0.8"/>
<circle cx="430.3" cy="360.5" r="0.8"/>
<circle cx="437.4" cy="358.4" r="0.8"/>
<circle cx="444.6" cy="354.3" r="0.8"/>
<circle cx="451.7" cy="349.3" r="0.8"/>
<circle cx="458.9" cy="347.6" r="0.8"/>
<circle cx="466" cy="347.1" r="0.8"/>
<circle cx="473.2" cy="347.4" r="0.8"/>
<circle cx="480.3" cy="348.3" r="0.8"/>
<circle cx="487.5" cy="350.3" r="0.8"/>
<circle cx="494.6" cy="353" r="0.8"/>
<circle cx="405" cy="363" r="0.8"/>
<circle cx="412.2" cy="366" r="0.8"/>
<circle cx="419.3" cy="368.1" r="0.8"/>
<circle cx="426.5" cy="370.7" r="0.8"/>
<circle cx="433.7" cy="373.6" r="0.8"/>
<circle cx="440.9" cy="374.8" r="0.8"/>
<circle cx="448" cy="373.7" r="0.8"/>
<circle cx="455.2" cy="369.5" r="0.8"/>
<circle cx="450" cy="337" r="0.8"/>
<circle cx="455.6" cy="338.8" r="0.8"/>
<circle cx="461.2" cy="341.6" r="0.8"/>
<circle cx="466.8" cy="344" r="0.8"/>
<circle cx="472.4" cy="346" r="0.8"/>
<circle cx="478" cy="348" r="0.8"/>
<circle cx="387.4" cy="353.6" r="0.8"/>
<circle cx="392" cy="354" r="0.8"/>
<circle cx="396.5" cy="354.7" r="0.8"/>
<circle cx="387.4" cy="367" r="0.8"/>
<circle cx="391.9" cy="367.3" r="0.8"/>
<circle cx="396.5" cy="367.8" r="0.8"/>
</g>
</g>
<line x1="387.50" y1="320.50" x2="387.50" y2="461.70" stroke="#444" stroke-width="1.0" stroke-dasharray="2.2,2.7"/>
<line x1="441.10" y1="320.50" x2="441.10" y2="461.70" stroke="#999" stroke-width="1.0" stroke-dasharray="2.2,2.7"/>
<line x1="450.60" y1="320.50" x2="450.60" y2="461.70" stroke="#999" stroke-width="1.0" stroke-dasharray="2.2,2.7"/>
<rect x="377.80" y="320.50" width="126.90" height="141.20" fill="none" stroke="#7d7d7d" stroke-width="1.15"/>
<line x1="377.80" y1="333.10" x2="380.80" y2="333.10" stroke="#666" stroke-width="0.9" />
<text x="374.90" y="337.00" font-size="11" text-anchor="end" font-weight="normal" font-style="normal" fill="#000" font-family="'Liberation Sans', sans-serif" >3</text>
<line x1="377.80" y1="357.50" x2="380.80" y2="357.50" stroke="#666" stroke-width="0.9" />
<text x="374.90" y="361.40" font-size="11" text-anchor="end" font-weight="normal" font-style="normal" fill="#000" font-family="'Liberation Sans', sans-serif" >2</text>
<line x1="377.80" y1="381.90" x2="380.80" y2="381.90" stroke="#666" stroke-width="0.9" />
<text x="374.90" y="385.80" font-size="11" text-anchor="end" font-weight="normal" font-style="normal" fill="#000" font-family="'Liberation Sans', sans-serif" >1</text>
<line x1="377.80" y1="406.30" x2="380.80" y2="406.30" stroke="#666" stroke-width="0.9" />
<text x="374.90" y="410.20" font-size="11" text-anchor="end" font-weight="normal" font-style="normal" fill="#000" font-family="'Liberation Sans', sans-serif" >0</text>
<line x1="377.80" y1="430.70" x2="380.80" y2="430.70" stroke="#666" stroke-width="0.9" />
<text x="374.90" y="434.60" font-size="11" text-anchor="end" font-weight="normal" font-style="normal" fill="#000" font-family="'Liberation Sans', sans-serif" >-1</text>
<line x1="377.80" y1="455.10" x2="380.80" y2="455.10" stroke="#666" stroke-width="0.9" />
<text x="374.90" y="459.00" font-size="11" text-anchor="end" font-weight="normal" font-style="normal" fill="#000" font-family="'Liberation Sans', sans-serif" >-2</text>
<text x="377.80" y="475.50" font-size="16.5" text-anchor="middle" font-weight="normal" font-style="normal" fill="#000" font-family="'Liberation Serif', serif" >Γ</text>
<text x="388.30" y="475.50" font-size="15" text-anchor="middle" font-weight="normal" font-style="normal" fill="#000" font-family="'Liberation Sans', sans-serif" >X</text>
<text x="440.40" y="475.50" font-size="15" text-anchor="middle" font-weight="normal" font-style="normal" fill="#000" font-family="'Liberation Sans', sans-serif" >S</text>
<text x="450.40" y="475.50" font-size="15" text-anchor="middle" font-weight="normal" font-style="normal" fill="#000" font-family="'Liberation Sans', sans-serif" >Y</text>
<text x="504.20" y="475.50" font-size="16.5" text-anchor="middle" font-weight="normal" font-style="normal" fill="#000" font-family="'Liberation Serif', serif" >Γ</text>
<text x="386.90" y="315.00" font-size="11.6" text-anchor="start" font-weight="normal" font-style="normal" fill="#000" font-family="'Liberation Sans', sans-serif" >Ge</text>
<circle cx="407.70" cy="311.90" r="3.40" fill="#12c98a" />
<text x="418.40" y="315.00" font-size="11.6" text-anchor="start" font-weight="normal" font-style="normal" fill="#000" font-family="'Liberation Sans', sans-serif" >O</text>
<circle cx="432.20" cy="311.90" r="3.40" fill="#f5706f" />
<text x="442.50" y="315.00" font-size="11.6" text-anchor="start" font-weight="normal" font-style="normal" fill="#000" font-family="'Liberation Sans', sans-serif" >Hf</text>
<circle cx="460.90" cy="311.90" r="3.40" fill="#fdbf00" />
<text x="469.20" y="315.00" font-size="11.6" text-anchor="start" font-weight="normal" font-style="normal" fill="#000" font-family="'Liberation Sans', sans-serif" >Se</text>
<circle cx="489.50" cy="311.90" r="3.40" fill="#7b7f7f" />
<text transform="translate(360.60,391.00) rotate(-90)" x="0" y="0" font-size="16.1" text-anchor="middle" font-family="'Liberation Sans', sans-serif"><tspan font-style="italic">E</tspan>-<tspan font-style="italic">E</tspan><tspan font-size="10.5" dy="3.4">Fermi</tspan><tspan dy="-3.4">(eV)</tspan></text>
<line x1="504.10" y1="374.90" x2="504.10" y2="419.80" stroke="#000" stroke-width="1.0" />
<polyline points="500.90,378.10 504.10,375.20 507.30,378.10" fill="none" stroke="#000" stroke-width="1"/>
<polyline points="500.90,416.60 504.10,419.50 507.30,416.60" fill="none" stroke="#000" stroke-width="1"/>
<text x="486.00" y="406.40" font-size="11.5" text-anchor="start" font-weight="normal" font-style="normal" fill="#000" font-family="'Liberation Sans', sans-serif" >1.7</text>
</svg></div></body></html>
